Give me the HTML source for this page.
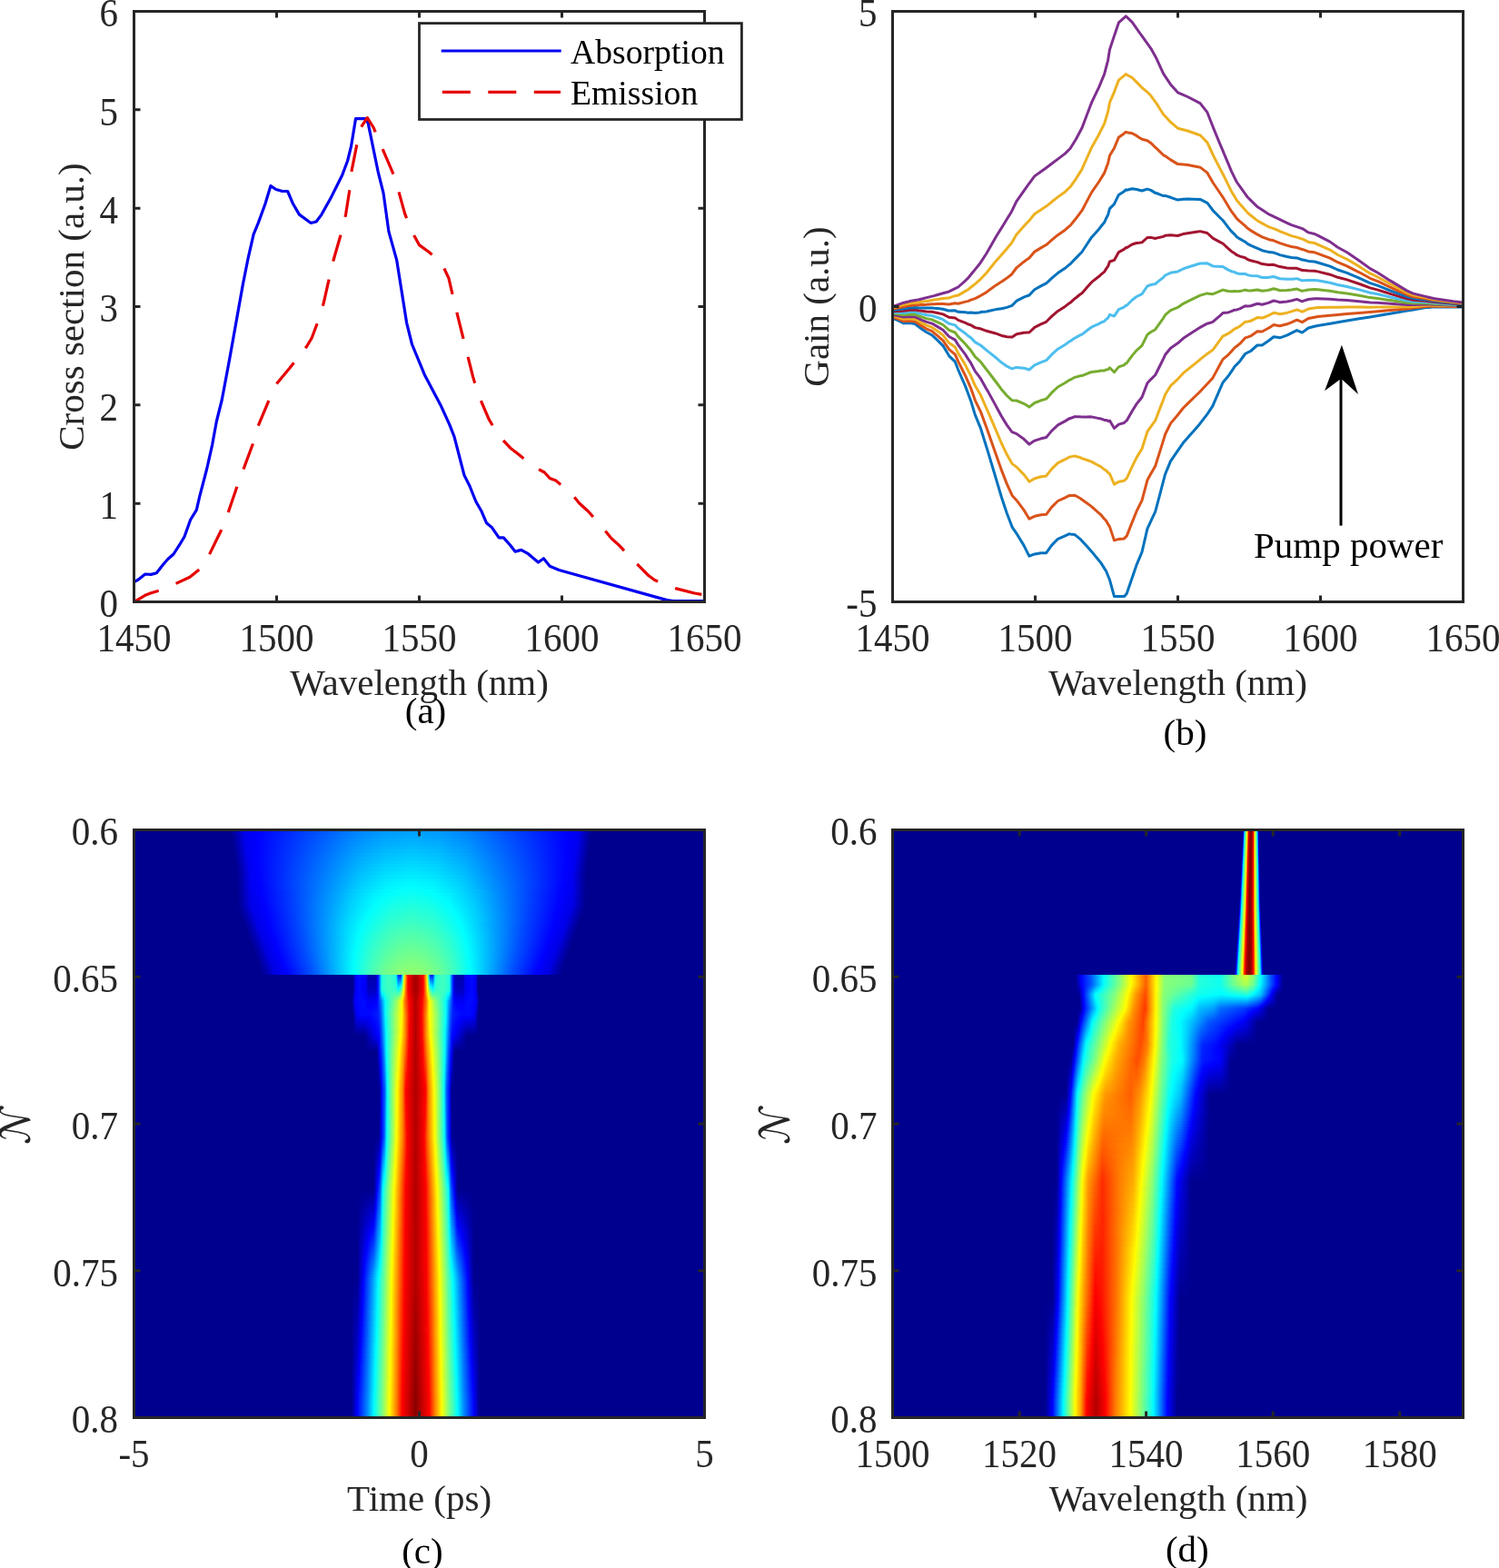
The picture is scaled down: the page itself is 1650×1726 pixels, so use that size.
<!DOCTYPE html>
<html><head><meta charset="utf-8"><title>figure</title>
<style>
html,body{margin:0;padding:0;background:#fff}
body{width:1650px;height:1726px;position:relative;overflow:hidden}
.hm{position:absolute;background:#00008f;overflow:hidden}
.hm i{position:absolute;display:block}
svg{position:absolute;left:0;top:0}
</style></head><body>
<div class="hm" style="left:147px;top:913px;width:629px;height:648px">
<i style="left:107px;top:0px;width:398px;height:6px;background:linear-gradient(90deg,#00008f 0.5px,#00a 5.5px,#0000ef 15.5px,#00f 29.5px,#0081ff 135.5px,#009aff 168.5px,#00a2ff 198.5px,#009aff 229.5px,#0081ff 262.5px,#00f 368.5px,#0000ef 382.5px,#00a 392.5px,#00008f 397.5px)"></i>
<i style="left:108px;top:6px;width:396px;height:4px;background:linear-gradient(90deg,#00008f 0.5px,#0000b3 6.5px,#00e 14.5px,#00f 27.5px,#0087ff 134.5px,#00a1ff 167.5px,#00a9ff 197.5px,#00a1ff 227.5px,#08f 260.5px,#00f 368.5px,#00e 381.5px,#0000b3 389.5px,#00008f 395.5px)"></i>
<i style="left:109px;top:10px;width:394px;height:4px;background:linear-gradient(90deg,#000091 0.5px,#0000f1 14.5px,#00f 26.5px,#008dff 134.5px,#00a7ff 166.5px,#00afff 196.5px,#00a7ff 226.5px,#008dff 259.5px,#00f 367.5px,#0000f1 379.5px,#000091 393.5px)"></i>
<i style="left:109px;top:14px;width:394px;height:4px;background:linear-gradient(90deg,#00008f 0.5px,#0000b3 6.5px,#00e 14.5px,#00f 26.5px,#0092ff 134.5px,#00acff 166.5px,#00b5ff 196.5px,#00adff 226.5px,#0093ff 258.5px,#00f 367.5px,#00e 379.5px,#0000b3 387.5px,#00008f 393.5px)"></i>
<i style="left:110px;top:18px;width:392px;height:4px;background:linear-gradient(90deg,#000090 0.5px,#0000f2 14.5px,#00f 25.5px,#0097ff 133.5px,#00b2ff 165.5px,#0bf 195.5px,#00b3ff 225.5px,#0098ff 257.5px,#00f 366.5px,#0000f2 377.5px,#000090 391.5px)"></i>
<i style="left:110px;top:22px;width:392px;height:4px;background:linear-gradient(90deg,#00008f 0.5px,#0000b3 6.5px,#0000ef 14.5px,#00f 25.5px,#009cff 134.5px,#00b9ff 166.5px,#00c2ff 195.5px,#00b9ff 225.5px,#009cff 257.5px,#00f 366.5px,#0000ef 377.5px,#0000b3 385.5px,#00008f 391.5px)"></i>
<i style="left:111px;top:26px;width:390px;height:4px;background:linear-gradient(90deg,#000090 0.5px,#0000f2 14.5px,#00f 24.5px,#00a1ff 133.5px,#00beff 165.5px,#00c8ff 194.5px,#00bfff 223.5px,#00a2ff 255.5px,#00f 365.5px,#0000f2 375.5px,#000090 389.5px)"></i>
<i style="left:111px;top:30px;width:390px;height:4px;background:linear-gradient(90deg,#00008f 0.5px,#0000b3 6.5px,#0000ef 14.5px,#00f 24.5px,#00a7ff 134.5px,#00c4ff 165.5px,#00ceff 194.5px,#00c5ff 223.5px,#00a7ff 255.5px,#00f 365.5px,#0000ef 375.5px,#0000b3 383.5px,#00008f 389.5px)"></i>
<i style="left:112px;top:34px;width:388px;height:4px;background:linear-gradient(90deg,#000090 0.5px,#0000bd 7.5px,#0000f2 14.5px,#00f 23.5px,#00adff 134.5px,#00caff 164.5px,#00d4ff 193.5px,#00cbff 222.5px,#00adff 253.5px,#00f 364.5px,#0000f2 373.5px,#0000bd 380.5px,#000090 387.5px)"></i>
<i style="left:112px;top:38px;width:388px;height:4px;background:linear-gradient(90deg,#00008f 0.5px,#0000b2 6.5px,#0000ef 14.5px,#0001ff 24.5px,#00b1ff 134.5px,#00d1ff 165.5px,#00dbff 193.5px,#00d1ff 222.5px,#00b3ff 252.5px,#0001ff 363.5px,#0000ef 373.5px,#0000b2 381.5px,#00008f 387.5px)"></i>
<i style="left:113px;top:42px;width:386px;height:4px;background:linear-gradient(90deg,#000090 0.5px,#0000bc 7.5px,#0000f2 14.5px,#00f 23.5px,#00b7ff 134.5px,#00d6ff 164.5px,#00e1ff 192.5px,#00d6ff 221.5px,#00b7ff 251.5px,#00f 362.5px,#0000f2 371.5px,#0000bc 378.5px,#000090 385.5px)"></i>
<i style="left:113px;top:46px;width:386px;height:4px;background:linear-gradient(90deg,#00008f 0.5px,#0000b2 6.5px,#00e 14.5px,#0000fe 23.5px,#00bcff 134.5px,#00dcff 164.5px,#00e7ff 192.5px,#0df 220.5px,#00bdff 250.5px,#0000fe 362.5px,#00e 371.5px,#0000b2 379.5px,#00008f 385.5px)"></i>
<i style="left:113px;top:50px;width:386px;height:4px;background:linear-gradient(90deg,#00008f 0.5px,#00a 5.5px,#0000f2 15.5px,#00f 24.5px,#00c2ff 135.5px,#00e2ff 164.5px,#00edff 192.5px,#00e3ff 220.5px,#00c2ff 250.5px,#00f 361.5px,#0000f2 370.5px,#00a 380.5px,#00008f 385.5px)"></i>
<i style="left:113px;top:54px;width:386px;height:4px;background:linear-gradient(90deg,#00008f 0.5px,#0000b0 6.5px,#0000f1 15.5px,#0001ff 25.5px,#00c6ff 135.5px,#00e8ff 164.5px,#00f3ff 192.5px,#00e9ff 220.5px,#00c8ff 249.5px,#0001ff 360.5px,#0000f1 370.5px,#0000b0 379.5px,#00008f 385.5px)"></i>
<i style="left:114px;top:58px;width:384px;height:4px;background:linear-gradient(90deg,#000090 0.5px,#0000bc 7.5px,#0000f0 14.5px,#00f 24.5px,#0cf 135.5px,#0ef 164.5px,#00faff 191.5px,#00efff 218.5px,#00ceff 247.5px,#00f 359.5px,#0000f0 369.5px,#0000bc 376.5px,#000090 383.5px)"></i>
<i style="left:114px;top:62px;width:384px;height:4px;background:linear-gradient(90deg,#000090 0.5px,#0000ba 7.5px,#00e 14.5px,#00f 25.5px,#00d2ff 136.5px,#00f5ff 165.5px,#01fffe 191.5px,#00f6ff 217.5px,#00d4ff 246.5px,#00f 358.5px,#00e 369.5px,#0000ba 376.5px,#000090 383.5px)"></i>
<i style="left:114px;top:66px;width:384px;height:4px;background:linear-gradient(90deg,#00008f 0.5px,#0000b9 7.5px,#0000ed 14.5px,#0001ff 26.5px,#03f 54.5px,#00cdff 130.5px,#00f2ff 156.5px,#03fffc 175.5px,#07fff8 193.5px,#00feff 213.5px,#00e4ff 238.5px,#00b5ff 266.5px,#0037ff 327.5px,#0001ff 357.5px,#0000ed 369.5px,#0000b9 376.5px,#00008f 383.5px)"></i>
<i style="left:114px;top:70px;width:384px;height:4px;background:linear-gradient(90deg,#00008f 0.5px,#0000b8 7.5px,#0000ea 14.5px,#0001ff 27.5px,#0037ff 56.5px,#00cbff 127.5px,#00f0ff 150.5px,#02fffd 166.5px,#0dfff2 192.5px,#02fffd 218.5px,#00efff 234.5px,#00beff 263.5px,#0039ff 326.5px,#0001ff 356.5px,#0000ea 369.5px,#0000b8 376.5px,#00008f 383.5px)"></i>
<i style="left:114px;top:74px;width:384px;height:4px;background:linear-gradient(90deg,#00008f 0.5px,#0000b6 7.5px,#0000e8 14.5px,#0000fe 27.5px,#0036ff 56.5px,#00cdff 126.5px,#00efff 146.5px,#02fffd 160.5px,#0ffff0 176.5px,#13ffec 192.5px,#0ffff0 207.5px,#02fffd 223.5px,#00f8ff 231.5px,#00c3ff 262.5px,#003aff 325.5px,#0001ff 355.5px,#0000e8 369.5px,#0000b6 376.5px,#00008f 383.5px)"></i>
<i style="left:114px;top:78px;width:384px;height:4px;background:linear-gradient(90deg,#00008f 0.5px,#0000ae 6.5px,#0000e6 14.5px,#0000fe 28.5px,#003aff 58.5px,#00cfff 125.5px,#00f3ff 145.5px,#03fffc 156.5px,#15ffea 175.5px,#1affe5 193.5px,#13ffec 210.5px,#00fdff 231.5px,#00c9ff 261.5px,#003cff 324.5px,#0001ff 354.5px,#0000ea 368.5px,#0000ae 377.5px,#00008f 383.5px)"></i>
<i style="left:114px;top:82px;width:384px;height:4px;background:linear-gradient(90deg,#00008f 0.5px,#0000ad 6.5px,#0000e8 15.5px,#0000fe 29.5px,#003bff 59.5px,#00d2ff 125.5px,#03fffc 152.5px,#19ffe6 172.5px,#20ffdf 192.5px,#19ffe6 211.5px,#00fdff 234.5px,#0cf 261.5px,#003fff 322.5px,#0001ff 353.5px,#0000e8 368.5px,#0000ad 377.5px,#00008f 383.5px)"></i>
<i style="left:115px;top:86px;width:382px;height:3px;background:linear-gradient(90deg,#00008f 0.5px,#0000ac 6.5px,#0000e8 15.5px,#00f 29.5px,#003eff 60.5px,#00d3ff 123.5px,#03fffc 148.5px,#1dffe2 170.5px,#25ffda 191.5px,#1cffe3 212.5px,#00feff 235.5px,#00d1ff 259.5px,#003eff 321.5px,#00f 352.5px,#0000e8 366.5px,#0000ac 375.5px,#00008f 381.5px)"></i>
<i style="left:116px;top:89px;width:380px;height:3px;background:linear-gradient(90deg,#00008f 0.5px,#0000ac 6.5px,#0000e8 15.5px,#00f 29.5px,#0040ff 60.5px,#00d5ff 122.5px,#01fffe 144.5px,#20ffdf 168.5px,#2affd5 190.5px,#20ffdf 212.5px,#00feff 236.5px,#00d3ff 258.5px,#0040ff 319.5px,#00f 350.5px,#0000e8 364.5px,#0000ac 373.5px,#00008f 379.5px)"></i>
<i style="left:117px;top:92px;width:378px;height:3px;background:linear-gradient(90deg,#00008f 0.5px,#0000ac 6.5px,#0000e7 15.5px,#00f 29.5px,#0041ff 60.5px,#00d7ff 121.5px,#01fffe 141.5px,#24ffdb 166.5px,#2fffd0 189.5px,#23ffdc 212.5px,#00feff 237.5px,#00caff 262.5px,#0038ff 321.5px,#00f 348.5px,#0000e7 362.5px,#0000ac 371.5px,#00008f 377.5px)"></i>
<i style="left:119px;top:95px;width:374px;height:3px;background:linear-gradient(90deg,#000091 0.5px,#0000b8 7.5px,#0000e7 14.5px,#0001ff 28.5px,#0043ff 59.5px,#00dcff 120.5px,#03fffc 138.5px,#27ffd8 163.5px,#3fc 187.5px,#26ffd9 211.5px,#00feff 237.5px,#00cbff 260.5px,#003cff 317.5px,#0001ff 345.5px,#0000e7 359.5px,#0000b8 366.5px,#000091 373.5px)"></i>
<i style="left:120px;top:98px;width:372px;height:3px;background:linear-gradient(90deg,#000091 0.5px,#0000b7 7.5px,#0000e7 14.5px,#0001ff 28.5px,#003bff 55.5px,#00d2ff 114.5px,#02fffd 135.5px,#2bffd4 161.5px,#38ffc7 186.5px,#2bffd4 210.5px,#0ff 237.5px,#00cdff 259.5px,#0040ff 314.5px,#0001ff 343.5px,#0000e7 357.5px,#0000b7 364.5px,#000091 371.5px)"></i>
<i style="left:121px;top:101px;width:370px;height:3px;background:linear-gradient(90deg,#000090 0.5px,#0000b7 7.5px,#0000e7 14.5px,#0000fe 27.5px,#003eff 56.5px,#00d1ff 112.5px,#01fffe 132.5px,#2fffd0 160.5px,#3dffc2 185.5px,#2effd1 210.5px,#00feff 238.5px,#0041ff 312.5px,#0000fe 342.5px,#0000e7 355.5px,#0000b7 362.5px,#000090 369.5px)"></i>
<i style="left:122px;top:104px;width:368px;height:3px;background:linear-gradient(90deg,#000090 0.5px,#0000b6 7.5px,#0000e7 14.5px,#0000fe 27.5px,#0040ff 56.5px,#00d6ff 112.5px,#02fffd 130.5px,#32ffcd 158.5px,#41ffbe 184.5px,#31ffce 210.5px,#00feff 238.5px,#0042ff 310.5px,#0000fe 340.5px,#0000e7 353.5px,#0000b6 360.5px,#000090 367.5px)"></i>
<i style="left:123px;top:107px;width:366px;height:3px;background:linear-gradient(90deg,#000090 0.5px,#0000b6 7.5px,#0000e6 14.5px,#00f 27.5px,#0041ff 56.5px,#00d7ff 111.5px,#02fffd 128.5px,#36ffc9 157.5px,#42ffbd 170.5px,#46ffb9 183.5px,#41ffbe 196.5px,#35ffca 209.5px,#0ff 238.5px,#0043ff 308.5px,#00f 338.5px,#0000e6 351.5px,#0000b6 358.5px,#000090 365.5px)"></i>
<i style="left:124px;top:110px;width:364px;height:3px;background:linear-gradient(90deg,#000090 0.5px,#0000b5 7.5px,#0000e6 14.5px,#00f 27.5px,#0042ff 56.5px,#00dcff 111.5px,#03fffc 126.5px,#39ffc6 155.5px,#47ffb8 169.5px,#4affb5 182.5px,#46ffb9 195.5px,#38ffc7 209.5px,#0ff 238.5px,#0047ff 305.5px,#00f 336.5px,#0000e6 349.5px,#0000b5 356.5px,#000090 363.5px)"></i>
<i style="left:125px;top:113px;width:362px;height:3px;background:linear-gradient(90deg,#000090 0.5px,#0000b5 7.5px,#0000e5 14.5px,#00f 27.5px,#0043ff 56.5px,#0df 110.5px,#03fffc 124.5px,#26ffd9 140.5px,#3dffc2 154.5px,#4bffb4 168.5px,#4fffb0 181.5px,#4affb5 194.5px,#3cffc3 208.5px,#24ffdb 222.5px,#0ff 238.5px,#0049ff 303.5px,#00f 334.5px,#0000e5 347.5px,#0000b5 354.5px,#000090 361.5px)"></i>
<i style="left:126px;top:116px;width:360px;height:3px;background:linear-gradient(90deg,#000090 0.5px,#0000b4 7.5px,#0000e5 14.5px,#00f 27.5px,#0047ff 57.5px,#00deff 109.5px,#03fffc 122.5px,#28ffd7 138.5px,#40ffbf 152.5px,#4fffb0 166.5px,#54ffab 180.5px,#4fffb0 193.5px,#40ffbf 207.5px,#25ffda 222.5px,#0ff 238.5px,#004aff 301.5px,#00f 332.5px,#0000e5 345.5px,#0000b4 352.5px,#000090 359.5px)"></i>
<i style="left:127px;top:119px;width:358px;height:3px;background:linear-gradient(90deg,#000090 0.5px,#0000b4 7.5px,#0000e4 14.5px,#00f 27.5px,#0048ff 57.5px,#02fffd 120.5px,#29ffd6 136.5px,#4fb 151.5px,#53ffac 165.5px,#58ffa7 179.5px,#53ffac 193.5px,#42ffbd 207.5px,#29ffd6 221.5px,#0ff 238.5px,#004bff 299.5px,#00f 330.5px,#0000e4 343.5px,#0000b4 350.5px,#000090 357.5px)"></i>
<i style="left:128px;top:122px;width:356px;height:3px;background:linear-gradient(90deg,#000090 0.5px,#0000b3 7.5px,#0000e4 14.5px,#00f 27.5px,#004aff 57.5px,#02fffd 118.5px,#2affd5 134.5px,#46ffb9 149.5px,#57ffa8 163.5px,#5dffa2 177.5px,#58ffa7 191.5px,#48ffb7 205.5px,#2cffd3 220.5px,#02fffd 237.5px,#004aff 298.5px,#00f 328.5px,#0000e4 341.5px,#0000b3 348.5px,#000090 355.5px)"></i>
<i style="left:129px;top:125px;width:354px;height:3px;background:linear-gradient(90deg,#00008f 0.5px,#0000b3 7.5px,#0000e3 14.5px,#0000fe 27.5px,#004eff 58.5px,#01fffe 116.5px,#2dffd2 133.5px,#4affb5 148.5px,#5cffa3 162.5px,#62ff9d 176.5px,#5cffa3 190.5px,#4affb5 205.5px,#2dffd2 220.5px,#01fffe 237.5px,#004eff 295.5px,#0000fe 326.5px,#0000e3 339.5px,#0000b3 346.5px,#00008f 353.5px)"></i>
<i style="left:130px;top:128px;width:352px;height:3px;background:linear-gradient(90deg,#00008f 0.5px,#0000b2 7.5px,#0000e2 14.5px,#0000fe 27.5px,#004cff 57.5px,#03fffc 115.5px,#30ffcf 132.5px,#4effb1 147.5px,#61ff9e 162.5px,#6f9 176.5px,#60ff9f 190.5px,#4effb1 204.5px,#30ffcf 219.5px,#0ff 237.5px,#004fff 293.5px,#0000fe 324.5px,#0000e2 337.5px,#0000b2 344.5px,#00008f 351.5px)"></i>
<i style="left:131px;top:131px;width:350px;height:3px;background:linear-gradient(90deg,#00008f 0.5px,#0000ac 6.5px,#0000e6 15.5px,#0000fe 27.5px,#004dff 57.5px,#01fffe 113.5px,#3fc 131.5px,#52ffad 146.5px,#64ff9b 160.5px,#6bff94 174.5px,#65ff9a 188.5px,#52ffad 203.5px,#3fc 218.5px,#01fffe 236.5px,#004dff 292.5px,#0000fe 322.5px,#0000e6 334.5px,#0000ac 343.5px,#00008f 349.5px)"></i>
<i style="left:132px;top:134px;width:348px;height:3px;background:linear-gradient(90deg,#00008f 0.5px,#0000ab 6.5px,#0000e6 15.5px,#0001ff 28.5px,#004eff 57.5px,#03fffc 112.5px,#36ffc9 130.5px,#56ffa9 145.5px,#6aff95 160.5px,#70ff8f 174.5px,#69ff96 188.5px,#54ffab 203.5px,#3fc 218.5px,#0ff 236.5px,#0054ff 288.5px,#0001ff 319.5px,#0000e6 332.5px,#0000ab 341.5px,#00008f 347.5px)"></i>
<i style="left:133px;top:137px;width:346px;height:3px;background:linear-gradient(90deg,#00008f 0.5px,#0000ab 6.5px,#0000e5 15.5px,#0001ff 28.5px,#0052ff 58.5px,#01fffe 110.5px,#36ffc9 128.5px,#58ffa7 143.5px,#6dff92 158.5px,#74ff8b 172.5px,#6eff91 186.5px,#5affa5 201.5px,#36ffc9 217.5px,#01fffe 235.5px,#0052ff 287.5px,#0001ff 317.5px,#0000e5 330.5px,#0000ab 339.5px,#00008f 345.5px)"></i>
<i style="left:134px;top:140px;width:344px;height:3px;background:linear-gradient(90deg,#00008f 0.5px,#00a 6.5px,#0000e4 15.5px,#0001ff 28.5px,#0053ff 58.5px,#02fffd 109.5px,#39ffc6 127.5px,#5effa1 143.5px,#73ff8c 158.5px,#79ff86 172.5px,#72ff8d 186.5px,#5cffa3 201.5px,#39ffc6 216.5px,#00feff 235.5px,#0056ff 284.5px,#0001ff 315.5px,#0000e4 328.5px,#00a 337.5px,#00008f 343.5px)"></i>
<i style="left:135px;top:143px;width:342px;height:3px;background:linear-gradient(90deg,#00008f 0.5px,#00a 6.5px,#0000e4 15.5px,#00f 28.5px,#0051ff 57.5px,#04fffb 108.5px,#3bffc4 126.5px,#61ff9e 142.5px,#7f8 157.5px,#7eff81 171.5px,#76ff89 185.5px,#5fffa0 200.5px,#39ffc6 216.5px,#0ff 234.5px,#0054ff 283.5px,#00f 313.5px,#0000e4 326.5px,#00a 335.5px,#00008f 341.5px)"></i>
<i style="left:137px;top:146px;width:338px;height:3px;background:linear-gradient(90deg,#000091 0.5px,#0000b4 7.5px,#0000e3 14.5px,#00f 27.5px,#05f 57.5px,#01fffe 105.5px,#3bffc4 123.5px,#63ff9c 139.5px,#7bff84 154.5px,#82ff7d 168.5px,#7cff83 182.5px,#65ff9a 197.5px,#3effc1 213.5px,#01fffe 232.5px,#05f 280.5px,#00f 310.5px,#0000e3 323.5px,#0000b4 330.5px,#000091 337.5px)"></i>
<i style="left:138px;top:149px;width:336px;height:3px;background:linear-gradient(90deg,#000091 0.5px,#0000b4 7.5px,#0000e2 14.5px,#0000fe 27.5px,#0052ff 56.5px,#02fffd 104.5px,#3effc1 122.5px,#67ff98 138.5px,#7fff80 153.5px,#87ff78 167.5px,#80ff7f 181.5px,#69ff96 196.5px,#41ffbe 212.5px,#02fffd 231.5px,#0052ff 279.5px,#0000fe 308.5px,#0000e2 321.5px,#0000b4 328.5px,#000091 335.5px)"></i>
<i style="left:139px;top:152px;width:334px;height:3px;background:linear-gradient(90deg,#000091 0.5px,#0000b3 7.5px,#0000e2 14.5px,#0000fe 27.5px,#0021ff 40.5px,#0053ff 56.5px,#03fffc 103.5px,#43ffbc 122.5px,#6dff92 138.5px,#85ff7a 153.5px,#8cff73 167.5px,#83ff7c 181.5px,#6aff95 196.5px,#43ffbc 211.5px,#00feff 231.5px,#0057ff 276.5px,#0024ff 292.5px,#0000fe 306.5px,#0000e2 319.5px,#0000b3 326.5px,#000091 333.5px)"></i>
<i style="left:139px;top:155px;width:334px;height:3px;background:linear-gradient(90deg,#00008f 0.5px,#0000a9 6.5px,#0000e1 15.5px,#0001ff 29.5px,#0054ff 57.5px,#03fffc 103.5px,#45ffba 122.5px,#70ff8f 138.5px,#89ff76 153.5px,#90ff6f 167.5px,#8f7 181.5px,#6eff91 196.5px,#42ffbd 212.5px,#0ff 231.5px,#005bff 274.5px,#0001ff 304.5px,#0000e1 318.5px,#0000a9 327.5px,#00008f 333.5px)"></i>
<i style="left:140px;top:158px;width:332px;height:2px;background:linear-gradient(90deg,#00008f 0.5px,#0000b0 7.5px,#0000de 14.5px,#0001ff 29.5px,#05f 57.5px,#04fffb 102.5px,#47ffb8 121.5px,#73ff8c 137.5px,#8dff72 152.5px,#94ff6b 166.5px,#8bff74 180.5px,#71ff8e 195.5px,#4fb 211.5px,#0ff 230.5px,#0059ff 273.5px,#0001ff 302.5px,#0000de 317.5px,#0000b0 324.5px,#00008f 331.5px)"></i>
<i style="left:241px;top:160px;width:139px;height:1px;background:linear-gradient(90deg,#00008f 0.5px,#0000f4 3.5px,#0000fe 5.5px,#0009ff 7.5px,#00f 10.5px,#0000f4 14.5px,#0000ae 17.5px,#0000ae 25.5px,#0000f4 27.5px,#0027ff 28.5px,#0059ff 29.5px,#00dfff 31.5px,#23ffdc 32.5px,#41ffbe 39.5px,#23ffdc 47.5px,#00ceff 48.5px,#0027ff 50.5px,#0027ff 53.5px,#00adff 54.5px,#36ffc9 55.5px,#c0ff3f 56.5px,#ffda00 57.5px,#ff1d00 60.5px,#f70000 61.5px,#b20000 67.5px,#a80000 69.5px,#b20000 71.5px,#f70000 77.5px,#ff1d00 78.5px,#ffda00 81.5px,#c0ff3f 82.5px,#36ffc9 83.5px,#00adff 84.5px,#0027ff 85.5px,#0027ff 88.5px,#00ceff 90.5px,#23ffdc 91.5px,#41ffbe 99.5px,#23ffdc 106.5px,#00dfff 107.5px,#0059ff 109.5px,#0027ff 110.5px,#0000f4 111.5px,#0000ae 113.5px,#0000ae 121.5px,#0000f4 124.5px,#00f 128.5px,#0009ff 131.5px,#0000fe 133.5px,#0000f4 135.5px,#00008f 138.5px)"></i>
<i style="left:241px;top:161px;width:139px;height:1px;background:linear-gradient(90deg,#00008f 0.5px,#0000f4 3.5px,#0000fe 5.5px,#0009ff 7.5px,#00f 10.5px,#0000f4 14.5px,#0000ae 17.5px,#0000ae 25.5px,#0000f4 27.5px,#0027ff 28.5px,#0059ff 29.5px,#00dfff 31.5px,#23ffdc 32.5px,#41ffbe 39.5px,#24ffdb 47.5px,#00d1ff 48.5px,#002eff 50.5px,#0030ff 53.5px,#00b4ff 54.5px,#3bffc4 55.5px,#c2ff3d 56.5px,#ffd900 57.5px,#ff1d00 60.5px,#f70000 61.5px,#b20000 67.5px,#a80000 69.5px,#b20000 71.5px,#f70000 77.5px,#ff1d00 78.5px,#ffd900 81.5px,#c2ff3d 82.5px,#3bffc4 83.5px,#00b4ff 84.5px,#0030ff 85.5px,#002eff 88.5px,#00d1ff 90.5px,#24ffdb 91.5px,#41ffbe 99.5px,#23ffdc 106.5px,#00dfff 107.5px,#0059ff 109.5px,#0027ff 110.5px,#0000f4 111.5px,#0000ae 113.5px,#0000ae 121.5px,#0000f4 124.5px,#00f 128.5px,#0009ff 131.5px,#0000fe 133.5px,#0000f4 135.5px,#00008f 138.5px)"></i>
<i style="left:241px;top:162px;width:139px;height:1px;background:linear-gradient(90deg,#00008f 0.5px,#0000f4 3.5px,#0000fe 5.5px,#0009ff 7.5px,#00f 10.5px,#0000f4 14.5px,#0000af 17.5px,#0000af 25.5px,#0000f4 27.5px,#0027ff 28.5px,#0059ff 29.5px,#00dfff 31.5px,#23ffdc 32.5px,#41ffbe 39.5px,#25ffda 47.5px,#00d7ff 48.5px,#003dff 50.5px,#0043ff 53.5px,#00c2ff 54.5px,#4fb 55.5px,#c6ff39 56.5px,#ffd700 57.5px,#ff1d00 60.5px,#f70000 61.5px,#b20000 67.5px,#a80000 69.5px,#b20000 71.5px,#f70000 77.5px,#ff1d00 78.5px,#ffd700 81.5px,#c6ff39 82.5px,#4fb 83.5px,#00c2ff 84.5px,#0043ff 85.5px,#003dff 88.5px,#00d7ff 90.5px,#25ffda 91.5px,#41ffbe 99.5px,#23ffdc 106.5px,#00dfff 107.5px,#0059ff 109.5px,#0027ff 110.5px,#0000f4 111.5px,#0000af 113.5px,#0000af 121.5px,#0000f4 124.5px,#00f 128.5px,#0009ff 131.5px,#0000fe 133.5px,#0000f4 135.5px,#00008f 138.5px)"></i>
<i style="left:241px;top:163px;width:139px;height:1px;background:linear-gradient(90deg,#00008f 0.5px,#0000f4 3.5px,#0000fe 5.5px,#0009ff 7.5px,#00f 10.5px,#0000f4 14.5px,#0000b1 17.5px,#0000b1 25.5px,#0000f4 27.5px,#0027ff 28.5px,#0059ff 29.5px,#00dfff 31.5px,#23ffdc 32.5px,#41ffbe 39.5px,#26ffd9 47.5px,#0df 48.5px,#004bff 50.5px,#0056ff 53.5px,#00d0ff 54.5px,#4dffb2 55.5px,#cbff34 56.5px,#ffd500 57.5px,#ff1c00 60.5px,#f70000 61.5px,#b20000 67.5px,#a80000 69.5px,#b20000 71.5px,#f70000 77.5px,#ff1c00 78.5px,#ffd500 81.5px,#cbff34 82.5px,#4dffb2 83.5px,#00d0ff 84.5px,#0056ff 85.5px,#004bff 88.5px,#0df 90.5px,#26ffd9 91.5px,#41ffbe 99.5px,#23ffdc 106.5px,#00dfff 107.5px,#0059ff 109.5px,#0027ff 110.5px,#0000f4 111.5px,#0000b1 113.5px,#0000b1 121.5px,#0000f4 124.5px,#00f 128.5px,#0009ff 131.5px,#0000fe 133.5px,#0000f4 135.5px,#00008f 138.5px)"></i>
<i style="left:241px;top:164px;width:139px;height:1px;background:linear-gradient(90deg,#00008f 0.5px,#0000f4 3.5px,#0000fe 5.5px,#0009ff 7.5px,#00f 10.5px,#0000f4 14.5px,#0000b2 17.5px,#0000b2 25.5px,#0000f4 27.5px,#0027ff 28.5px,#0059ff 29.5px,#00dfff 31.5px,#23ffdc 32.5px,#41ffbe 39.5px,#27ffd8 47.5px,#00e2ff 48.5px,#005aff 50.5px,#0069ff 53.5px,#00deff 54.5px,#56ffa9 55.5px,#cfff30 56.5px,#ffd300 57.5px,#ff1c00 60.5px,#f70000 61.5px,#b20000 67.5px,#a80000 69.5px,#b20000 71.5px,#f70000 77.5px,#ff1c00 78.5px,#ffd300 81.5px,#cfff30 82.5px,#56ffa9 83.5px,#00deff 84.5px,#0069ff 85.5px,#005aff 88.5px,#00e2ff 90.5px,#27ffd8 91.5px,#41ffbe 99.5px,#23ffdc 106.5px,#00dfff 107.5px,#0059ff 109.5px,#0027ff 110.5px,#0000f4 111.5px,#0000b2 113.5px,#0000b2 121.5px,#0000f4 124.5px,#00f 128.5px,#0009ff 131.5px,#0000fe 133.5px,#0000f4 135.5px,#00008f 138.5px)"></i>
<i style="left:241px;top:165px;width:139px;height:1px;background:linear-gradient(90deg,#00008f 0.5px,#0000f4 3.5px,#0000fe 5.5px,#0009ff 7.5px,#00f 10.5px,#0000f4 14.5px,#0000b3 17.5px,#0000b3 25.5px,#0000f4 27.5px,#0027ff 28.5px,#0059ff 29.5px,#00dfff 31.5px,#23ffdc 32.5px,#41ffbe 39.5px,#29ffd6 47.5px,#00e8ff 48.5px,#0068ff 50.5px,#007cff 53.5px,#00ecff 54.5px,#60ff9f 55.5px,#d3ff2c 56.5px,#ffd100 57.5px,#ff1c00 60.5px,#f70000 61.5px,#b20000 67.5px,#a80000 69.5px,#b20000 71.5px,#f70000 77.5px,#ff1c00 78.5px,#ffd100 81.5px,#d3ff2c 82.5px,#60ff9f 83.5px,#00ecff 84.5px,#007cff 85.5px,#0068ff 88.5px,#00e8ff 90.5px,#29ffd6 91.5px,#41ffbe 99.5px,#23ffdc 106.5px,#00dfff 107.5px,#0059ff 109.5px,#0027ff 110.5px,#0000f4 111.5px,#0000b3 113.5px,#0000b3 121.5px,#0000f4 124.5px,#00f 128.5px,#0009ff 131.5px,#0000fe 133.5px,#0000f4 135.5px,#00008f 138.5px)"></i>
<i style="left:241px;top:166px;width:139px;height:1px;background:linear-gradient(90deg,#00008f 0.5px,#0000f4 3.5px,#0000fe 5.5px,#0009ff 7.5px,#00f 10.5px,#0000f4 14.5px,#0000b4 17.5px,#0000b4 25.5px,#0000f4 27.5px,#0027ff 28.5px,#0059ff 29.5px,#00dfff 31.5px,#23ffdc 32.5px,#41ffbe 39.5px,#2affd5 47.5px,#00edff 48.5px,#0076ff 50.5px,#008fff 53.5px,#00fbff 54.5px,#d8ff27 56.5px,#ffcf00 57.5px,#ff1b00 60.5px,#f70000 61.5px,#b20000 67.5px,#a80000 69.5px,#b20000 71.5px,#f70000 77.5px,#ff1b00 78.5px,#ffcf00 81.5px,#d8ff27 82.5px,#00fbff 84.5px,#008fff 85.5px,#0076ff 88.5px,#00edff 90.5px,#2affd5 91.5px,#41ffbe 99.5px,#23ffdc 106.5px,#00dfff 107.5px,#0059ff 109.5px,#0027ff 110.5px,#0000f4 111.5px,#0000b4 113.5px,#0000b4 121.5px,#0000f4 124.5px,#00f 128.5px,#0009ff 131.5px,#0000fe 133.5px,#0000f4 135.5px,#00008f 138.5px)"></i>
<i style="left:241px;top:167px;width:139px;height:1px;background:linear-gradient(90deg,#00008f 0.5px,#0000f4 3.5px,#0000fe 5.5px,#0009ff 7.5px,#00f 10.5px,#0000f4 14.5px,#0000b6 17.5px,#0000b6 25.5px,#0000f4 27.5px,#0027ff 28.5px,#0059ff 29.5px,#00dfff 31.5px,#23ffdc 32.5px,#41ffbe 39.5px,#2bffd4 47.5px,#00f3ff 48.5px,#0085ff 50.5px,#00a1ff 53.5px,#0afff5 54.5px,#dcff23 56.5px,#ffcd00 57.5px,#ff1b00 60.5px,#f70000 61.5px,#b20000 67.5px,#a80000 69.5px,#b20000 71.5px,#f70000 77.5px,#ff1b00 78.5px,#ffcd00 81.5px,#dcff23 82.5px,#0afff5 84.5px,#00a1ff 85.5px,#0085ff 88.5px,#00f3ff 90.5px,#2bffd4 91.5px,#41ffbe 99.5px,#23ffdc 106.5px,#00dfff 107.5px,#0059ff 109.5px,#0027ff 110.5px,#0000f4 111.5px,#0000b6 113.5px,#0000b6 121.5px,#0000f4 124.5px,#00f 128.5px,#0009ff 131.5px,#0000fe 133.5px,#0000f4 135.5px,#00008f 138.5px)"></i>
<i style="left:241px;top:168px;width:139px;height:1px;background:linear-gradient(90deg,#00008f 0.5px,#0000f4 3.5px,#0000fe 5.5px,#0009ff 7.5px,#00f 10.5px,#0000f4 14.5px,#0000b7 17.5px,#0000b7 25.5px,#0000f4 27.5px,#0027ff 28.5px,#0059ff 29.5px,#00dfff 31.5px,#23ffdc 32.5px,#41ffbe 39.5px,#2cffd3 47.5px,#00f9ff 48.5px,#0093ff 50.5px,#00b4ff 53.5px,#18ffe7 54.5px,#e0ff1f 56.5px,#ffcb00 57.5px,#ff1a00 60.5px,#f70000 61.5px,#b20000 67.5px,#a80000 69.5px,#b20000 71.5px,#f70000 77.5px,#ff1a00 78.5px,#ffcb00 81.5px,#e0ff1f 82.5px,#18ffe7 84.5px,#00b4ff 85.5px,#0093ff 88.5px,#00f9ff 90.5px,#2cffd3 91.5px,#41ffbe 99.5px,#23ffdc 106.5px,#00dfff 107.5px,#0059ff 109.5px,#0027ff 110.5px,#0000f4 111.5px,#0000b7 113.5px,#0000b7 121.5px,#0000f4 124.5px,#00f 128.5px,#0009ff 131.5px,#0000fe 133.5px,#0000f4 135.5px,#00008f 138.5px)"></i>
<i style="left:241px;top:169px;width:139px;height:1px;background:linear-gradient(90deg,#00008f 0.5px,#0000f4 3.5px,#0000fe 5.5px,#0009ff 7.5px,#00f 10.5px,#0000f4 14.5px,#0000b8 17.5px,#0000b8 25.5px,#0000f4 27.5px,#0027ff 28.5px,#0059ff 29.5px,#00dfff 31.5px,#23ffdc 32.5px,#41ffbe 39.5px,#2effd1 47.5px,#00feff 48.5px,#00a2ff 50.5px,#00c7ff 53.5px,#26ffd9 54.5px,#e5ff1a 56.5px,#ffc900 57.5px,#ff8a00 58.5px,#ff1a00 60.5px,#f70000 61.5px,#b20000 67.5px,#a80000 69.5px,#b20000 71.5px,#f70000 77.5px,#ff1a00 78.5px,#ff8a00 80.5px,#ffc900 81.5px,#e5ff1a 82.5px,#26ffd9 84.5px,#00c7ff 85.5px,#00a2ff 88.5px,#00feff 90.5px,#2effd1 91.5px,#41ffbe 99.5px,#23ffdc 106.5px,#00dfff 107.5px,#0059ff 109.5px,#0027ff 110.5px,#0000f4 111.5px,#0000b8 113.5px,#0000b8 121.5px,#0000f4 124.5px,#00f 128.5px,#0009ff 131.5px,#0000fe 133.5px,#0000f4 135.5px,#00008f 138.5px)"></i>
<i style="left:241px;top:170px;width:139px;height:1px;background:linear-gradient(90deg,#00008f 0.5px,#0000f4 3.5px,#0000fe 5.5px,#0009ff 7.5px,#00f 10.5px,#0000f4 14.5px,#0000b9 17.5px,#0000b9 25.5px,#0000f4 27.5px,#0027ff 28.5px,#0059ff 29.5px,#00dfff 31.5px,#23ffdc 32.5px,#41ffbe 39.5px,#2fffd0 47.5px,#05fffa 48.5px,#00b0ff 50.5px,#00daff 53.5px,#34ffcb 54.5px,#e9ff16 56.5px,#ffc700 57.5px,#f80 58.5px,#ff1a00 60.5px,#f70000 61.5px,#b20000 67.5px,#a80000 69.5px,#b20000 71.5px,#f70000 77.5px,#ff1a00 78.5px,#f80 80.5px,#ffc700 81.5px,#e9ff16 82.5px,#34ffcb 84.5px,#00daff 85.5px,#00b0ff 88.5px,#05fffa 90.5px,#2fffd0 91.5px,#41ffbe 99.5px,#23ffdc 106.5px,#00dfff 107.5px,#0059ff 109.5px,#0027ff 110.5px,#0000f4 111.5px,#0000b9 113.5px,#0000b9 121.5px,#0000f4 124.5px,#00f 128.5px,#0009ff 131.5px,#0000fe 133.5px,#0000f4 135.5px,#00008f 138.5px)"></i>
<i style="left:241px;top:171px;width:139px;height:1px;background:linear-gradient(90deg,#00008f 0.5px,#0000f4 3.5px,#0000fe 5.5px,#0009ff 7.5px,#00f 10.5px,#0000f4 14.5px,#00b 17.5px,#00b 25.5px,#0000f4 27.5px,#0027ff 28.5px,#0059ff 29.5px,#00dfff 31.5px,#23ffdc 32.5px,#41ffbe 39.5px,#30ffcf 47.5px,#0bfff4 48.5px,#00e4ff 49.5px,#00bfff 50.5px,#00edff 53.5px,#42ffbd 54.5px,#edff12 56.5px,#ffc500 57.5px,#ff8600 58.5px,#ff1900 60.5px,#f70000 61.5px,#b20000 67.5px,#a80000 69.5px,#b20000 71.5px,#f70000 77.5px,#ff1900 78.5px,#ff8600 80.5px,#ffc500 81.5px,#edff12 82.5px,#42ffbd 84.5px,#00edff 85.5px,#00bfff 88.5px,#00e4ff 89.5px,#0bfff4 90.5px,#30ffcf 91.5px,#41ffbe 99.5px,#23ffdc 106.5px,#00dfff 107.5px,#0059ff 109.5px,#0027ff 110.5px,#0000f4 111.5px,#00b 113.5px,#00b 121.5px,#0000f4 124.5px,#00f 128.5px,#0009ff 131.5px,#0000fe 133.5px,#0000f4 135.5px,#00008f 138.5px)"></i>
<i style="left:241px;top:172px;width:139px;height:1px;background:linear-gradient(90deg,#00008f 0.5px,#0000f4 3.5px,#0000fe 5.5px,#0009ff 7.5px,#00f 10.5px,#0000f4 14.5px,#0000bc 17.5px,#0000bc 25.5px,#0000f4 27.5px,#0027ff 28.5px,#0059ff 29.5px,#00dfff 31.5px,#23ffdc 32.5px,#41ffbe 39.5px,#31ffce 47.5px,#10ffef 48.5px,#0ef 49.5px,#00cdff 50.5px,#01fffe 53.5px,#f2ff0d 56.5px,#ffc300 57.5px,#ff8400 58.5px,#ff1900 60.5px,#f70000 61.5px,#b20000 67.5px,#a80000 69.5px,#b20000 71.5px,#f70000 77.5px,#ff1900 78.5px,#ff8400 80.5px,#ffc300 81.5px,#f2ff0d 82.5px,#01fffe 85.5px,#00cdff 88.5px,#0ef 89.5px,#10ffef 90.5px,#31ffce 91.5px,#41ffbe 99.5px,#23ffdc 106.5px,#00dfff 107.5px,#0059ff 109.5px,#0027ff 110.5px,#0000f4 111.5px,#0000bc 113.5px,#0000bc 121.5px,#0000f4 124.5px,#00f 128.5px,#0009ff 131.5px,#0000fe 133.5px,#0000f4 135.5px,#00008f 138.5px)"></i>
<i style="left:241px;top:173px;width:139px;height:1px;background:linear-gradient(90deg,#00008f 0.5px,#0000f4 3.5px,#0000fe 5.5px,#0009ff 7.5px,#00f 10.5px,#0000f4 14.5px,#0000bd 17.5px,#0000bd 25.5px,#0000f4 27.5px,#0027ff 28.5px,#0059ff 29.5px,#00dfff 31.5px,#23ffdc 32.5px,#41ffbe 39.5px,#3fc 47.5px,#00f8ff 49.5px,#00dbff 50.5px,#01fffe 52.5px,#13ffec 53.5px,#f6ff09 56.5px,#ffc100 57.5px,#ff8200 58.5px,#ff1800 60.5px,#f70000 61.5px,#b20000 67.5px,#a80000 69.5px,#b20000 71.5px,#f70000 77.5px,#ff1800 78.5px,#ff8200 80.5px,#ffc100 81.5px,#f6ff09 82.5px,#13ffec 85.5px,#01fffe 86.5px,#00dbff 88.5px,#00f8ff 89.5px,#3fc 91.5px,#41ffbe 99.5px,#23ffdc 106.5px,#00dfff 107.5px,#0059ff 109.5px,#0027ff 110.5px,#0000f4 111.5px,#0000bd 113.5px,#0000bd 121.5px,#0000f4 124.5px,#00f 128.5px,#0009ff 131.5px,#0000fe 133.5px,#0000f4 135.5px,#00008f 138.5px)"></i>
<i style="left:241px;top:174px;width:139px;height:1px;background:linear-gradient(90deg,#00008f 0.5px,#0000f4 3.5px,#0000fe 5.5px,#0009ff 7.5px,#00f 10.5px,#0000f4 14.5px,#0000bf 17.5px,#0000bf 25.5px,#0000f4 27.5px,#0027ff 28.5px,#0059ff 29.5px,#00dfff 31.5px,#23ffdc 32.5px,#41ffbe 39.5px,#34ffcb 47.5px,#03fffc 49.5px,#00eaff 50.5px,#00feff 51.5px,#26ffd9 53.5px,#faff05 56.5px,#ff8000 58.5px,#ff1800 60.5px,#f70000 61.5px,#b20000 67.5px,#a80000 69.5px,#b20000 71.5px,#f70000 77.5px,#ff1800 78.5px,#ff8000 80.5px,#ffbf00 81.5px,#faff05 82.5px,#26ffd9 85.5px,#00feff 87.5px,#00eaff 88.5px,#03fffc 89.5px,#34ffcb 91.5px,#41ffbe 99.5px,#23ffdc 106.5px,#00dfff 107.5px,#0059ff 109.5px,#0027ff 110.5px,#0000f4 111.5px,#0000bf 113.5px,#0000bf 121.5px,#0000f4 124.5px,#00f 128.5px,#0009ff 131.5px,#0000fe 133.5px,#0000f4 135.5px,#00008f 138.5px)"></i>
<i style="left:241px;top:175px;width:139px;height:1px;background:linear-gradient(90deg,#00008f 0.5px,#0000f4 3.5px,#0000fe 5.5px,#0009ff 7.5px,#00f 10.5px,#0000f4 14.5px,#0000c0 17.5px,#0000c0 25.5px,#0000f4 27.5px,#0027ff 28.5px,#0059ff 29.5px,#00dfff 31.5px,#23ffdc 32.5px,#41ffbe 39.5px,#35ffca 47.5px,#0dfff2 49.5px,#00f8ff 50.5px,#0ffff0 51.5px,#39ffc6 53.5px,#ff0 56.5px,#ff7e00 58.5px,#ff1800 60.5px,#f70000 61.5px,#b20000 67.5px,#a80000 69.5px,#b20000 71.5px,#f70000 77.5px,#ff1800 78.5px,#ff7e00 80.5px,#ffbd00 81.5px,#ff0 82.5px,#39ffc6 85.5px,#0ffff0 87.5px,#00f8ff 88.5px,#0dfff2 89.5px,#35ffca 91.5px,#41ffbe 99.5px,#23ffdc 106.5px,#00dfff 107.5px,#0059ff 109.5px,#0027ff 110.5px,#0000f4 111.5px,#0000c0 113.5px,#0000c0 121.5px,#0000f4 124.5px,#00f 128.5px,#0009ff 131.5px,#0000fe 133.5px,#0000f4 135.5px,#00008f 138.5px)"></i>
<i style="left:241px;top:176px;width:139px;height:1px;background:linear-gradient(90deg,#00008f 0.5px,#0000f4 3.5px,#0000fe 5.5px,#0009ff 7.5px,#00f 10.5px,#0000f4 14.5px,#0000c1 17.5px,#0000c1 25.5px,#0000f4 27.5px,#0027ff 28.5px,#0059ff 29.5px,#00dfff 31.5px,#23ffdc 32.5px,#41ffbe 39.5px,#37ffc8 47.5px,#08fff7 50.5px,#4cffb3 53.5px,#fffb00 56.5px,#ff7c00 58.5px,#ff1700 60.5px,#f70000 61.5px,#b20000 67.5px,#a80000 69.5px,#b20000 71.5px,#f70000 77.5px,#ff1700 78.5px,#ff7c00 80.5px,#fffb00 82.5px,#4cffb3 85.5px,#08fff7 88.5px,#37ffc8 91.5px,#41ffbe 99.5px,#23ffdc 106.5px,#00dfff 107.5px,#0059ff 109.5px,#0027ff 110.5px,#0000f4 111.5px,#0000c1 113.5px,#0000c1 121.5px,#0000f4 124.5px,#00f 128.5px,#0009ff 131.5px,#0000fe 133.5px,#0000f4 135.5px,#00008f 138.5px)"></i>
<i style="left:241px;top:177px;width:139px;height:1px;background:linear-gradient(90deg,#000091 0.5px,#0000f4 3.5px,#0000fe 5.5px,#0009ff 7.5px,#0001ff 10.5px,#0000f4 14.5px,#0000c4 17.5px,#0000c4 25.5px,#0000f5 27.5px,#0027ff 28.5px,#0058ff 29.5px,#00dbff 31.5px,#1dffe2 32.5px,#40ffbf 39.5px,#3affc5 47.5px,#16ffe9 50.5px,#5cffa3 53.5px,#cfff30 55.5px,#fff600 56.5px,#ff7a00 58.5px,#ff1800 60.5px,#f90000 61.5px,#b30000 67.5px,#a80000 69.5px,#b30000 71.5px,#f90000 77.5px,#ff1800 78.5px,#ff7a00 80.5px,#fff600 82.5px,#cfff30 83.5px,#5cffa3 85.5px,#16ffe9 88.5px,#3affc5 91.5px,#40ffbf 99.5px,#1dffe2 106.5px,#00dbff 107.5px,#0058ff 109.5px,#0027ff 110.5px,#0000f5 111.5px,#0000c4 113.5px,#0000c4 121.5px,#0000f4 124.5px,#0001ff 128.5px,#0009ff 131.5px,#0000fe 133.5px,#0000f4 135.5px,#000091 138.5px)"></i>
<i style="left:240px;top:178px;width:141px;height:1px;background:linear-gradient(90deg,#00008f 0.5px,#000094 1.5px,#0000f4 4.5px,#00f 6.5px,#0009ff 8.5px,#0000fe 12.5px,#0000f6 15.5px,#0000c8 18.5px,#0000c9 26.5px,#0000f6 28.5px,#0027ff 29.5px,#0056ff 30.5px,#00d2ff 32.5px,#1fe 33.5px,#3fffc0 40.5px,#41ffbe 48.5px,#25ffda 51.5px,#69ff96 54.5px,#d7ff28 56.5px,#ffef00 57.5px,#ff7800 59.5px,#ff1a00 61.5px,#fb0000 62.5px,#b40000 68.5px,#a90000 70.5px,#b40000 72.5px,#fb0000 78.5px,#ff1a00 79.5px,#ff7800 81.5px,#ffef00 83.5px,#d7ff28 84.5px,#69ff96 86.5px,#25ffda 89.5px,#41ffbe 92.5px,#3fffc0 100.5px,#1fe 107.5px,#00d2ff 108.5px,#0056ff 110.5px,#0027ff 111.5px,#0000f6 112.5px,#0000c9 114.5px,#0000c8 122.5px,#0000f6 125.5px,#0000fe 128.5px,#0009ff 132.5px,#00f 134.5px,#0000f4 136.5px,#000094 139.5px,#00008f 140.5px)"></i>
<i style="left:240px;top:179px;width:141px;height:1px;background:linear-gradient(90deg,#00008f 0.5px,#000096 1.5px,#0000f5 4.5px,#00f 6.5px,#0009ff 8.5px,#00f 12.5px,#0000f7 15.5px,#00c 18.5px,#0000ce 26.5px,#0000f8 28.5px,#0054ff 30.5px,#05fffa 33.5px,#2bffd4 37.5px,#3dffc2 40.5px,#48ffb7 48.5px,#3fc 51.5px,#76ff89 54.5px,#dfff20 56.5px,#ffe800 57.5px,#ff7600 59.5px,#ff1c00 61.5px,#fe0000 62.5px,#b60000 68.5px,#a00 70.5px,#b60000 72.5px,#fe0000 78.5px,#ff1c00 79.5px,#ff7600 81.5px,#ffe800 83.5px,#dfff20 84.5px,#76ff89 86.5px,#3fc 89.5px,#48ffb7 92.5px,#3dffc2 100.5px,#2bffd4 103.5px,#05fffa 107.5px,#00c9ff 108.5px,#0054ff 110.5px,#0000f8 112.5px,#0000ce 114.5px,#00c 122.5px,#0000f7 125.5px,#00f 128.5px,#0009ff 132.5px,#00f 134.5px,#0000f5 136.5px,#000096 139.5px,#00008f 140.5px)"></i>
<i style="left:240px;top:180px;width:141px;height:1px;background:linear-gradient(90deg,#00008f 0.5px,#009 1.5px,#0000dc 3.5px,#0000f5 4.5px,#00f 6.5px,#0009ff 8.5px,#0000f8 15.5px,#0000d0 18.5px,#0000d3 26.5px,#0000fa 28.5px,#0051ff 30.5px,#00f9ff 33.5px,#05fffa 34.5px,#28ffd7 37.5px,#3bffc4 40.5px,#4fffb0 48.5px,#42ffbd 51.5px,#83ff7c 54.5px,#e8ff17 56.5px,#ffe100 57.5px,#ff7400 59.5px,#ff1e00 61.5px,#ff0100 62.5px,#f10000 63.5px,#b80000 68.5px,#ab0000 70.5px,#b80000 72.5px,#ff0100 78.5px,#ff1e00 79.5px,#ff7400 81.5px,#ffe100 83.5px,#e8ff17 84.5px,#83ff7c 86.5px,#42ffbd 89.5px,#4fffb0 92.5px,#3bffc4 100.5px,#28ffd7 103.5px,#05fffa 106.5px,#00f9ff 107.5px,#0051ff 110.5px,#0000fa 112.5px,#0000d3 114.5px,#0000d0 122.5px,#0000f8 125.5px,#0009ff 132.5px,#00f 134.5px,#0000f5 136.5px,#0000dc 137.5px,#009 139.5px,#00008f 140.5px)"></i>
<i style="left:240px;top:181px;width:141px;height:1px;background:linear-gradient(90deg,#00008f 0.5px,#00009c 1.5px,#0000df 3.5px,#0000f6 4.5px,#0001ff 6.5px,#0009ff 8.5px,#0000fd 14.5px,#0000f9 15.5px,#0000d4 18.5px,#0000d8 26.5px,#0000fb 28.5px,#004fff 30.5px,#00edff 33.5px,#00faff 34.5px,#09fff6 35.5px,#24ffdb 37.5px,#39ffc6 40.5px,#5fa 48.5px,#50ffaf 51.5px,#90ff6f 54.5px,#bcff43 55.5px,#f0ff0f 56.5px,#ffda00 57.5px,#ff7200 59.5px,#ff2100 61.5px,#ff0400 62.5px,#f20000 63.5px,#ba0000 68.5px,#ab0000 70.5px,#ba0000 72.5px,#ff0400 78.5px,#ff2100 79.5px,#ff7200 81.5px,#ffda00 83.5px,#f0ff0f 84.5px,#bcff43 85.5px,#90ff6f 86.5px,#50ffaf 89.5px,#5fa 92.5px,#39ffc6 100.5px,#24ffdb 103.5px,#00faff 106.5px,#00edff 107.5px,#004fff 110.5px,#0000fb 112.5px,#0000d8 114.5px,#0000d4 122.5px,#0000f9 125.5px,#0000fd 126.5px,#0009ff 132.5px,#0001ff 134.5px,#0000f6 136.5px,#0000df 137.5px,#00009c 139.5px,#00008f 140.5px)"></i>
<i style="left:240px;top:182px;width:141px;height:1px;background:linear-gradient(90deg,#00008f 0.5px,#00009f 1.5px,#0000e2 3.5px,#0000f6 4.5px,#0000fb 5.5px,#0009ff 8.5px,#00f 14.5px,#0000fb 15.5px,#0000d9 18.5px,#0000d9 24.5px,#00d 26.5px,#0000fd 28.5px,#004dff 30.5px,#00e1ff 33.5px,#01fffe 35.5px,#21ffde 37.5px,#38ffc7 40.5px,#5cffa3 48.5px,#5fffa0 51.5px,#9eff61 54.5px,#c6ff39 55.5px,#f8ff07 56.5px,#ffd300 57.5px,#ff7000 59.5px,#ff2300 61.5px,#ff0600 62.5px,#f40000 63.5px,#bc0000 68.5px,#ac0000 70.5px,#bc0000 72.5px,#f40000 77.5px,#ff0600 78.5px,#ff2300 79.5px,#ff7000 81.5px,#ffd300 83.5px,#f8ff07 84.5px,#c6ff39 85.5px,#9eff61 86.5px,#5fffa0 89.5px,#5cffa3 92.5px,#38ffc7 100.5px,#21ffde 103.5px,#01fffe 105.5px,#00e1ff 107.5px,#004dff 110.5px,#0000fd 112.5px,#00d 114.5px,#0000d9 116.5px,#0000d9 122.5px,#0000fb 125.5px,#00f 126.5px,#0009ff 132.5px,#0000fb 135.5px,#0000f6 136.5px,#0000e2 137.5px,#00009f 139.5px,#00008f 140.5px)"></i>
<i style="left:240px;top:183px;width:141px;height:1px;background:linear-gradient(90deg,#00008f 0.5px,#0000a2 1.5px,#0000e5 3.5px,#0000f7 4.5px,#0000fc 5.5px,#0009ff 8.5px,#0001ff 14.5px,#0000fc 15.5px,#00d 18.5px,#00d 24.5px,#0000e2 26.5px,#00f 28.5px,#004bff 30.5px,#00d5ff 33.5px,#00f9ff 35.5px,#0cfff3 36.5px,#1dffe2 37.5px,#36ffc9 40.5px,#63ff9c 48.5px,#6dff92 51.5px,#abff54 54.5px,#cfff30 55.5px,#fffd00 56.5px,#ff9800 58.5px,#ff2500 61.5px,#ff0900 62.5px,#f50000 63.5px,#bd0000 68.5px,#ad0000 70.5px,#bd0000 72.5px,#f50000 77.5px,#ff0900 78.5px,#ff2500 79.5px,#ff6e00 81.5px,#ff9800 82.5px,#fffd00 84.5px,#cfff30 85.5px,#abff54 86.5px,#6dff92 89.5px,#63ff9c 92.5px,#36ffc9 100.5px,#1dffe2 103.5px,#00f9ff 105.5px,#00d5ff 107.5px,#004bff 110.5px,#00f 112.5px,#0000e2 114.5px,#00d 116.5px,#00d 122.5px,#0000fc 125.5px,#0001ff 126.5px,#0009ff 132.5px,#0000fc 135.5px,#0000f7 136.5px,#0000e5 137.5px,#0000a2 139.5px,#00008f 140.5px)"></i>
<i style="left:240px;top:184px;width:141px;height:1px;background:linear-gradient(90deg,#00008f 0.5px,#0000a4 1.5px,#0000e7 3.5px,#0000f7 4.5px,#0000fc 5.5px,#0009ff 8.5px,#0002ff 14.5px,#0000fd 15.5px,#0000e1 18.5px,#0000e1 24.5px,#0000e7 26.5px,#0001ff 28.5px,#0049ff 30.5px,#00c9ff 33.5px,#06fff9 36.5px,#1affe5 37.5px,#34ffcb 40.5px,#7cff83 51.5px,#b8ff47 54.5px,#d9ff26 55.5px,#fff500 56.5px,#ff9300 58.5px,#ff6c00 59.5px,#ff2700 61.5px,#ff0c00 62.5px,#f60000 63.5px,#ae0000 70.5px,#f60000 77.5px,#ff0c00 78.5px,#ff2700 79.5px,#ff6c00 81.5px,#ff9300 82.5px,#fff500 84.5px,#d9ff26 85.5px,#b8ff47 86.5px,#7cff83 89.5px,#34ffcb 100.5px,#1affe5 103.5px,#06fff9 104.5px,#00f1ff 105.5px,#00c9ff 107.5px,#0049ff 110.5px,#0001ff 112.5px,#0000e7 114.5px,#0000e1 116.5px,#0000e1 122.5px,#0000fd 125.5px,#0002ff 126.5px,#0009ff 132.5px,#0000fc 135.5px,#0000f7 136.5px,#0000e7 137.5px,#0000a4 139.5px,#00008f 140.5px)"></i>
<i style="left:240px;top:185px;width:141px;height:1px;background:linear-gradient(90deg,#00008f 0.5px,#0000a7 1.5px,#0000ea 3.5px,#0000f7 4.5px,#0000fc 5.5px,#0009ff 8.5px,#00f 15.5px,#0000e5 18.5px,#0000e5 24.5px,#0000ec 26.5px,#0003ff 28.5px,#0046ff 30.5px,#00bdff 33.5px,#0ff 36.5px,#16ffe9 37.5px,#32ffcd 40.5px,#8aff75 51.5px,#c5ff3a 54.5px,#e3ff1c 55.5px,#ffec00 56.5px,#ff8e00 58.5px,#ff6a00 59.5px,#ff0e00 62.5px,#f80000 63.5px,#af0000 70.5px,#f80000 77.5px,#ff0e00 78.5px,#ff6a00 81.5px,#ff8e00 82.5px,#ffec00 84.5px,#e3ff1c 85.5px,#c5ff3a 86.5px,#8aff75 89.5px,#32ffcd 100.5px,#16ffe9 103.5px,#0ff 104.5px,#00bdff 107.5px,#0046ff 110.5px,#0003ff 112.5px,#0000ec 114.5px,#0000e5 116.5px,#0000e5 122.5px,#00f 125.5px,#0009ff 132.5px,#0000fc 135.5px,#0000f7 136.5px,#0000ea 137.5px,#0000a7 139.5px,#00008f 140.5px)"></i>
<i style="left:240px;top:186px;width:141px;height:1px;background:linear-gradient(90deg,#00008f 0.5px,#00a 1.5px,#0000ed 3.5px,#0000fd 5.5px,#0009ff 8.5px,#0001ff 15.5px,#0000e9 18.5px,#0000e9 24.5px,#0005ff 28.5px,#04f 30.5px,#00b1ff 33.5px,#00faff 36.5px,#13ffec 37.5px,#7f8 48.5px,#9f6 51.5px,#d2ff2d 54.5px,#edff12 55.5px,#ffe400 56.5px,#ff8900 58.5px,#ff6800 59.5px,#f10 62.5px,#f90000 63.5px,#b00000 70.5px,#f90000 77.5px,#f10 78.5px,#ff6800 81.5px,#ff8900 82.5px,#ffe400 84.5px,#edff12 85.5px,#d2ff2d 86.5px,#9f6 89.5px,#7f8 92.5px,#13ffec 103.5px,#00faff 104.5px,#00b1ff 107.5px,#04f 110.5px,#0005ff 112.5px,#0000e9 116.5px,#0000e9 122.5px,#0001ff 125.5px,#0009ff 132.5px,#0000fd 135.5px,#0000ed 137.5px,#00a 139.5px,#00008f 140.5px)"></i>
<i style="left:240px;top:187px;width:141px;height:1px;background:linear-gradient(90deg,#00008f 0.5px,#0000f0 3.5px,#0000fd 5.5px,#0009ff 8.5px,#0002ff 15.5px,#00e 18.5px,#00e 24.5px,#0000fe 27.5px,#0006ff 28.5px,#0062ff 31.5px,#00a6ff 33.5px,#00f4ff 36.5px,#0ffff0 37.5px,#7dff82 48.5px,#a7ff58 51.5px,#f6ff09 55.5px,#ffdc00 56.5px,#ff8300 58.5px,#ff2d00 61.5px,#fb0000 63.5px,#b00000 70.5px,#fb0000 77.5px,#ff2d00 79.5px,#ff8300 82.5px,#ffdc00 84.5px,#f6ff09 85.5px,#a7ff58 89.5px,#7dff82 92.5px,#0ffff0 103.5px,#00f4ff 104.5px,#00a6ff 107.5px,#0062ff 109.5px,#0006ff 112.5px,#0000fe 113.5px,#00e 116.5px,#00e 122.5px,#0002ff 125.5px,#0009ff 132.5px,#0000fd 135.5px,#0000f0 137.5px,#00008f 140.5px)"></i>
<i style="left:240px;top:188px;width:141px;height:1px;background:linear-gradient(90deg,#00008f 0.5px,#0000f2 3.5px,#0000fe 5.5px,#0009ff 8.5px,#0008ff 14.5px,#0003ff 15.5px,#0000f2 18.5px,#0000f2 24.5px,#0000fb 26.5px,#0008ff 28.5px,#0ef 36.5px,#0cfff3 37.5px,#84ff7b 48.5px,#fffe00 55.5px,#ff7e00 58.5px,#fc0000 63.5px,#b10000 70.5px,#fc0000 77.5px,#ff7e00 82.5px,#fffe00 85.5px,#84ff7b 92.5px,#0cfff3 103.5px,#0ef 104.5px,#0008ff 112.5px,#0000fb 114.5px,#0000f2 116.5px,#0000f2 122.5px,#0003ff 125.5px,#0008ff 126.5px,#0009ff 132.5px,#0000fe 135.5px,#0000f2 137.5px,#00008f 140.5px)"></i>
<i style="left:240px;top:189px;width:141px;height:2px;background:linear-gradient(90deg,#00008f 0.5px,#0000f0 3.5px,#0000fd 5.5px,#0008ff 7.5px,#0009ff 10.5px,#0009ff 14.5px,#00f 16.5px,#0000f5 18.5px,#0000f5 20.5px,#0000f6 24.5px,#0001ff 26.5px,#000aff 28.5px,#0058ff 31.5px,#00ebff 36.5px,#0afff5 37.5px,#89ff76 48.5px,#f3ff0c 54.5px,#fff900 55.5px,#ff7e00 58.5px,#fe0000 63.5px,#b20000 70.5px,#fe0000 77.5px,#ff7e00 82.5px,#fff900 85.5px,#f3ff0c 86.5px,#89ff76 92.5px,#0afff5 103.5px,#00ebff 104.5px,#0058ff 109.5px,#000aff 112.5px,#0001ff 114.5px,#0000f6 116.5px,#0000f5 120.5px,#0000f5 122.5px,#00f 124.5px,#0009ff 126.5px,#0008ff 133.5px,#0000fd 135.5px,#0000f0 137.5px,#00008f 140.5px)"></i>
<i style="left:240px;top:191px;width:141px;height:2px;background:linear-gradient(90deg,#00008f 0.5px,#0000ea 3.5px,#0000fc 5.5px,#0009ff 10.5px,#0009ff 14.5px,#0001ff 16.5px,#0000f8 18.5px,#0000fe 25.5px,#000cff 28.5px,#0071ff 32.5px,#00ebff 36.5px,#0afff5 37.5px,#8dff72 48.5px,#f4ff0b 54.5px,#fff900 55.5px,#ff8200 58.5px,#ff0100 63.5px,#f30000 64.5px,#b20000 70.5px,#ff0100 77.5px,#ff8200 82.5px,#fff900 85.5px,#f4ff0b 86.5px,#8dff72 92.5px,#0afff5 103.5px,#00ebff 104.5px,#0071ff 108.5px,#000cff 112.5px,#0000fe 115.5px,#0000f8 122.5px,#0009ff 126.5px,#0007ff 133.5px,#0000fc 135.5px,#0000ea 137.5px,#00008f 140.5px)"></i>
<i style="left:240px;top:193px;width:141px;height:2px;background:linear-gradient(90deg,#00008f 0.5px,#0000a6 1.5px,#0000e3 3.5px,#0000fb 5.5px,#00f 6.5px,#0009ff 10.5px,#0009ff 14.5px,#0000fe 17.5px,#0000fe 24.5px,#000fff 28.5px,#0021ff 29.5px,#006dff 32.5px,#00eaff 36.5px,#0afff5 37.5px,#91ff6e 48.5px,#f4ff0b 54.5px,#fff900 55.5px,#ff8600 58.5px,#ff0300 63.5px,#f40000 64.5px,#b20000 70.5px,#ff0300 77.5px,#ff8600 82.5px,#fff900 85.5px,#f4ff0b 86.5px,#91ff6e 92.5px,#0afff5 103.5px,#00eaff 104.5px,#006dff 108.5px,#0021ff 111.5px,#000fff 112.5px,#0000fe 116.5px,#0000fe 123.5px,#0009ff 126.5px,#0009ff 130.5px,#00f 134.5px,#0000fb 135.5px,#0000e3 137.5px,#0000a6 139.5px,#00008f 140.5px)"></i>
<i style="left:240px;top:195px;width:141px;height:2px;background:linear-gradient(90deg,#00008f 0.5px,#0000a1 1.5px,#0000dc 3.5px,#0000f9 5.5px,#0000fe 6.5px,#0009ff 10.5px,#0009ff 14.5px,#0000fd 18.5px,#0001ff 23.5px,#01f 28.5px,#0021ff 29.5px,#0069ff 32.5px,#00e9ff 36.5px,#0afff5 37.5px,#94ff6b 48.5px,#f5ff0a 54.5px,#fff900 55.5px,#ff8a00 58.5px,#ff6e00 59.5px,#ff0500 63.5px,#f50000 64.5px,#b20000 70.5px,#ff0500 77.5px,#ff8a00 82.5px,#fff900 85.5px,#f5ff0a 86.5px,#94ff6b 92.5px,#0afff5 103.5px,#00e9ff 104.5px,#0069ff 108.5px,#0021ff 111.5px,#01f 112.5px,#0001ff 117.5px,#0000fd 122.5px,#0009ff 126.5px,#0009ff 130.5px,#0000fe 134.5px,#0000f9 135.5px,#0000dc 137.5px,#0000a1 139.5px,#00008f 140.5px)"></i>
<i style="left:240px;top:197px;width:141px;height:2px;background:linear-gradient(90deg,#00008f 0.5px,#00009d 1.5px,#0000d6 3.5px,#0000f8 5.5px,#0000fc 6.5px,#0009ff 10.5px,#0001ff 20.5px,#0006ff 24.5px,#0014ff 28.5px,#0020ff 29.5px,#0065ff 32.5px,#00e8ff 36.5px,#0afff5 37.5px,#98ff67 48.5px,#f5ff0a 54.5px,#fff900 55.5px,#ff8e00 58.5px,#ff7100 59.5px,#ff0600 63.5px,#f50000 64.5px,#b20000 70.5px,#f50000 76.5px,#ff0600 77.5px,#ff8e00 82.5px,#fff900 85.5px,#f5ff0a 86.5px,#98ff67 92.5px,#0afff5 103.5px,#00e8ff 104.5px,#0065ff 108.5px,#0020ff 111.5px,#0014ff 112.5px,#0006ff 116.5px,#0001ff 120.5px,#0009ff 130.5px,#0000fc 134.5px,#0000f8 135.5px,#0000d6 137.5px,#00009d 139.5px,#00008f 140.5px)"></i>
<i style="left:240px;top:199px;width:141px;height:2px;background:linear-gradient(90deg,#00008f 0.5px,#000098 1.5px,#0000cf 3.5px,#0000f7 5.5px,#00f 7.5px,#0009ff 10.5px,#0004ff 20.5px,#0016ff 28.5px,#001fff 29.5px,#0061ff 32.5px,#00e7ff 36.5px,#0afff5 37.5px,#9cff63 48.5px,#f6ff09 54.5px,#fff900 55.5px,#ff7500 59.5px,#ff0800 63.5px,#f60000 64.5px,#b20000 70.5px,#f60000 76.5px,#ff0800 77.5px,#ff9300 82.5px,#fff900 85.5px,#f6ff09 86.5px,#9cff63 92.5px,#0afff5 103.5px,#00e7ff 104.5px,#0061ff 108.5px,#001fff 111.5px,#0016ff 112.5px,#0004ff 120.5px,#0009ff 130.5px,#00f 133.5px,#0000f7 135.5px,#0000cf 137.5px,#000098 139.5px,#00008f 140.5px)"></i>
<i style="left:240px;top:201px;width:141px;height:2px;background:linear-gradient(90deg,#00008f 0.5px,#000094 1.5px,#0000f5 5.5px,#0000fd 7.5px,#0009ff 10.5px,#0006ff 20.5px,#001eff 29.5px,#005dff 32.5px,#00e7ff 36.5px,#0afff5 37.5px,#f7ff08 54.5px,#fff900 55.5px,#ff7800 59.5px,#ff0a00 63.5px,#f70000 64.5px,#b20000 70.5px,#f70000 76.5px,#ff0a00 77.5px,#ff7800 81.5px,#fff900 85.5px,#f7ff08 86.5px,#0afff5 103.5px,#00e7ff 104.5px,#005dff 108.5px,#001eff 111.5px,#0006ff 120.5px,#0009ff 130.5px,#0000fd 133.5px,#0000f5 135.5px,#000094 139.5px,#00008f 140.5px)"></i>
<i style="left:241px;top:203px;width:139px;height:2px;background:linear-gradient(90deg,#000090 0.5px,#0000f3 4.5px,#0000fb 6.5px,#0008ff 9.5px,#0008ff 19.5px,#001dff 28.5px,#0059ff 31.5px,#00e6ff 35.5px,#0afff5 36.5px,#f7ff08 53.5px,#fff900 54.5px,#ff7b00 58.5px,#ff0c00 62.5px,#f70000 63.5px,#b20000 69.5px,#f70000 75.5px,#ff0c00 76.5px,#ff7b00 80.5px,#fff900 84.5px,#f7ff08 85.5px,#0afff5 102.5px,#00e6ff 103.5px,#0059ff 107.5px,#001dff 110.5px,#0008ff 119.5px,#0008ff 129.5px,#0000fb 132.5px,#0000f3 134.5px,#000090 138.5px)"></i>
<i style="left:241px;top:205px;width:139px;height:2px;background:linear-gradient(90deg,#00008f 0.5px,#0000eb 4.5px,#0001fd 9.5px,#0003ff 19.5px,#001bff 28.5px,#0057ff 31.5px,#00e3ff 35.5px,#07fff8 36.5px,#f8ff07 53.5px,#fff700 54.5px,#ff7c00 58.5px,#ff0b00 62.5px,#f70000 63.5px,#b20000 69.5px,#f70000 75.5px,#ff0b00 76.5px,#ff7c00 80.5px,#fff700 84.5px,#f8ff07 85.5px,#07fff8 102.5px,#00e3ff 103.5px,#0057ff 107.5px,#001bff 110.5px,#0003ff 119.5px,#0001fd 129.5px,#0000eb 134.5px,#00008f 138.5px)"></i>
<i style="left:241px;top:207px;width:139px;height:2px;background:linear-gradient(90deg,#00008f 0.5px,#0000e2 4.5px,#0000f3 9.5px,#0000f3 13.5px,#0001fe 20.5px,#0019ff 28.5px,#05f 31.5px,#04fffb 36.5px,#f9ff06 53.5px,#fff500 54.5px,#ff0a00 62.5px,#f60000 63.5px,#b20000 69.5px,#f60000 75.5px,#ff0a00 76.5px,#fff500 84.5px,#f9ff06 85.5px,#04fffb 102.5px,#00e0ff 103.5px,#05f 107.5px,#0019ff 110.5px,#0001fe 118.5px,#0000f3 125.5px,#0000f3 129.5px,#0000e2 134.5px,#00008f 138.5px)"></i>
<i style="left:241px;top:209px;width:139px;height:2px;background:linear-gradient(90deg,#00008f 0.5px,#0000da 4.5px,#0000e8 9.5px,#0000e8 13.5px,#0000fd 21.5px,#0016ff 28.5px,#0052ff 31.5px,#01fffe 36.5px,#14ffeb 37.5px,#fbff04 53.5px,#fff200 54.5px,#ff0800 62.5px,#f60000 63.5px,#b20000 69.5px,#f60000 75.5px,#ff0800 76.5px,#fff200 84.5px,#fbff04 85.5px,#14ffeb 101.5px,#01fffe 102.5px,#0052ff 107.5px,#0016ff 110.5px,#0000fd 117.5px,#0000e8 125.5px,#0000e8 129.5px,#0000da 134.5px,#00008f 138.5px)"></i>
<i style="left:241px;top:211px;width:139px;height:2px;background:linear-gradient(90deg,#00008f 0.5px,#0000d1 4.5px,#0000de 9.5px,#0000de 13.5px,#0000fd 22.5px,#0014ff 28.5px,#0023ff 29.5px,#0050ff 31.5px,#00fdff 36.5px,#13ffec 37.5px,#fcff03 53.5px,#fff000 54.5px,#ff0700 62.5px,#f50000 63.5px,#b20000 69.5px,#f50000 75.5px,#ff0700 76.5px,#fff000 84.5px,#fcff03 85.5px,#13ffec 101.5px,#00fdff 102.5px,#0050ff 107.5px,#0023ff 109.5px,#0014ff 110.5px,#0000fd 116.5px,#0000de 125.5px,#0000de 129.5px,#0000d1 134.5px,#00008f 138.5px)"></i>
<i style="left:241px;top:213px;width:139px;height:2px;background:linear-gradient(90deg,#00008f 0.5px,#0000c8 4.5px,#0000d4 9.5px,#0000d4 13.5px,#0000fd 23.5px,#0012ff 28.5px,#0020ff 29.5px,#004eff 31.5px,#00faff 36.5px,#12ffed 37.5px,#fdff02 53.5px,#fe0 54.5px,#ff0600 62.5px,#f50000 63.5px,#b20000 69.5px,#f50000 75.5px,#ff0600 76.5px,#fe0 84.5px,#fdff02 85.5px,#12ffed 101.5px,#00faff 102.5px,#004eff 107.5px,#0020ff 109.5px,#0012ff 110.5px,#0000fd 115.5px,#0000d4 125.5px,#0000d4 129.5px,#0000c8 134.5px,#00008f 138.5px)"></i>
<i style="left:241px;top:215px;width:139px;height:2px;background:linear-gradient(90deg,#00008f 0.5px,#0000bf 4.5px,#0000c9 9.5px,#0000c9 13.5px,#0000fe 24.5px,#0010ff 28.5px,#001cff 29.5px,#004bff 31.5px,#00f7ff 36.5px,#1fe 37.5px,#feff01 53.5px,#ffec00 54.5px,#ff0500 62.5px,#f50000 63.5px,#b20000 69.5px,#f50000 75.5px,#ff0500 76.5px,#ffec00 84.5px,#feff01 85.5px,#1fe 101.5px,#00f7ff 102.5px,#004bff 107.5px,#001cff 109.5px,#0010ff 110.5px,#0000fe 114.5px,#0000c9 125.5px,#0000c9 129.5px,#0000bf 134.5px,#00008f 138.5px)"></i>
<i style="left:241px;top:217px;width:139px;height:2px;background:linear-gradient(90deg,#00008f 0.5px,#0000b7 4.5px,#0000bf 13.5px,#0000fb 24.5px,#000eff 28.5px,#0019ff 29.5px,#0049ff 31.5px,#0067ff 32.5px,#00f4ff 36.5px,#0ffff0 37.5px,#fffe00 53.5px,#ffea00 54.5px,#ff7c00 58.5px,#ff0300 62.5px,#f40000 63.5px,#b20000 69.5px,#ff0300 76.5px,#ff7c00 80.5px,#ffea00 84.5px,#fffe00 85.5px,#0ffff0 101.5px,#00f4ff 102.5px,#0067ff 106.5px,#0049ff 107.5px,#0019ff 109.5px,#000eff 110.5px,#0000fb 114.5px,#0000bf 125.5px,#0000b7 134.5px,#00008f 138.5px)"></i>
<i style="left:241px;top:219px;width:139px;height:2px;background:linear-gradient(90deg,#00008f 0.5px,#0000ae 4.5px,#0000b4 13.5px,#0000fe 25.5px,#000cff 28.5px,#0015ff 29.5px,#0047ff 31.5px,#0064ff 32.5px,#00f1ff 36.5px,#0efff1 37.5px,#fffd00 53.5px,#ffe800 54.5px,#ff7c00 58.5px,#ff0200 62.5px,#f40000 63.5px,#b20000 69.5px,#ff0200 76.5px,#ff7c00 80.5px,#ffe800 84.5px,#fffd00 85.5px,#0efff1 101.5px,#00f1ff 102.5px,#0064ff 106.5px,#0047ff 107.5px,#0015ff 109.5px,#000cff 110.5px,#0000fe 113.5px,#0000b4 125.5px,#0000ae 134.5px,#00008f 138.5px)"></i>
<i style="left:241px;top:221px;width:139px;height:2px;background:linear-gradient(90deg,#00008f 0.5px,#0000a5 4.5px,#00a 13.5px,#0000fb 25.5px,#0009ff 28.5px,#0012ff 29.5px,#04f 31.5px,#0061ff 32.5px,#00edff 36.5px,#0dfff2 37.5px,#fffc00 53.5px,#ff7c00 58.5px,#ff0100 62.5px,#f30000 63.5px,#b20000 69.5px,#ff0100 76.5px,#ff7c00 80.5px,#fffc00 85.5px,#0dfff2 101.5px,#00edff 102.5px,#0061ff 106.5px,#04f 107.5px,#0012ff 109.5px,#0009ff 110.5px,#0000fb 113.5px,#00a 125.5px,#0000a5 134.5px,#00008f 138.5px)"></i>
<i style="left:241px;top:223px;width:139px;height:2px;background:linear-gradient(90deg,#00008f 0.5px,#00009d 4.5px,#00009f 13.5px,#0000f8 25.5px,#0007ff 28.5px,#000eff 29.5px,#0042ff 31.5px,#005eff 32.5px,#00eaff 36.5px,#0cfff3 37.5px,#fffb00 53.5px,#ff7c00 58.5px,#f00 62.5px,#b20000 69.5px,#f00 76.5px,#ff7c00 80.5px,#fffb00 85.5px,#0cfff3 101.5px,#00eaff 102.5px,#005eff 106.5px,#000eff 109.5px,#0007ff 110.5px,#0000f8 113.5px,#00009f 125.5px,#00009d 134.5px,#00008f 138.5px)"></i>
<i style="left:242px;top:225px;width:137px;height:2px;background:linear-gradient(90deg,#000091 0.5px,#000095 12.5px,#0000f5 24.5px,#00f 26.5px,#000bff 28.5px,#005bff 31.5px,#00e7ff 35.5px,#0bfff4 36.5px,#f5ff0a 51.5px,#fffa00 52.5px,#ff7c00 57.5px,#fe0000 61.5px,#b20000 68.5px,#fe0000 75.5px,#ff7c00 79.5px,#fffa00 84.5px,#f5ff0a 85.5px,#0bfff4 100.5px,#00e7ff 101.5px,#005bff 105.5px,#000bff 108.5px,#00f 110.5px,#0000f5 112.5px,#000095 124.5px,#000091 136.5px)"></i>
<i style="left:254px;top:227px;width:113px;height:1px;background:linear-gradient(90deg,#00008f 0.5px,#0000f1 12.5px,#0000fb 14.5px,#0008ff 16.5px,#0059ff 19.5px,#00e6ff 23.5px,#0afff5 24.5px,#f6ff09 39.5px,#fff800 40.5px,#ff7b00 45.5px,#fd0000 49.5px,#b20000 56.5px,#fd0000 63.5px,#ff7b00 67.5px,#fff800 72.5px,#f6ff09 73.5px,#0afff5 88.5px,#00e6ff 89.5px,#0059ff 93.5px,#0008ff 96.5px,#0000fb 98.5px,#0000f1 100.5px,#00008f 112.5px)"></i>
<i style="left:254px;top:228px;width:113px;height:1px;background:linear-gradient(90deg,#00008f 0.5px,#0000eb 12.5px,#0000fd 15.5px,#0006ff 16.5px,#0057ff 19.5px,#00e5ff 23.5px,#0afff5 24.5px,#f8ff07 39.5px,#fff600 40.5px,#ff7900 45.5px,#fc0000 49.5px,#b20000 56.5px,#fc0000 63.5px,#ff7900 67.5px,#fff600 72.5px,#f8ff07 73.5px,#0afff5 88.5px,#00e5ff 89.5px,#0057ff 93.5px,#0006ff 96.5px,#0000fd 97.5px,#0000eb 100.5px,#00008f 112.5px)"></i>
<i style="left:254px;top:229px;width:113px;height:1px;background:linear-gradient(90deg,#00008f 0.5px,#0000fa 15.5px,#0004ff 16.5px,#0056ff 19.5px,#00e5ff 23.5px,#0afff5 24.5px,#f9ff06 39.5px,#fff400 40.5px,#ff9100 44.5px,#fc0000 49.5px,#b20000 56.5px,#fc0000 63.5px,#f70 67.5px,#fff400 72.5px,#f9ff06 73.5px,#0afff5 88.5px,#00e5ff 89.5px,#0056ff 93.5px,#0004ff 96.5px,#0000fa 97.5px,#00008f 112.5px)"></i>
<i style="left:254px;top:230px;width:113px;height:1px;background:linear-gradient(90deg,#00008f 0.5px,#0000e3 13.5px,#0003ff 16.5px,#0054ff 19.5px,#00e4ff 23.5px,#0afff5 24.5px,#fbff04 39.5px,#fff200 40.5px,#ff8f00 44.5px,#fc0000 49.5px,#b20000 56.5px,#fc0000 63.5px,#ff1900 64.5px,#ff7600 67.5px,#fff200 72.5px,#fbff04 73.5px,#0afff5 88.5px,#00e4ff 89.5px,#0054ff 93.5px,#0003ff 96.5px,#0000e3 99.5px,#00008f 112.5px)"></i>
<i style="left:254px;top:231px;width:113px;height:1px;background:linear-gradient(90deg,#00008f 0.5px,#00d 13.5px,#0001ff 16.5px,#0053ff 19.5px,#00e3ff 23.5px,#0afff5 24.5px,#fcff03 39.5px,#fff000 40.5px,#ff8e00 44.5px,#ff1700 48.5px,#fb0000 49.5px,#b20000 56.5px,#fb0000 63.5px,#ff1700 64.5px,#ff7400 67.5px,#fff000 72.5px,#fcff03 73.5px,#0afff5 88.5px,#00e3ff 89.5px,#0053ff 93.5px,#0001ff 96.5px,#00d 99.5px,#00008f 112.5px)"></i>
<i style="left:254px;top:232px;width:113px;height:1px;background:linear-gradient(90deg,#00008f 0.5px,#0000d7 13.5px,#0000fe 16.5px,#0051ff 19.5px,#0071ff 20.5px,#00e3ff 23.5px,#0afff5 24.5px,#feff01 39.5px,#fe0 40.5px,#ff8c00 44.5px,#ff1600 48.5px,#fb0000 49.5px,#b20000 56.5px,#fb0000 63.5px,#ff1600 64.5px,#ff7200 67.5px,#fe0 72.5px,#feff01 73.5px,#0afff5 88.5px,#00e3ff 89.5px,#0071ff 92.5px,#0000fe 96.5px,#0000d7 99.5px,#00008f 112.5px)"></i>
<i style="left:254px;top:233px;width:113px;height:1px;background:linear-gradient(90deg,#00008f 0.5px,#0000d1 13.5px,#0000db 14.5px,#0000fc 16.5px,#006fff 20.5px,#00e2ff 23.5px,#0afff5 24.5px,#fffe00 39.5px,#ffec00 40.5px,#ff8b00 44.5px,#ff1500 48.5px,#fa0000 49.5px,#b20000 56.5px,#fa0000 63.5px,#ff1500 64.5px,#ff8b00 68.5px,#ffec00 72.5px,#fffe00 73.5px,#0afff5 88.5px,#00e2ff 89.5px,#006fff 92.5px,#0000fc 96.5px,#0000db 98.5px,#0000d1 99.5px,#00008f 112.5px)"></i>
<i style="left:254px;top:234px;width:113px;height:1px;background:linear-gradient(90deg,#00008f 0.5px,#0000ca 13.5px,#0000d5 14.5px,#0000fa 16.5px,#006dff 20.5px,#00e2ff 23.5px,#0afff5 24.5px,#fffd00 39.5px,#ffea00 40.5px,#ff8a00 44.5px,#ff1300 48.5px,#fa0000 49.5px,#b20000 56.5px,#fa0000 63.5px,#ff1300 64.5px,#ff8a00 68.5px,#ffea00 72.5px,#fffd00 73.5px,#0afff5 88.5px,#00e2ff 89.5px,#006dff 92.5px,#0000fa 96.5px,#0000d5 98.5px,#0000ca 99.5px,#00008f 112.5px)"></i>
<i style="left:254px;top:235px;width:113px;height:1px;background:linear-gradient(90deg,#00008f 0.5px,#0000c4 13.5px,#0000d0 14.5px,#0000f9 16.5px,#0019ff 17.5px,#006bff 20.5px,#00e1ff 23.5px,#0afff5 24.5px,#fffb00 39.5px,#f80 44.5px,#ff1200 48.5px,#fa0000 49.5px,#b20000 56.5px,#fa0000 63.5px,#ff1200 64.5px,#f80 68.5px,#fffb00 73.5px,#0afff5 88.5px,#00e1ff 89.5px,#006bff 92.5px,#0019ff 95.5px,#0000f9 96.5px,#0000d0 98.5px,#0000c4 99.5px,#00008f 112.5px)"></i>
<i style="left:254px;top:236px;width:113px;height:1px;background:linear-gradient(90deg,#00008f 0.5px,#0000be 13.5px,#0000ca 14.5px,#0000f7 16.5px,#0018ff 17.5px,#0069ff 20.5px,#00e1ff 23.5px,#0afff5 24.5px,#f2ff0d 38.5px,#fffa00 39.5px,#ff8700 44.5px,#f10 48.5px,#f90000 49.5px,#b20000 56.5px,#f90000 63.5px,#f10 64.5px,#ff8700 68.5px,#fffa00 73.5px,#f2ff0d 74.5px,#0afff5 88.5px,#00e1ff 89.5px,#0069ff 92.5px,#0018ff 95.5px,#0000f7 96.5px,#0000ca 98.5px,#0000be 99.5px,#00008f 112.5px)"></i>
<i style="left:254px;top:237px;width:113px;height:1px;background:linear-gradient(90deg,#00008f 0.5px,#0000b8 13.5px,#0000c5 14.5px,#0000f5 16.5px,#0016ff 17.5px,#0067ff 20.5px,#00e0ff 23.5px,#0afff5 24.5px,#f4ff0b 38.5px,#fff800 39.5px,#ff8500 44.5px,#ff0f00 48.5px,#f90000 49.5px,#b20000 56.5px,#f90000 63.5px,#ff0f00 64.5px,#ff8500 68.5px,#fff800 73.5px,#f4ff0b 74.5px,#0afff5 88.5px,#00e0ff 89.5px,#0067ff 92.5px,#0016ff 95.5px,#0000f5 96.5px,#0000c5 98.5px,#0000b8 99.5px,#00008f 112.5px)"></i>
<i style="left:254px;top:238px;width:113px;height:1px;background:linear-gradient(90deg,#00008f 0.5px,#0000b2 13.5px,#0000bf 14.5px,#0000f3 16.5px,#0015ff 17.5px,#0065ff 20.5px,#00e0ff 23.5px,#0afff5 24.5px,#f5ff0a 38.5px,#fff600 39.5px,#ff8400 44.5px,#ff0e00 48.5px,#f80000 49.5px,#b20000 56.5px,#f80000 63.5px,#ff0e00 64.5px,#ff8400 68.5px,#fff600 73.5px,#f5ff0a 74.5px,#0afff5 88.5px,#00e0ff 89.5px,#0065ff 92.5px,#0015ff 95.5px,#0000f3 96.5px,#0000bf 98.5px,#0000b2 99.5px,#00008f 112.5px)"></i>
<i style="left:254px;top:239px;width:113px;height:1px;background:linear-gradient(90deg,#00008f 0.5px,#0000ab 13.5px,#0000ba 14.5px,#0000f1 16.5px,#0014ff 17.5px,#0063ff 20.5px,#00dfff 23.5px,#0afff5 24.5px,#f7ff08 38.5px,#fff500 39.5px,#ffe000 40.5px,#ff8200 44.5px,#ff0d00 48.5px,#f80000 49.5px,#b20000 56.5px,#f80000 63.5px,#ff0d00 64.5px,#ff8200 68.5px,#fff500 73.5px,#f7ff08 74.5px,#0afff5 88.5px,#00dfff 89.5px,#0063ff 92.5px,#0014ff 95.5px,#0000f1 96.5px,#0000ba 98.5px,#0000ab 99.5px,#00008f 112.5px)"></i>
<i style="left:254px;top:240px;width:113px;height:1px;background:linear-gradient(90deg,#00008f 0.5px,#0000a5 13.5px,#0000b4 14.5px,#0000ef 16.5px,#0012ff 17.5px,#0060ff 20.5px,#00dfff 23.5px,#0afff5 24.5px,#f8ff07 38.5px,#fff300 39.5px,#ffde00 40.5px,#ff8100 44.5px,#ff0b00 48.5px,#f80000 49.5px,#b20000 56.5px,#f80000 63.5px,#ff0b00 64.5px,#ff8100 68.5px,#fff300 73.5px,#f8ff07 74.5px,#0afff5 88.5px,#00dfff 89.5px,#0060ff 92.5px,#0012ff 95.5px,#0000ef 96.5px,#0000b4 98.5px,#0000a5 99.5px,#00008f 112.5px)"></i>
<i style="left:255px;top:241px;width:111px;height:1px;background:linear-gradient(90deg,#000091 0.5px,#00009f 12.5px,#0000af 13.5px,#00e 15.5px,#01f 16.5px,#005eff 19.5px,#00deff 22.5px,#0afff5 23.5px,#f9ff06 37.5px,#fff200 38.5px,#ff7f00 43.5px,#ff0a00 47.5px,#f70000 48.5px,#b20000 55.5px,#f70000 62.5px,#ff0a00 63.5px,#ff7f00 67.5px,#fff200 72.5px,#f9ff06 73.5px,#0afff5 87.5px,#00deff 88.5px,#005eff 91.5px,#01f 94.5px,#00e 95.5px,#0000af 97.5px,#00009f 98.5px,#000091 110.5px)"></i>
<i style="left:256px;top:242px;width:109px;height:1px;background:linear-gradient(90deg,#000091 0.5px,#009 11.5px,#00a 12.5px,#0000ec 14.5px,#0010ff 15.5px,#005cff 18.5px,#00deff 21.5px,#0afff5 22.5px,#fbff04 36.5px,#fff000 37.5px,#ff7e00 42.5px,#ff0900 46.5px,#f70000 47.5px,#b20000 54.5px,#f70000 61.5px,#ff0900 62.5px,#ff7e00 66.5px,#fff000 71.5px,#fbff04 72.5px,#0afff5 86.5px,#00deff 87.5px,#005cff 90.5px,#0010ff 93.5px,#0000ec 94.5px,#00a 96.5px,#009 97.5px,#000091 108.5px)"></i>
<i style="left:267px;top:243px;width:87px;height:3px;background:linear-gradient(90deg,#000090 0.5px,#0000a2 1.5px,#0000e8 3.5px,#000dff 4.5px,#0059ff 7.5px,#00dcff 10.5px,#09fff6 11.5px,#8f7 18.5px,#fdff02 25.5px,#ffed00 26.5px,#ff7a00 31.5px,#ff0700 35.5px,#f60000 36.5px,#b20000 43.5px,#f60000 50.5px,#ff0700 51.5px,#ff7a00 55.5px,#ffed00 60.5px,#fdff02 61.5px,#8f7 68.5px,#09fff6 75.5px,#00dcff 76.5px,#0059ff 79.5px,#000dff 82.5px,#0000e8 83.5px,#0000a2 85.5px,#000090 86.5px)"></i>
<i style="left:267px;top:246px;width:87px;height:3px;background:linear-gradient(90deg,#00008f 0.5px,#0000a0 1.5px,#0006ff 4.5px,#05f 7.5px,#05fffa 11.5px,#89ff76 18.5px,#fffd00 25.5px,#ff7500 31.5px,#ff0400 35.5px,#f40000 36.5px,#b20000 43.5px,#ff0400 51.5px,#ff7500 55.5px,#fffd00 61.5px,#89ff76 68.5px,#05fffa 75.5px,#05f 79.5px,#0006ff 82.5px,#0000a0 85.5px,#00008f 86.5px)"></i>
<i style="left:267px;top:249px;width:87px;height:3px;background:linear-gradient(90deg,#00008f 0.5px,#00009f 1.5px,#0000fd 4.5px,#0052ff 7.5px,#00a4ff 9.5px,#01fffe 11.5px,#19ffe6 12.5px,#8bff74 18.5px,#f3ff0c 24.5px,#fffa00 25.5px,#ffa200 29.5px,#ff0200 35.5px,#f30000 36.5px,#b20000 43.5px,#ff0200 51.5px,#ffa200 57.5px,#fffa00 61.5px,#f3ff0c 62.5px,#8bff74 68.5px,#19ffe6 74.5px,#01fffe 75.5px,#00a4ff 77.5px,#0052ff 79.5px,#0000fd 82.5px,#00009f 85.5px,#00008f 86.5px)"></i>
<i style="left:267px;top:252px;width:87px;height:3px;background:linear-gradient(90deg,#00008f 0.5px,#00009d 1.5px,#0000f7 4.5px,#0016ff 5.5px,#004eff 7.5px,#009eff 9.5px,#00fcff 11.5px,#18ffe7 12.5px,#8cff73 18.5px,#f6ff09 24.5px,#fff600 25.5px,#ff9f00 29.5px,#ff4900 32.5px,#f00 35.5px,#f20000 36.5px,#b20000 43.5px,#f00 51.5px,#ff4900 54.5px,#ff9f00 57.5px,#fff600 61.5px,#f6ff09 62.5px,#8cff73 68.5px,#00fcff 75.5px,#009eff 77.5px,#004eff 79.5px,#0016ff 81.5px,#0000f7 82.5px,#00009d 85.5px,#00008f 86.5px)"></i>
<i style="left:267px;top:255px;width:87px;height:3px;background:linear-gradient(90deg,#00008f 0.5px,#00009c 1.5px,#0000cf 3.5px,#0000f0 4.5px,#01f 5.5px,#004bff 7.5px,#0098ff 9.5px,#00f8ff 11.5px,#17ffe8 12.5px,#7bff84 17.5px,#f9ff06 24.5px,#fff300 25.5px,#ff9c00 29.5px,#ff4200 32.5px,#fd0000 35.5px,#b20000 43.5px,#fd0000 51.5px,#ff4200 54.5px,#ff9c00 57.5px,#fff300 61.5px,#f9ff06 62.5px,#8eff71 68.5px,#17ffe8 74.5px,#00f8ff 75.5px,#0098ff 77.5px,#004bff 79.5px,#01f 81.5px,#0000f0 82.5px,#0000cf 83.5px,#00009c 85.5px,#00008f 86.5px)"></i>
<i style="left:267px;top:258px;width:87px;height:3px;background:linear-gradient(90deg,#00008f 0.5px,#00009b 1.5px,#0000c9 3.5px,#0000e9 4.5px,#000cff 5.5px,#002eff 6.5px,#0047ff 7.5px,#0091ff 9.5px,#00f4ff 11.5px,#15ffea 12.5px,#7cff83 17.5px,#fcff03 24.5px,#ffdb00 26.5px,#f90 29.5px,#ff3c00 32.5px,#fb0000 35.5px,#b20000 43.5px,#fb0000 51.5px,#ff3c00 54.5px,#f90 57.5px,#ffef00 61.5px,#fcff03 62.5px,#7cff83 69.5px,#15ffea 74.5px,#00f4ff 75.5px,#0091ff 77.5px,#0047ff 79.5px,#002eff 80.5px,#000cff 81.5px,#0000e9 82.5px,#0000c9 83.5px,#00009b 85.5px,#00008f 86.5px)"></i>
<i style="left:267px;top:261px;width:87px;height:3px;background:linear-gradient(90deg,#00008f 0.5px,#00009a 1.5px,#0000c3 3.5px,#0007ff 5.5px,#002bff 6.5px,#04f 7.5px,#008bff 9.5px,#00f0ff 11.5px,#14ffeb 12.5px,#7dff82 17.5px,#fffe00 24.5px,#ff9600 29.5px,#ff3500 32.5px,#f90000 35.5px,#b20000 43.5px,#f90000 51.5px,#ff3500 54.5px,#ff9600 57.5px,#fffe00 62.5px,#7dff82 69.5px,#14ffeb 74.5px,#00f0ff 75.5px,#008bff 77.5px,#04f 79.5px,#002bff 80.5px,#0007ff 81.5px,#0000c3 83.5px,#00009a 85.5px,#00008f 86.5px)"></i>
<i style="left:267px;top:264px;width:87px;height:3px;background:linear-gradient(90deg,#00008f 0.5px,#000098 1.5px,#0000bc 3.5px,#0002ff 5.5px,#0027ff 6.5px,#0040ff 7.5px,#0085ff 9.5px,#00ecff 11.5px,#13ffec 12.5px,#7fff80 17.5px,#fffb00 24.5px,#ff9200 29.5px,#ff2e00 32.5px,#ff0a00 34.5px,#f70000 35.5px,#b20000 43.5px,#f70000 51.5px,#ff0a00 52.5px,#ff2e00 54.5px,#ff9200 57.5px,#fffb00 62.5px,#7fff80 69.5px,#13ffec 74.5px,#00ecff 75.5px,#0085ff 77.5px,#0040ff 79.5px,#0027ff 80.5px,#0002ff 81.5px,#0000bc 83.5px,#000098 85.5px,#00008f 86.5px)"></i>
<i style="left:267px;top:267px;width:87px;height:3px;background:linear-gradient(90deg,#00008f 0.5px,#000097 1.5px,#0000b6 3.5px,#0000d4 4.5px,#0000fb 5.5px,#007fff 9.5px,#00e8ff 11.5px,#12ffed 12.5px,#80ff7f 17.5px,#f3ff0c 23.5px,#fff800 24.5px,#ff8f00 29.5px,#ff2700 32.5px,#ff0700 34.5px,#f50000 35.5px,#b20000 43.5px,#f50000 51.5px,#ff0700 52.5px,#ff2700 54.5px,#ff8f00 57.5px,#fff800 62.5px,#f3ff0c 63.5px,#80ff7f 69.5px,#12ffed 74.5px,#00e8ff 75.5px,#007fff 77.5px,#0000fb 81.5px,#0000d4 82.5px,#0000b6 83.5px,#000097 85.5px,#00008f 86.5px)"></i>
<i style="left:267px;top:270px;width:87px;height:3px;background:linear-gradient(90deg,#00008f 0.5px,#000096 1.5px,#0000b0 3.5px,#0000cd 4.5px,#0000f6 5.5px,#0020ff 6.5px,#0039ff 7.5px,#0079ff 9.5px,#00e4ff 11.5px,#10ffef 12.5px,#81ff7e 17.5px,#f6ff09 23.5px,#fff500 24.5px,#ff8c00 29.5px,#ff2100 32.5px,#ff0300 34.5px,#f30000 35.5px,#b20000 43.5px,#e90000 50.5px,#ff0300 52.5px,#ff2100 54.5px,#ff8c00 57.5px,#fff500 62.5px,#f6ff09 63.5px,#81ff7e 69.5px,#10ffef 74.5px,#00e4ff 75.5px,#0079ff 77.5px,#0039ff 79.5px,#0020ff 80.5px,#0000f6 81.5px,#0000cd 82.5px,#0000b0 83.5px,#000096 85.5px,#00008f 86.5px)"></i>
<i style="left:267px;top:273px;width:87px;height:3px;background:linear-gradient(90deg,#00008f 0.5px,#0000a9 3.5px,#0000c6 4.5px,#0000f1 5.5px,#001dff 6.5px,#0073ff 9.5px,#00dfff 11.5px,#0ffff0 12.5px,#82ff7d 17.5px,#f9ff06 23.5px,#ffde00 25.5px,#ff8900 29.5px,#ff1a00 32.5px,#fe0000 34.5px,#e80000 36.5px,#b20000 43.5px,#e80000 50.5px,#fe0000 52.5px,#ff1a00 54.5px,#ff8900 57.5px,#fff100 62.5px,#f9ff06 63.5px,#96ff69 68.5px,#0ffff0 74.5px,#00dfff 75.5px,#0073ff 77.5px,#001dff 80.5px,#0000f1 81.5px,#0000c6 82.5px,#0000a9 83.5px,#00008f 86.5px)"></i>
<i style="left:267px;top:276px;width:87px;height:3px;background:linear-gradient(90deg,#00008f 0.5px,#0000a3 3.5px,#0000bf 4.5px,#0000eb 5.5px,#0019ff 6.5px,#006dff 9.5px,#00dbff 11.5px,#0efff1 12.5px,#84ff7b 17.5px,#fcff03 23.5px,#ff8600 29.5px,#ff1300 32.5px,#fb0000 34.5px,#e60000 36.5px,#b20000 43.5px,#e60000 50.5px,#fb0000 52.5px,#ff0800 53.5px,#ff1300 54.5px,#ff8600 57.5px,#fe0 62.5px,#fcff03 63.5px,#98ff67 68.5px,#0efff1 74.5px,#00dbff 75.5px,#006dff 77.5px,#0019ff 80.5px,#0000eb 81.5px,#0000bf 82.5px,#0000a3 83.5px,#00008f 86.5px)"></i>
<i style="left:267px;top:279px;width:87px;height:3px;background:linear-gradient(90deg,#00008f 0.5px,#00009d 3.5px,#0000b8 4.5px,#0000e6 5.5px,#0016ff 6.5px,#0067ff 9.5px,#00d7ff 11.5px,#0dfff2 12.5px,#85ff7a 17.5px,#feff01 23.5px,#ff8200 29.5px,#ff0d00 32.5px,#f70000 34.5px,#b20000 43.5px,#ff0200 53.5px,#ff0d00 54.5px,#ff8200 57.5px,#ffeb00 62.5px,#feff01 63.5px,#eaff15 64.5px,#85ff7a 69.5px,#0dfff2 74.5px,#00d7ff 75.5px,#0067ff 77.5px,#0016ff 80.5px,#0000e6 81.5px,#0000b8 82.5px,#00009d 83.5px,#00008f 86.5px)"></i>
<i style="left:268px;top:282px;width:85px;height:3px;background:linear-gradient(90deg,#000091 0.5px,#000097 2.5px,#0000b1 3.5px,#0000e1 4.5px,#0012ff 5.5px,#0060ff 8.5px,#00d3ff 10.5px,#0bfff4 11.5px,#86ff79 16.5px,#fffc00 22.5px,#ff7f00 28.5px,#ff0600 31.5px,#fc0000 32.5px,#b20000 42.5px,#fc0000 52.5px,#ff0600 53.5px,#ff7f00 56.5px,#fffc00 62.5px,#86ff79 68.5px,#0bfff4 73.5px,#00d3ff 74.5px,#0060ff 76.5px,#0012ff 79.5px,#0000e1 80.5px,#0000b1 81.5px,#000097 82.5px,#000091 84.5px)"></i>
<i style="left:270px;top:285px;width:81px;height:6px;background:linear-gradient(90deg,#000090 0.5px,#00a 1.5px,#0000dc 2.5px,#000eff 3.5px,#005bff 6.5px,#00d0ff 8.5px,#0afff5 9.5px,#87ff78 14.5px,#f0ff0f 19.5px,#fff900 20.5px,#ff7c00 26.5px,#fe0000 29.5px,#f70000 30.5px,#b20000 40.5px,#fe0000 51.5px,#ff7c00 54.5px,#fff900 60.5px,#f0ff0f 61.5px,#87ff78 66.5px,#0afff5 71.5px,#00d0ff 72.5px,#005bff 74.5px,#000eff 77.5px,#0000dc 78.5px,#00a 79.5px,#000090 80.5px)"></i>
<i style="left:269px;top:291px;width:83px;height:6px;background:linear-gradient(90deg,#00008f 0.5px,#000091 1.5px,#0000ac 2.5px,#0000dc 3.5px,#000eff 4.5px,#005dff 7.5px,#00d3ff 9.5px,#0cfff3 10.5px,#87ff78 15.5px,#f2ff0d 20.5px,#fff700 21.5px,#ff7c00 27.5px,#ff0400 30.5px,#fa0000 31.5px,#b20000 41.5px,#ff0400 52.5px,#ff7c00 55.5px,#fff700 61.5px,#f2ff0d 62.5px,#87ff78 67.5px,#0cfff3 72.5px,#00d3ff 73.5px,#005dff 75.5px,#000eff 78.5px,#0000dc 79.5px,#0000ac 80.5px,#000091 81.5px,#00008f 82.5px)"></i>
<i style="left:269px;top:297px;width:83px;height:6px;background:linear-gradient(90deg,#00008f 0.5px,#000092 1.5px,#0000af 2.5px,#0000de 3.5px,#000eff 4.5px,#0061ff 7.5px,#00d7ff 9.5px,#0dfff2 10.5px,#87ff78 15.5px,#f4ff0b 20.5px,#fff600 21.5px,#ff7c00 27.5px,#ff0900 30.5px,#fd0000 31.5px,#b20000 41.5px,#fd0000 51.5px,#ff0900 52.5px,#ff7c00 55.5px,#fff600 61.5px,#f4ff0b 62.5px,#87ff78 67.5px,#0dfff2 72.5px,#00d7ff 73.5px,#0061ff 75.5px,#000eff 78.5px,#0000de 79.5px,#0000af 80.5px,#000092 81.5px,#00008f 82.5px)"></i>
<i style="left:269px;top:303px;width:83px;height:6px;background:linear-gradient(90deg,#00008f 0.5px,#000094 1.5px,#0000b1 2.5px,#0000df 3.5px,#000eff 4.5px,#0064ff 7.5px,#00dbff 9.5px,#0ffff0 10.5px,#87ff78 15.5px,#f5ff0a 20.5px,#fff400 21.5px,#ff7c00 27.5px,#ff0f00 30.5px,#ff0100 31.5px,#f30000 32.5px,#b20000 41.5px,#ff0100 51.5px,#ff0f00 52.5px,#ff7c00 55.5px,#fff400 61.5px,#f5ff0a 62.5px,#87ff78 67.5px,#0ffff0 72.5px,#00dbff 73.5px,#0064ff 75.5px,#000eff 78.5px,#0000df 79.5px,#0000b1 80.5px,#000094 81.5px,#00008f 82.5px)"></i>
<i style="left:269px;top:309px;width:83px;height:6px;background:linear-gradient(90deg,#00008f 0.5px,#000095 1.5px,#0000b4 2.5px,#0000e1 3.5px,#000eff 4.5px,#0045ff 6.5px,#0068ff 7.5px,#00dfff 9.5px,#10ffef 10.5px,#f7ff08 20.5px,#fff300 21.5px,#ff7c00 27.5px,#ff1400 30.5px,#ff0300 31.5px,#f50000 32.5px,#b20000 41.5px,#ff0300 51.5px,#ff1400 52.5px,#ff7c00 55.5px,#fff300 61.5px,#f7ff08 62.5px,#10ffef 72.5px,#00dfff 73.5px,#0068ff 75.5px,#0045ff 76.5px,#000eff 78.5px,#0000e1 79.5px,#0000b4 80.5px,#000095 81.5px,#00008f 82.5px)"></i>
<i style="left:269px;top:315px;width:83px;height:6px;background:linear-gradient(90deg,#00008f 0.5px,#000096 1.5px,#0000b7 2.5px,#0000e2 3.5px,#000eff 4.5px,#0046ff 6.5px,#006bff 7.5px,#00e3ff 9.5px,#12ffed 10.5px,#f8ff07 20.5px,#fff100 21.5px,#ff7c00 27.5px,#ff1900 30.5px,#ff0600 31.5px,#f60000 32.5px,#b20000 41.5px,#f60000 50.5px,#ff0600 51.5px,#ff1900 52.5px,#ff7c00 55.5px,#fff100 61.5px,#f8ff07 62.5px,#12ffed 72.5px,#00e3ff 73.5px,#006bff 75.5px,#0046ff 76.5px,#000eff 78.5px,#0000e2 79.5px,#0000b7 80.5px,#000096 81.5px,#00008f 82.5px)"></i>
<i style="left:269px;top:321px;width:83px;height:6px;background:linear-gradient(90deg,#00008f 0.5px,#000098 1.5px,#0000e3 3.5px,#000eff 4.5px,#0047ff 6.5px,#006fff 7.5px,#00e7ff 9.5px,#14ffeb 10.5px,#faff05 20.5px,#fff000 21.5px,#ff7c00 27.5px,#ff1e00 30.5px,#ff0900 31.5px,#f70000 32.5px,#b20000 41.5px,#f70000 50.5px,#ff0900 51.5px,#ff1e00 52.5px,#ff7c00 55.5px,#fff000 61.5px,#faff05 62.5px,#14ffeb 72.5px,#00e7ff 73.5px,#006fff 75.5px,#0047ff 76.5px,#000eff 78.5px,#0000e3 79.5px,#000098 81.5px,#00008f 82.5px)"></i>
<i style="left:269px;top:327px;width:83px;height:6px;background:linear-gradient(90deg,#00008f 0.5px,#009 1.5px,#0000e5 3.5px,#000eff 4.5px,#0048ff 6.5px,#0072ff 7.5px,#00ebff 9.5px,#15ffea 10.5px,#fbff04 20.5px,#ff7c00 27.5px,#ff2400 30.5px,#ff0c00 31.5px,#f90000 32.5px,#b20000 41.5px,#f90000 50.5px,#ff0c00 51.5px,#ff2400 52.5px,#ff7c00 55.5px,#fe0 61.5px,#fbff04 62.5px,#15ffea 72.5px,#00ebff 73.5px,#0072ff 75.5px,#0048ff 76.5px,#000eff 78.5px,#0000e5 79.5px,#009 81.5px,#00008f 82.5px)"></i>
<i style="left:269px;top:333px;width:83px;height:6px;background:linear-gradient(90deg,#00008f 0.5px,#00009a 1.5px,#0000e6 3.5px,#000eff 4.5px,#004aff 6.5px,#0076ff 7.5px,#00efff 9.5px,#17ffe8 10.5px,#fdff02 20.5px,#ff7c00 27.5px,#ff0f00 31.5px,#fa0000 32.5px,#b20000 41.5px,#fa0000 50.5px,#ff0f00 51.5px,#ff7c00 55.5px,#ffed00 61.5px,#fdff02 62.5px,#17ffe8 72.5px,#00efff 73.5px,#0076ff 75.5px,#004aff 76.5px,#000eff 78.5px,#0000e6 79.5px,#00009a 81.5px,#00008f 82.5px)"></i>
<i style="left:266px;top:339px;width:89px;height:2px;background:linear-gradient(90deg,#000091 0.5px,#000092 3.5px,#00009e 4.5px,#0000ea 6.5px,#01f 7.5px,#004eff 9.5px,#007bff 10.5px,#00f3ff 12.5px,#19ffe6 13.5px,#ff0 23.5px,#ff7a00 30.5px,#ff1000 34.5px,#fa0000 35.5px,#b20000 44.5px,#fa0000 53.5px,#ff1000 54.5px,#ff7a00 58.5px,#ff0 65.5px,#19ffe6 75.5px,#00f3ff 76.5px,#007bff 78.5px,#004eff 79.5px,#01f 81.5px,#0000ea 82.5px,#00009e 84.5px,#000092 85.5px,#000091 88.5px)"></i>
<i style="left:264px;top:341px;width:93px;height:2px;background:linear-gradient(90deg,#00008f 0.5px,#000097 5.5px,#0000a3 6.5px,#0000f0 8.5px,#0018ff 9.5px,#05f 11.5px,#0081ff 12.5px,#00f6ff 14.5px,#1cffe3 15.5px,#fffd00 25.5px,#ff7800 32.5px,#ff0f00 36.5px,#fa0000 37.5px,#b20000 46.5px,#fa0000 55.5px,#ff0f00 56.5px,#ff7800 60.5px,#fffd00 67.5px,#1cffe3 77.5px,#00f6ff 78.5px,#0081ff 80.5px,#05f 81.5px,#0018ff 83.5px,#0000f0 84.5px,#0000a3 86.5px,#000097 87.5px,#00008f 92.5px)"></i>
<i style="left:264px;top:343px;width:93px;height:2px;background:linear-gradient(90deg,#00008f 0.5px,#00009c 5.5px,#0000a9 6.5px,#0000f6 8.5px,#001fff 9.5px,#005cff 11.5px,#08f 12.5px,#00faff 14.5px,#1fffe0 15.5px,#fffb00 25.5px,#ff7600 32.5px,#ff0e00 36.5px,#fa0000 37.5px,#b20000 46.5px,#fa0000 55.5px,#ff0e00 56.5px,#ff7600 60.5px,#fffb00 67.5px,#1fffe0 77.5px,#00faff 78.5px,#08f 80.5px,#005cff 81.5px,#001fff 83.5px,#0000f6 84.5px,#0000a9 86.5px,#00009c 87.5px,#00008f 92.5px)"></i>
<i style="left:264px;top:345px;width:93px;height:2px;background:linear-gradient(90deg,#00008f 0.5px,#0000a2 5.5px,#0000af 6.5px,#0000fc 8.5px,#0047ff 10.5px,#0064ff 11.5px,#008eff 12.5px,#00feff 14.5px,#2fd 15.5px,#ef1 24.5px,#fff900 25.5px,#ff7400 32.5px,#ff0e00 36.5px,#f90000 37.5px,#b20000 46.5px,#f90000 55.5px,#ff0e00 56.5px,#ff7400 60.5px,#fff900 67.5px,#ef1 68.5px,#2fd 77.5px,#00feff 78.5px,#008eff 80.5px,#0064ff 81.5px,#0047ff 82.5px,#0000fc 84.5px,#0000af 86.5px,#0000a2 87.5px,#00008f 92.5px)"></i>
<i style="left:264px;top:347px;width:93px;height:2px;background:linear-gradient(90deg,#00008f 0.5px,#0000a7 5.5px,#0000b4 6.5px,#0003ff 8.5px,#002cff 9.5px,#006bff 11.5px,#0095ff 12.5px,#02fffd 14.5px,#26ffd9 15.5px,#f0ff0f 24.5px,#fff700 25.5px,#ff7200 32.5px,#ff0d00 36.5px,#f90000 37.5px,#b20000 46.5px,#f90000 55.5px,#ff0d00 56.5px,#ff7200 60.5px,#fff700 67.5px,#f0ff0f 68.5px,#26ffd9 77.5px,#02fffd 78.5px,#0095ff 80.5px,#006bff 81.5px,#002cff 83.5px,#0003ff 84.5px,#0000b4 86.5px,#0000a7 87.5px,#00008f 92.5px)"></i>
<i style="left:264px;top:349px;width:93px;height:2px;background:linear-gradient(90deg,#00008f 0.5px,#0000ac 5.5px,#0000ba 6.5px,#0000de 7.5px,#0009ff 8.5px,#0032ff 9.5px,#0072ff 11.5px,#009bff 12.5px,#06fff9 14.5px,#29ffd6 15.5px,#f2ff0d 24.5px,#fff500 25.5px,#ff7000 32.5px,#ff0c00 36.5px,#f80000 37.5px,#b20000 46.5px,#f80000 55.5px,#ff0c00 56.5px,#ff7000 60.5px,#fff500 67.5px,#f2ff0d 68.5px,#29ffd6 77.5px,#06fff9 78.5px,#00d0ff 79.5px,#009bff 80.5px,#0072ff 81.5px,#0056ff 82.5px,#0009ff 84.5px,#0000de 85.5px,#0000ba 86.5px,#0000ac 87.5px,#00008f 92.5px)"></i>
<i style="left:264px;top:351px;width:93px;height:2px;background:linear-gradient(90deg,#00008f 0.5px,#0000b1 5.5px,#0000c0 6.5px,#0000e3 7.5px,#000eff 8.5px,#0039ff 9.5px,#005eff 10.5px,#007aff 11.5px,#00a2ff 12.5px,#00d5ff 13.5px,#0afff5 14.5px,#2cffd3 15.5px,#f4ff0b 24.5px,#fff300 25.5px,#ff6d00 32.5px,#ff0b00 36.5px,#f80000 37.5px,#b20000 46.5px,#f80000 55.5px,#ff0b00 56.5px,#ff6d00 60.5px,#fff300 67.5px,#f4ff0b 68.5px,#2cffd3 77.5px,#0afff5 78.5px,#00d5ff 79.5px,#00a2ff 80.5px,#007aff 81.5px,#005eff 82.5px,#000eff 84.5px,#0000e3 85.5px,#0000c0 86.5px,#0000b1 87.5px,#00008f 92.5px)"></i>
<i style="left:264px;top:353px;width:93px;height:2px;background:linear-gradient(90deg,#00008f 0.5px,#0000b6 5.5px,#0000c5 6.5px,#0000e8 7.5px,#0014ff 8.5px,#0065ff 10.5px,#0081ff 11.5px,#00a8ff 12.5px,#00daff 13.5px,#0efff1 14.5px,#2fffd0 15.5px,#f6ff09 24.5px,#fff200 25.5px,#ff6b00 32.5px,#ff0a00 36.5px,#f80000 37.5px,#b20000 46.5px,#f80000 55.5px,#ff0a00 56.5px,#ff6b00 60.5px,#fff200 67.5px,#f6ff09 68.5px,#2fffd0 77.5px,#0efff1 78.5px,#00daff 79.5px,#00a8ff 80.5px,#0081ff 81.5px,#0065ff 82.5px,#0014ff 84.5px,#0000e8 85.5px,#0000c5 86.5px,#0000b6 87.5px,#00008f 92.5px)"></i>
<i style="left:264px;top:355px;width:93px;height:2px;background:linear-gradient(90deg,#00008f 0.5px,#0000bc 5.5px,#0000cb 6.5px,#0000ed 7.5px,#001aff 8.5px,#006dff 10.5px,#08f 11.5px,#00aeff 12.5px,#00dfff 13.5px,#1fe 14.5px,#32ffcd 15.5px,#f8ff07 24.5px,#fff000 25.5px,#ff6900 32.5px,#ff0900 36.5px,#f70000 37.5px,#b20000 46.5px,#f70000 55.5px,#ff0900 56.5px,#ff6900 60.5px,#fff000 67.5px,#f8ff07 68.5px,#32ffcd 77.5px,#1fe 78.5px,#00dfff 79.5px,#00aeff 80.5px,#08f 81.5px,#006dff 82.5px,#001aff 84.5px,#0000ed 85.5px,#0000cb 86.5px,#0000bc 87.5px,#00008f 92.5px)"></i>
<i style="left:264px;top:357px;width:93px;height:2px;background:linear-gradient(90deg,#00008f 0.5px,#0000c1 5.5px,#0000d1 6.5px,#0000f2 7.5px,#0020ff 8.5px,#0074ff 10.5px,#0090ff 11.5px,#00b5ff 12.5px,#00e4ff 13.5px,#15ffea 14.5px,#35ffca 15.5px,#faff05 24.5px,#fe0 25.5px,#ff6700 32.5px,#ff0800 36.5px,#f70000 37.5px,#b20000 46.5px,#f70000 55.5px,#ff0800 56.5px,#ff6700 60.5px,#fe0 67.5px,#faff05 68.5px,#35ffca 77.5px,#15ffea 78.5px,#00e4ff 79.5px,#00b5ff 80.5px,#0090ff 81.5px,#0074ff 82.5px,#0020ff 84.5px,#0000f2 85.5px,#0000d1 86.5px,#0000c1 87.5px,#00008f 92.5px)"></i>
<i style="left:264px;top:359px;width:93px;height:2px;background:linear-gradient(90deg,#00008f 0.5px,#0000c6 5.5px,#0000d6 6.5px,#0000f8 7.5px,#0026ff 8.5px,#007cff 10.5px,#0097ff 11.5px,#0bf 12.5px,#00eaff 13.5px,#19ffe6 14.5px,#38ffc7 15.5px,#fcff03 24.5px,#ff6500 32.5px,#ff1b00 35.5px,#ff0700 36.5px,#f70000 37.5px,#b20000 46.5px,#f70000 55.5px,#ff0700 56.5px,#ff6500 60.5px,#ffec00 67.5px,#fcff03 68.5px,#38ffc7 77.5px,#19ffe6 78.5px,#00eaff 79.5px,#0bf 80.5px,#0097ff 81.5px,#007cff 82.5px,#0026ff 84.5px,#0000f8 85.5px,#0000d6 86.5px,#0000c6 87.5px,#00008f 92.5px)"></i>
<i style="left:264px;top:361px;width:93px;height:2px;background:linear-gradient(90deg,#00008f 0.5px,#0000cb 5.5px,#0000dc 6.5px,#0000fd 7.5px,#0084ff 10.5px,#009eff 11.5px,#00c2ff 12.5px,#00efff 13.5px,#1dffe2 14.5px,#3cffc3 15.5px,#feff01 24.5px,#ff6300 32.5px,#ff1900 35.5px,#ff0700 36.5px,#f60000 37.5px,#b20000 46.5px,#f60000 55.5px,#ff0700 56.5px,#ff1900 57.5px,#ff6300 60.5px,#ffea00 67.5px,#feff01 68.5px,#3cffc3 77.5px,#1dffe2 78.5px,#00efff 79.5px,#00c2ff 80.5px,#009eff 81.5px,#0084ff 82.5px,#0000fd 85.5px,#0000dc 86.5px,#0000cb 87.5px,#00008f 92.5px)"></i>
<i style="left:264px;top:363px;width:93px;height:2px;background:linear-gradient(90deg,#00008f 0.5px,#0000d0 5.5px,#0000e2 6.5px,#0003ff 7.5px,#008bff 10.5px,#00a5ff 11.5px,#00c8ff 12.5px,#00f4ff 13.5px,#20ffdf 14.5px,#3fffc0 15.5px,#fffd00 24.5px,#ff6000 32.5px,#ff1800 35.5px,#ff0600 36.5px,#f60000 37.5px,#b20000 46.5px,#f60000 55.5px,#ff0600 56.5px,#ff1800 57.5px,#ff6000 60.5px,#fffd00 68.5px,#3fffc0 77.5px,#20ffdf 78.5px,#00f4ff 79.5px,#00c8ff 80.5px,#00a5ff 81.5px,#008bff 82.5px,#0003ff 85.5px,#0000e2 86.5px,#0000d0 87.5px,#00008f 92.5px)"></i>
<i style="left:264px;top:365px;width:93px;height:2px;background:linear-gradient(90deg,#00008f 0.5px,#0000d6 5.5px,#0000e7 6.5px,#0008ff 7.5px,#0093ff 10.5px,#00adff 11.5px,#00cfff 12.5px,#00f9ff 13.5px,#24ffdb 14.5px,#42ffbd 15.5px,#fffb00 24.5px,#ff5e00 32.5px,#ff1600 35.5px,#ff0500 36.5px,#f50000 37.5px,#b20000 46.5px,#f50000 55.5px,#ff0500 56.5px,#ff1600 57.5px,#ff5e00 60.5px,#fffb00 68.5px,#42ffbd 77.5px,#00f9ff 79.5px,#00cfff 80.5px,#00adff 81.5px,#0093ff 82.5px,#0008ff 85.5px,#0000e7 86.5px,#0000d6 87.5px,#00008f 92.5px)"></i>
<i style="left:264px;top:367px;width:93px;height:2px;background:linear-gradient(90deg,#00008f 0.5px,#0000ed 6.5px,#000eff 7.5px,#009bff 10.5px,#00b4ff 11.5px,#00feff 13.5px,#28ffd7 14.5px,#5bffa4 16.5px,#efff10 23.5px,#fff900 24.5px,#ff5c00 32.5px,#ff1500 35.5px,#ff0400 36.5px,#f50000 37.5px,#b20000 46.5px,#ff0400 56.5px,#ff1500 57.5px,#ff5c00 60.5px,#fff900 68.5px,#efff10 69.5px,#45ffba 77.5px,#28ffd7 78.5px,#00feff 79.5px,#00b4ff 81.5px,#009bff 82.5px,#000eff 85.5px,#0000ed 86.5px,#00008f 92.5px)"></i>
<i style="left:264px;top:369px;width:93px;height:2px;background:linear-gradient(90deg,#00008f 0.5px,#0000f3 6.5px,#0013ff 7.5px,#00a2ff 10.5px,#0bf 11.5px,#04fffb 13.5px,#2bffd4 14.5px,#48ffb7 15.5px,#f2ff0d 23.5px,#fff700 24.5px,#ff5a00 32.5px,#ff1300 35.5px,#ff0300 36.5px,#f50000 37.5px,#b20000 46.5px,#ff0300 56.5px,#ff1300 57.5px,#ff5a00 60.5px,#fff700 68.5px,#f2ff0d 69.5px,#48ffb7 77.5px,#2bffd4 78.5px,#04fffb 79.5px,#0bf 81.5px,#00a2ff 82.5px,#0013ff 85.5px,#0000f3 86.5px,#00008f 92.5px)"></i>
<i style="left:264px;top:371px;width:93px;height:2px;background:linear-gradient(90deg,#00008f 0.5px,#0000f8 6.5px,#0018ff 7.5px,#0af 10.5px,#00e2ff 12.5px,#09fff6 13.5px,#2fffd0 14.5px,#4bffb4 15.5px,#f4ff0b 23.5px,#fff500 24.5px,#ff5800 32.5px,#ff1200 35.5px,#ff0200 36.5px,#f40000 37.5px,#b20000 46.5px,#ff0200 56.5px,#ff1200 57.5px,#ff5800 60.5px,#fff500 68.5px,#f4ff0b 69.5px,#4bffb4 77.5px,#2fffd0 78.5px,#09fff6 79.5px,#00e2ff 80.5px,#0af 82.5px,#0018ff 85.5px,#0000f8 86.5px,#00008f 92.5px)"></i>
<i style="left:264px;top:373px;width:93px;height:2px;background:linear-gradient(90deg,#00008f 0.5px,#0000fe 6.5px,#001dff 7.5px,#00b1ff 10.5px,#00e9ff 12.5px,#0efff1 13.5px,#3fc 14.5px,#4effb1 15.5px,#f6ff09 23.5px,#fff300 24.5px,#ff9200 29.5px,#ff5600 32.5px,#ff1000 35.5px,#ff0100 36.5px,#f40000 37.5px,#b20000 46.5px,#ff0100 56.5px,#ff1000 57.5px,#ff5600 60.5px,#fff300 68.5px,#f6ff09 69.5px,#4effb1 77.5px,#3fc 78.5px,#0efff1 79.5px,#00e9ff 80.5px,#00b1ff 82.5px,#001dff 85.5px,#0000fe 86.5px,#00008f 92.5px)"></i>
<i style="left:264px;top:375px;width:93px;height:2px;background:linear-gradient(90deg,#00008f 0.5px,#0000e0 4.5px,#0005ff 6.5px,#02f 7.5px,#00b9ff 10.5px,#00efff 12.5px,#13ffec 13.5px,#37ffc8 14.5px,#52ffad 15.5px,#f9ff06 23.5px,#fff100 24.5px,#ff9000 29.5px,#ff5300 32.5px,#ff0e00 35.5px,#f00 36.5px,#f30000 37.5px,#b20000 46.5px,#f00 56.5px,#ff0e00 57.5px,#ff5300 60.5px,#fff100 68.5px,#f9ff06 69.5px,#67ff98 76.5px,#37ffc8 78.5px,#13ffec 79.5px,#00efff 80.5px,#00b9ff 82.5px,#02f 85.5px,#0005ff 86.5px,#0000e0 88.5px,#00008f 92.5px)"></i>
<i style="left:264px;top:377px;width:93px;height:2px;background:linear-gradient(90deg,#00008f 0.5px,#0000e4 4.5px,#0000f5 5.5px,#000aff 6.5px,#0028ff 7.5px,#00c1ff 10.5px,#00f5ff 12.5px,#18ffe7 13.5px,#5fa 15.5px,#fbff04 23.5px,#ff8e00 29.5px,#ff0d00 35.5px,#f00 36.5px,#b20000 46.5px,#f00 56.5px,#ff0d00 57.5px,#ff5100 60.5px,#ffef00 68.5px,#fbff04 69.5px,#6aff95 76.5px,#3affc5 78.5px,#18ffe7 79.5px,#00f5ff 80.5px,#00c1ff 82.5px,#0028ff 85.5px,#000aff 86.5px,#0000f5 87.5px,#0000e4 88.5px,#00008f 92.5px)"></i>
<i style="left:264px;top:379px;width:93px;height:2px;background:linear-gradient(90deg,#00008f 0.5px,#0000e8 4.5px,#0000fa 5.5px,#0010ff 6.5px,#002dff 7.5px,#00c8ff 10.5px,#00fcff 12.5px,#1dffe2 13.5px,#58ffa7 15.5px,#fdff02 23.5px,#ff4f00 32.5px,#ff0b00 35.5px,#fe0000 36.5px,#b20000 46.5px,#fe0000 56.5px,#ff0b00 57.5px,#ff4f00 60.5px,#ffed00 68.5px,#fdff02 69.5px,#6dff92 76.5px,#3effc1 78.5px,#00fcff 80.5px,#00c8ff 82.5px,#002dff 85.5px,#0010ff 86.5px,#0000fa 87.5px,#0000e8 88.5px,#00008f 92.5px)"></i>
<i style="left:264px;top:381px;width:93px;height:2px;background:linear-gradient(90deg,#00008f 0.5px,#0000ec 4.5px,#0001fe 5.5px,#0016ff 6.5px,#0032ff 7.5px,#00d0ff 10.5px,#03fffc 12.5px,#5bffa4 15.5px,#ff0 23.5px,#ff4d00 32.5px,#ff0a00 35.5px,#fd0000 36.5px,#b20000 46.5px,#fd0000 56.5px,#ff0a00 57.5px,#ff4d00 60.5px,#ffea00 68.5px,#ff0 69.5px,#70ff8f 76.5px,#42ffbd 78.5px,#03fffc 80.5px,#00d0ff 82.5px,#0032ff 85.5px,#0016ff 86.5px,#0001fe 87.5px,#0000ec 88.5px,#00008f 92.5px)"></i>
<i style="left:264px;top:383px;width:93px;height:2px;background:linear-gradient(90deg,#00008f 0.5px,#0000f1 4.5px,#0005ff 5.5px,#0037ff 7.5px,#00d7ff 10.5px,#0ef 11.5px,#0afff5 12.5px,#5effa1 15.5px,#fffc00 23.5px,#f80 29.5px,#ff0800 35.5px,#fc0000 36.5px,#b20000 46.5px,#fc0000 56.5px,#ff0800 57.5px,#f80 63.5px,#fffc00 69.5px,#5effa1 77.5px,#0afff5 80.5px,#0ef 81.5px,#00d7ff 82.5px,#0037ff 85.5px,#0005ff 87.5px,#0000f1 88.5px,#00008f 92.5px)"></i>
<i style="left:264px;top:385px;width:93px;height:2px;background:linear-gradient(90deg,#00008f 0.5px,#0000f5 4.5px,#000aff 5.5px,#003dff 7.5px,#00dfff 10.5px,#00f6ff 11.5px,#10ffef 12.5px,#61ff9e 15.5px,#f0ff0f 22.5px,#fffa00 23.5px,#ff8600 29.5px,#ff0700 35.5px,#fb0000 36.5px,#b20000 46.5px,#fb0000 56.5px,#ff0700 57.5px,#ff8600 63.5px,#fffa00 69.5px,#f0ff0f 70.5px,#61ff9e 77.5px,#10ffef 80.5px,#00f6ff 81.5px,#00dfff 82.5px,#003dff 85.5px,#000aff 87.5px,#0000f5 88.5px,#00008f 92.5px)"></i>
<i style="left:264px;top:387px;width:93px;height:2px;background:linear-gradient(90deg,#00008f 0.5px,#0000f9 4.5px,#0010ff 5.5px,#0042ff 7.5px,#00e7ff 10.5px,#00fdff 11.5px,#17ffe8 12.5px,#4dffb2 14.5px,#7aff85 16.5px,#f2ff0d 22.5px,#fff800 23.5px,#ff8400 29.5px,#ff0500 35.5px,#fa0000 36.5px,#b20000 46.5px,#fa0000 56.5px,#ff0500 57.5px,#ff8400 63.5px,#fff800 69.5px,#f2ff0d 70.5px,#64ff9b 77.5px,#00fdff 81.5px,#00e7ff 82.5px,#0042ff 85.5px,#0027ff 86.5px,#0000f9 88.5px,#00008f 92.5px)"></i>
<i style="left:264px;top:389px;width:93px;height:2px;background:linear-gradient(90deg,#00008f 0.5px,#0000fe 4.5px,#0015ff 5.5px,#0047ff 7.5px,#0ef 10.5px,#05fffa 11.5px,#7dff82 16.5px,#f5ff0a 22.5px,#fff600 23.5px,#ff8200 29.5px,#ff0300 35.5px,#f90000 36.5px,#b20000 46.5px,#ff0300 57.5px,#ff8200 63.5px,#fff600 69.5px,#f5ff0a 70.5px,#7dff82 76.5px,#05fffa 81.5px,#0ef 82.5px,#0047ff 85.5px,#0015ff 87.5px,#0000fe 88.5px,#00008f 92.5px)"></i>
<i style="left:264px;top:391px;width:93px;height:2px;background:linear-gradient(90deg,#00008f 0.5px,#0003ff 4.5px,#001aff 5.5px,#004cff 7.5px,#00f6ff 10.5px,#0dfff2 11.5px,#6bff94 15.5px,#f7ff08 22.5px,#fff300 23.5px,#ff8000 29.5px,#ff0200 35.5px,#f80000 36.5px,#b20000 46.5px,#ff0200 57.5px,#ff8000 63.5px,#fff300 69.5px,#f7ff08 70.5px,#6bff94 77.5px,#0dfff2 81.5px,#00f6ff 82.5px,#004cff 85.5px,#0032ff 86.5px,#0003ff 88.5px,#00008f 92.5px)"></i>
<i style="left:264px;top:393px;width:93px;height:2px;background:linear-gradient(90deg,#00008f 0.5px,#0000e9 3.5px,#0007ff 4.5px,#0051ff 7.5px,#00fdff 10.5px,#14ffeb 11.5px,#83ff7c 16.5px,#f9ff06 22.5px,#fff100 23.5px,#ff7e00 29.5px,#f00 35.5px,#f70000 36.5px,#b20000 46.5px,#f00 57.5px,#ff7e00 63.5px,#fff100 69.5px,#f9ff06 70.5px,#83ff7c 76.5px,#00fdff 82.5px,#0051ff 85.5px,#0038ff 86.5px,#0007ff 88.5px,#0000e9 89.5px,#00008f 92.5px)"></i>
<i style="left:264px;top:395px;width:93px;height:2px;background:linear-gradient(90deg,#00008f 0.5px,#0000ec 3.5px,#000cff 4.5px,#0057ff 7.5px,#00cbff 9.5px,#06fff9 10.5px,#86ff79 16.5px,#fcff03 22.5px,#ff7c00 29.5px,#fe0000 35.5px,#b20000 46.5px,#fe0000 57.5px,#ff7c00 63.5px,#ffef00 69.5px,#fcff03 70.5px,#86ff79 76.5px,#06fff9 82.5px,#00cbff 83.5px,#0057ff 85.5px,#000cff 88.5px,#0000ec 89.5px,#00008f 92.5px)"></i>
<i style="left:251px;top:397px;width:119px;height:3px;background:linear-gradient(90deg,#000091 0.5px,#000094 13.5px,#0000f1 16.5px,#01f 17.5px,#005cff 20.5px,#00d0ff 22.5px,#0bfff4 23.5px,#feff01 35.5px,#ff7b00 42.5px,#fd0000 48.5px,#b20000 59.5px,#fd0000 70.5px,#ff7b00 76.5px,#ffed00 82.5px,#feff01 83.5px,#0bfff4 95.5px,#00d0ff 96.5px,#005cff 98.5px,#01f 101.5px,#0000f1 102.5px,#000094 105.5px,#000091 118.5px)"></i>
<i style="left:247px;top:400px;width:127px;height:3px;background:linear-gradient(90deg,#000090 0.5px,#00009d 17.5px,#0000f9 20.5px,#0018ff 21.5px,#0063ff 24.5px,#00d4ff 26.5px,#0dfff2 27.5px,#ff0 39.5px,#ff7a00 46.5px,#fd0000 52.5px,#b20000 63.5px,#fd0000 74.5px,#ff7a00 80.5px,#ff0 87.5px,#0dfff2 99.5px,#00d4ff 100.5px,#0063ff 102.5px,#0018ff 105.5px,#0000f9 106.5px,#00009d 109.5px,#000090 126.5px)"></i>
<i style="left:247px;top:403px;width:127px;height:3px;background:linear-gradient(90deg,#000091 0.5px,#0000a5 17.5px,#0002ff 20.5px,#0069ff 24.5px,#00d7ff 26.5px,#10ffef 27.5px,#8cff73 33.5px,#fffd00 39.5px,#fd0000 52.5px,#b20000 63.5px,#fd0000 74.5px,#fffd00 87.5px,#8cff73 93.5px,#10ffef 99.5px,#00d7ff 100.5px,#0069ff 102.5px,#0002ff 106.5px,#0000a5 109.5px,#000091 126.5px)"></i>
<i style="left:246px;top:406px;width:129px;height:3px;background:linear-gradient(90deg,#00008f 0.5px,#0000ae 18.5px,#0000ea 20.5px,#0008ff 21.5px,#0026ff 22.5px,#006fff 25.5px,#00dbff 27.5px,#12ffed 28.5px,#8dff72 34.5px,#fffc00 40.5px,#fc0000 53.5px,#b20000 64.5px,#fc0000 75.5px,#fffc00 88.5px,#8dff72 94.5px,#12ffed 100.5px,#00dbff 101.5px,#006fff 103.5px,#0026ff 106.5px,#0008ff 107.5px,#0000ea 108.5px,#0000ae 110.5px,#00008f 128.5px)"></i>
<i style="left:246px;top:409px;width:129px;height:3px;background:linear-gradient(90deg,#00008f 0.5px,#0000b7 18.5px,#0000f2 20.5px,#0010ff 21.5px,#002dff 22.5px,#0075ff 25.5px,#00dfff 27.5px,#14ffeb 28.5px,#8fff70 34.5px,#fffa00 40.5px,#fc0000 53.5px,#b20000 64.5px,#fc0000 75.5px,#fffa00 88.5px,#8fff70 94.5px,#14ffeb 100.5px,#00dfff 101.5px,#0075ff 103.5px,#002dff 106.5px,#0010ff 107.5px,#0000f2 108.5px,#0000b7 110.5px,#00008f 128.5px)"></i>
<i style="left:246px;top:412px;width:129px;height:3px;background:linear-gradient(90deg,#00008f 0.5px,#0000c0 18.5px,#0000f9 20.5px,#0017ff 21.5px,#007bff 25.5px,#00e2ff 27.5px,#17ffe8 28.5px,#dfff20 38.5px,#fff900 40.5px,#fc0000 53.5px,#b20000 64.5px,#fc0000 75.5px,#fff900 88.5px,#dfff20 90.5px,#17ffe8 100.5px,#00e2ff 101.5px,#007bff 103.5px,#0017ff 107.5px,#0000f9 108.5px,#0000c0 110.5px,#00008f 128.5px)"></i>
<i style="left:246px;top:415px;width:129px;height:3px;background:linear-gradient(90deg,#00008f 0.5px,#0000c9 18.5px,#0002ff 20.5px,#003bff 22.5px,#0081ff 25.5px,#00e6ff 27.5px,#19ffe6 28.5px,#f3ff0c 39.5px,#fff800 40.5px,#ff7400 47.5px,#ff0f00 52.5px,#fc0000 53.5px,#b20000 64.5px,#fc0000 75.5px,#ff0f00 76.5px,#ff7400 81.5px,#fff800 88.5px,#f3ff0c 89.5px,#19ffe6 100.5px,#00e6ff 101.5px,#0081ff 103.5px,#003bff 106.5px,#0002ff 108.5px,#0000c9 110.5px,#00008f 128.5px)"></i>
<i style="left:246px;top:418px;width:129px;height:3px;background:linear-gradient(90deg,#00008f 0.5px,#0000d1 18.5px,#0000ed 19.5px,#000aff 20.5px,#0042ff 22.5px,#08f 25.5px,#00e9ff 27.5px,#1bffe4 28.5px,#f5ff0a 39.5px,#fff600 40.5px,#ff7300 47.5px,#ff0e00 52.5px,#fc0000 53.5px,#b20000 64.5px,#fc0000 75.5px,#ff0e00 76.5px,#ff7300 81.5px,#fff600 88.5px,#f5ff0a 89.5px,#1bffe4 100.5px,#00e9ff 101.5px,#08f 103.5px,#0042ff 106.5px,#000aff 108.5px,#0000ed 109.5px,#0000d1 110.5px,#00008f 128.5px)"></i>
<i style="left:246px;top:421px;width:129px;height:3px;background:linear-gradient(90deg,#00008f 0.5px,#0000da 18.5px,#0000f6 19.5px,#0012ff 20.5px,#0049ff 22.5px,#008eff 25.5px,#00edff 27.5px,#1effe1 28.5px,#f6ff09 39.5px,#fff500 40.5px,#ff7200 47.5px,#ff0d00 52.5px,#fb0000 53.5px,#b20000 64.5px,#fb0000 75.5px,#ff0d00 76.5px,#ff7200 81.5px,#fff500 88.5px,#f6ff09 89.5px,#1effe1 100.5px,#00edff 101.5px,#008eff 103.5px,#0049ff 106.5px,#0012ff 108.5px,#0000f6 109.5px,#0000da 110.5px,#00008f 128.5px)"></i>
<i style="left:246px;top:424px;width:129px;height:3px;background:linear-gradient(90deg,#00008f 0.5px,#0000e3 18.5px,#0001fd 19.5px,#0050ff 22.5px,#0094ff 25.5px,#00f1ff 27.5px,#20ffdf 28.5px,#f8ff07 39.5px,#fff300 40.5px,#ff7100 47.5px,#ff0d00 52.5px,#fb0000 53.5px,#b20000 64.5px,#fb0000 75.5px,#ff0d00 76.5px,#ff7100 81.5px,#fff300 88.5px,#f8ff07 89.5px,#98ff67 94.5px,#20ffdf 100.5px,#00f1ff 101.5px,#0094ff 103.5px,#0050ff 106.5px,#0001fd 109.5px,#0000e3 110.5px,#00008f 128.5px)"></i>
<i style="left:246px;top:427px;width:129px;height:3px;background:linear-gradient(90deg,#00008f 0.5px,#0000ec 18.5px,#0007ff 19.5px,#0057ff 22.5px,#009aff 25.5px,#00f4ff 27.5px,#2fd 28.5px,#f9ff06 39.5px,#fff200 40.5px,#ff7000 47.5px,#ff0c00 52.5px,#fb0000 53.5px,#b20000 64.5px,#fb0000 75.5px,#ff0c00 76.5px,#ff7000 81.5px,#fff200 88.5px,#f9ff06 89.5px,#9f6 94.5px,#2fd 100.5px,#00f4ff 101.5px,#009aff 103.5px,#0057ff 106.5px,#0007ff 109.5px,#0000ec 110.5px,#00008f 128.5px)"></i>
<i style="left:246px;top:430px;width:129px;height:3px;background:linear-gradient(90deg,#00008f 0.5px,#0000f4 18.5px,#0010ff 19.5px,#005eff 22.5px,#00a0ff 25.5px,#00f8ff 27.5px,#25ffda 28.5px,#fbff04 39.5px,#ff6f00 47.5px,#ff0b00 52.5px,#fb0000 53.5px,#b20000 64.5px,#fb0000 75.5px,#ff0b00 76.5px,#fff000 88.5px,#fbff04 89.5px,#9bff64 94.5px,#25ffda 100.5px,#00f8ff 101.5px,#00a0ff 103.5px,#005eff 106.5px,#0010ff 109.5px,#0000f4 110.5px,#00008f 128.5px)"></i>
<i style="left:246px;top:433px;width:129px;height:3px;background:linear-gradient(90deg,#00008f 0.5px,#0000fd 18.5px,#0065ff 22.5px,#00a6ff 25.5px,#00fbff 27.5px,#27ffd8 28.5px,#fcff03 39.5px,#ff6e00 47.5px,#ff0b00 52.5px,#fb0000 53.5px,#b20000 64.5px,#fb0000 75.5px,#ff0b00 76.5px,#ffef00 88.5px,#fcff03 89.5px,#9dff62 94.5px,#27ffd8 100.5px,#00fbff 101.5px,#00a6ff 103.5px,#0065ff 106.5px,#0000fd 110.5px,#00008f 128.5px)"></i>
<i style="left:246px;top:436px;width:129px;height:3px;background:linear-gradient(90deg,#00008f 0.5px,#0000c8 8.5px,#0000f8 16.5px,#0007ff 18.5px,#006cff 22.5px,#00adff 25.5px,#0ff 27.5px,#29ffd6 28.5px,#feff01 39.5px,#ff6d00 47.5px,#ff0a00 52.5px,#fa0000 53.5px,#b20000 64.5px,#fa0000 75.5px,#ff0a00 76.5px,#fe0 88.5px,#feff01 89.5px,#29ffd6 100.5px,#0ff 101.5px,#00adff 103.5px,#006cff 106.5px,#0007ff 110.5px,#0000f8 112.5px,#0000c8 120.5px,#00008f 128.5px)"></i>
<i style="left:246px;top:439px;width:129px;height:3px;background:linear-gradient(90deg,#00008f 0.5px,#0000c5 7.5px,#0000fa 15.5px,#0010ff 18.5px,#0073ff 22.5px,#00b3ff 25.5px,#04fffb 27.5px,#2bffd4 28.5px,#ff0 39.5px,#ff0a00 52.5px,#fa0000 53.5px,#b20000 64.5px,#fa0000 75.5px,#ff0a00 76.5px,#ffec00 88.5px,#ff0 89.5px,#a0ff5f 94.5px,#2bffd4 100.5px,#04fffb 101.5px,#00b3ff 103.5px,#0073ff 106.5px,#0010ff 110.5px,#0000fa 113.5px,#0000c5 121.5px,#00008f 128.5px)"></i>
<i style="left:246px;top:442px;width:129px;height:3px;background:linear-gradient(90deg,#00008f 0.5px,#0000c9 7.5px,#0000fa 14.5px,#0002ff 15.5px,#0019ff 18.5px,#007aff 22.5px,#00b9ff 25.5px,#07fff8 27.5px,#2effd1 28.5px,#fffd00 39.5px,#ff0900 52.5px,#fa0000 53.5px,#b20000 64.5px,#fa0000 75.5px,#ff0900 76.5px,#fffd00 89.5px,#2effd1 100.5px,#07fff8 101.5px,#00dfff 102.5px,#00b9ff 103.5px,#007aff 106.5px,#0019ff 110.5px,#0002ff 113.5px,#0000fa 114.5px,#0000c9 121.5px,#00008f 128.5px)"></i>
<i style="left:246px;top:445px;width:129px;height:3px;background:linear-gradient(90deg,#00008f 0.5px,#0000cd 7.5px,#0000f9 13.5px,#0002ff 14.5px,#0021ff 18.5px,#0081ff 22.5px,#00bfff 25.5px,#00e4ff 26.5px,#0bfff4 27.5px,#30ffcf 28.5px,#fffc00 39.5px,#ff0800 52.5px,#fa0000 53.5px,#b20000 64.5px,#fa0000 75.5px,#ff0800 76.5px,#fffc00 89.5px,#30ffcf 100.5px,#0bfff4 101.5px,#00e4ff 102.5px,#00bfff 103.5px,#0081ff 106.5px,#0021ff 110.5px,#0002ff 114.5px,#0000f9 115.5px,#0000cd 121.5px,#00008f 128.5px)"></i>
<i style="left:246px;top:448px;width:129px;height:3px;background:linear-gradient(90deg,#00008f 0.5px,#0000d1 7.5px,#0001ff 13.5px,#002aff 18.5px,#08f 22.5px,#00c5ff 25.5px,#00e9ff 26.5px,#0efff1 27.5px,#32ffcd 28.5px,#f1ff0e 38.5px,#fffa00 39.5px,#ff0800 52.5px,#fa0000 53.5px,#b20000 64.5px,#fa0000 75.5px,#ff0800 76.5px,#fffa00 89.5px,#f1ff0e 90.5px,#32ffcd 100.5px,#0efff1 101.5px,#00e9ff 102.5px,#00c5ff 103.5px,#08f 106.5px,#002aff 110.5px,#0001ff 115.5px,#0000d1 121.5px,#00008f 128.5px)"></i>
<i style="left:246px;top:451px;width:129px;height:3px;background:linear-gradient(90deg,#00008f 0.5px,#0000d4 7.5px,#0000fe 12.5px,#0020ff 16.5px,#03f 18.5px,#008eff 22.5px,#00cbff 25.5px,#0ef 26.5px,#12ffed 27.5px,#35ffca 28.5px,#f3ff0c 38.5px,#fff900 39.5px,#ff0700 52.5px,#f90000 53.5px,#b20000 64.5px,#f90000 75.5px,#ff0700 76.5px,#fff900 89.5px,#f3ff0c 90.5px,#35ffca 100.5px,#12ffed 101.5px,#0ef 102.5px,#00cbff 103.5px,#008eff 106.5px,#03f 110.5px,#0020ff 112.5px,#0000fe 116.5px,#0000d4 121.5px,#00008f 128.5px)"></i>
<i style="left:246px;top:454px;width:129px;height:3px;background:linear-gradient(90deg,#00008f 0.5px,#0000fb 11.5px,#0028ff 16.5px,#003cff 18.5px,#0095ff 22.5px,#00d2ff 25.5px,#00f3ff 26.5px,#15ffea 27.5px,#37ffc8 28.5px,#f4ff0b 38.5px,#fff700 39.5px,#ff0600 52.5px,#f90000 53.5px,#b20000 64.5px,#f90000 75.5px,#ff0600 76.5px,#fff700 89.5px,#f4ff0b 90.5px,#37ffc8 100.5px,#15ffea 101.5px,#00f3ff 102.5px,#00d2ff 103.5px,#0095ff 106.5px,#003cff 110.5px,#0028ff 112.5px,#0000fb 117.5px,#00008f 128.5px)"></i>
<i style="left:246px;top:457px;width:129px;height:3px;background:linear-gradient(90deg,#00008f 0.5px,#0000dc 7.5px,#0002ff 11.5px,#0030ff 16.5px,#0045ff 18.5px,#00d8ff 25.5px,#00f8ff 26.5px,#19ffe6 27.5px,#39ffc6 28.5px,#f6ff09 38.5px,#fff600 39.5px,#ff0600 52.5px,#f90000 53.5px,#b20000 64.5px,#f90000 75.5px,#ff0600 76.5px,#fff600 89.5px,#f6ff09 90.5px,#39ffc6 100.5px,#00f8ff 102.5px,#00d8ff 103.5px,#0045ff 110.5px,#0030ff 112.5px,#0002ff 117.5px,#0000dc 121.5px,#00008f 128.5px)"></i>
<i style="left:246px;top:460px;width:129px;height:3px;background:linear-gradient(90deg,#00008f 0.5px,#0000ea 8.5px,#0000fd 10.5px,#0007ff 11.5px,#004dff 18.5px,#00deff 25.5px,#00fdff 26.5px,#1dffe2 27.5px,#3cffc3 28.5px,#f8ff07 38.5px,#fff400 39.5px,#ff0500 52.5px,#f90000 53.5px,#b20000 64.5px,#f90000 75.5px,#ff0500 76.5px,#fff400 89.5px,#f8ff07 90.5px,#3cffc3 100.5px,#00fdff 102.5px,#00deff 103.5px,#004dff 110.5px,#0037ff 112.5px,#0000fd 118.5px,#00008f 128.5px)"></i>
<i style="left:246px;top:463px;width:129px;height:3px;background:linear-gradient(90deg,#00008f 0.5px,#0000e3 7.5px,#0003ff 10.5px,#0056ff 18.5px,#00e4ff 25.5px,#03fffc 26.5px,#3effc1 28.5px,#f9ff06 38.5px,#fff300 39.5px,#ff0400 52.5px,#f90000 53.5px,#b20000 64.5px,#f90000 75.5px,#ff0400 76.5px,#fff300 89.5px,#f9ff06 90.5px,#3effc1 100.5px,#03fffc 102.5px,#00e4ff 103.5px,#0056ff 110.5px,#0003ff 118.5px,#0000e3 121.5px,#00008f 128.5px)"></i>
<i style="left:246px;top:466px;width:129px;height:3px;background:linear-gradient(90deg,#00008f 0.5px,#0000e7 7.5px,#0000fc 9.5px,#0008ff 10.5px,#005fff 18.5px,#00eaff 25.5px,#08fff7 26.5px,#40ffbf 28.5px,#fbff04 38.5px,#ff8600 45.5px,#ff0400 52.5px,#f80000 53.5px,#b20000 64.5px,#ff0400 76.5px,#fff100 89.5px,#fbff04 90.5px,#40ffbf 100.5px,#08fff7 102.5px,#00eaff 103.5px,#005fff 110.5px,#0008ff 118.5px,#0000fc 119.5px,#0000e7 121.5px,#00008f 128.5px)"></i>
<i style="left:246px;top:469px;width:129px;height:3px;background:linear-gradient(90deg,#00008f 0.5px,#0000eb 7.5px,#0002ff 9.5px,#0068ff 18.5px,#00f0ff 25.5px,#0cfff3 26.5px,#43ffbc 28.5px,#fcff03 38.5px,#ff0300 52.5px,#f80000 53.5px,#b20000 64.5px,#ff0300 76.5px,#fff000 89.5px,#fcff03 90.5px,#43ffbc 100.5px,#0cfff3 102.5px,#00f0ff 103.5px,#0068ff 110.5px,#0002ff 119.5px,#0000eb 121.5px,#00008f 128.5px)"></i>
<i style="left:246px;top:472px;width:129px;height:3px;background:linear-gradient(90deg,#00008f 0.5px,#00e 7.5px,#0007ff 9.5px,#0070ff 18.5px,#00f7ff 25.5px,#1fe 26.5px,#45ffba 28.5px,#feff01 38.5px,#ff0200 52.5px,#f80000 53.5px,#b20000 64.5px,#ff0200 76.5px,#fe0 89.5px,#feff01 90.5px,#45ffba 100.5px,#1fe 102.5px,#00f7ff 103.5px,#0070ff 110.5px,#0007ff 119.5px,#00e 121.5px,#00008f 128.5px)"></i>
<i style="left:246px;top:475px;width:129px;height:3px;background:linear-gradient(90deg,#00008f 0.5px,#0000fe 8.5px,#0079ff 18.5px,#00fdff 25.5px,#16ffe9 26.5px,#47ffb8 28.5px,#ff0 38.5px,#ff0200 52.5px,#f80000 53.5px,#b20000 64.5px,#ff0200 76.5px,#ff0 90.5px,#47ffb8 100.5px,#00fdff 103.5px,#0079ff 110.5px,#0000fe 120.5px,#00008f 128.5px)"></i>
<i style="left:246px;top:478px;width:129px;height:3px;background:linear-gradient(90deg,#00008f 0.5px,#0000f6 7.5px,#0004ff 8.5px,#0082ff 18.5px,#04fffb 25.5px,#49ffb6 28.5px,#fffd00 38.5px,#ff0100 52.5px,#f80000 53.5px,#b20000 64.5px,#ff0100 76.5px,#fffd00 90.5px,#49ffb6 100.5px,#04fffb 103.5px,#00f1ff 104.5px,#0082ff 110.5px,#0004ff 120.5px,#0000f6 121.5px,#00008f 128.5px)"></i>
<i style="left:246px;top:481px;width:129px;height:3px;background:linear-gradient(90deg,#00008f 0.5px,#0000fa 7.5px,#0008ff 8.5px,#006eff 16.5px,#008bff 18.5px,#00f7ff 24.5px,#0afff5 25.5px,#4cffb3 28.5px,#fffc00 38.5px,#f00 52.5px,#f70000 53.5px,#b20000 64.5px,#f00 76.5px,#fffc00 90.5px,#4cffb3 100.5px,#0afff5 103.5px,#00f7ff 104.5px,#008bff 110.5px,#0008ff 120.5px,#0000fa 121.5px,#00008f 128.5px)"></i>
<i style="left:246px;top:484px;width:129px;height:3px;background:linear-gradient(90deg,#00008f 0.5px,#0000fd 7.5px,#0075ff 16.5px,#00fdff 24.5px,#10ffef 25.5px,#4effb1 28.5px,#f2ff0d 37.5px,#fffa00 38.5px,#f00 52.5px,#b20000 64.5px,#f00 76.5px,#fffa00 90.5px,#f2ff0d 91.5px,#4effb1 100.5px,#00fdff 104.5px,#0075ff 112.5px,#0000fd 121.5px,#00008f 128.5px)"></i>
<i style="left:246px;top:487px;width:129px;height:3px;background:linear-gradient(90deg,#00008f 0.5px,#0002ff 7.5px,#007dff 16.5px,#00f3ff 23.5px,#05fffa 24.5px,#f3ff0c 37.5px,#fff800 38.5px,#fe0000 52.5px,#b20000 64.5px,#fe0000 76.5px,#fff800 90.5px,#f3ff0c 91.5px,#05fffa 104.5px,#00f3ff 105.5px,#007dff 112.5px,#0002ff 121.5px,#00008f 128.5px)"></i>
<i style="left:246px;top:490px;width:129px;height:3px;background:linear-gradient(90deg,#00008f 0.5px,#0000f4 6.5px,#0006ff 7.5px,#0085ff 16.5px,#00f9ff 23.5px,#0bfff4 24.5px,#f5ff0a 37.5px,#fff700 38.5px,#fe0000 52.5px,#b20000 64.5px,#fe0000 76.5px,#fff700 90.5px,#f5ff0a 91.5px,#1dffe2 103.5px,#00f9ff 105.5px,#0085ff 112.5px,#0006ff 121.5px,#0000f4 122.5px,#00008f 128.5px)"></i>
<i style="left:245px;top:493px;width:131px;height:6px;background:linear-gradient(90deg,#000091 0.5px,#000091 1.5px,#0000f8 7.5px,#000aff 8.5px,#008cff 17.5px,#00efff 23.5px,#01fffe 24.5px,#12ffed 25.5px,#8f7 32.5px,#f7ff08 38.5px,#fff500 39.5px,#fd0000 53.5px,#b10000 65.5px,#fd0000 77.5px,#fff500 91.5px,#f7ff08 92.5px,#8f7 98.5px,#01fffe 106.5px,#008cff 113.5px,#000aff 122.5px,#0000f8 123.5px,#000091 129.5px,#000091 130.5px)"></i>
<i style="left:241px;top:499px;width:139px;height:6px;background:linear-gradient(90deg,#000091 0.5px,#000096 5.5px,#0000fc 11.5px,#0090ff 21.5px,#04fffb 28.5px,#8aff75 36.5px,#f8ff07 42.5px,#fff300 43.5px,#fc0000 57.5px,#af0000 69.5px,#fc0000 81.5px,#fff300 95.5px,#f8ff07 96.5px,#8aff75 102.5px,#04fffb 110.5px,#00f3ff 111.5px,#0090ff 117.5px,#0000fc 127.5px,#000096 133.5px,#000091 138.5px)"></i>
<i style="left:240px;top:505px;width:141px;height:6px;background:linear-gradient(90deg,#000090 0.5px,#00009b 6.5px,#0001ff 12.5px,#0093ff 22.5px,#00f6ff 28.5px,#07fff8 29.5px,#8cff73 37.5px,#faff05 43.5px,#fff200 44.5px,#ff2f00 55.5px,#fb0000 58.5px,#ae0000 70.5px,#fb0000 82.5px,#ff2f00 85.5px,#fff200 96.5px,#faff05 97.5px,#5affa5 106.5px,#07fff8 111.5px,#00f6ff 112.5px,#0093ff 118.5px,#0001ff 128.5px,#00009b 134.5px,#000090 140.5px)"></i>
<i style="left:240px;top:511px;width:141px;height:6px;background:linear-gradient(90deg,#000090 0.5px,#00009f 6.5px,#0004ff 12.5px,#0097ff 22.5px,#00f9ff 28.5px,#0afff5 29.5px,#8fff70 37.5px,#fcff03 43.5px,#ff2d00 55.5px,#fa0000 58.5px,#ac0000 70.5px,#fa0000 82.5px,#ff2d00 85.5px,#fff000 96.5px,#fcff03 97.5px,#5cffa3 106.5px,#0afff5 111.5px,#00f9ff 112.5px,#0097ff 118.5px,#0004ff 128.5px,#00009f 134.5px,#000090 140.5px)"></i>
<i style="left:240px;top:517px;width:141px;height:6px;background:linear-gradient(90deg,#000091 0.5px,#0000a4 6.5px,#0000f6 11.5px,#0008ff 12.5px,#009aff 22.5px,#00fcff 28.5px,#0dfff2 29.5px,#91ff6e 37.5px,#fdff02 43.5px,#ff2b00 55.5px,#ff0a00 57.5px,#f90000 58.5px,#a00 70.5px,#f90000 82.5px,#ff0a00 83.5px,#ff2b00 85.5px,#ffef00 96.5px,#fdff02 97.5px,#91ff6e 103.5px,#00fcff 112.5px,#009aff 118.5px,#0008ff 128.5px,#0000f6 129.5px,#0000a4 134.5px,#000091 140.5px)"></i>
<i style="left:239px;top:523px;width:143px;height:6px;background:linear-gradient(90deg,#00008f 0.5px,#0000a9 7.5px,#0000fa 12.5px,#000bff 13.5px,#009eff 23.5px,#00feff 29.5px,#0ffff0 30.5px,#93ff6c 38.5px,#ff0 44.5px,#ff2800 56.5px,#ff0900 58.5px,#f80000 59.5px,#a90000 71.5px,#f80000 83.5px,#ff0900 84.5px,#ff2800 86.5px,#ffed00 97.5px,#ff0 98.5px,#93ff6c 104.5px,#00feff 113.5px,#009eff 119.5px,#000bff 129.5px,#0000fa 130.5px,#0000a9 135.5px,#00008f 142.5px)"></i>
<i style="left:239px;top:529px;width:143px;height:6px;background:linear-gradient(90deg,#00008f 0.5px,#0000ae 7.5px,#0000fe 12.5px,#03fffc 29.5px,#62ff9d 35.5px,#fffd00 44.5px,#ff2600 56.5px,#ff0700 58.5px,#f70000 59.5px,#a70000 71.5px,#f70000 83.5px,#ff0700 84.5px,#ff2600 86.5px,#fffd00 98.5px,#62ff9d 107.5px,#03fffc 113.5px,#0000fe 130.5px,#0000ae 135.5px,#00008f 142.5px)"></i>
<i style="left:239px;top:535px;width:143px;height:6px;background:linear-gradient(90deg,#00008f 0.5px,#0000b3 7.5px,#0003ff 12.5px,#00a5ff 23.5px,#00f5ff 28.5px,#06fff9 29.5px,#65ff9a 35.5px,#fffc00 44.5px,#ff2400 56.5px,#ff0600 58.5px,#f60000 59.5px,#a50000 71.5px,#f60000 83.5px,#ff0600 84.5px,#ff2400 86.5px,#fffc00 98.5px,#65ff9a 107.5px,#06fff9 113.5px,#00f5ff 114.5px,#00a5ff 119.5px,#0003ff 130.5px,#0000b3 135.5px,#00008f 142.5px)"></i>
<i style="left:239px;top:541px;width:143px;height:6px;background:linear-gradient(90deg,#00008f 0.5px,#0000b7 7.5px,#0000f7 11.5px,#0007ff 12.5px,#00a8ff 23.5px,#00f8ff 28.5px,#09fff6 29.5px,#67ff98 35.5px,#f2ff0d 43.5px,#fffa00 44.5px,#f20 56.5px,#ff0500 58.5px,#f50000 59.5px,#a30000 71.5px,#f50000 83.5px,#ff0500 84.5px,#f20 86.5px,#fffa00 98.5px,#f2ff0d 99.5px,#67ff98 107.5px,#09fff6 113.5px,#00f8ff 114.5px,#00a8ff 119.5px,#0007ff 130.5px,#0000f7 131.5px,#0000b7 135.5px,#00008f 142.5px)"></i>
<i style="left:239px;top:547px;width:143px;height:6px;background:linear-gradient(90deg,#00008f 0.5px,#0000bc 7.5px,#0000fb 11.5px,#0060ff 18.5px,#00fbff 28.5px,#0cfff3 29.5px,#69ff96 35.5px,#f4ff0b 43.5px,#fff800 44.5px,#ff9000 50.5px,#ff2000 56.5px,#ff0300 58.5px,#f40000 59.5px,#a20000 71.5px,#ff0300 84.5px,#ff2000 86.5px,#ff9000 92.5px,#fff800 98.5px,#f4ff0b 99.5px,#69ff96 107.5px,#00fbff 114.5px,#0060ff 124.5px,#0000fb 131.5px,#0000bc 135.5px,#00008f 142.5px)"></i>
<i style="left:239px;top:553px;width:143px;height:6px;background:linear-gradient(90deg,#00008f 0.5px,#0000c1 7.5px,#0000fe 11.5px,#0063ff 18.5px,#00feff 28.5px,#0ffff0 29.5px,#6bff94 35.5px,#f5ff0a 43.5px,#fff700 44.5px,#ff8f00 50.5px,#ff1e00 56.5px,#ff0200 58.5px,#f30000 59.5px,#a00000 71.5px,#f30000 83.5px,#ff0200 84.5px,#ff1e00 86.5px,#ff8f00 92.5px,#fff700 98.5px,#f5ff0a 99.5px,#6bff94 107.5px,#00feff 114.5px,#0063ff 124.5px,#0000fe 131.5px,#0000c1 135.5px,#00008f 142.5px)"></i>
<i style="left:239px;top:559px;width:143px;height:6px;background:linear-gradient(90deg,#00008f 0.5px,#000093 1.5px,#0000c6 7.5px,#0004ff 11.5px,#06f 18.5px,#02fffd 28.5px,#6dff92 35.5px,#f7ff08 43.5px,#fff500 44.5px,#ff8d00 50.5px,#ff1c00 56.5px,#f00 58.5px,#f20000 59.5px,#9e0000 71.5px,#f20000 83.5px,#f00 84.5px,#ff1c00 86.5px,#ff8d00 92.5px,#fff500 98.5px,#f7ff08 99.5px,#6dff92 107.5px,#02fffd 114.5px,#06f 124.5px,#0004ff 131.5px,#0000c6 135.5px,#000093 141.5px,#00008f 142.5px)"></i>
<i style="left:239px;top:565px;width:143px;height:6px;background:linear-gradient(90deg,#00008f 0.5px,#000093 1.5px,#0000ca 7.5px,#0000f8 10.5px,#0008ff 11.5px,#0069ff 18.5px,#00f6ff 27.5px,#06fff9 28.5px,#6fff90 35.5px,#f9ff06 43.5px,#fff300 44.5px,#ff8c00 50.5px,#ff1a00 56.5px,#fe0000 58.5px,#f10000 59.5px,#9c0000 71.5px,#f10000 83.5px,#fe0000 84.5px,#ff1a00 86.5px,#ff8c00 92.5px,#fff300 98.5px,#f9ff06 99.5px,#6fff90 107.5px,#06fff9 114.5px,#00f6ff 115.5px,#0069ff 124.5px,#0008ff 131.5px,#0000f8 132.5px,#0000ca 135.5px,#000093 141.5px,#00008f 142.5px)"></i>
<i style="left:239px;top:571px;width:143px;height:6px;background:linear-gradient(90deg,#00008f 0.5px,#000093 1.5px,#0000cf 7.5px,#0000fd 10.5px,#006dff 18.5px,#00f9ff 27.5px,#09fff6 28.5px,#72ff8d 35.5px,#fbff04 43.5px,#ff8a00 50.5px,#ff1700 56.5px,#fd0000 58.5px,#f10000 59.5px,#9b0000 71.5px,#f10000 83.5px,#fd0000 84.5px,#ff1700 86.5px,#ff8a00 92.5px,#fff200 98.5px,#fbff04 99.5px,#72ff8d 107.5px,#09fff6 114.5px,#00f9ff 115.5px,#006dff 124.5px,#0000fd 132.5px,#0000cf 135.5px,#000093 141.5px,#00008f 142.5px)"></i>
<i style="left:239px;top:577px;width:143px;height:6px;background:linear-gradient(90deg,#00008f 0.5px,#000094 1.5px,#0000d4 7.5px,#0002ff 10.5px,#0070ff 18.5px,#00fcff 27.5px,#0cfff3 28.5px,#74ff8b 35.5px,#fcff03 43.5px,#ff8900 50.5px,#ff1500 56.5px,#fb0000 58.5px,#f00000 59.5px,#900 71.5px,#f00000 83.5px,#fb0000 84.5px,#ff1500 86.5px,#ff8900 92.5px,#fff000 98.5px,#fcff03 99.5px,#74ff8b 107.5px,#00fcff 115.5px,#0070ff 124.5px,#0002ff 132.5px,#0000d4 135.5px,#000094 141.5px,#00008f 142.5px)"></i>
<i style="left:239px;top:583px;width:143px;height:6px;background:linear-gradient(90deg,#00008f 0.5px,#000094 1.5px,#0000d9 7.5px,#0000f7 9.5px,#0006ff 10.5px,#0073ff 18.5px,#01fffe 27.5px,#0ffff0 28.5px,#76ff89 35.5px,#feff01 43.5px,#ff8700 50.5px,#ff1300 56.5px,#fa0000 58.5px,#970000 71.5px,#fa0000 84.5px,#ff1300 86.5px,#ff8700 92.5px,#fe0 98.5px,#feff01 99.5px,#76ff89 107.5px,#01fffe 115.5px,#0073ff 124.5px,#0006ff 132.5px,#0000f7 133.5px,#0000d9 135.5px,#000094 141.5px,#00008f 142.5px)"></i>
<i style="left:239px;top:589px;width:143px;height:6px;background:linear-gradient(90deg,#00008f 0.5px,#000094 1.5px,#0000de 7.5px,#0000fc 9.5px,#0076ff 18.5px,#00f4ff 26.5px,#04fffb 27.5px,#78ff87 35.5px,#fffe00 43.5px,#ff8600 50.5px,#f10 56.5px,#ff0400 57.5px,#f90000 58.5px,#960000 71.5px,#f90000 84.5px,#ff0400 85.5px,#f10 86.5px,#ff8600 92.5px,#fffe00 99.5px,#78ff87 107.5px,#04fffb 115.5px,#00f4ff 116.5px,#0076ff 124.5px,#0000fc 133.5px,#0000de 135.5px,#000094 141.5px,#00008f 142.5px)"></i>
<i style="left:239px;top:595px;width:143px;height:6px;background:linear-gradient(90deg,#00008f 0.5px,#000095 1.5px,#0002ff 9.5px,#0079ff 18.5px,#00f7ff 26.5px,#07fff8 27.5px,#7aff85 35.5px,#fffd00 43.5px,#ff8400 50.5px,#ff0f00 56.5px,#ff0300 57.5px,#f70000 58.5px,#940000 71.5px,#ff0300 85.5px,#ff0f00 86.5px,#ff8400 92.5px,#fffd00 99.5px,#7aff85 107.5px,#07fff8 115.5px,#00f7ff 116.5px,#0079ff 124.5px,#0002ff 133.5px,#000095 141.5px,#00008f 142.5px)"></i>
<i style="left:239px;top:601px;width:143px;height:6px;background:linear-gradient(90deg,#00008f 0.5px,#000095 1.5px,#0000f8 8.5px,#0006ff 9.5px,#007cff 18.5px,#00fbff 26.5px,#0afff5 27.5px,#7dff82 35.5px,#fffb00 43.5px,#ff8300 50.5px,#ff0d00 56.5px,#ff0100 57.5px,#f60000 58.5px,#920000 71.5px,#ff0100 85.5px,#ff0d00 86.5px,#ff8300 92.5px,#fffb00 99.5px,#7dff82 107.5px,#00fbff 116.5px,#007cff 124.5px,#0006ff 133.5px,#0000f8 134.5px,#000095 141.5px,#00008f 142.5px)"></i>
<i style="left:239px;top:607px;width:143px;height:6px;background:linear-gradient(90deg,#00008f 0.5px,#000095 1.5px,#0000fc 8.5px,#007fff 18.5px,#00feff 26.5px,#0dfff2 27.5px,#7fff80 35.5px,#f4ff0b 42.5px,#fff900 43.5px,#ff8100 50.5px,#ff0b00 56.5px,#fe0000 57.5px,#900000 71.5px,#fe0000 85.5px,#ff0b00 86.5px,#ff8100 92.5px,#fff900 99.5px,#f4ff0b 100.5px,#7fff80 107.5px,#00feff 116.5px,#007fff 124.5px,#0000fc 134.5px,#000095 141.5px,#00008f 142.5px)"></i>
<i style="left:239px;top:613px;width:143px;height:6px;background:linear-gradient(90deg,#00008f 0.5px,#000096 1.5px,#0002ff 8.5px,#0082ff 18.5px,#03fffc 26.5px,#81ff7e 35.5px,#f6ff09 42.5px,#fff700 43.5px,#ff8000 50.5px,#ff0800 56.5px,#fc0000 57.5px,#8f0000 71.5px,#fc0000 85.5px,#ff0800 86.5px,#ff8000 92.5px,#fff700 99.5px,#f6ff09 100.5px,#81ff7e 107.5px,#03fffc 116.5px,#0082ff 124.5px,#0002ff 134.5px,#000096 141.5px,#00008f 142.5px)"></i>
<i style="left:239px;top:619px;width:143px;height:6px;background:linear-gradient(90deg,#00008f 0.5px,#000096 1.5px,#0000f5 7.5px,#0007ff 8.5px,#0085ff 18.5px,#00f5ff 25.5px,#06fff9 26.5px,#83ff7c 35.5px,#f7ff08 42.5px,#fff600 43.5px,#ff7f00 50.5px,#ff0600 56.5px,#fa0000 57.5px,#8d0000 71.5px,#fa0000 85.5px,#ff0600 86.5px,#ff7f00 92.5px,#fff600 99.5px,#f7ff08 100.5px,#83ff7c 107.5px,#06fff9 116.5px,#00f5ff 117.5px,#0085ff 124.5px,#0007ff 134.5px,#0000f5 135.5px,#000096 141.5px,#00008f 142.5px)"></i>
<i style="left:239px;top:625px;width:143px;height:6px;background:linear-gradient(90deg,#00008f 0.5px,#000096 1.5px,#0000fa 7.5px,#000cff 8.5px,#08f 18.5px,#00f9ff 25.5px,#09fff6 26.5px,#85ff7a 35.5px,#f9ff06 42.5px,#fff400 43.5px,#ff7d00 50.5px,#ff0400 56.5px,#f90000 57.5px,#8b0000 71.5px,#ff0400 86.5px,#ff7d00 92.5px,#fff400 99.5px,#f9ff06 100.5px,#85ff7a 107.5px,#09fff6 116.5px,#00f9ff 117.5px,#08f 124.5px,#000cff 134.5px,#0000fa 135.5px,#000096 141.5px,#00008f 142.5px)"></i>
<i style="left:239px;top:631px;width:143px;height:6px;background:linear-gradient(90deg,#00008f 0.5px,#000096 1.5px,#0000fe 7.5px,#008bff 18.5px,#00fcff 25.5px,#0cfff3 26.5px,#87ff78 35.5px,#fbff04 42.5px,#ff7c00 50.5px,#ff0200 56.5px,#f70000 57.5px,#8a0000 71.5px,#ff0200 86.5px,#ff7c00 92.5px,#fff200 99.5px,#fbff04 100.5px,#87ff78 107.5px,#00fcff 117.5px,#008bff 124.5px,#0000fe 135.5px,#000096 141.5px,#00008f 142.5px)"></i>
<i style="left:239px;top:637px;width:143px;height:6px;background:linear-gradient(90deg,#00008f 0.5px,#000096 1.5px,#00f 7.5px,#008bff 18.5px,#00fcff 25.5px,#0dfff2 26.5px,#87ff78 35.5px,#fbff04 42.5px,#ff7c00 50.5px,#ff0200 56.5px,#f70000 57.5px,#8a0000 71.5px,#ff0200 86.5px,#ff7c00 92.5px,#fff200 99.5px,#fbff04 100.5px,#87ff78 107.5px,#00fcff 117.5px,#008bff 124.5px,#00f 135.5px,#000096 141.5px,#00008f 142.5px)"></i>
<i style="left:239px;top:643px;width:143px;height:5px;background:linear-gradient(90deg,#00008f 0.5px,#000096 1.5px,#00f 7.5px,#008bff 18.5px,#00fcff 25.5px,#0dfff2 26.5px,#87ff78 35.5px,#fbff04 42.5px,#ff7c00 50.5px,#ff0200 56.5px,#f70000 57.5px,#8a0000 71.5px,#ff0200 86.5px,#ff7c00 92.5px,#fff200 99.5px,#fbff04 100.5px,#87ff78 107.5px,#00fcff 117.5px,#008bff 124.5px,#00f 135.5px,#000096 141.5px,#00008f 142.5px)"></i>
</div>
<div class="hm" style="left:982px;top:913px;width:629px;height:648px">
<i style="left:385px;top:0px;width:20px;height:3px;background:linear-gradient(90deg,#00008f 0.5px,#0000d2 1.5px,#0089ff 2.5px,#2fffd0 3.5px,#e8ff17 5.5px,#ff8600 6.5px,#e00 7.5px,#a00000 8.5px,#800 9.5px,#8d0000 10.5px,#b00000 11.5px,#ff0100 12.5px,#ffa800 13.5px,#d5ff2a 14.5px,#1dffe2 16.5px,#005dff 17.5px,#0000b3 18.5px,#00008f 19.5px)"></i>
<i style="left:385px;top:3px;width:20px;height:1px;background:linear-gradient(90deg,#00008f 0.5px,#0000db 1.5px,#0096ff 2.5px,#34ffcb 3.5px,#ecff13 5.5px,#ff8000 6.5px,#ec0000 7.5px,#9f0000 8.5px,#800 9.5px,#8d0000 10.5px,#b10000 11.5px,#ff0100 12.5px,#ffa800 13.5px,#d6ff29 14.5px,#1effe1 16.5px,#0063ff 17.5px,#0000b8 18.5px,#00008f 19.5px)"></i>
<i style="left:385px;top:4px;width:20px;height:1px;background:linear-gradient(90deg,#00008f 0.5px,#0000e2 1.5px,#009fff 2.5px,#38ffc7 3.5px,#efff10 5.5px,#ff7c00 6.5px,#ea0000 7.5px,#9d0000 8.5px,#800 9.5px,#8d0000 10.5px,#b20000 11.5px,#ff0200 12.5px,#ffa800 13.5px,#d6ff29 14.5px,#20ffdf 16.5px,#0067ff 17.5px,#00b 18.5px,#00008f 19.5px)"></i>
<i style="left:385px;top:5px;width:20px;height:1px;background:linear-gradient(90deg,#00008f 0.5px,#0000e9 1.5px,#00a8ff 2.5px,#3bffc4 3.5px,#f1ff0e 5.5px,#f70 6.5px,#e90000 7.5px,#9d0000 8.5px,#870000 9.5px,#8e0000 10.5px,#b20000 11.5px,#ff0200 12.5px,#ffa700 13.5px,#d7ff28 14.5px,#21ffde 16.5px,#006bff 17.5px,#0000be 18.5px,#00008f 19.5px)"></i>
<i style="left:385px;top:6px;width:20px;height:1px;background:linear-gradient(90deg,#00008f 0.5px,#0000f0 1.5px,#00b1ff 2.5px,#3fffc0 3.5px,#f4ff0b 5.5px,#ff7300 6.5px,#e70000 7.5px,#9d0000 8.5px,#870000 9.5px,#8e0000 10.5px,#b20000 11.5px,#ff0200 12.5px,#ffa700 13.5px,#d8ff27 14.5px,#2fd 16.5px,#006eff 17.5px,#0000c2 18.5px,#00008f 19.5px)"></i>
<i style="left:385px;top:7px;width:20px;height:1px;background:linear-gradient(90deg,#00008f 0.5px,#0000f7 1.5px,#00baff 2.5px,#42ffbd 3.5px,#f7ff08 5.5px,#ff6f00 6.5px,#e50000 7.5px,#9c0000 8.5px,#870000 9.5px,#8e0000 10.5px,#b30000 11.5px,#ff0300 12.5px,#ffa700 13.5px,#d8ff27 14.5px,#24ffdb 16.5px,#0072ff 17.5px,#0000c5 18.5px,#00008f 19.5px)"></i>
<i style="left:385px;top:8px;width:20px;height:1px;background:linear-gradient(90deg,#00008f 0.5px,#00f 1.5px,#00c3ff 2.5px,#46ffb9 3.5px,#faff05 5.5px,#ff6a00 6.5px,#e30000 7.5px,#9c0000 8.5px,#860000 9.5px,#8e0000 10.5px,#b30000 11.5px,#ff0300 12.5px,#ffa600 13.5px,#d9ff26 14.5px,#25ffda 16.5px,#0076ff 17.5px,#0000c8 18.5px,#00008f 19.5px)"></i>
<i style="left:385px;top:9px;width:20px;height:1px;background:linear-gradient(90deg,#00008f 0.5px,#0009ff 1.5px,#0cf 2.5px,#49ffb6 3.5px,#fcff03 5.5px,#f60 6.5px,#e20000 7.5px,#9b0000 8.5px,#860000 9.5px,#8e0000 10.5px,#b40000 11.5px,#ff0300 12.5px,#ffa600 13.5px,#d9ff26 14.5px,#26ffd9 16.5px,#007aff 17.5px,#0000cb 18.5px,#00008f 19.5px)"></i>
<i style="left:385px;top:10px;width:20px;height:1px;background:linear-gradient(90deg,#00008f 0.5px,#01f 1.5px,#00d5ff 2.5px,#4dffb2 3.5px,#ff0 5.5px,#ff6200 6.5px,#e00000 7.5px,#9b0000 8.5px,#860000 9.5px,#8f0000 10.5px,#b40000 11.5px,#ff0400 12.5px,#ffa600 13.5px,#daff25 14.5px,#27ffd8 16.5px,#007eff 17.5px,#0000cf 18.5px,#00008f 19.5px)"></i>
<i style="left:385px;top:11px;width:20px;height:1px;background:linear-gradient(90deg,#00008f 0.5px,#0019ff 1.5px,#00deff 2.5px,#50ffaf 3.5px,#fffc00 5.5px,#ff5d00 6.5px,#de0000 7.5px,#9b0000 8.5px,#850000 9.5px,#8f0000 10.5px,#b50000 11.5px,#ff0400 12.5px,#ffa500 13.5px,#daff25 14.5px,#29ffd6 16.5px,#0081ff 17.5px,#0000d2 18.5px,#00008f 19.5px)"></i>
<i style="left:385px;top:12px;width:20px;height:1px;background:linear-gradient(90deg,#00008f 0.5px,#0021ff 1.5px,#00e6ff 2.5px,#54ffab 3.5px,#fffa00 5.5px,#ff5900 6.5px,#d00 7.5px,#9a0000 8.5px,#850000 9.5px,#8f0000 10.5px,#b50000 11.5px,#ff0400 12.5px,#ffa500 13.5px,#dbff24 14.5px,#2affd5 16.5px,#0085ff 17.5px,#0000d5 18.5px,#00008f 19.5px)"></i>
<i style="left:385px;top:13px;width:20px;height:1px;background:linear-gradient(90deg,#000091 0.5px,#0029ff 1.5px,#00efff 2.5px,#57ffa8 3.5px,#afff50 4.5px,#fff500 5.5px,#f50 6.5px,#db0000 7.5px,#9a0000 8.5px,#850000 9.5px,#8f0000 10.5px,#b60000 11.5px,#ff0500 12.5px,#ffa500 13.5px,#dbff24 14.5px,#2bffd4 16.5px,#0089ff 17.5px,#0000d8 18.5px,#00008f 19.5px)"></i>
<i style="left:384px;top:14px;width:21px;height:1px;background:linear-gradient(90deg,#00008f 0.5px,#000098 1.5px,#0031ff 2.5px,#00f7ff 3.5px,#5affa5 4.5px,#b2ff4d 5.5px,#fff100 6.5px,#ff5100 7.5px,#d90000 8.5px,#9a0000 9.5px,#850000 10.5px,#900000 11.5px,#b60000 12.5px,#ff0500 13.5px,#ffa400 14.5px,#dcff23 15.5px,#2cffd3 17.5px,#008cff 18.5px,#0000db 19.5px,#00008f 20.5px)"></i>
<i style="left:384px;top:15px;width:21px;height:1px;background:linear-gradient(90deg,#00008f 0.5px,#00009f 1.5px,#0039ff 2.5px,#01fffe 3.5px,#b5ff4a 5.5px,#ffec00 6.5px,#ff4d00 7.5px,#d80000 8.5px,#900 9.5px,#840000 10.5px,#900000 11.5px,#b70000 12.5px,#ff0500 13.5px,#ffa400 14.5px,#dcff23 15.5px,#2effd1 17.5px,#0090ff 18.5px,#0000de 19.5px,#00008f 20.5px)"></i>
<i style="left:384px;top:16px;width:21px;height:1px;background:linear-gradient(90deg,#00008f 0.5px,#0000a6 1.5px,#0041ff 2.5px,#09fff6 3.5px,#b8ff47 5.5px,#ffe700 6.5px,#ff4900 7.5px,#d60000 8.5px,#900 9.5px,#840000 10.5px,#900000 11.5px,#b70000 12.5px,#ff0600 13.5px,#ffa400 14.5px,#df2 15.5px,#2fffd0 17.5px,#0094ff 18.5px,#0000e1 19.5px,#00008f 20.5px)"></i>
<i style="left:384px;top:17px;width:21px;height:1px;background:linear-gradient(90deg,#00008f 0.5px,#0000ac 1.5px,#0049ff 2.5px,#0dfff2 3.5px,#bf4 5.5px,#ffe300 6.5px,#ff4500 7.5px,#d50000 8.5px,#980000 9.5px,#840000 10.5px,#900000 11.5px,#b70000 12.5px,#ff0600 13.5px,#ffa300 14.5px,#df2 15.5px,#30ffcf 17.5px,#0097ff 18.5px,#0000e4 19.5px,#00008f 20.5px)"></i>
<i style="left:384px;top:18px;width:21px;height:1px;background:linear-gradient(90deg,#00008f 0.5px,#0000b3 1.5px,#0051ff 2.5px,#1fe 3.5px,#beff41 5.5px,#ffde00 6.5px,#ff4100 7.5px,#d30000 8.5px,#980000 9.5px,#830000 10.5px,#900000 11.5px,#b80000 12.5px,#ff0600 13.5px,#ffa300 14.5px,#deff21 15.5px,#31ffce 17.5px,#009bff 18.5px,#0000e7 19.5px,#00008f 20.5px)"></i>
<i style="left:384px;top:19px;width:21px;height:1px;background:linear-gradient(90deg,#00008f 0.5px,#0000ba 1.5px,#0058ff 2.5px,#14ffeb 3.5px,#c0ff3f 5.5px,#ffd900 6.5px,#ff3d00 7.5px,#d20000 8.5px,#980000 9.5px,#830000 10.5px,#910000 11.5px,#b80000 12.5px,#ff0600 13.5px,#ffa300 14.5px,#deff21 15.5px,#32ffcd 17.5px,#009eff 18.5px,#0000ea 19.5px,#00008f 20.5px)"></i>
<i style="left:384px;top:20px;width:21px;height:1px;background:linear-gradient(90deg,#00008f 0.5px,#0000c0 1.5px,#0061ff 2.5px,#18ffe7 3.5px,#c3ff3c 5.5px,#ffd500 6.5px,#ff3900 7.5px,#d00000 8.5px,#970000 9.5px,#830000 10.5px,#910000 11.5px,#b90000 12.5px,#ff0700 13.5px,#ffa300 14.5px,#dfff20 15.5px,#3fc 17.5px,#00a2ff 18.5px,#0000ed 19.5px,#00008f 20.5px)"></i>
<i style="left:384px;top:21px;width:21px;height:1px;background:linear-gradient(90deg,#00008f 0.5px,#0000c7 1.5px,#006aff 2.5px,#1bffe4 3.5px,#c6ff39 5.5px,#ffd000 6.5px,#ff3500 7.5px,#cf0000 8.5px,#970000 9.5px,#830000 10.5px,#910000 11.5px,#b90000 12.5px,#ff0700 13.5px,#ffa200 14.5px,#dfff20 15.5px,#35ffca 17.5px,#00a5ff 18.5px,#0000f0 19.5px,#00008f 20.5px)"></i>
<i style="left:384px;top:22px;width:21px;height:1px;background:linear-gradient(90deg,#00008f 0.5px,#0000ce 1.5px,#0073ff 2.5px,#1fffe0 3.5px,#c9ff36 5.5px,#fc0 6.5px,#ff3100 7.5px,#cd0000 8.5px,#970000 9.5px,#820000 10.5px,#910000 11.5px,#ba0000 12.5px,#ff0700 13.5px,#ffa200 14.5px,#e0ff1f 15.5px,#36ffc9 17.5px,#00a9ff 18.5px,#0000f2 19.5px,#00008f 20.5px)"></i>
<i style="left:384px;top:23px;width:21px;height:1px;background:linear-gradient(90deg,#00008f 0.5px,#0000d4 1.5px,#007cff 2.5px,#2fd 3.5px,#cf3 5.5px,#ffc700 6.5px,#ff2d00 7.5px,#cb0000 8.5px,#960000 9.5px,#820000 10.5px,#910000 11.5px,#ba0000 12.5px,#ff0800 13.5px,#ffa200 14.5px,#e0ff1f 15.5px,#37ffc8 17.5px,#00acff 18.5px,#0000f6 19.5px,#00008f 20.5px)"></i>
<i style="left:384px;top:24px;width:21px;height:1px;background:linear-gradient(90deg,#00008f 0.5px,#0000db 1.5px,#0084ff 2.5px,#25ffda 3.5px,#ceff31 5.5px,#ffc300 6.5px,#ff2a00 7.5px,#ca0000 8.5px,#960000 9.5px,#820000 10.5px,#920000 11.5px,#ba0000 12.5px,#ff0800 13.5px,#ffa100 14.5px,#e1ff1e 15.5px,#38ffc7 17.5px,#00afff 18.5px,#0000f9 19.5px,#00008f 20.5px)"></i>
<i style="left:384px;top:25px;width:21px;height:1px;background:linear-gradient(90deg,#00008f 0.5px,#0000e1 1.5px,#008dff 2.5px,#29ffd6 3.5px,#d1ff2e 5.5px,#ffbf00 6.5px,#ff2600 7.5px,#c90000 8.5px,#960000 9.5px,#810000 10.5px,#920000 11.5px,#b00 12.5px,#ff0800 13.5px,#ffa100 14.5px,#e1ff1e 15.5px,#39ffc6 17.5px,#00b3ff 18.5px,#0000fd 19.5px,#00008f 20.5px)"></i>
<i style="left:384px;top:26px;width:21px;height:1px;background:linear-gradient(90deg,#00008f 0.5px,#0000e7 1.5px,#0095ff 2.5px,#2cffd3 3.5px,#d4ff2b 5.5px,#ffba00 6.5px,#f20 7.5px,#c70000 8.5px,#950000 9.5px,#810000 10.5px,#920000 11.5px,#b00 12.5px,#ff0900 13.5px,#ffa100 14.5px,#e2ff1d 15.5px,#3affc5 17.5px,#00b6ff 18.5px,#0001ff 19.5px,#00008f 20.5px)"></i>
<i style="left:384px;top:27px;width:21px;height:1px;background:linear-gradient(90deg,#00008f 0.5px,#00e 1.5px,#009eff 2.5px,#2fffd0 3.5px,#d6ff29 5.5px,#ffb600 6.5px,#ff1e00 7.5px,#c60000 8.5px,#950000 9.5px,#810000 10.5px,#920000 11.5px,#bc0000 12.5px,#ff0900 13.5px,#ffa100 14.5px,#e2ff1d 15.5px,#3bffc4 17.5px,#00b9ff 18.5px,#0005ff 19.5px,#00008f 20.5px)"></i>
<i style="left:384px;top:28px;width:21px;height:1px;background:linear-gradient(90deg,#00008f 0.5px,#0000f4 1.5px,#00a6ff 2.5px,#3fc 3.5px,#d9ff26 5.5px,#ffb200 6.5px,#ff1b00 7.5px,#c40000 8.5px,#950000 9.5px,#810000 10.5px,#920000 11.5px,#bc0000 12.5px,#ff0900 13.5px,#ffa000 14.5px,#e3ff1c 15.5px,#3cffc3 17.5px,#00bdff 18.5px,#0008ff 19.5px,#00008f 20.5px)"></i>
<i style="left:384px;top:29px;width:21px;height:1px;background:linear-gradient(90deg,#00008f 0.5px,#0000fc 1.5px,#00aeff 2.5px,#36ffc9 3.5px,#dcff23 5.5px,#ffae00 6.5px,#ff1700 7.5px,#c30000 8.5px,#940000 9.5px,#800000 10.5px,#920000 11.5px,#bc0000 12.5px,#ff0900 13.5px,#ffa000 14.5px,#e3ff1c 15.5px,#3dffc2 17.5px,#00c0ff 18.5px,#000cff 19.5px,#00008f 20.5px)"></i>
<i style="left:384px;top:30px;width:21px;height:1px;background:linear-gradient(90deg,#00008f 0.5px,#0004ff 1.5px,#00b7ff 2.5px,#39ffc6 3.5px,#deff21 5.5px,#ffa900 6.5px,#ff1300 7.5px,#c10000 8.5px,#940000 9.5px,#800000 10.5px,#930000 11.5px,#bd0000 12.5px,#ff0a00 13.5px,#ffa000 14.5px,#e4ff1b 15.5px,#3fffc0 17.5px,#00c3ff 18.5px,#000fff 19.5px,#00008f 20.5px)"></i>
<i style="left:384px;top:31px;width:21px;height:1px;background:linear-gradient(90deg,#00008f 0.5px,#000cff 1.5px,#00bfff 2.5px,#3cffc3 3.5px,#e1ff1e 5.5px,#ffa500 6.5px,#ff1000 7.5px,#c00000 8.5px,#940000 9.5px,#800000 10.5px,#930000 11.5px,#bd0000 12.5px,#ff0a00 13.5px,#ff9f00 14.5px,#e4ff1b 15.5px,#40ffbf 17.5px,#00c6ff 18.5px,#0012ff 19.5px,#00008f 20.5px)"></i>
<i style="left:384px;top:32px;width:21px;height:1px;background:linear-gradient(90deg,#00008f 0.5px,#0013ff 1.5px,#00c7ff 2.5px,#40ffbf 3.5px,#e3ff1c 5.5px,#ffa100 6.5px,#ff0c00 7.5px,#be0000 8.5px,#930000 9.5px,#800000 10.5px,#930000 11.5px,#be0000 12.5px,#ff0a00 13.5px,#ff9f00 14.5px,#e4ff1b 15.5px,#41ffbe 17.5px,#00c9ff 18.5px,#0016ff 19.5px,#00008f 20.5px)"></i>
<i style="left:384px;top:33px;width:21px;height:1px;background:linear-gradient(90deg,#000090 0.5px,#001bff 1.5px,#00cfff 2.5px,#43ffbc 3.5px,#e6ff19 5.5px,#ff9d00 6.5px,#ff0900 7.5px,#bd0000 8.5px,#930000 9.5px,#800000 10.5px,#930000 11.5px,#be0000 12.5px,#ff0b00 13.5px,#ff9f00 14.5px,#e5ff1a 15.5px,#42ffbd 17.5px,#00cdff 18.5px,#0019ff 19.5px,#00008f 20.5px)"></i>
<i style="left:383px;top:34px;width:23px;height:1px;background:linear-gradient(90deg,#00008f 0.5px,#000096 1.5px,#02f 2.5px,#00d7ff 3.5px,#46ffb9 4.5px,#e9ff16 6.5px,#f90 7.5px,#ff0500 8.5px,#bc0000 9.5px,#930000 10.5px,#800000 11.5px,#930000 12.5px,#be0000 13.5px,#ff0b00 14.5px,#ff9f00 15.5px,#e5ff1a 16.5px,#43ffbc 18.5px,#00d0ff 19.5px,#001cff 20.5px,#000091 21.5px,#00008f 22.5px)"></i>
<i style="left:383px;top:35px;width:23px;height:1px;background:linear-gradient(90deg,#00008f 0.5px,#00009d 1.5px,#002aff 2.5px,#00dfff 3.5px,#49ffb6 4.5px,#ebff14 6.5px,#ff9500 7.5px,#ff0200 8.5px,#ba0000 9.5px,#920000 10.5px,#800000 11.5px,#940000 12.5px,#bf0000 13.5px,#ff0b00 14.5px,#ff9e00 15.5px,#e6ff19 16.5px,#4fb 18.5px,#00d3ff 19.5px,#001fff 20.5px,#000094 21.5px,#00008f 22.5px)"></i>
<i style="left:383px;top:36px;width:23px;height:1px;background:linear-gradient(90deg,#00008f 0.5px,#0000a3 1.5px,#0031ff 2.5px,#00e7ff 3.5px,#4cffb3 4.5px,#ef1 6.5px,#ff9100 7.5px,#fd0000 8.5px,#b90000 9.5px,#920000 10.5px,#800000 11.5px,#940000 12.5px,#bf0000 13.5px,#ff0b00 14.5px,#ff9e00 15.5px,#e6ff19 16.5px,#45ffba 18.5px,#00d6ff 19.5px,#0023ff 20.5px,#000097 21.5px,#00008f 22.5px)"></i>
<i style="left:383px;top:37px;width:23px;height:1px;background:linear-gradient(90deg,#00008f 0.5px,#0000a9 1.5px,#0039ff 2.5px,#00efff 3.5px,#4fffb0 4.5px,#f0ff0f 6.5px,#ff8d00 7.5px,#fb0000 8.5px,#b80000 9.5px,#920000 10.5px,#810000 11.5px,#940000 12.5px,#bf0000 13.5px,#ff0c00 14.5px,#ff9e00 15.5px,#e7ff18 16.5px,#46ffb9 18.5px,#00d9ff 19.5px,#0026ff 20.5px,#00009a 21.5px,#00008f 22.5px)"></i>
<i style="left:383px;top:38px;width:23px;height:1px;background:linear-gradient(90deg,#00008f 0.5px,#0000b0 1.5px,#0040ff 2.5px,#00f7ff 3.5px,#52ffad 4.5px,#f2ff0d 6.5px,#ff8900 7.5px,#fa0000 8.5px,#b60000 9.5px,#910000 10.5px,#810000 11.5px,#940000 12.5px,#c00000 13.5px,#ff0c00 14.5px,#ff9e00 15.5px,#e7ff18 16.5px,#47ffb8 18.5px,#00dcff 19.5px,#0029ff 20.5px,#00009d 21.5px,#00008f 22.5px)"></i>
<i style="left:383px;top:39px;width:23px;height:1px;background:linear-gradient(90deg,#00008f 0.5px,#0000b6 1.5px,#0047ff 2.5px,#00feff 3.5px,#5fa 4.5px,#f5ff0a 6.5px,#ff8500 7.5px,#f80000 8.5px,#b50000 9.5px,#910000 10.5px,#810000 11.5px,#940000 12.5px,#c00000 13.5px,#ff0c00 14.5px,#ff9d00 15.5px,#e8ff17 16.5px,#48ffb7 18.5px,#00dfff 19.5px,#002cff 20.5px,#0000a0 21.5px,#00008f 22.5px)"></i>
<i style="left:383px;top:40px;width:23px;height:1px;background:linear-gradient(90deg,#00008f 0.5px,#0000bc 1.5px,#004eff 2.5px,#07fff8 3.5px,#f7ff08 6.5px,#ff8100 7.5px,#f70000 8.5px,#b40000 9.5px,#910000 10.5px,#810000 11.5px,#940000 12.5px,#c10000 13.5px,#ff0c00 14.5px,#ff9d00 15.5px,#e8ff17 16.5px,#49ffb6 18.5px,#00e2ff 19.5px,#002fff 20.5px,#0000a3 21.5px,#00008f 22.5px)"></i>
<i style="left:383px;top:41px;width:23px;height:1px;background:linear-gradient(90deg,#00008f 0.5px,#0000c2 1.5px,#05f 2.5px,#0cfff3 3.5px,#faff05 6.5px,#ff7d00 7.5px,#f50000 8.5px,#b20000 9.5px,#900000 10.5px,#820000 11.5px,#950000 12.5px,#c10000 13.5px,#ff0d00 14.5px,#ff9d00 15.5px,#e8ff17 16.5px,#4affb5 18.5px,#00e5ff 19.5px,#0032ff 20.5px,#0000a6 21.5px,#00008f 22.5px)"></i>
<i style="left:383px;top:42px;width:23px;height:1px;background:linear-gradient(90deg,#00008f 0.5px,#0000c8 1.5px,#005dff 2.5px,#0ffff0 3.5px,#fcff03 6.5px,#ff7900 7.5px,#f40000 8.5px,#b10000 9.5px,#900000 10.5px,#820000 11.5px,#950000 12.5px,#c10000 13.5px,#ff0d00 14.5px,#ff9d00 15.5px,#e9ff16 16.5px,#4bffb4 18.5px,#00e8ff 19.5px,#0036ff 20.5px,#0000a9 21.5px,#00008f 22.5px)"></i>
<i style="left:383px;top:43px;width:23px;height:1px;background:linear-gradient(90deg,#00008f 0.5px,#0000ce 1.5px,#0065ff 2.5px,#12ffed 3.5px,#ff0 6.5px,#ff7600 7.5px,#f20000 8.5px,#b00000 9.5px,#900000 10.5px,#820000 11.5px,#950000 12.5px,#c20000 13.5px,#ff0d00 14.5px,#ff9c00 15.5px,#e9ff16 16.5px,#4cffb3 18.5px,#00ebff 19.5px,#0039ff 20.5px,#0000ac 21.5px,#00008f 22.5px)"></i>
<i style="left:383px;top:44px;width:23px;height:1px;background:linear-gradient(90deg,#00008f 0.5px,#0000d4 1.5px,#006dff 2.5px,#16ffe9 3.5px,#fffd00 6.5px,#ff7200 7.5px,#f10000 8.5px,#ae0000 9.5px,#900000 10.5px,#820000 11.5px,#950000 12.5px,#c20000 13.5px,#ff0d00 14.5px,#ff9c00 15.5px,#eaff15 16.5px,#4dffb2 18.5px,#0ef 19.5px,#003cff 20.5px,#0000af 21.5px,#00008f 22.5px)"></i>
<i style="left:383px;top:45px;width:23px;height:1px;background:linear-gradient(90deg,#00008f 0.5px,#0000da 1.5px,#0075ff 2.5px,#19ffe6 3.5px,#fffb00 6.5px,#ff6e00 7.5px,#ef0000 8.5px,#ad0000 9.5px,#8f0000 10.5px,#830000 11.5px,#950000 12.5px,#c20000 13.5px,#ff0e00 14.5px,#ff9c00 15.5px,#eaff15 16.5px,#4effb1 18.5px,#00f1ff 19.5px,#003fff 20.5px,#0000b2 21.5px,#00008f 22.5px)"></i>
<i style="left:383px;top:46px;width:23px;height:1px;background:linear-gradient(90deg,#00008f 0.5px,#0000e0 1.5px,#007dff 2.5px,#1cffe3 3.5px,#b8ff47 5.5px,#fff800 6.5px,#ff6a00 7.5px,#e00 8.5px,#ac0000 9.5px,#8f0000 10.5px,#830000 11.5px,#950000 12.5px,#c30000 13.5px,#ff0e00 14.5px,#ff9c00 15.5px,#eaff15 16.5px,#4fffb0 18.5px,#00f4ff 19.5px,#0042ff 20.5px,#0000b5 21.5px,#00008f 22.5px)"></i>
<i style="left:383px;top:47px;width:23px;height:1px;background:linear-gradient(90deg,#00008f 0.5px,#0000e6 1.5px,#0085ff 2.5px,#1fffe0 3.5px,#baff45 5.5px,#fff400 6.5px,#ff6700 7.5px,#ec0000 8.5px,#a00 9.5px,#8f0000 10.5px,#830000 11.5px,#960000 12.5px,#c30000 13.5px,#ff0e00 14.5px,#ff9b00 15.5px,#ebff14 16.5px,#50ffaf 18.5px,#00f6ff 19.5px,#0045ff 20.5px,#0000b8 21.5px,#00008f 22.5px)"></i>
<i style="left:383px;top:48px;width:23px;height:1px;background:linear-gradient(90deg,#00008f 0.5px,#0000ec 1.5px,#008dff 2.5px,#2fd 3.5px,#bdff42 5.5px,#ffef00 6.5px,#ff6300 7.5px,#eb0000 8.5px,#a90000 9.5px,#8e0000 10.5px,#830000 11.5px,#960000 12.5px,#c30000 13.5px,#ff0e00 14.5px,#ff9b00 15.5px,#ebff14 16.5px,#00f9ff 19.5px,#0048ff 20.5px,#0000ba 21.5px,#00008f 22.5px)"></i>
<i style="left:383px;top:49px;width:23px;height:1px;background:linear-gradient(90deg,#00008f 0.5px,#0000f2 1.5px,#0095ff 2.5px,#25ffda 3.5px,#bfff40 5.5px,#ffeb00 6.5px,#ff5f00 7.5px,#e90000 8.5px,#a80000 9.5px,#8e0000 10.5px,#830000 11.5px,#960000 12.5px,#c40000 13.5px,#ff0f00 14.5px,#ff9b00 15.5px,#ecff13 16.5px,#00fcff 19.5px,#004bff 20.5px,#0000bd 21.5px,#00008f 22.5px)"></i>
<i style="left:383px;top:50px;width:23px;height:1px;background:linear-gradient(90deg,#00008f 0.5px,#0000f8 1.5px,#009dff 2.5px,#28ffd7 3.5px,#c2ff3d 5.5px,#ffe700 6.5px,#ff5c00 7.5px,#e80000 8.5px,#a70000 9.5px,#8e0000 10.5px,#840000 11.5px,#960000 12.5px,#c40000 13.5px,#ff0f00 14.5px,#ff9b00 15.5px,#ecff13 16.5px,#0ff 19.5px,#004eff 20.5px,#0000c0 21.5px,#00008f 22.5px)"></i>
<i style="left:383px;top:51px;width:23px;height:1px;background:linear-gradient(90deg,#00008f 0.5px,#00f 1.5px,#00a4ff 2.5px,#2bffd4 3.5px,#c4ff3b 5.5px,#ffe300 6.5px,#ff5800 7.5px,#e60000 8.5px,#a50000 9.5px,#8d0000 10.5px,#840000 11.5px,#960000 12.5px,#c40000 13.5px,#ff0f00 14.5px,#ff9a00 15.5px,#ecff13 16.5px,#03fffc 19.5px,#0050ff 20.5px,#0000c3 21.5px,#00008f 22.5px)"></i>
<i style="left:383px;top:52px;width:23px;height:1px;background:linear-gradient(90deg,#00008f 0.5px,#0008ff 1.5px,#00acff 2.5px,#2effd1 3.5px,#c7ff38 5.5px,#ffdf00 6.5px,#ff5400 7.5px,#e50000 8.5px,#a40000 9.5px,#8d0000 10.5px,#840000 11.5px,#960000 12.5px,#c50000 13.5px,#ff0f00 14.5px,#ff9a00 15.5px,#edff12 16.5px,#05fffa 19.5px,#0053ff 20.5px,#0000c5 21.5px,#00008f 22.5px)"></i>
<i style="left:383px;top:53px;width:23px;height:1px;background:linear-gradient(90deg,#00008f 0.5px,#000fff 1.5px,#00b4ff 2.5px,#31ffce 3.5px,#c9ff36 5.5px,#ffdb00 6.5px,#ff5100 7.5px,#e30000 8.5px,#a30000 9.5px,#8d0000 10.5px,#840000 11.5px,#970000 12.5px,#c50000 13.5px,#ff1000 14.5px,#ff9a00 15.5px,#edff12 16.5px,#08fff7 19.5px,#0056ff 20.5px,#0000c8 21.5px,#00008f 22.5px)"></i>
<i style="left:382px;top:54px;width:24px;height:1px;background:linear-gradient(90deg,#00008f 0.5px,#000095 1.5px,#0016ff 2.5px,#0bf 3.5px,#34ffcb 4.5px,#cf3 6.5px,#ffd700 7.5px,#ff4d00 8.5px,#e20000 9.5px,#a20000 10.5px,#8d0000 11.5px,#850000 12.5px,#970000 13.5px,#c50000 14.5px,#ff1000 15.5px,#ff9a00 16.5px,#ef1 17.5px,#0afff5 20.5px,#0059ff 21.5px,#0000cb 22.5px,#00008f 23.5px)"></i>
<i style="left:382px;top:55px;width:24px;height:1px;background:linear-gradient(90deg,#00008f 0.5px,#00009b 1.5px,#001dff 2.5px,#00c3ff 3.5px,#37ffc8 4.5px,#ceff31 6.5px,#ffd300 7.5px,#ff4a00 8.5px,#e00000 9.5px,#a10000 10.5px,#8c0000 11.5px,#850000 12.5px,#970000 13.5px,#c60000 14.5px,#ff1000 15.5px,#f90 16.5px,#ef1 17.5px,#0bfff4 20.5px,#005cff 21.5px,#0000cd 22.5px,#00008f 23.5px)"></i>
<i style="left:382px;top:56px;width:24px;height:1px;background:linear-gradient(90deg,#00008f 0.5px,#0000a1 1.5px,#0023ff 2.5px,#00caff 3.5px,#3affc5 4.5px,#d1ff2e 6.5px,#ffcf00 7.5px,#ff4600 8.5px,#df0000 9.5px,#9f0000 10.5px,#8c0000 11.5px,#850000 12.5px,#970000 13.5px,#c60000 14.5px,#ff1000 15.5px,#f90 16.5px,#ef1 17.5px,#0dfff2 20.5px,#0060ff 21.5px,#0000d0 22.5px,#00008f 23.5px)"></i>
<i style="left:382px;top:57px;width:24px;height:1px;background:linear-gradient(90deg,#00008f 0.5px,#0000a7 1.5px,#002aff 2.5px,#00d2ff 3.5px,#3dffc2 4.5px,#d3ff2c 6.5px,#ffcb00 7.5px,#ff4300 8.5px,#de0000 9.5px,#9e0000 10.5px,#8c0000 11.5px,#850000 12.5px,#970000 13.5px,#c60000 14.5px,#f10 15.5px,#f90 16.5px,#efff10 17.5px,#0efff1 20.5px,#0063ff 21.5px,#0000d3 22.5px,#00008f 23.5px)"></i>
<i style="left:382px;top:58px;width:24px;height:1px;background:linear-gradient(90deg,#00008f 0.5px,#0000ac 1.5px,#0031ff 2.5px,#00d9ff 3.5px,#40ffbf 4.5px,#d6ff29 6.5px,#ffc700 7.5px,#ff3f00 8.5px,#dc0000 9.5px,#9d0000 10.5px,#8c0000 11.5px,#850000 12.5px,#970000 13.5px,#c70000 14.5px,#f10 15.5px,#f90 16.5px,#efff10 17.5px,#0ffff0 20.5px,#06f 21.5px,#0000d5 22.5px,#00008f 23.5px)"></i>
<i style="left:382px;top:59px;width:24px;height:1px;background:linear-gradient(90deg,#00008f 0.5px,#0000b2 1.5px,#0038ff 2.5px,#00e0ff 3.5px,#43ffbc 4.5px,#d8ff27 6.5px,#ffc300 7.5px,#ff3c00 8.5px,#db0000 9.5px,#9d0000 10.5px,#8b0000 11.5px,#860000 12.5px,#970000 13.5px,#c70000 14.5px,#f10 15.5px,#f90 16.5px,#f0ff0f 17.5px,#10ffef 20.5px,#0069ff 21.5px,#0000d8 22.5px,#00008f 23.5px)"></i>
<i style="left:382px;top:60px;width:24px;height:1px;background:linear-gradient(90deg,#00008f 0.5px,#0000b8 1.5px,#003fff 2.5px,#00e7ff 3.5px,#46ffb9 4.5px,#daff25 6.5px,#ffc000 7.5px,#ff3900 8.5px,#d90000 9.5px,#9d0000 10.5px,#8b0000 11.5px,#860000 12.5px,#980000 13.5px,#c70000 14.5px,#f10 15.5px,#ff9800 16.5px,#f0ff0f 17.5px,#1fe 20.5px,#006dff 21.5px,#0000db 22.5px,#00008f 23.5px)"></i>
<i style="left:382px;top:61px;width:24px;height:1px;background:linear-gradient(90deg,#00008f 0.5px,#0000be 1.5px,#0045ff 2.5px,#00efff 3.5px,#49ffb6 4.5px,#df2 6.5px,#ffbc00 7.5px,#ff3500 8.5px,#d80000 9.5px,#9c0000 10.5px,#8b0000 11.5px,#860000 12.5px,#980000 13.5px,#c80000 14.5px,#ff1200 15.5px,#ff9800 16.5px,#f0ff0f 17.5px,#12ffed 20.5px,#0070ff 21.5px,#00d 22.5px,#00008f 23.5px)"></i>
<i style="left:382px;top:62px;width:24px;height:1px;background:linear-gradient(90deg,#00008f 0.5px,#0000c4 1.5px,#004cff 2.5px,#00f6ff 3.5px,#4cffb3 4.5px,#dfff20 6.5px,#ffb800 7.5px,#ff3200 8.5px,#d70000 9.5px,#9c0000 10.5px,#8a0000 11.5px,#860000 12.5px,#980000 13.5px,#c80000 14.5px,#ff1200 15.5px,#ff9800 16.5px,#f1ff0e 17.5px,#13ffec 20.5px,#0073ff 21.5px,#0000e0 22.5px,#00008f 23.5px)"></i>
<i style="left:382px;top:63px;width:24px;height:1px;background:linear-gradient(90deg,#00008f 0.5px,#0000c9 1.5px,#0053ff 2.5px,#00fdff 3.5px,#4effb1 4.5px,#e1ff1e 6.5px,#ffb400 7.5px,#ff2e00 8.5px,#d50000 9.5px,#9c0000 10.5px,#8a0000 11.5px,#860000 12.5px,#980000 13.5px,#c80000 14.5px,#ff1200 15.5px,#ff9800 16.5px,#f1ff0e 17.5px,#14ffeb 20.5px,#0076ff 21.5px,#0000e2 22.5px,#00008f 23.5px)"></i>
<i style="left:382px;top:64px;width:24px;height:1px;background:linear-gradient(90deg,#00008f 0.5px,#0000cf 1.5px,#0059ff 2.5px,#05fffa 3.5px,#e4ff1b 6.5px,#ffb000 7.5px,#ff2b00 8.5px,#d40000 9.5px,#9c0000 10.5px,#8a0000 11.5px,#870000 12.5px,#980000 13.5px,#c90000 14.5px,#ff1200 15.5px,#ff9700 16.5px,#f1ff0e 17.5px,#16ffe9 20.5px,#0079ff 21.5px,#0000e5 22.5px,#00008f 23.5px)"></i>
<i style="left:382px;top:65px;width:24px;height:1px;background:linear-gradient(90deg,#00008f 0.5px,#0000d4 1.5px,#0061ff 2.5px,#0bfff4 3.5px,#e6ff19 6.5px,#ffad00 7.5px,#ff2800 8.5px,#d30000 9.5px,#9b0000 10.5px,#8a0000 11.5px,#870000 12.5px,#980000 13.5px,#c90000 14.5px,#ff1200 15.5px,#ff9700 16.5px,#f2ff0d 17.5px,#17ffe8 20.5px,#007cff 21.5px,#0000e7 22.5px,#00008f 23.5px)"></i>
<i style="left:382px;top:66px;width:24px;height:1px;background:linear-gradient(90deg,#00008f 0.5px,#0000da 1.5px,#0068ff 2.5px,#0efff1 3.5px,#e8ff17 6.5px,#ffa900 7.5px,#ff2500 8.5px,#d10000 9.5px,#9b0000 10.5px,#890000 11.5px,#870000 12.5px,#900 13.5px,#c90000 14.5px,#ff1300 15.5px,#ff9700 16.5px,#f2ff0d 17.5px,#18ffe7 20.5px,#007fff 21.5px,#0000ea 22.5px,#00008f 23.5px)"></i>
<i style="left:382px;top:67px;width:24px;height:1px;background:linear-gradient(90deg,#00008f 0.5px,#0000df 1.5px,#0070ff 2.5px,#1fe 3.5px,#eaff15 6.5px,#ffa500 7.5px,#ff2100 8.5px,#d00000 9.5px,#9b0000 10.5px,#890000 11.5px,#870000 12.5px,#900 13.5px,#c90000 14.5px,#ff1300 15.5px,#ff9700 16.5px,#f2ff0d 17.5px,#19ffe6 20.5px,#0082ff 21.5px,#0000ec 22.5px,#00008f 23.5px)"></i>
<i style="left:382px;top:68px;width:24px;height:1px;background:linear-gradient(90deg,#00008f 0.5px,#0000e5 1.5px,#07f 2.5px,#14ffeb 3.5px,#edff12 6.5px,#ffa200 7.5px,#ff1e00 8.5px,#cf0000 9.5px,#9a0000 10.5px,#890000 11.5px,#870000 12.5px,#900 13.5px,#ca0000 14.5px,#ff1300 15.5px,#ff9700 16.5px,#f3ff0c 17.5px,#1affe5 20.5px,#0085ff 21.5px,#0000ef 22.5px,#00008f 23.5px)"></i>
<i style="left:382px;top:69px;width:24px;height:1px;background:linear-gradient(90deg,#00008f 0.5px,#0000ea 1.5px,#007fff 2.5px,#17ffe8 3.5px,#efff10 6.5px,#ff9e00 7.5px,#ff1b00 8.5px,#ce0000 9.5px,#9a0000 10.5px,#890000 11.5px,#800 12.5px,#900 13.5px,#ca0000 14.5px,#ff1300 15.5px,#ff9600 16.5px,#f3ff0c 17.5px,#1bffe4 20.5px,#08f 21.5px,#0000f1 22.5px,#00008f 23.5px)"></i>
<i style="left:382px;top:70px;width:24px;height:1px;background:linear-gradient(90deg,#00008f 0.5px,#0000f0 1.5px,#0086ff 2.5px,#1affe5 3.5px,#f1ff0e 6.5px,#ff9a00 7.5px,#ff1800 8.5px,#c00 9.5px,#9a0000 10.5px,#800 11.5px,#800 12.5px,#900 13.5px,#ca0000 14.5px,#ff1400 15.5px,#ff9600 16.5px,#f3ff0c 17.5px,#1cffe3 20.5px,#008bff 21.5px,#0000f4 22.5px,#00008f 23.5px)"></i>
<i style="left:382px;top:71px;width:24px;height:1px;background:linear-gradient(90deg,#00008f 0.5px,#0000f6 1.5px,#008dff 2.5px,#1dffe2 3.5px,#f3ff0c 6.5px,#ff9700 7.5px,#ff1500 8.5px,#cb0000 9.5px,#900 10.5px,#800 11.5px,#800 12.5px,#900 13.5px,#cb0000 14.5px,#ff1400 15.5px,#ff9600 16.5px,#f4ff0b 17.5px,#1dffe2 20.5px,#008eff 21.5px,#0000f6 22.5px,#00008f 23.5px)"></i>
<i style="left:382px;top:72px;width:24px;height:1px;background:linear-gradient(90deg,#00008f 0.5px,#0000fc 1.5px,#0094ff 2.5px,#1fffe0 3.5px,#f6ff09 6.5px,#ff9300 7.5px,#f10 8.5px,#ca0000 9.5px,#900 10.5px,#800 11.5px,#800 12.5px,#900 13.5px,#cb0000 14.5px,#ff1400 15.5px,#ff9600 16.5px,#f4ff0b 17.5px,#1effe1 20.5px,#0091ff 21.5px,#0000f9 22.5px,#00008f 23.5px)"></i>
<i style="left:382px;top:73px;width:24px;height:1px;background:linear-gradient(90deg,#00008f 0.5px,#0004ff 1.5px,#009cff 2.5px,#2fd 3.5px,#f8ff07 6.5px,#ff9000 7.5px,#ff0e00 8.5px,#c90000 9.5px,#900 10.5px,#800 11.5px,#800 12.5px,#9a0000 13.5px,#cb0000 14.5px,#ff1400 15.5px,#ff9600 16.5px,#f5ff0a 17.5px,#1fffe0 20.5px,#0094ff 21.5px,#0000fc 22.5px,#00008f 23.5px)"></i>
<i style="left:381px;top:74px;width:25px;height:1px;background:linear-gradient(90deg,#00008f 0.5px,#000094 1.5px,#000aff 2.5px,#00a3ff 3.5px,#25ffda 4.5px,#faff05 7.5px,#ff8c00 8.5px,#ff0b00 9.5px,#c70000 10.5px,#980000 11.5px,#870000 12.5px,#890000 13.5px,#9a0000 14.5px,#c00 15.5px,#ff1400 16.5px,#ff9500 17.5px,#f5ff0a 18.5px,#20ffdf 21.5px,#0097ff 22.5px,#00f 23.5px,#00008f 24.5px)"></i>
<i style="left:381px;top:75px;width:25px;height:1px;background:linear-gradient(90deg,#00008f 0.5px,#009 1.5px,#01f 2.5px,#0af 3.5px,#28ffd7 4.5px,#fcff03 7.5px,#ff8900 8.5px,#ff0800 9.5px,#c60000 10.5px,#980000 11.5px,#870000 12.5px,#890000 13.5px,#9a0000 14.5px,#c00 15.5px,#ff1500 16.5px,#ff9500 17.5px,#f5ff0a 18.5px,#21ffde 21.5px,#009aff 22.5px,#0003ff 23.5px,#00008f 24.5px)"></i>
<i style="left:381px;top:76px;width:25px;height:1px;background:linear-gradient(90deg,#00008f 0.5px,#00009f 1.5px,#0017ff 2.5px,#00b1ff 3.5px,#2bffd4 4.5px,#feff01 7.5px,#ff0500 9.5px,#c50000 10.5px,#980000 11.5px,#870000 12.5px,#890000 13.5px,#9a0000 14.5px,#c00 15.5px,#ff1500 16.5px,#ff9500 17.5px,#f6ff09 18.5px,#2fd 21.5px,#009dff 22.5px,#0006ff 23.5px,#000091 24.5px)"></i>
<i style="left:381px;top:77px;width:26px;height:1px;background:linear-gradient(90deg,#00008f 0.5px,#0000a4 1.5px,#001eff 2.5px,#00b8ff 3.5px,#2effd1 4.5px,#fffe00 7.5px,#ff0200 9.5px,#c40000 10.5px,#980000 11.5px,#870000 12.5px,#890000 13.5px,#9a0000 14.5px,#c00 15.5px,#ff1500 16.5px,#ff9500 17.5px,#f6ff09 18.5px,#23ffdc 21.5px,#00a0ff 22.5px,#0009ff 23.5px,#000094 24.5px,#00008f 25.5px)"></i>
<i style="left:381px;top:78px;width:26px;height:1px;background:linear-gradient(90deg,#00008f 0.5px,#00a 1.5px,#0024ff 2.5px,#00bfff 3.5px,#30ffcf 4.5px,#fffc00 7.5px,#fe0000 9.5px,#c20000 10.5px,#970000 11.5px,#860000 12.5px,#890000 13.5px,#9a0000 14.5px,#cd0000 15.5px,#ff1500 16.5px,#ff9500 17.5px,#f6ff09 18.5px,#24ffdb 21.5px,#00a2ff 22.5px,#000cff 23.5px,#000096 24.5px,#00008f 25.5px)"></i>
<i style="left:381px;top:79px;width:26px;height:1px;background:linear-gradient(90deg,#00008f 0.5px,#0000af 1.5px,#002bff 2.5px,#00c6ff 3.5px,#3fc 4.5px,#fffa00 7.5px,#fc0000 9.5px,#c10000 10.5px,#970000 11.5px,#860000 12.5px,#8a0000 13.5px,#9a0000 14.5px,#cd0000 15.5px,#ff1500 16.5px,#ff9400 17.5px,#f7ff08 18.5px,#25ffda 21.5px,#00a5ff 22.5px,#000fff 23.5px,#009 24.5px,#00008f 25.5px)"></i>
<i style="left:381px;top:80px;width:26px;height:1px;background:linear-gradient(90deg,#00008f 0.5px,#0000b5 1.5px,#0031ff 2.5px,#00cdff 3.5px,#36ffc9 4.5px,#c1ff3e 6.5px,#fff600 7.5px,#fb0000 9.5px,#c00000 10.5px,#970000 11.5px,#860000 12.5px,#8a0000 13.5px,#9a0000 14.5px,#cd0000 15.5px,#ff1600 16.5px,#ff9400 17.5px,#f7ff08 18.5px,#26ffd9 21.5px,#00a8ff 22.5px,#0012ff 23.5px,#00009c 24.5px,#00008f 25.5px)"></i>
<i style="left:381px;top:81px;width:26px;height:1px;background:linear-gradient(90deg,#00008f 0.5px,#0000ba 1.5px,#0037ff 2.5px,#00d4ff 3.5px,#38ffc7 4.5px,#c3ff3c 6.5px,#fff200 7.5px,#ff7400 8.5px,#f90000 9.5px,#bf0000 10.5px,#960000 11.5px,#860000 12.5px,#8a0000 13.5px,#9b0000 14.5px,#cd0000 15.5px,#ff1600 16.5px,#ff9400 17.5px,#f7ff08 18.5px,#27ffd8 21.5px,#00abff 22.5px,#0014ff 23.5px,#00009e 24.5px,#00008f 25.5px)"></i>
<i style="left:381px;top:82px;width:26px;height:1px;background:linear-gradient(90deg,#00008f 0.5px,#0000bf 1.5px,#003eff 2.5px,#00daff 3.5px,#3bffc4 4.5px,#c6ff39 6.5px,#ffef00 7.5px,#ff7100 8.5px,#f80000 9.5px,#be0000 10.5px,#960000 11.5px,#850000 12.5px,#8a0000 13.5px,#9b0000 14.5px,#ce0000 15.5px,#ff1600 16.5px,#ff9400 17.5px,#f7ff08 18.5px,#28ffd7 21.5px,#00aeff 22.5px,#0017ff 23.5px,#0000a1 24.5px,#00008f 25.5px)"></i>
<i style="left:381px;top:83px;width:26px;height:1px;background:linear-gradient(90deg,#00008f 0.5px,#0000c5 1.5px,#04f 2.5px,#00e1ff 3.5px,#3effc1 4.5px,#c8ff37 6.5px,#ffeb00 7.5px,#ff6e00 8.5px,#f70000 9.5px,#bc0000 10.5px,#960000 11.5px,#850000 12.5px,#8a0000 13.5px,#9b0000 14.5px,#ce0000 15.5px,#ff1600 16.5px,#ff9400 17.5px,#f8ff07 18.5px,#29ffd6 21.5px,#00b0ff 22.5px,#001aff 23.5px,#0000a3 24.5px,#00008f 25.5px)"></i>
<i style="left:381px;top:84px;width:26px;height:1px;background:linear-gradient(90deg,#00008f 0.5px,#0000ca 1.5px,#004aff 2.5px,#00e8ff 3.5px,#41ffbe 4.5px,#caff35 6.5px,#ffe700 7.5px,#ff6a00 8.5px,#f50000 9.5px,#b00 10.5px,#960000 11.5px,#850000 12.5px,#8a0000 13.5px,#9b0000 14.5px,#ce0000 15.5px,#ff1600 16.5px,#ff9300 17.5px,#f8ff07 18.5px,#2affd5 21.5px,#00b3ff 22.5px,#001dff 23.5px,#0000a6 24.5px,#00008f 25.5px)"></i>
<i style="left:381px;top:85px;width:26px;height:1px;background:linear-gradient(90deg,#00008f 0.5px,#0000cf 1.5px,#0050ff 2.5px,#00efff 3.5px,#43ffbc 4.5px,#cf3 6.5px,#ffe400 7.5px,#ff6700 8.5px,#f40000 9.5px,#ba0000 10.5px,#950000 11.5px,#850000 12.5px,#8b0000 13.5px,#9b0000 14.5px,#cf0000 15.5px,#ff1700 16.5px,#ff9300 17.5px,#f8ff07 18.5px,#2bffd4 21.5px,#00b6ff 22.5px,#0020ff 23.5px,#0000a8 24.5px,#00008f 25.5px)"></i>
<i style="left:381px;top:86px;width:26px;height:1px;background:linear-gradient(90deg,#00008f 0.5px,#0000d5 1.5px,#0056ff 2.5px,#00f5ff 3.5px,#46ffb9 4.5px,#ceff31 6.5px,#ffe000 7.5px,#ff6400 8.5px,#f30000 9.5px,#b90000 10.5px,#950000 11.5px,#850000 12.5px,#8b0000 13.5px,#9b0000 14.5px,#cf0000 15.5px,#ff1700 16.5px,#ff9300 17.5px,#f9ff06 18.5px,#2cffd3 21.5px,#00b9ff 22.5px,#02f 23.5px,#0000ab 24.5px,#00008f 25.5px)"></i>
<i style="left:381px;top:87px;width:26px;height:1px;background:linear-gradient(90deg,#00008f 0.5px,#0000db 1.5px,#005eff 2.5px,#00fdff 3.5px,#49ffb6 4.5px,#d1ff2e 6.5px,#ffdc00 7.5px,#ff6000 8.5px,#f10000 9.5px,#b80000 10.5px,#950000 11.5px,#840000 12.5px,#8b0000 13.5px,#9b0000 14.5px,#cf0000 15.5px,#ff1700 16.5px,#ff9200 17.5px,#f9ff06 18.5px,#2dffd2 21.5px,#00bcff 22.5px,#0026ff 23.5px,#0000ae 24.5px,#00008f 25.5px)"></i>
<i style="left:381px;top:88px;width:26px;height:1px;background:linear-gradient(90deg,#00008f 0.5px,#0000e2 1.5px,#0068ff 2.5px,#07fff8 3.5px,#d4ff2b 6.5px,#ffd700 7.5px,#ff5c00 8.5px,#ef0000 9.5px,#b60000 10.5px,#940000 11.5px,#840000 12.5px,#8b0000 13.5px,#9b0000 14.5px,#cf0000 15.5px,#ff1600 16.5px,#ff9100 17.5px,#faff05 18.5px,#2fffd0 21.5px,#00c2ff 22.5px,#002bff 23.5px,#0000b3 24.5px,#00008f 25.5px)"></i>
<i style="left:381px;top:89px;width:26px;height:1px;background:linear-gradient(90deg,#00008f 0.5px,#0000e9 1.5px,#0071ff 2.5px,#0cfff3 3.5px,#d7ff28 6.5px,#ffd300 7.5px,#ff5800 8.5px,#e00 9.5px,#b50000 10.5px,#940000 11.5px,#840000 12.5px,#8b0000 13.5px,#9b0000 14.5px,#cf0000 15.5px,#ff1600 16.5px,#ff9000 17.5px,#fbff04 18.5px,#31ffce 21.5px,#00c7ff 22.5px,#0030ff 23.5px,#0000b7 24.5px,#00008f 25.5px)"></i>
<i style="left:381px;top:90px;width:26px;height:1px;background:linear-gradient(90deg,#00008f 0.5px,#0000f0 1.5px,#007bff 2.5px,#10ffef 3.5px,#d9ff26 6.5px,#ffce00 7.5px,#ff5400 8.5px,#ec0000 9.5px,#b40000 10.5px,#940000 11.5px,#840000 12.5px,#8b0000 13.5px,#9c0000 14.5px,#cf0000 15.5px,#ff1500 16.5px,#ff8f00 17.5px,#fcff03 18.5px,#3fc 21.5px,#0cf 22.5px,#0035ff 23.5px,#0000bc 24.5px,#00008f 25.5px)"></i>
<i style="left:381px;top:91px;width:26px;height:1px;background:linear-gradient(90deg,#00008f 0.5px,#0000f7 1.5px,#0084ff 2.5px,#14ffeb 3.5px,#dcff23 6.5px,#ffca00 7.5px,#ff5000 8.5px,#eb0000 9.5px,#b20000 10.5px,#930000 11.5px,#830000 12.5px,#9c0000 14.5px,#cf0000 15.5px,#ff1500 16.5px,#ff8e00 17.5px,#fdff02 18.5px,#35ffca 21.5px,#00d1ff 22.5px,#003aff 23.5px,#0000c0 24.5px,#00008f 25.5px)"></i>
<i style="left:380px;top:92px;width:27px;height:1px;background:linear-gradient(90deg,#00008f 0.5px,#000093 1.5px,#0001ff 2.5px,#008dff 3.5px,#17ffe8 4.5px,#dfff20 7.5px,#ffc500 8.5px,#ff4c00 9.5px,#e90000 10.5px,#b10000 11.5px,#930000 12.5px,#830000 13.5px,#9c0000 15.5px,#cf0000 16.5px,#ff1400 17.5px,#ff8d00 18.5px,#feff01 19.5px,#36ffc9 22.5px,#00d5ff 23.5px,#003fff 24.5px,#0000c5 25.5px,#00008f 26.5px)"></i>
<i style="left:380px;top:93px;width:27px;height:1px;background:linear-gradient(90deg,#00008f 0.5px,#00009a 1.5px,#0009ff 2.5px,#0097ff 3.5px,#1bffe4 4.5px,#e2ff1d 7.5px,#ffc100 8.5px,#ff4800 9.5px,#e80000 10.5px,#b00000 11.5px,#930000 12.5px,#830000 13.5px,#9c0000 15.5px,#cf0000 16.5px,#ff1400 17.5px,#ff0 19.5px,#38ffc7 22.5px,#00daff 23.5px,#0043ff 24.5px,#0000c9 25.5px,#00008f 26.5px)"></i>
<i style="left:380px;top:94px;width:27px;height:1px;background:linear-gradient(90deg,#00008f 0.5px,#0000a2 1.5px,#0012ff 2.5px,#00a0ff 3.5px,#1fffe0 4.5px,#e4ff1b 7.5px,#ffbc00 8.5px,#ff4500 9.5px,#e60000 10.5px,#ae0000 11.5px,#930000 12.5px,#830000 13.5px,#9c0000 15.5px,#cf0000 16.5px,#ff1300 17.5px,#fffe00 19.5px,#3affc5 22.5px,#00dfff 23.5px,#0048ff 24.5px,#0000cd 25.5px,#00008f 26.5px)"></i>
<i style="left:380px;top:95px;width:27px;height:1px;background:linear-gradient(90deg,#00008f 0.5px,#0000a9 1.5px,#001aff 2.5px,#00a9ff 3.5px,#2fd 4.5px,#e7ff18 7.5px,#ffb800 8.5px,#ff4100 9.5px,#e50000 10.5px,#ad0000 11.5px,#920000 12.5px,#830000 13.5px,#9c0000 15.5px,#cf0000 16.5px,#ff1300 17.5px,#fffd00 19.5px,#3cffc3 22.5px,#00e4ff 23.5px,#004dff 24.5px,#0000d1 25.5px,#00008f 26.5px)"></i>
<i style="left:380px;top:96px;width:27px;height:1px;background:linear-gradient(90deg,#00008f 0.5px,#0000b0 1.5px,#02f 2.5px,#00b2ff 3.5px,#26ffd9 4.5px,#eaff15 7.5px,#ffb400 8.5px,#ff3d00 9.5px,#e30000 10.5px,#ac0000 11.5px,#920000 12.5px,#820000 13.5px,#9c0000 15.5px,#cf0000 16.5px,#ff1200 17.5px,#fffd00 19.5px,#3dffc2 22.5px,#00e9ff 23.5px,#0051ff 24.5px,#0000d5 25.5px,#00008f 26.5px)"></i>
<i style="left:380px;top:97px;width:27px;height:1px;background:linear-gradient(90deg,#00008f 0.5px,#0000b7 1.5px,#002aff 2.5px,#00baff 3.5px,#29ffd6 4.5px,#ecff13 7.5px,#ffaf00 8.5px,#ff3900 9.5px,#e20000 10.5px,#ab0000 11.5px,#920000 12.5px,#820000 13.5px,#9c0000 15.5px,#cf0000 16.5px,#ff1200 17.5px,#fffc00 19.5px,#3fffc0 22.5px,#00edff 23.5px,#0056ff 24.5px,#0000da 25.5px,#00008f 26.5px)"></i>
<i style="left:380px;top:98px;width:27px;height:1px;background:linear-gradient(90deg,#00008f 0.5px,#0000be 1.5px,#03f 2.5px,#00c3ff 3.5px,#2dffd2 4.5px,#efff10 7.5px,#ffab00 8.5px,#ff3600 9.5px,#e00000 10.5px,#a90000 11.5px,#910000 12.5px,#820000 13.5px,#9c0000 15.5px,#cf0000 16.5px,#f10 17.5px,#fffb00 19.5px,#41ffbe 22.5px,#00f2ff 23.5px,#005bff 24.5px,#0000de 25.5px,#00008f 26.5px)"></i>
<i style="left:380px;top:99px;width:27px;height:1px;background:linear-gradient(90deg,#00008f 0.5px,#0000c4 1.5px,#003bff 2.5px,#0cf 3.5px,#30ffcf 4.5px,#f2ff0d 7.5px,#ffa700 8.5px,#ff3200 9.5px,#df0000 10.5px,#a80000 11.5px,#820000 13.5px,#9c0000 15.5px,#cf0000 16.5px,#f10 17.5px,#fffa00 19.5px,#43ffbc 22.5px,#00f7ff 23.5px,#0060ff 24.5px,#0000e2 25.5px,#00008f 26.5px)"></i>
<i style="left:380px;top:100px;width:27px;height:1px;background:linear-gradient(90deg,#00008f 0.5px,#0000cb 1.5px,#0043ff 2.5px,#00d4ff 3.5px,#34ffcb 4.5px,#f4ff0b 7.5px,#ffa300 8.5px,#ff2e00 9.5px,#d00 10.5px,#a70000 11.5px,#810000 13.5px,#9c0000 15.5px,#cf0000 16.5px,#ff1000 17.5px,#fff900 19.5px,#c5ff3a 20.5px,#00fbff 23.5px,#0065ff 24.5px,#0000e6 25.5px,#00008f 26.5px)"></i>
<i style="left:380px;top:101px;width:27px;height:1px;background:linear-gradient(90deg,#00008f 0.5px,#0000d2 1.5px,#004aff 2.5px,#0df 3.5px,#37ffc8 4.5px,#f7ff08 7.5px,#ff9f00 8.5px,#ff2b00 9.5px,#dc0000 10.5px,#a60000 11.5px,#810000 13.5px,#9c0000 15.5px,#cf0000 16.5px,#ff1000 17.5px,#fff800 19.5px,#c6ff39 20.5px,#01fffe 23.5px,#006bff 24.5px,#0000ea 25.5px,#00008f 26.5px)"></i>
<i style="left:380px;top:102px;width:27px;height:1px;background:linear-gradient(90deg,#00008f 0.5px,#0000d9 1.5px,#0052ff 2.5px,#00e5ff 3.5px,#3affc5 4.5px,#f9ff06 7.5px,#ff9b00 8.5px,#ff2700 9.5px,#da0000 10.5px,#a50000 11.5px,#810000 13.5px,#9c0000 15.5px,#cf0000 16.5px,#ff0f00 17.5px,#fff700 19.5px,#c7ff38 20.5px,#05fffa 23.5px,#0070ff 24.5px,#00e 25.5px,#00008f 26.5px)"></i>
<i style="left:380px;top:103px;width:27px;height:1px;background:linear-gradient(90deg,#00008f 0.5px,#0000df 1.5px,#005aff 2.5px,#0ef 3.5px,#3effc1 4.5px,#fcff03 7.5px,#ff9700 8.5px,#ff2400 9.5px,#d90000 10.5px,#a30000 11.5px,#810000 13.5px,#9d0000 15.5px,#cf0000 16.5px,#ff0f00 17.5px,#fff500 19.5px,#c8ff37 20.5px,#0afff5 23.5px,#0075ff 24.5px,#0000f2 25.5px,#00008f 26.5px)"></i>
<i style="left:380px;top:104px;width:27px;height:1px;background:linear-gradient(90deg,#00008f 0.5px,#0000e6 1.5px,#0063ff 2.5px,#00f6ff 3.5px,#41ffbe 4.5px,#feff01 7.5px,#ff2000 9.5px,#d80000 10.5px,#a20000 11.5px,#810000 13.5px,#9d0000 15.5px,#cf0000 16.5px,#ff0e00 17.5px,#fff400 19.5px,#c9ff36 20.5px,#0cfff3 23.5px,#007aff 24.5px,#0000f6 25.5px,#000091 26.5px)"></i>
<i style="left:380px;top:105px;width:28px;height:1px;background:linear-gradient(90deg,#00008f 0.5px,#0000ed 1.5px,#006cff 2.5px,#00feff 3.5px,#4fb 4.5px,#fffd00 7.5px,#ff1d00 9.5px,#d60000 10.5px,#a10000 11.5px,#800000 13.5px,#9d0000 15.5px,#cf0000 16.5px,#ff0e00 17.5px,#fff200 19.5px,#caff35 20.5px,#0efff1 23.5px,#007fff 24.5px,#0000fb 25.5px,#000095 26.5px,#00008f 27.5px)"></i>
<i style="left:380px;top:106px;width:28px;height:1px;background:linear-gradient(90deg,#00008f 0.5px,#0000f3 1.5px,#0075ff 2.5px,#08fff7 3.5px,#fffb00 7.5px,#ff1900 9.5px,#d50000 10.5px,#a00000 11.5px,#800000 13.5px,#9d0000 15.5px,#cf0000 16.5px,#ff0d00 17.5px,#fff100 19.5px,#cbff34 20.5px,#0ffff0 23.5px,#0084ff 24.5px,#0001ff 25.5px,#009 26.5px,#00008f 27.5px)"></i>
<i style="left:379px;top:107px;width:29px;height:1px;background:linear-gradient(90deg,#00008f 0.5px,#000096 1.5px,#0000fb 2.5px,#007dff 3.5px,#0cfff3 4.5px,#c7ff38 7.5px,#fff800 8.5px,#ff1600 10.5px,#d30000 11.5px,#9f0000 12.5px,#800000 14.5px,#9d0000 16.5px,#cf0000 17.5px,#ff0d00 18.5px,#ffef00 20.5px,#cf3 21.5px,#1fe 24.5px,#0089ff 25.5px,#0005ff 26.5px,#00009d 27.5px,#00008f 28.5px)"></i>
<i style="left:379px;top:108px;width:29px;height:1px;background:linear-gradient(90deg,#00008f 0.5px,#00009d 1.5px,#0004ff 2.5px,#0086ff 3.5px,#10ffef 4.5px,#caff35 7.5px,#fff400 8.5px,#ff1200 10.5px,#d20000 11.5px,#9e0000 12.5px,#800000 14.5px,#9d0000 16.5px,#cf0000 17.5px,#ff0c00 18.5px,#fe0 20.5px,#cdff32 21.5px,#13ffec 24.5px,#008eff 25.5px,#000aff 26.5px,#0000a2 27.5px,#00008f 28.5px)"></i>
<i style="left:379px;top:109px;width:29px;height:1px;background:linear-gradient(90deg,#00008f 0.5px,#0000a3 1.5px,#000cff 2.5px,#008fff 3.5px,#13ffec 4.5px,#cdff32 7.5px,#ffef00 8.5px,#ff0f00 10.5px,#d10000 11.5px,#9d0000 12.5px,#800000 14.5px,#9d0000 16.5px,#cf0000 17.5px,#ff0c00 18.5px,#ffed00 20.5px,#ceff31 21.5px,#15ffea 24.5px,#0092ff 25.5px,#000fff 26.5px,#0000a6 27.5px,#00008f 28.5px)"></i>
<i style="left:379px;top:110px;width:29px;height:1px;background:linear-gradient(90deg,#00008f 0.5px,#00a 1.5px,#0013ff 2.5px,#0097ff 3.5px,#17ffe8 4.5px,#cfff30 7.5px,#ffeb00 8.5px,#ff0c00 10.5px,#cf0000 11.5px,#9d0000 12.5px,#800000 14.5px,#9d0000 16.5px,#cf0000 17.5px,#ff0c00 18.5px,#ffeb00 20.5px,#cfff30 21.5px,#17ffe8 24.5px,#0097ff 25.5px,#0013ff 26.5px,#00a 27.5px,#00008f 28.5px)"></i>
<i style="left:379px;top:111px;width:29px;height:1px;background:linear-gradient(90deg,#00008f 0.5px,#0000b1 1.5px,#001bff 2.5px,#00a0ff 3.5px,#1affe5 4.5px,#d2ff2d 7.5px,#ffe700 8.5px,#ff0800 10.5px,#ce0000 11.5px,#9d0000 12.5px,#800000 14.5px,#9d0000 16.5px,#cf0000 17.5px,#ff0b00 18.5px,#ffea00 20.5px,#d0ff2f 21.5px,#18ffe7 24.5px,#009cff 25.5px,#0018ff 26.5px,#0000ae 27.5px,#00008f 28.5px)"></i>
<i style="left:379px;top:112px;width:29px;height:1px;background:linear-gradient(90deg,#00008f 0.5px,#0000b7 1.5px,#0023ff 2.5px,#00a8ff 3.5px,#1dffe2 4.5px,#d4ff2b 7.5px,#ffe300 8.5px,#ff0500 10.5px,#cd0000 11.5px,#9c0000 12.5px,#800000 14.5px,#9d0000 16.5px,#cf0000 17.5px,#ff0b00 18.5px,#ffe800 20.5px,#d1ff2e 21.5px,#1affe5 24.5px,#00a1ff 25.5px,#001dff 26.5px,#0000b2 27.5px,#00008f 28.5px)"></i>
<i style="left:379px;top:113px;width:29px;height:1px;background:linear-gradient(90deg,#00008f 0.5px,#0000be 1.5px,#002aff 2.5px,#00b0ff 3.5px,#21ffde 4.5px,#d7ff28 7.5px,#ffdf00 8.5px,#ff0200 10.5px,#cb0000 11.5px,#9c0000 12.5px,#800000 14.5px,#9d0000 16.5px,#cf0000 17.5px,#ff0a00 18.5px,#ffe700 20.5px,#d2ff2d 21.5px,#1cffe3 24.5px,#00a5ff 25.5px,#0021ff 26.5px,#0000b6 27.5px,#00008f 28.5px)"></i>
<i style="left:379px;top:114px;width:29px;height:1px;background:linear-gradient(90deg,#00008f 0.5px,#0000c4 1.5px,#0032ff 2.5px,#00b9ff 3.5px,#24ffdb 4.5px,#d9ff26 7.5px,#ffda00 8.5px,#fe0000 10.5px,#9c0000 12.5px,#800000 14.5px,#9d0000 16.5px,#cf0000 17.5px,#ff0a00 18.5px,#ffe600 20.5px,#d3ff2c 21.5px,#1effe1 24.5px,#0af 25.5px,#0026ff 26.5px,#0000ba 27.5px,#00008f 28.5px)"></i>
<i style="left:379px;top:115px;width:29px;height:1px;background:linear-gradient(90deg,#00008f 0.5px,#0000ca 1.5px,#003aff 2.5px,#00c1ff 3.5px,#27ffd8 4.5px,#dcff23 7.5px,#ffd600 8.5px,#fc0000 10.5px,#9b0000 12.5px,#800000 14.5px,#9d0000 16.5px,#cf0000 17.5px,#ff0900 18.5px,#ffe400 20.5px,#d4ff2b 21.5px,#1fffe0 24.5px,#00afff 25.5px,#002aff 26.5px,#0000be 27.5px,#00008f 28.5px)"></i>
<i style="left:379px;top:116px;width:29px;height:1px;background:linear-gradient(90deg,#00008f 0.5px,#0000d1 1.5px,#0041ff 2.5px,#00c9ff 3.5px,#2affd5 4.5px,#deff21 7.5px,#ffd200 8.5px,#fa0000 10.5px,#9b0000 12.5px,#810000 14.5px,#9d0000 16.5px,#cf0000 17.5px,#ff0900 18.5px,#ffe300 20.5px,#d5ff2a 21.5px,#21ffde 24.5px,#00b3ff 25.5px,#002eff 26.5px,#0000c2 27.5px,#00008f 28.5px)"></i>
<i style="left:379px;top:117px;width:29px;height:1px;background:linear-gradient(90deg,#00008f 0.5px,#0000d7 1.5px,#0048ff 2.5px,#00d1ff 3.5px,#2effd1 4.5px,#e1ff1e 7.5px,#ffce00 8.5px,#ff6200 9.5px,#f90000 10.5px,#9b0000 12.5px,#810000 14.5px,#9d0000 16.5px,#cf0000 17.5px,#ff0900 18.5px,#ffe200 20.5px,#d6ff29 21.5px,#23ffdc 24.5px,#00b8ff 25.5px,#03f 26.5px,#0000c6 27.5px,#00008f 28.5px)"></i>
<i style="left:379px;top:118px;width:29px;height:1px;background:linear-gradient(90deg,#00008f 0.5px,#00d 1.5px,#0050ff 2.5px,#00d9ff 3.5px,#31ffce 4.5px,#e3ff1c 7.5px,#ffca00 8.5px,#ff5e00 9.5px,#f70000 10.5px,#9b0000 12.5px,#810000 14.5px,#9e0000 16.5px,#d00000 17.5px,#ff0800 18.5px,#ffe000 20.5px,#d7ff28 21.5px,#25ffda 24.5px,#00bcff 25.5px,#0037ff 26.5px,#0000ca 27.5px,#00008f 28.5px)"></i>
<i style="left:379px;top:119px;width:29px;height:1px;background:linear-gradient(90deg,#00008f 0.5px,#0000e3 1.5px,#0057ff 2.5px,#00e1ff 3.5px,#34ffcb 4.5px,#e6ff19 7.5px,#ffc600 8.5px,#ff5a00 9.5px,#f60000 10.5px,#c40000 11.5px,#9a0000 12.5px,#810000 14.5px,#9e0000 16.5px,#ff0800 18.5px,#ffdf00 20.5px,#d8ff27 21.5px,#26ffd9 24.5px,#00c1ff 25.5px,#003bff 26.5px,#0000cd 27.5px,#00008f 28.5px)"></i>
<i style="left:379px;top:120px;width:29px;height:1px;background:linear-gradient(90deg,#00008f 0.5px,#0000ea 1.5px,#005fff 2.5px,#00e9ff 3.5px,#37ffc8 4.5px,#e8ff17 7.5px,#ffc200 8.5px,#ff5700 9.5px,#f50000 10.5px,#c30000 11.5px,#9a0000 12.5px,#810000 14.5px,#9e0000 16.5px,#ff0700 18.5px,#ffde00 20.5px,#d9ff26 21.5px,#28ffd7 24.5px,#00c5ff 25.5px,#0040ff 26.5px,#0000d1 27.5px,#00008f 28.5px)"></i>
<i style="left:378px;top:121px;width:30px;height:1px;background:linear-gradient(90deg,#00008f 0.5px,#000092 1.5px,#0000f0 2.5px,#0067ff 3.5px,#00f0ff 4.5px,#3affc5 5.5px,#eaff15 8.5px,#ffbe00 9.5px,#ff5400 10.5px,#f30000 11.5px,#c10000 12.5px,#9a0000 13.5px,#820000 15.5px,#9e0000 17.5px,#ff0700 19.5px,#fd0 21.5px,#daff25 22.5px,#29ffd6 25.5px,#00c9ff 26.5px,#04f 27.5px,#0000d5 28.5px,#00008f 29.5px)"></i>
<i style="left:378px;top:122px;width:30px;height:1px;background:linear-gradient(90deg,#00008f 0.5px,#000098 1.5px,#0000f6 2.5px,#006fff 3.5px,#00f8ff 4.5px,#3dffc2 5.5px,#edff12 8.5px,#ffba00 9.5px,#ff5000 10.5px,#f20000 11.5px,#c00000 12.5px,#900 13.5px,#820000 15.5px,#9e0000 17.5px,#ff0700 19.5px,#ffdb00 21.5px,#dbff24 22.5px,#2bffd4 25.5px,#00ceff 26.5px,#0048ff 27.5px,#0000d9 28.5px,#00008f 29.5px)"></i>
<i style="left:378px;top:123px;width:30px;height:1px;background:linear-gradient(90deg,#00008f 0.5px,#00009e 1.5px,#0000fe 2.5px,#0078ff 3.5px,#01fffe 4.5px,#efff10 8.5px,#ffb700 9.5px,#ff4d00 10.5px,#f00000 11.5px,#bf0000 12.5px,#900 13.5px,#820000 15.5px,#9e0000 17.5px,#ff0600 19.5px,#ffda00 21.5px,#dcff23 22.5px,#2dffd2 25.5px,#00d2ff 26.5px,#004cff 27.5px,#0000dc 28.5px,#00008f 29.5px)"></i>
<i style="left:378px;top:124px;width:30px;height:1px;background:linear-gradient(90deg,#00008f 0.5px,#0000a5 1.5px,#0006ff 2.5px,#0080ff 3.5px,#08fff7 4.5px,#f2ff0d 8.5px,#ffb300 9.5px,#ff4900 10.5px,#ef0000 11.5px,#be0000 12.5px,#900 13.5px,#820000 15.5px,#9f0000 17.5px,#ff0600 19.5px,#ffd900 21.5px,#df2 22.5px,#2effd1 25.5px,#00d6ff 26.5px,#0050ff 27.5px,#0000e0 28.5px,#00008f 29.5px)"></i>
<i style="left:378px;top:125px;width:30px;height:1px;background:linear-gradient(90deg,#00008f 0.5px,#0000ab 1.5px,#000eff 2.5px,#08f 3.5px,#0cfff3 4.5px,#f4ff0b 8.5px,#ffaf00 9.5px,#ff4600 10.5px,#e00 11.5px,#bd0000 12.5px,#900 13.5px,#820000 15.5px,#9f0000 17.5px,#ff0500 19.5px,#ffd800 21.5px,#df2 22.5px,#30ffcf 25.5px,#00dbff 26.5px,#0054ff 27.5px,#0000e4 28.5px,#00008f 29.5px)"></i>
<i style="left:378px;top:126px;width:30px;height:1px;background:linear-gradient(90deg,#00008f 0.5px,#0000b1 1.5px,#0015ff 2.5px,#0090ff 3.5px,#10ffef 4.5px,#f6ff09 8.5px,#ffab00 9.5px,#ff4300 10.5px,#ec0000 11.5px,#bc0000 12.5px,#980000 13.5px,#820000 15.5px,#9f0000 17.5px,#ff0500 19.5px,#ffd700 21.5px,#deff21 22.5px,#32ffcd 25.5px,#00dfff 26.5px,#0059ff 27.5px,#0000e7 28.5px,#00008f 29.5px)"></i>
<i style="left:378px;top:127px;width:30px;height:1px;background:linear-gradient(90deg,#00008f 0.5px,#0000b7 1.5px,#001cff 2.5px,#0098ff 3.5px,#13ffec 4.5px,#f8ff07 8.5px,#ffa800 9.5px,#ff3f00 10.5px,#eb0000 11.5px,#ba0000 12.5px,#980000 13.5px,#830000 15.5px,#9f0000 17.5px,#ff0500 19.5px,#ffd500 21.5px,#dfff20 22.5px,#3fc 25.5px,#00e3ff 26.5px,#005dff 27.5px,#0000eb 28.5px,#00008f 29.5px)"></i>
<i style="left:378px;top:128px;width:31px;height:1px;background:linear-gradient(90deg,#00008f 0.5px,#0000be 1.5px,#0023ff 2.5px,#00a0ff 3.5px,#16ffe9 4.5px,#fbff04 8.5px,#ffa400 9.5px,#ff3c00 10.5px,#ea0000 11.5px,#b90000 12.5px,#980000 13.5px,#830000 15.5px,#9f0000 17.5px,#ff0400 19.5px,#ffd400 21.5px,#e0ff1f 22.5px,#35ffca 25.5px,#00e7ff 26.5px,#0062ff 27.5px,#0000ef 28.5px,#000093 29.5px,#00008f 30.5px)"></i>
<i style="left:378px;top:129px;width:31px;height:1px;background:linear-gradient(90deg,#00008f 0.5px,#0000c4 1.5px,#002aff 2.5px,#00a8ff 3.5px,#19ffe6 4.5px,#fdff02 8.5px,#ffa000 9.5px,#ff3900 10.5px,#e80000 11.5px,#b80000 12.5px,#970000 13.5px,#830000 15.5px,#a00000 17.5px,#ff0400 19.5px,#ffd300 21.5px,#e1ff1e 22.5px,#36ffc9 25.5px,#00ebff 26.5px,#06f 27.5px,#0000f2 28.5px,#000097 29.5px,#00008f 30.5px)"></i>
<i style="left:378px;top:130px;width:31px;height:1px;background:linear-gradient(90deg,#00008f 0.5px,#0000ca 1.5px,#0032ff 2.5px,#00afff 3.5px,#1cffe3 4.5px,#ff0 8.5px,#ff3500 10.5px,#e70000 11.5px,#b70000 12.5px,#970000 13.5px,#830000 15.5px,#a00000 17.5px,#ff0400 19.5px,#ffd200 21.5px,#e2ff1d 22.5px,#38ffc7 25.5px,#00efff 26.5px,#006bff 27.5px,#0000f6 28.5px,#00009b 29.5px,#00008f 30.5px)"></i>
<i style="left:378px;top:131px;width:31px;height:1px;background:linear-gradient(90deg,#00008f 0.5px,#0000d0 1.5px,#0039ff 2.5px,#00b7ff 3.5px,#1fffe0 4.5px,#fffd00 8.5px,#ff3200 10.5px,#e60000 11.5px,#b60000 12.5px,#970000 13.5px,#830000 15.5px,#a00000 17.5px,#ff0300 19.5px,#ffd100 21.5px,#e3ff1c 22.5px,#39ffc6 25.5px,#00f3ff 26.5px,#0070ff 27.5px,#0000fa 28.5px,#00009f 29.5px,#00008f 30.5px)"></i>
<i style="left:378px;top:132px;width:31px;height:1px;background:linear-gradient(90deg,#00008f 0.5px,#0000d6 1.5px,#0040ff 2.5px,#00bfff 3.5px,#2fd 4.5px,#fffa00 8.5px,#ff2f00 10.5px,#e40000 11.5px,#b50000 12.5px,#970000 13.5px,#830000 15.5px,#a00000 17.5px,#ff0300 19.5px,#ffcf00 21.5px,#e4ff1b 22.5px,#3bffc4 25.5px,#00f7ff 26.5px,#0074ff 27.5px,#00f 28.5px,#0000a2 29.5px,#00008f 30.5px)"></i>
<i style="left:378px;top:133px;width:31px;height:1px;background:linear-gradient(90deg,#00008f 0.5px,#0000db 1.5px,#0046ff 2.5px,#00c6ff 3.5px,#25ffda 4.5px,#ceff31 7.5px,#fff800 8.5px,#ff2c00 10.5px,#e30000 11.5px,#b40000 12.5px,#960000 13.5px,#830000 15.5px,#a00000 17.5px,#ff0200 19.5px,#ffce00 21.5px,#e4ff1b 22.5px,#00fbff 26.5px,#0079ff 27.5px,#0004ff 28.5px,#0000a6 29.5px,#00008f 30.5px)"></i>
<i style="left:378px;top:134px;width:31px;height:1px;background:linear-gradient(90deg,#00008f 0.5px,#0000e1 1.5px,#004dff 2.5px,#00ceff 3.5px,#28ffd7 4.5px,#d0ff2f 7.5px,#fff400 8.5px,#ff2900 10.5px,#e20000 11.5px,#b30000 12.5px,#960000 13.5px,#890000 14.5px,#840000 15.5px,#a10000 17.5px,#ff0200 19.5px,#ffcd00 21.5px,#e5ff1a 22.5px,#3effc1 25.5px,#0ff 26.5px,#007dff 27.5px,#0008ff 28.5px,#00a 29.5px,#00008f 30.5px)"></i>
<i style="left:378px;top:135px;width:31px;height:1px;background:linear-gradient(90deg,#00008f 0.5px,#0000e7 1.5px,#0054ff 2.5px,#00d5ff 3.5px,#2bffd4 4.5px,#d2ff2d 7.5px,#fff000 8.5px,#ff2600 10.5px,#e00000 11.5px,#b10000 12.5px,#960000 13.5px,#890000 14.5px,#840000 15.5px,#a10000 17.5px,#ff0200 19.5px,#fc0 21.5px,#e6ff19 22.5px,#04fffb 26.5px,#0081ff 27.5px,#000cff 28.5px,#0000ae 29.5px,#00008f 30.5px)"></i>
<i style="left:377px;top:136px;width:32px;height:1px;background:linear-gradient(90deg,#00008f 0.5px,#000094 1.5px,#0000ed 2.5px,#005bff 3.5px,#0df 4.5px,#2effd1 5.5px,#d5ff2a 8.5px,#ffec00 9.5px,#ff2300 11.5px,#df0000 12.5px,#b00000 13.5px,#960000 14.5px,#800 15.5px,#840000 16.5px,#a10000 18.5px,#ff0100 20.5px,#ffcb00 22.5px,#e7ff18 23.5px,#08fff7 27.5px,#0086ff 28.5px,#01f 29.5px,#0000b1 30.5px,#00008f 31.5px)"></i>
<i style="left:377px;top:137px;width:32px;height:1px;background:linear-gradient(90deg,#00008f 0.5px,#00009a 1.5px,#0000f3 2.5px,#0063ff 3.5px,#00e4ff 4.5px,#31ffce 5.5px,#d7ff28 8.5px,#ffe800 9.5px,#ff1f00 11.5px,#de0000 12.5px,#af0000 13.5px,#950000 14.5px,#800 15.5px,#840000 16.5px,#a10000 18.5px,#ff0100 20.5px,#ffca00 22.5px,#e8ff17 23.5px,#0bfff4 27.5px,#008aff 28.5px,#0015ff 29.5px,#0000b5 30.5px,#00008f 31.5px)"></i>
<i style="left:377px;top:138px;width:32px;height:1px;background:linear-gradient(90deg,#00008f 0.5px,#0000a0 1.5px,#0000f9 2.5px,#006bff 3.5px,#00ebff 4.5px,#34ffcb 5.5px,#d9ff26 8.5px,#ffe400 9.5px,#ff1c00 11.5px,#d00 12.5px,#ae0000 13.5px,#950000 14.5px,#800 15.5px,#840000 16.5px,#a10000 18.5px,#ff0100 20.5px,#ffc900 22.5px,#e9ff16 23.5px,#0cfff3 27.5px,#008eff 28.5px,#0019ff 29.5px,#0000b9 30.5px,#00008f 31.5px)"></i>
<i style="left:377px;top:139px;width:32px;height:1px;background:linear-gradient(90deg,#00008f 0.5px,#0000a6 1.5px,#0001ff 2.5px,#0073ff 3.5px,#00f2ff 4.5px,#37ffc8 5.5px,#dcff23 8.5px,#ffe100 9.5px,#ff1900 11.5px,#db0000 12.5px,#ad0000 13.5px,#950000 14.5px,#800 15.5px,#840000 16.5px,#a20000 18.5px,#f00 20.5px,#ffc800 22.5px,#e9ff16 23.5px,#0efff1 27.5px,#0093ff 28.5px,#001dff 29.5px,#0000bc 30.5px,#00008f 31.5px)"></i>
<i style="left:377px;top:140px;width:32px;height:1px;background:linear-gradient(90deg,#00008f 0.5px,#0000ac 1.5px,#0008ff 2.5px,#007aff 3.5px,#00faff 4.5px,#3affc5 5.5px,#deff21 8.5px,#fd0 9.5px,#ff1600 11.5px,#da0000 12.5px,#ac0000 13.5px,#950000 14.5px,#800 15.5px,#850000 16.5px,#a20000 18.5px,#f00 20.5px,#ffc700 22.5px,#eaff15 23.5px,#10ffef 27.5px,#0097ff 28.5px,#0021ff 29.5px,#0000c0 30.5px,#00008f 31.5px)"></i>
<i style="left:377px;top:141px;width:32px;height:1px;background:linear-gradient(90deg,#00008f 0.5px,#0000b2 1.5px,#000fff 2.5px,#0082ff 3.5px,#02fffd 4.5px,#e0ff1f 8.5px,#ffd900 9.5px,#ff1300 11.5px,#d90000 12.5px,#ab0000 13.5px,#940000 14.5px,#870000 15.5px,#850000 16.5px,#a20000 18.5px,#f00 20.5px,#ffc500 22.5px,#ebff14 23.5px,#1fe 27.5px,#009bff 28.5px,#0025ff 29.5px,#0000c3 30.5px,#00008f 31.5px)"></i>
<i style="left:377px;top:142px;width:32px;height:1px;background:linear-gradient(90deg,#00008f 0.5px,#0000b8 1.5px,#0016ff 2.5px,#0089ff 3.5px,#09fff6 4.5px,#e2ff1d 8.5px,#ffd600 9.5px,#ff1000 11.5px,#d80000 12.5px,#a00 13.5px,#940000 14.5px,#870000 15.5px,#850000 16.5px,#a20000 18.5px,#fe0000 20.5px,#ffc400 22.5px,#ecff13 23.5px,#13ffec 27.5px,#009fff 28.5px,#0029ff 29.5px,#0000c7 30.5px,#00008f 31.5px)"></i>
<i style="left:377px;top:143px;width:32px;height:1px;background:linear-gradient(90deg,#00008f 0.5px,#0000be 1.5px,#001dff 2.5px,#0091ff 3.5px,#0dfff2 4.5px,#e5ff1a 8.5px,#ffd200 9.5px,#ff0e00 11.5px,#d70000 12.5px,#a90000 13.5px,#940000 14.5px,#870000 15.5px,#850000 16.5px,#a20000 18.5px,#fe0000 20.5px,#ffc300 22.5px,#edff12 23.5px,#15ffea 27.5px,#00a4ff 28.5px,#002dff 29.5px,#0000ca 30.5px,#00008f 31.5px)"></i>
<i style="left:377px;top:144px;width:32px;height:1px;background:linear-gradient(90deg,#00008f 0.5px,#0000c3 1.5px,#0024ff 2.5px,#0098ff 3.5px,#10ffef 4.5px,#e7ff18 8.5px,#ffce00 9.5px,#ff0b00 11.5px,#d50000 12.5px,#a80000 13.5px,#940000 14.5px,#870000 15.5px,#850000 16.5px,#a20000 18.5px,#fe0000 20.5px,#ffc200 22.5px,#edff12 23.5px,#16ffe9 27.5px,#00a8ff 28.5px,#0031ff 29.5px,#0000ce 30.5px,#00008f 31.5px)"></i>
<i style="left:377px;top:145px;width:32px;height:1px;background:linear-gradient(90deg,#00008f 0.5px,#0000c9 1.5px,#002aff 2.5px,#00a0ff 3.5px,#12ffed 4.5px,#e9ff16 8.5px,#ffcb00 9.5px,#ff0800 11.5px,#d40000 12.5px,#a70000 13.5px,#870000 15.5px,#850000 16.5px,#a30000 18.5px,#fd0000 20.5px,#ffc100 22.5px,#ef1 23.5px,#18ffe7 27.5px,#00acff 28.5px,#0035ff 29.5px,#0000d1 30.5px,#00008f 31.5px)"></i>
<i style="left:377px;top:146px;width:32px;height:1px;background:linear-gradient(90deg,#00008f 0.5px,#0000cf 1.5px,#0031ff 2.5px,#00a7ff 3.5px,#15ffea 4.5px,#ebff14 8.5px,#ffc700 9.5px,#ff0500 11.5px,#d30000 12.5px,#a60000 13.5px,#860000 15.5px,#850000 16.5px,#a30000 18.5px,#fd0000 20.5px,#ffc000 22.5px,#efff10 23.5px,#19ffe6 27.5px,#00b0ff 28.5px,#0039ff 29.5px,#0000d5 30.5px,#00008f 31.5px)"></i>
<i style="left:377px;top:147px;width:32px;height:1px;background:linear-gradient(90deg,#00008f 0.5px,#0000d4 1.5px,#0038ff 2.5px,#00aeff 3.5px,#18ffe7 4.5px,#edff12 8.5px,#ffc400 9.5px,#ff0200 11.5px,#a50000 13.5px,#860000 15.5px,#860000 16.5px,#a30000 18.5px,#fd0000 20.5px,#ffbf00 22.5px,#f0ff0f 23.5px,#1bffe4 27.5px,#00b4ff 28.5px,#003dff 29.5px,#0000d8 30.5px,#00008f 31.5px)"></i>
<i style="left:377px;top:148px;width:32px;height:1px;background:linear-gradient(90deg,#00008f 0.5px,#0000da 1.5px,#003eff 2.5px,#00b6ff 3.5px,#1bffe4 4.5px,#efff10 8.5px,#ffc000 9.5px,#fe0000 11.5px,#a40000 13.5px,#860000 15.5px,#860000 16.5px,#a30000 18.5px,#fd0000 20.5px,#ffbe00 22.5px,#f0ff0f 23.5px,#1cffe3 27.5px,#00b8ff 28.5px,#0040ff 29.5px,#0000db 30.5px,#00008f 31.5px)"></i>
<i style="left:377px;top:149px;width:32px;height:1px;background:linear-gradient(90deg,#00008f 0.5px,#0000df 1.5px,#0045ff 2.5px,#00bdff 3.5px,#1effe1 4.5px,#f1ff0e 8.5px,#ffbc00 9.5px,#fc0000 11.5px,#a30000 13.5px,#860000 15.5px,#860000 16.5px,#a30000 18.5px,#fd0000 20.5px,#ffbd00 22.5px,#f1ff0e 23.5px,#1effe1 27.5px,#00bcff 28.5px,#04f 29.5px,#0000df 30.5px,#00008f 31.5px)"></i>
<i style="left:377px;top:150px;width:32px;height:1px;background:linear-gradient(90deg,#000091 0.5px,#0000e5 1.5px,#004bff 2.5px,#00c4ff 3.5px,#21ffde 4.5px,#f4ff0b 8.5px,#ffb900 9.5px,#fb0000 11.5px,#a20000 13.5px,#860000 15.5px,#860000 16.5px,#a30000 18.5px,#fc0000 20.5px,#ffbc00 22.5px,#f2ff0d 23.5px,#1fffe0 27.5px,#00c0ff 28.5px,#0048ff 29.5px,#0000e2 30.5px,#00008f 31.5px)"></i>
<i style="left:376px;top:151px;width:34px;height:1px;background:linear-gradient(90deg,#00008f 0.5px,#000096 1.5px,#0000ea 2.5px,#0052ff 3.5px,#00cbff 4.5px,#24ffdb 5.5px,#f6ff09 9.5px,#ffb600 10.5px,#ff5600 11.5px,#fa0000 12.5px,#a10000 14.5px,#850000 16.5px,#860000 17.5px,#a40000 19.5px,#fc0000 21.5px,#fb0 23.5px,#f3ff0c 24.5px,#21ffde 28.5px,#00c4ff 29.5px,#004cff 30.5px,#0000e5 31.5px,#000091 32.5px,#00008f 33.5px)"></i>
<i style="left:376px;top:152px;width:34px;height:1px;background:linear-gradient(90deg,#00008f 0.5px,#00009c 1.5px,#0000f0 2.5px,#0058ff 3.5px,#00d2ff 4.5px,#27ffd8 5.5px,#f8ff07 9.5px,#ffb200 10.5px,#ff5300 11.5px,#f80000 12.5px,#a00000 14.5px,#850000 16.5px,#860000 17.5px,#a40000 19.5px,#fc0000 21.5px,#ffba00 23.5px,#f3ff0c 24.5px,#2fd 28.5px,#00c8ff 29.5px,#004fff 30.5px,#0000e9 31.5px,#000095 32.5px,#00008f 33.5px)"></i>
<i style="left:376px;top:153px;width:34px;height:1px;background:linear-gradient(90deg,#00008f 0.5px,#0000a2 1.5px,#0000f5 2.5px,#005fff 3.5px,#00d9ff 4.5px,#29ffd6 5.5px,#faff05 9.5px,#ffaf00 10.5px,#ff5000 11.5px,#f70000 12.5px,#9f0000 14.5px,#850000 16.5px,#860000 17.5px,#a40000 19.5px,#fc0000 21.5px,#ffb900 23.5px,#f4ff0b 24.5px,#24ffdb 28.5px,#0cf 29.5px,#0053ff 30.5px,#0000ec 31.5px,#009 32.5px,#00008f 33.5px)"></i>
<i style="left:376px;top:154px;width:34px;height:1px;background:linear-gradient(90deg,#00008f 0.5px,#0000a7 1.5px,#0000fc 2.5px,#0067ff 3.5px,#00e0ff 4.5px,#2cffd3 5.5px,#fcff03 9.5px,#ffab00 10.5px,#ff4d00 11.5px,#f60000 12.5px,#9e0000 14.5px,#850000 16.5px,#870000 17.5px,#a40000 19.5px,#fc0000 21.5px,#ffb800 23.5px,#f5ff0a 24.5px,#25ffda 28.5px,#00cfff 29.5px,#0057ff 30.5px,#0000ef 31.5px,#00009c 32.5px,#00008f 33.5px)"></i>
<i style="left:376px;top:155px;width:34px;height:1px;background:linear-gradient(90deg,#00008f 0.5px,#0000ad 1.5px,#0004ff 2.5px,#006eff 3.5px,#00e7ff 4.5px,#2fffd0 5.5px,#feff01 9.5px,#ff4a00 11.5px,#f50000 12.5px,#9e0000 14.5px,#850000 16.5px,#870000 17.5px,#a40000 19.5px,#fc0000 21.5px,#ffb700 23.5px,#f6ff09 24.5px,#27ffd8 28.5px,#00d3ff 29.5px,#005bff 30.5px,#0000f2 31.5px,#0000a0 32.5px,#00008f 33.5px)"></i>
<i style="left:376px;top:156px;width:34px;height:4px;background:linear-gradient(90deg,#00008f 0.5px,#0000b5 1.5px,#000dff 2.5px,#0078ff 3.5px,#00f0ff 4.5px,#3fc 5.5px,#fffd00 9.5px,#ff4600 11.5px,#f30000 12.5px,#9d0000 14.5px,#840000 16.5px,#870000 17.5px,#a50000 19.5px,#fb0000 21.5px,#ffb600 23.5px,#f6ff09 24.5px,#29ffd6 28.5px,#00d8ff 29.5px,#0060ff 30.5px,#0000f7 31.5px,#0000a4 32.5px,#00008f 33.5px)"></i>
<i style="left:201px;top:160px;width:231px;height:3px;background:linear-gradient(90deg,#00008f 0.5px,#000098 1.5px,#0000f4 6.5px,#0003ff 7.5px,#005fff 18.5px,#00f8ff 31.5px,#04fffb 32.5px,#84ff7b 49.5px,#faff05 61.5px,#fffa00 62.5px,#ff5f00 78.5px,#fffa00 89.5px,#f7ff08 90.5px,#8eff71 98.5px,#87ff78 99.5px,#73ff8c 128.5px,#23ffdc 137.5px,#0ffff0 159.5px,#89ff76 176.5px,#d4ff2b 188.5px,#8aff75 196.5px,#09fff6 204.5px,#00f8ff 205.5px,#0059ff 215.5px,#0009ff 221.5px,#0000fb 222.5px,#000096 229.5px,#00008f 230.5px)"></i>
<i style="left:201px;top:163px;width:231px;height:2px;background:linear-gradient(90deg,#00008f 0.5px,#000096 1.5px,#0000a6 2.5px,#0000f1 6.5px,#0002ff 7.5px,#005dff 18.5px,#00f8ff 31.5px,#05fffa 32.5px,#84ff7b 49.5px,#faff05 61.5px,#fffa00 62.5px,#ff5f00 78.5px,#fffa00 89.5px,#f7ff08 90.5px,#8eff71 98.5px,#87ff78 99.5px,#71ff8e 128.5px,#23ffdc 137.5px,#0ffff0 159.5px,#84ff7b 176.5px,#cbff34 188.5px,#83ff7c 196.5px,#05fffa 204.5px,#00f5ff 205.5px,#0059ff 215.5px,#0009ff 221.5px,#0000fb 222.5px,#0000a1 228.5px,#00008f 230.5px)"></i>
<i style="left:201px;top:165px;width:231px;height:2px;background:linear-gradient(90deg,#00008f 0.5px,#000094 1.5px,#0000a2 2.5px,#0001ff 7.5px,#005cff 18.5px,#00f9ff 31.5px,#06fff9 32.5px,#84ff7b 49.5px,#faff05 61.5px,#fffa00 62.5px,#ff5f00 78.5px,#fffa00 89.5px,#f7ff08 90.5px,#8eff71 98.5px,#87ff78 99.5px,#6fff90 128.5px,#23ffdc 137.5px,#0ffff0 159.5px,#80ff7f 176.5px,#c3ff3c 188.5px,#7dff82 196.5px,#02fffd 204.5px,#0059ff 215.5px,#0009ff 221.5px,#0000fb 222.5px,#00009e 228.5px,#00008f 230.5px)"></i>
<i style="left:201px;top:167px;width:231px;height:2px;background:linear-gradient(90deg,#00008f 0.5px,#000092 1.5px,#00009f 2.5px,#00f 7.5px,#005bff 18.5px,#00f9ff 31.5px,#06fff9 32.5px,#84ff7b 49.5px,#faff05 61.5px,#fffa00 62.5px,#ff5f00 78.5px,#fffa00 89.5px,#f7ff08 90.5px,#8eff71 98.5px,#87ff78 99.5px,#6dff92 128.5px,#23ffdc 137.5px,#0ffff0 159.5px,#7cff83 176.5px,#bf4 188.5px,#7f8 196.5px,#00feff 204.5px,#0059ff 215.5px,#0009ff 221.5px,#0000fb 222.5px,#00009c 228.5px,#000092 229.5px,#00008f 230.5px)"></i>
<i style="left:202px;top:169px;width:229px;height:2px;background:linear-gradient(90deg,#000090 0.5px,#00009b 1.5px,#0000fe 6.5px,#005aff 17.5px,#00faff 30.5px,#07fff8 31.5px,#84ff7b 48.5px,#faff05 60.5px,#fffa00 61.5px,#ff5f00 77.5px,#fffa00 88.5px,#f7ff08 89.5px,#8eff71 97.5px,#87ff78 98.5px,#6bff94 127.5px,#23ffdc 136.5px,#0ffff0 158.5px,#78ff87 175.5px,#b3ff4c 187.5px,#71ff8e 195.5px,#0bfff4 202.5px,#00fbff 203.5px,#0059ff 214.5px,#0009ff 220.5px,#0000fb 221.5px,#009 227.5px,#000090 228.5px)"></i>
<i style="left:202px;top:171px;width:229px;height:1px;background:linear-gradient(90deg,#00008f 0.5px,#009 1.5px,#0000fc 6.5px,#005dff 17.5px,#00fdff 30.5px,#0afff5 31.5px,#86ff79 48.5px,#fcff03 60.5px,#ff5e00 77.5px,#fffa00 88.5px,#f7ff08 89.5px,#8eff71 97.5px,#87ff78 98.5px,#67ff98 127.5px,#2fd 136.5px,#1fe 159.5px,#6cff93 174.5px,#a8ff57 187.5px,#68ff97 195.5px,#07fff8 202.5px,#00f7ff 203.5px,#0056ff 214.5px,#0005ff 220.5px,#0000e7 222.5px,#000097 227.5px,#00008f 228.5px)"></i>
<i style="left:202px;top:172px;width:229px;height:1px;background:linear-gradient(90deg,#00008f 0.5px,#000098 1.5px,#00b 3.5px,#0000f8 6.5px,#0004ff 7.5px,#06f 17.5px,#00a7ff 22.5px,#04fffb 30.5px,#17ffe8 32.5px,#8aff75 48.5px,#fffe00 60.5px,#ff5d00 77.5px,#fffa00 88.5px,#f6ff09 89.5px,#8dff72 97.5px,#86ff79 98.5px,#61ff9e 127.5px,#20ffdf 136.5px,#0ffff0 159.5px,#63ff9c 174.5px,#9bff64 187.5px,#5dffa2 195.5px,#01fffe 202.5px,#000aff 219.5px,#0000fb 220.5px,#000097 227.5px,#00008f 228.5px)"></i>
<i style="left:202px;top:173px;width:229px;height:1px;background:linear-gradient(90deg,#00008f 0.5px,#000097 1.5px,#0000b6 3.5px,#0000f4 6.5px,#0002ff 7.5px,#006eff 17.5px,#00b2ff 22.5px,#00feff 29.5px,#0afff5 30.5px,#8eff71 48.5px,#f9ff06 59.5px,#fffb00 60.5px,#ffbd00 66.5px,#ff6100 76.5px,#ff5c00 77.5px,#fffa00 88.5px,#f6ff09 89.5px,#8cff73 97.5px,#86ff79 98.5px,#5bffa4 127.5px,#1effe1 136.5px,#0dfff2 159.5px,#5affa5 174.5px,#8eff71 187.5px,#53ffac 195.5px,#08fff7 201.5px,#00faff 202.5px,#00dfff 204.5px,#0001ff 219.5px,#000096 227.5px,#00008f 228.5px)"></i>
<i style="left:202px;top:174px;width:229px;height:1px;background:linear-gradient(90deg,#00008f 0.5px,#000096 1.5px,#0000b2 3.5px,#0000f1 6.5px,#00f 7.5px,#0076ff 17.5px,#00bcff 22.5px,#00faff 28.5px,#05fffa 29.5px,#21ffde 32.5px,#92ff6d 48.5px,#fcff03 59.5px,#ffb900 66.5px,#ff5e00 76.5px,#ff5a00 77.5px,#fffa00 88.5px,#f6ff09 89.5px,#97ff68 96.5px,#86ff79 98.5px,#5fa 127.5px,#1cffe3 136.5px,#0bfff4 159.5px,#51ffae 174.5px,#82ff7d 187.5px,#7f8 189.5px,#48ffb7 195.5px,#01fffe 201.5px,#00daff 204.5px,#0007ff 218.5px,#0000f8 219.5px,#0000ce 222.5px,#000095 227.5px,#00008f 228.5px)"></i>
<i style="left:202px;top:175px;width:229px;height:1px;background:linear-gradient(90deg,#00008f 0.5px,#0000ad 3.5px,#0000fd 7.5px,#007eff 17.5px,#00c7ff 22.5px,#02fffd 28.5px,#1fffe0 31.5px,#6fff90 43.5px,#96ff69 48.5px,#fffe00 59.5px,#ffb400 66.5px,#ff5c00 76.5px,#ff5900 77.5px,#fffa00 88.5px,#f6ff09 89.5px,#96ff69 96.5px,#85ff7a 98.5px,#4fffb0 127.5px,#1affe5 136.5px,#09fff6 159.5px,#4cffb3 175.5px,#75ff8a 187.5px,#6cff93 189.5px,#3dffc2 195.5px,#06fff9 200.5px,#00faff 201.5px,#00d5ff 204.5px,#0000fe 218.5px,#0000c6 222.5px,#000094 227.5px,#00008f 228.5px)"></i>
<i style="left:202px;top:176px;width:229px;height:1px;background:linear-gradient(90deg,#00008f 0.5px,#0000a9 3.5px,#0000fb 7.5px,#000cff 8.5px,#0086ff 17.5px,#00d1ff 22.5px,#0ff 27.5px,#09fff6 28.5px,#24ffdb 31.5px,#79ff86 44.5px,#a3ff5c 49.5px,#f9ff06 58.5px,#fffb00 59.5px,#ffaf00 66.5px,#ff5a00 76.5px,#ff5800 77.5px,#fffa00 88.5px,#f6ff09 89.5px,#95ff6a 96.5px,#85ff7a 98.5px,#49ffb6 127.5px,#19ffe6 136.5px,#07fff8 159.5px,#43ffbc 175.5px,#68ff97 187.5px,#60ff9f 189.5px,#3fc 195.5px,#00feff 200.5px,#00d0ff 204.5px,#0005ff 217.5px,#0000f6 218.5px,#0000bd 222.5px,#00008f 228.5px)"></i>
<i style="left:202px;top:177px;width:229px;height:1px;background:linear-gradient(90deg,#00008f 0.5px,#0000a4 3.5px,#0000b4 4.5px,#0000f9 7.5px,#000bff 8.5px,#008fff 17.5px,#00d0ff 21.5px,#00feff 26.5px,#07fff8 27.5px,#29ffd6 31.5px,#7dff82 44.5px,#fcff03 58.5px,#ffab00 66.5px,#ff5700 76.5px,#ff5700 77.5px,#fffa00 88.5px,#f6ff09 89.5px,#89ff76 97.5px,#43ffbc 127.5px,#17ffe8 136.5px,#05fffa 159.5px,#5bffa4 187.5px,#54ffab 189.5px,#28ffd7 195.5px,#01fffe 199.5px,#00cbff 204.5px,#002bff 214.5px,#0000fd 217.5px,#0000b5 222.5px,#00008f 228.5px)"></i>
<i style="left:202px;top:178px;width:229px;height:1px;background:linear-gradient(90deg,#00008f 0.5px,#00009f 3.5px,#0000af 4.5px,#0000f7 7.5px,#000bff 8.5px,#00daff 21.5px,#00feff 25.5px,#07fff8 26.5px,#2effd1 31.5px,#80ff7f 44.5px,#ff0 58.5px,#ffa600 66.5px,#f50 76.5px,#f50 77.5px,#fffa00 88.5px,#f5ff0a 89.5px,#8f7 97.5px,#3dffc2 127.5px,#15ffea 136.5px,#03fffc 159.5px,#4effb1 187.5px,#49ffb6 189.5px,#02fffd 198.5px,#00c6ff 204.5px,#0005ff 216.5px,#0000f5 217.5px,#0000b7 221.5px,#0000ad 222.5px,#00008f 228.5px)"></i>
<i style="left:202px;top:179px;width:229px;height:1px;background:linear-gradient(90deg,#00008f 0.5px,#00009b 3.5px,#00a 4.5px,#0000f5 7.5px,#000aff 8.5px,#00e5ff 21.5px,#01fffe 24.5px,#3fc 31.5px,#84ff7b 44.5px,#f8ff07 57.5px,#fffb00 58.5px,#ffa200 66.5px,#ff5300 76.5px,#ff5400 77.5px,#fffa00 88.5px,#f5ff0a 89.5px,#8f7 97.5px,#37ffc8 127.5px,#13ffec 136.5px,#02fffd 160.5px,#41ffbe 188.5px,#02fffd 197.5px,#00c1ff 204.5px,#0000fc 216.5px,#0000ae 221.5px,#0000a4 222.5px,#00008f 228.5px)"></i>
<i style="left:203px;top:180px;width:227px;height:1px;background:linear-gradient(90deg,#000091 0.5px,#000096 2.5px,#0000a5 3.5px,#0000f3 6.5px,#0009ff 7.5px,#00f0ff 20.5px,#00fcff 21.5px,#04fffb 22.5px,#80ff7f 42.5px,#fcff03 56.5px,#ff9d00 65.5px,#ff5000 75.5px,#ff5300 76.5px,#fffa00 87.5px,#f5ff0a 88.5px,#90ff6f 95.5px,#87ff78 96.5px,#31ffce 126.5px,#14ffeb 134.5px,#0ff 160.5px,#35ffca 187.5px,#0ff 195.5px,#00bdff 203.5px,#0006ff 214.5px,#0000f5 215.5px,#0000a5 220.5px,#00009c 221.5px,#000091 226.5px)"></i>
<i style="left:204px;top:181px;width:225px;height:1px;background:linear-gradient(90deg,#000091 0.5px,#000092 1.5px,#0000a0 2.5px,#0000f1 5.5px,#0009ff 6.5px,#00faff 19.5px,#08fff7 20.5px,#83ff7c 41.5px,#ff0 55.5px,#ff9800 64.5px,#ff4e00 74.5px,#ff5200 75.5px,#fffa00 86.5px,#8fff70 94.5px,#86ff79 95.5px,#12ffed 133.5px,#0ff 153.5px,#00feff 160.5px,#28ffd7 186.5px,#04fffb 192.5px,#00c4ff 201.5px,#00b8ff 202.5px,#0000fd 213.5px,#00009c 219.5px,#000094 220.5px,#000091 224.5px)"></i>
<i style="left:205px;top:182px;width:220px;height:1px;background:linear-gradient(90deg,#00008f 0.5px,#00009d 1.5px,#0000ef 4.5px,#0008ff 5.5px,#00feff 18.5px,#0bfff4 19.5px,#86ff79 40.5px,#fffc00 54.5px,#ff9500 63.5px,#ff4c00 73.5px,#ff5100 74.5px,#fffa00 85.5px,#8eff71 93.5px,#86ff79 94.5px,#0efff1 132.5px,#0ff 147.5px,#00f6ff 157.5px,#0ff 165.5px,#1affe5 185.5px,#04fffb 189.5px,#00baff 200.5px,#00aeff 201.5px,#0007ff 211.5px,#0000f6 212.5px,#000097 218.5px,#00008f 219.5px)"></i>
<i style="left:205px;top:183px;width:220px;height:1px;background:linear-gradient(90deg,#00008f 0.5px,#00009c 1.5px,#0000ed 4.5px,#0006ff 5.5px,#00faff 18.5px,#08fff7 19.5px,#8f7 40.5px,#faff05 53.5px,#fff000 55.5px,#ff9400 63.5px,#ff4b00 73.5px,#ff5000 74.5px,#fffa00 85.5px,#8eff71 93.5px,#85ff7a 94.5px,#59ffa6 106.5px,#06fff9 133.5px,#0ff 140.5px,#00ecff 157.5px,#0ff 175.5px,#0afff5 185.5px,#01fffe 187.5px,#00abff 200.5px,#0000fe 211.5px,#000097 218.5px,#00008f 219.5px)"></i>
<i style="left:205px;top:184px;width:220px;height:1px;background:linear-gradient(90deg,#00008f 0.5px,#00009b 1.5px,#0000eb 4.5px,#0005ff 5.5px,#00f6ff 18.5px,#04fffb 19.5px,#8aff75 40.5px,#fcff03 53.5px,#fe0 55.5px,#ff9200 63.5px,#ff4900 73.5px,#ff4f00 74.5px,#fffb00 85.5px,#8dff72 93.5px,#84ff7b 94.5px,#54ffab 106.5px,#21ffde 124.5px,#01fffe 133.5px,#00f1ff 148.5px,#00e2ff 157.5px,#00f6ff 186.5px,#009cff 200.5px,#0004ff 210.5px,#000096 218.5px,#00008f 219.5px)"></i>
<i style="left:205px;top:185px;width:220px;height:1px;background:linear-gradient(90deg,#00008f 0.5px,#00009a 1.5px,#0003ff 5.5px,#00f3ff 18.5px,#01fffe 19.5px,#19ffe6 22.5px,#8dff72 40.5px,#feff01 53.5px,#ff9a00 62.5px,#ff4700 73.5px,#ff4e00 74.5px,#fffb00 85.5px,#8dff72 93.5px,#84ff7b 94.5px,#4fffb0 106.5px,#1effe1 124.5px,#00fdff 132.5px,#00ebff 148.5px,#00d9ff 157.5px,#00e9ff 185.5px,#008eff 200.5px,#0008ff 209.5px,#0000fa 210.5px,#000096 218.5px,#00008f 219.5px)"></i>
<i style="left:205px;top:186px;width:220px;height:1px;background:linear-gradient(90deg,#00008f 0.5px,#009 1.5px,#0001ff 5.5px,#00efff 18.5px,#00fdff 19.5px,#07fff8 20.5px,#8fff70 40.5px,#fffe00 53.5px,#f90 62.5px,#ff4600 73.5px,#ff4e00 74.5px,#fffb00 85.5px,#8cff73 93.5px,#83ff7c 94.5px,#4affb5 106.5px,#1bffe4 124.5px,#00fcff 131.5px,#00f5ff 133.5px,#00e4ff 148.5px,#00cfff 157.5px,#00d9ff 185.5px,#0095ff 197.5px,#007fff 200.5px,#0000fd 209.5px,#000095 218.5px,#00008f 219.5px)"></i>
<i style="left:205px;top:187px;width:220px;height:1px;background:linear-gradient(90deg,#00008f 0.5px,#000098 1.5px,#00f 5.5px,#00ecff 18.5px,#00faff 19.5px,#04fffb 20.5px,#17ffe8 22.5px,#9f6 41.5px,#fffc00 53.5px,#ff9700 62.5px,#f40 73.5px,#ff4d00 74.5px,#fffb00 85.5px,#8bff74 93.5px,#83ff7c 94.5px,#46ffb9 106.5px,#18ffe7 124.5px,#00fcff 130.5px,#00f0ff 133.5px,#00deff 148.5px,#00c6ff 157.5px,#00c9ff 185.5px,#0087ff 197.5px,#0071ff 200.5px,#00f 208.5px,#000095 218.5px,#00008f 219.5px)"></i>
<i style="left:205px;top:188px;width:220px;height:1px;background:linear-gradient(90deg,#00008f 0.5px,#000097 1.5px,#0000ad 2.5px,#0000fd 5.5px,#00e8ff 18.5px,#01fffe 20.5px,#16ffe9 22.5px,#9bff64 41.5px,#f9ff06 52.5px,#fff000 54.5px,#ff9500 62.5px,#ff4300 73.5px,#ff4c00 74.5px,#fffb00 85.5px,#8bff74 93.5px,#82ff7d 94.5px,#41ffbe 106.5px,#15ffea 124.5px,#00fcff 129.5px,#00ebff 133.5px,#00d7ff 148.5px,#00bcff 157.5px,#00b9ff 185.5px,#0079ff 197.5px,#0062ff 200.5px,#0003ff 207.5px,#0000d5 211.5px,#000094 218.5px,#00008f 219.5px)"></i>
<i style="left:205px;top:189px;width:220px;height:1px;background:linear-gradient(90deg,#00008f 0.5px,#000096 1.5px,#0000ab 2.5px,#0000fc 5.5px,#00e5ff 18.5px,#00feff 20.5px,#0afff5 21.5px,#9dff62 41.5px,#fbff04 52.5px,#fe0 54.5px,#ff9400 62.5px,#ff4100 73.5px,#ff4b00 74.5px,#fffb00 85.5px,#8aff75 93.5px,#40ffbf 105.5px,#12ffed 124.5px,#00fdff 128.5px,#00e5ff 133.5px,#00d1ff 148.5px,#00b4ff 156.5px,#00a9ff 185.5px,#0064ff 198.5px,#0048ff 201.5px,#0005ff 206.5px,#0000de 209.5px,#00008f 219.5px)"></i>
<i style="left:205px;top:190px;width:220px;height:1px;background:linear-gradient(90deg,#00008f 0.5px,#000095 1.5px,#0000a9 2.5px,#0000fa 5.5px,#0010ff 6.5px,#00e1ff 18.5px,#00fbff 20.5px,#08fff7 21.5px,#a0ff5f 41.5px,#fdff02 52.5px,#ff9200 62.5px,#ff4000 73.5px,#ff4b00 74.5px,#fffb00 85.5px,#8aff75 93.5px,#3cffc3 105.5px,#0ffff0 124.5px,#0ff 127.5px,#00e0ff 133.5px,#00caff 148.5px,#0af 156.5px,#09f 185.5px,#0056ff 198.5px,#003aff 201.5px,#0006ff 205.5px,#0000f8 206.5px,#0000d3 209.5px,#00008f 219.5px)"></i>
<i style="left:205px;top:191px;width:220px;height:1px;background:linear-gradient(90deg,#00008f 0.5px,#000094 1.5px,#0000a7 2.5px,#0000f9 5.5px,#000eff 6.5px,#0df 18.5px,#00f9ff 20.5px,#06fff9 21.5px,#12ffed 22.5px,#a2ff5d 41.5px,#feff01 52.5px,#ffa300 60.5px,#ff3e00 73.5px,#fffb00 85.5px,#89ff76 93.5px,#37ffc8 105.5px,#0cfff3 124.5px,#00fbff 127.5px,#00daff 133.5px,#00c3ff 148.5px,#00a1ff 156.5px,#0089ff 185.5px,#0048ff 198.5px,#002bff 201.5px,#0006ff 204.5px,#0000f8 205.5px,#0000c9 209.5px,#00008f 219.5px)"></i>
<i style="left:205px;top:192px;width:220px;height:1px;background:linear-gradient(90deg,#00008f 0.5px,#000094 1.5px,#0000a6 2.5px,#0000f7 5.5px,#000dff 6.5px,#00daff 18.5px,#04fffb 21.5px,#1fe 22.5px,#fffe00 52.5px,#ffa100 60.5px,#ff3c00 73.5px,#fffb00 85.5px,#8f7 93.5px,#32ffcd 105.5px,#09fff6 124.5px,#00fdff 126.5px,#00d5ff 133.5px,#00bdff 148.5px,#0097ff 156.5px,#0079ff 185.5px,#0041ff 197.5px,#0028ff 200.5px,#0005ff 203.5px,#0000be 209.5px,#00008f 219.5px)"></i>
<i style="left:205px;top:193px;width:220px;height:1px;background:linear-gradient(90deg,#00008f 0.5px,#000093 1.5px,#0000a4 2.5px,#0000f6 5.5px,#000cff 6.5px,#00d6ff 18.5px,#02fffd 21.5px,#0ffff0 22.5px,#fffc00 52.5px,#ff9f00 60.5px,#ff3b00 73.5px,#fffb00 85.5px,#8f7 93.5px,#2effd1 105.5px,#01fffe 125.5px,#00d0ff 133.5px,#00b6ff 148.5px,#008eff 156.5px,#0069ff 185.5px,#0032ff 197.5px,#0003ff 202.5px,#0000b4 209.5px,#00008f 219.5px)"></i>
<i style="left:205px;top:194px;width:219px;height:1px;background:linear-gradient(90deg,#00008f 0.5px,#000092 1.5px,#0000a2 2.5px,#0000f4 5.5px,#000aff 6.5px,#00d3ff 18.5px,#0ff 21.5px,#0efff1 22.5px,#faff05 51.5px,#fffb00 52.5px,#ff9d00 60.5px,#ff3900 73.5px,#fffb00 85.5px,#87ff78 93.5px,#29ffd6 105.5px,#00fdff 125.5px,#00caff 133.5px,#00b0ff 148.5px,#0084ff 156.5px,#0059ff 185.5px,#0024ff 197.5px,#00f 201.5px,#0000a9 209.5px,#000091 218.5px)"></i>
<i style="left:206px;top:195px;width:218px;height:1px;background:linear-gradient(90deg,#000091 0.5px,#0000a0 1.5px,#0000f2 4.5px,#0009ff 5.5px,#00dfff 18.5px,#00fdff 20.5px,#0dfff2 21.5px,#fcff03 50.5px,#fff900 51.5px,#ff9b00 59.5px,#ff3800 72.5px,#fffb00 84.5px,#87ff78 92.5px,#24ffdb 104.5px,#0ff 123.5px,#00c5ff 132.5px,#00a9ff 147.5px,#007bff 155.5px,#0050ff 182.5px,#0016ff 196.5px,#0005ff 198.5px,#0000fb 199.5px,#00009f 208.5px,#000090 217.5px)"></i>
<i style="left:206px;top:196px;width:216px;height:1px;background:linear-gradient(90deg,#000090 0.5px,#00009e 1.5px,#0000f1 4.5px,#0008ff 5.5px,#00fbff 20.5px,#0bfff4 21.5px,#86ff79 35.5px,#feff01 50.5px,#ff9800 59.5px,#ff3600 72.5px,#fffb00 84.5px,#86ff79 92.5px,#20ffdf 104.5px,#0ff 121.5px,#00f6ff 124.5px,#00bfff 132.5px,#00a3ff 147.5px,#0071ff 155.5px,#04f 181.5px,#0001ff 197.5px,#00009a 207.5px,#000095 208.5px,#000091 215.5px)"></i>
<i style="left:204px;top:197px;width:211px;height:1px;background:linear-gradient(90deg,#000090 0.5px,#000092 2.5px,#0000a0 3.5px,#0000f3 6.5px,#0009ff 7.5px,#00fcff 22.5px,#0dfff2 23.5px,#8f7 37.5px,#fffd00 52.5px,#ff9600 61.5px,#ff3600 74.5px,#fffb00 86.5px,#86ff79 94.5px,#1dffe2 106.5px,#0ff 121.5px,#00f8ff 125.5px,#0bf 134.5px,#009dff 149.5px,#006bff 157.5px,#003aff 183.5px,#0001ff 197.5px,#0000f5 199.5px,#000094 209.5px,#00008f 210.5px)"></i>
<i style="left:203px;top:198px;width:212px;height:1px;background:linear-gradient(90deg,#00008f 0.5px,#000097 3.5px,#0000a7 4.5px,#0000f7 7.5px,#000eff 8.5px,#00a3ff 17.5px,#02fffd 23.5px,#1fe 24.5px,#8cff73 38.5px,#fdff02 52.5px,#fff000 54.5px,#ff9500 62.5px,#ff3900 75.5px,#fffb00 87.5px,#85ff7a 95.5px,#1cffe3 107.5px,#00feff 121.5px,#00f5ff 126.5px,#00b8ff 135.5px,#0097ff 150.5px,#0067ff 158.5px,#0035ff 184.5px,#0002ff 196.5px,#00e 200.5px,#000094 210.5px,#00008f 211.5px)"></i>
<i style="left:203px;top:199px;width:212px;height:1px;background:linear-gradient(90deg,#00008f 0.5px,#00009d 3.5px,#0000ad 4.5px,#0000fc 7.5px,#0af 17.5px,#00f6ff 22.5px,#06fff9 23.5px,#14ffeb 24.5px,#90ff6f 38.5px,#fffc00 52.5px,#ff9300 62.5px,#ff4300 73.5px,#ff3b00 75.5px,#fffc00 87.5px,#85ff7a 95.5px,#2bffd4 105.5px,#17ffe8 108.5px,#01fffe 119.5px,#00f1ff 126.5px,#00b5ff 135.5px,#0092ff 150.5px,#0064ff 158.5px,#0030ff 184.5px,#00f 195.5px,#0000e7 200.5px,#00008f 211.5px)"></i>
<i style="left:203px;top:200px;width:212px;height:1px;background:linear-gradient(90deg,#00008f 0.5px,#0000a2 3.5px,#0000b4 4.5px,#0002ff 7.5px,#00b1ff 17.5px,#00fbff 22.5px,#0afff5 23.5px,#18ffe7 24.5px,#93ff6c 38.5px,#feff01 51.5px,#ffe600 54.5px,#ff9100 62.5px,#ff4300 73.5px,#ff3e00 75.5px,#fffc00 87.5px,#85ff7a 95.5px,#29ffd6 105.5px,#16ffe9 108.5px,#01fffe 118.5px,#00edff 126.5px,#00b2ff 135.5px,#008cff 150.5px,#0060ff 158.5px,#002cff 184.5px,#0002ff 193.5px,#0000e0 200.5px,#00008f 211.5px)"></i>
<i style="left:203px;top:201px;width:212px;height:1px;background:linear-gradient(90deg,#00008f 0.5px,#0000a7 3.5px,#0000ba 4.5px,#0000ed 6.5px,#0007ff 7.5px,#00b8ff 17.5px,#0ff 22.5px,#1cffe3 24.5px,#63ff9c 32.5px,#fffc00 51.5px,#ff8f00 62.5px,#ff4300 73.5px,#ff4000 75.5px,#fffc00 87.5px,#85ff7a 95.5px,#30ffcf 104.5px,#15ffea 108.5px,#00feff 118.5px,#00e9ff 126.5px,#00afff 135.5px,#0086ff 150.5px,#005cff 158.5px,#0027ff 184.5px,#0001ff 192.5px,#0000d9 200.5px,#00008f 211.5px)"></i>
<i style="left:203px;top:202px;width:212px;height:1px;background:linear-gradient(90deg,#00008f 0.5px,#0000ac 3.5px,#0000f2 6.5px,#000cff 7.5px,#00beff 17.5px,#00f7ff 21.5px,#05fffa 22.5px,#20ffdf 24.5px,#5effa1 31.5px,#feff01 50.5px,#fd0 54.5px,#ff8d00 62.5px,#ff4200 73.5px,#ff4300 75.5px,#fffd00 87.5px,#84ff7b 95.5px,#2effd1 104.5px,#15ffea 108.5px,#0ff 117.5px,#00e5ff 126.5px,#00acff 135.5px,#0081ff 150.5px,#0059ff 158.5px,#02f 184.5px,#00f 191.5px,#0000d2 200.5px,#00008f 211.5px)"></i>
<i style="left:203px;top:203px;width:212px;height:1px;background:linear-gradient(90deg,#00008f 0.5px,#000096 1.5px,#0000b2 3.5px,#0000f7 6.5px,#01f 7.5px,#00c5ff 17.5px,#00fcff 21.5px,#0afff5 22.5px,#24ffdb 24.5px,#6bff94 32.5px,#fffc00 50.5px,#ff8b00 62.5px,#ff4200 73.5px,#ff4600 75.5px,#fffd00 87.5px,#84ff7b 95.5px,#2dffd2 104.5px,#14ffeb 108.5px,#01fffe 116.5px,#00e1ff 126.5px,#00a9ff 135.5px,#0089ff 144.5px,#007bff 150.5px,#05f 158.5px,#001eff 184.5px,#0000fe 190.5px,#00008f 211.5px)"></i>
<i style="left:203px;top:204px;width:212px;height:1px;background:linear-gradient(90deg,#00008f 0.5px,#000097 1.5px,#0000b7 3.5px,#0000fd 6.5px,#002aff 8.5px,#0cf 17.5px,#02fffd 21.5px,#28ffd7 24.5px,#feff01 49.5px,#ff8900 62.5px,#ff4200 73.5px,#ff4800 75.5px,#fffe00 87.5px,#84ff7b 95.5px,#2bffd4 104.5px,#13ffec 108.5px,#00feff 116.5px,#0df 126.5px,#00a5ff 135.5px,#0084ff 144.5px,#0075ff 150.5px,#05f 157.5px,#0019ff 184.5px,#0004ff 188.5px,#0000fe 189.5px,#0000cb 198.5px,#00008f 211.5px)"></i>
<i style="left:203px;top:205px;width:212px;height:1px;background:linear-gradient(90deg,#00008f 0.5px,#000098 1.5px,#0000bc 3.5px,#0003ff 6.5px,#002fff 8.5px,#00d3ff 17.5px,#00faff 20.5px,#07fff8 21.5px,#2bffd4 24.5px,#6aff95 31.5px,#fffc00 49.5px,#ff8f00 61.5px,#ff4100 73.5px,#ff4b00 75.5px,#fffe00 87.5px,#84ff7b 95.5px,#29ffd6 104.5px,#13ffec 108.5px,#00fdff 116.5px,#00d9ff 126.5px,#00a2ff 135.5px,#007eff 144.5px,#0070ff 150.5px,#004eff 158.5px,#0014ff 184.5px,#0000fe 188.5px,#0000c4 198.5px,#00008f 211.5px)"></i>
<i style="left:203px;top:206px;width:212px;height:1px;background:linear-gradient(90deg,#00008f 0.5px,#009 1.5px,#0000f1 5.5px,#0009ff 6.5px,#0034ff 8.5px,#00daff 17.5px,#01fffe 20.5px,#2fffd0 24.5px,#fdff02 48.5px,#ff8d00 61.5px,#ff4100 73.5px,#ff4d00 75.5px,#ff0 87.5px,#83ff7c 95.5px,#28ffd7 104.5px,#12ffed 108.5px,#0ff 115.5px,#00d6ff 126.5px,#009fff 135.5px,#0079ff 144.5px,#006aff 150.5px,#004bff 158.5px,#0010ff 184.5px,#00f 187.5px,#0000bc 198.5px,#00008f 211.5px)"></i>
<i style="left:203px;top:207px;width:212px;height:1px;background:linear-gradient(90deg,#00008f 0.5px,#00009a 1.5px,#0000f7 5.5px,#000eff 6.5px,#0039ff 8.5px,#00e0ff 17.5px,#00fbff 19.5px,#07fff8 20.5px,#3fc 24.5px,#72ff8d 31.5px,#fffd00 48.5px,#ffa900 57.5px,#ff8400 62.5px,#ff4100 73.5px,#ff5000 75.5px,#ff0 87.5px,#83ff7c 95.5px,#26ffd9 104.5px,#1fe 108.5px,#00feff 115.5px,#00d2ff 126.5px,#009cff 135.5px,#0074ff 144.5px,#0047ff 158.5px,#000bff 184.5px,#0001ff 186.5px,#0000b5 198.5px,#00008f 211.5px)"></i>
<i style="left:203px;top:208px;width:211px;height:1px;background:linear-gradient(90deg,#00008f 0.5px,#00009c 1.5px,#0000fd 5.5px,#00e7ff 17.5px,#02fffd 19.5px,#37ffc8 24.5px,#fcff03 47.5px,#ffa500 57.5px,#ff4000 73.5px,#ff5200 75.5px,#fff000 86.5px,#ff0 87.5px,#83ff7c 95.5px,#24ffdb 104.5px,#14ffeb 107.5px,#01fffe 114.5px,#00ceff 126.5px,#09f 135.5px,#006fff 144.5px,#04f 158.5px,#0002ff 185.5px,#0000ad 198.5px,#000091 210.5px)"></i>
<i style="left:203px;top:209px;width:211px;height:1px;background:linear-gradient(90deg,#00008f 0.5px,#00009d 1.5px,#00e 4.5px,#0004ff 5.5px,#0ef 17.5px,#00fdff 18.5px,#08fff7 19.5px,#79ff86 31.5px,#fffe00 47.5px,#ffa100 57.5px,#ff4000 73.5px,#f50 75.5px,#fff100 86.5px,#feff01 87.5px,#83ff7c 95.5px,#23ffdc 104.5px,#13ffec 107.5px,#00feff 114.5px,#00caff 126.5px,#0096ff 135.5px,#06f 145.5px,#0040ff 158.5px,#0002ff 184.5px,#0000a6 198.5px,#000090 210.5px)"></i>
<i style="left:203px;top:210px;width:211px;height:1px;background:linear-gradient(90deg,#00008f 0.5px,#00009e 1.5px,#0000f4 4.5px,#000aff 5.5px,#00f5ff 17.5px,#04fffb 18.5px,#7dff82 31.5px,#fbff04 46.5px,#fffa00 47.5px,#ff9d00 57.5px,#ff4000 73.5px,#ff5700 75.5px,#fff100 86.5px,#feff01 87.5px,#82ff7d 95.5px,#21ffde 104.5px,#01fffe 113.5px,#00c6ff 126.5px,#0060ff 145.5px,#00f 183.5px,#0000f7 185.5px,#00009e 198.5px,#000090 210.5px)"></i>
<i style="left:203px;top:211px;width:203px;height:2px;background:linear-gradient(90deg,#000091 0.5px,#0000a0 1.5px,#0001fd 4.5px,#01fdfe 17.5px,#0dfff2 18.5px,#8bff74 32.5px,#fffd00 46.5px,#ff9800 57.5px,#ff4000 73.5px,#fff200 86.5px,#fdff02 87.5px,#82ff7d 95.5px,#1fffe0 104.5px,#0ff 113.5px,#00c1ff 126.5px,#0059ff 145.5px,#0001fe 180.5px,#0000f0 185.5px,#000095 198.5px,#000091 202.5px)"></i>
<i style="left:199px;top:213px;width:204px;height:2px;background:linear-gradient(90deg,#00008f 0.5px,#00009a 4.5px,#00a 5.5px,#0000e8 7.5px,#0008ff 8.5px,#0094ff 15.5px,#00f2ff 20.5px,#06fff9 21.5px,#14ffeb 22.5px,#89ff76 35.5px,#fefe01 49.5px,#ff9500 61.5px,#ff4200 77.5px,#fff300 90.5px,#fcff03 91.5px,#81ff7e 99.5px,#1effe1 108.5px,#0ff 117.5px,#00bdff 130.5px,#0057ff 148.5px,#0000fd 181.5px,#0000e9 189.5px,#00008f 203.5px)"></i>
<i style="left:199px;top:215px;width:204px;height:2px;background:linear-gradient(90deg,#00008f 0.5px,#0000a4 4.5px,#0000b5 5.5px,#0000f2 7.5px,#01f 8.5px,#009eff 15.5px,#00f8ff 20.5px,#0bfff4 21.5px,#19ffe6 22.5px,#8eff71 35.5px,#fcff03 48.5px,#ff9300 61.5px,#ff4f00 74.5px,#f40 77.5px,#fff400 90.5px,#fbff04 91.5px,#80ff7f 99.5px,#1effe1 108.5px,#0ff 117.5px,#00d1ff 126.5px,#0070ff 142.5px,#004eff 149.5px,#0000fc 178.5px,#0000e1 189.5px,#00008f 203.5px)"></i>
<i style="left:199px;top:217px;width:204px;height:2px;background:linear-gradient(90deg,#00008f 0.5px,#0000af 4.5px,#0000c0 5.5px,#0000fc 7.5px,#001bff 8.5px,#0097ff 14.5px,#01fefe 20.5px,#1fe 21.5px,#9dff62 36.5px,#fffc00 48.5px,#ff9200 61.5px,#ff4e00 74.5px,#ff4600 77.5px,#ff8400 82.5px,#fff500 90.5px,#faff05 91.5px,#7fff80 99.5px,#30ffcf 106.5px,#18ffe7 109.5px,#01fffe 117.5px,#00cfff 126.5px,#006eff 141.5px,#0049ff 149.5px,#0000fd 175.5px,#0000d9 189.5px,#00008f 203.5px)"></i>
<i style="left:199px;top:219px;width:204px;height:2px;background:linear-gradient(90deg,#00008f 0.5px,#0000b9 4.5px,#0000cb 5.5px,#0007ff 7.5px,#0024ff 8.5px,#00a3ff 14.5px,#00f5ff 19.5px,#06fff9 20.5px,#23ffdc 22.5px,#cfff30 41.5px,#fffe00 47.5px,#ff9000 61.5px,#ff4e00 74.5px,#ff4900 77.5px,#ff8400 82.5px,#fff500 90.5px,#faff05 91.5px,#7eff81 99.5px,#2fffd0 106.5px,#19ffe6 109.5px,#00fcff 118.5px,#00cdff 126.5px,#0067ff 141.5px,#04f 149.5px,#002fff 158.5px,#0002ff 172.5px,#0000e3 180.5px,#0000d1 189.5px,#00008f 203.5px)"></i>
<i style="left:199px;top:221px;width:204px;height:2px;background:linear-gradient(90deg,#00008f 0.5px,#0000c3 4.5px,#0000d6 5.5px,#0000f3 6.5px,#01f 7.5px,#002dff 8.5px,#00aeff 14.5px,#00fcff 19.5px,#0dfff2 20.5px,#28ffd7 22.5px,#feff01 46.5px,#ff8e00 61.5px,#ff4d00 74.5px,#ff4b00 77.5px,#ff8400 82.5px,#fff600 90.5px,#f9ff06 91.5px,#7dff82 99.5px,#2dffd2 106.5px,#19ffe6 109.5px,#00fcff 118.5px,#0cf 126.5px,#0060ff 141.5px,#003fff 149.5px,#002aff 158.5px,#0000fd 171.5px,#0000da 180.5px,#0000ca 189.5px,#00008f 203.5px)"></i>
<i style="left:199px;top:223px;width:204px;height:2px;background:linear-gradient(90deg,#00008f 0.5px,#0000ce 4.5px,#0001fd 6.5px,#0037ff 8.5px,#00baff 14.5px,#00f5ff 18.5px,#05fffa 19.5px,#2dffd2 22.5px,#fcff03 45.5px,#ff8c00 61.5px,#ff4d00 74.5px,#ff4d00 75.5px,#ff4e00 77.5px,#f70 81.5px,#fff700 90.5px,#f8ff07 91.5px,#8aff75 98.5px,#2cffd3 106.5px,#19ffe6 109.5px,#00fcff 118.5px,#00caff 126.5px,#0059ff 141.5px,#003aff 149.5px,#0025ff 158.5px,#0000fd 169.5px,#0000d0 180.5px,#0000c2 189.5px,#00008f 203.5px)"></i>
<i style="left:199px;top:225px;width:204px;height:2px;background:linear-gradient(90deg,#00008f 0.5px,#0000ed 5.5px,#0009ff 6.5px,#0040ff 8.5px,#00c5ff 14.5px,#00fdff 18.5px,#0cfff3 19.5px,#3fc 22.5px,#e2ff1d 41.5px,#fffc00 45.5px,#fc0 51.5px,#ff9000 60.5px,#ff4c00 74.5px,#ff5000 77.5px,#f70 81.5px,#fff800 90.5px,#f7ff08 91.5px,#89ff76 98.5px,#3fc 105.5px,#1affe5 109.5px,#00fcff 118.5px,#00c8ff 126.5px,#0052ff 141.5px,#0038ff 148.5px,#0023ff 157.5px,#0000fe 167.5px,#0000c7 180.5px,#0000ba 189.5px,#00008f 203.5px)"></i>
<i style="left:199px;top:227px;width:203px;height:2px;background:linear-gradient(90deg,#00008f 0.5px,#0000f8 5.5px,#0014ff 6.5px,#0049ff 8.5px,#00d1ff 14.5px,#00f9ff 17.5px,#07fff8 18.5px,#38ffc7 22.5px,#e8ff17 41.5px,#fffd00 44.5px,#ffc600 51.5px,#ff8e00 60.5px,#ff4c00 74.5px,#ff5200 77.5px,#f70 81.5px,#fff900 90.5px,#f6ff09 91.5px,#8f7 98.5px,#31ffce 105.5px,#1affe5 109.5px,#00fdff 118.5px,#00c6ff 126.5px,#004bff 141.5px,#0032ff 148.5px,#001fff 157.5px,#0001ff 165.5px,#0000bd 180.5px,#0000b2 189.5px,#000091 202.5px)"></i>
<i style="left:199px;top:229px;width:203px;height:2px;background:linear-gradient(90deg,#00008f 0.5px,#0000da 3.5px,#0004ff 5.5px,#0052ff 8.5px,#00dcff 14.5px,#03fffc 17.5px,#3dffc2 22.5px,#fefe01 43.5px,#ffc000 51.5px,#ff8700 61.5px,#ff4b00 74.5px,#f50 77.5px,#ff7800 81.5px,#fff900 90.5px,#f5ff0a 91.5px,#87ff78 98.5px,#30ffcf 105.5px,#1effe1 108.5px,#00fdff 118.5px,#00c5ff 126.5px,#003fff 142.5px,#001aff 157.5px,#0000fe 164.5px,#0000b4 180.5px,#0000ab 189.5px,#000090 202.5px)"></i>
<i style="left:199px;top:231px;width:203px;height:2px;background:linear-gradient(90deg,#00008f 0.5px,#0000e2 3.5px,#0000f7 4.5px,#000fff 5.5px,#005cff 8.5px,#00e8ff 14.5px,#02fefd 16.5px,#0cfff3 17.5px,#42ffbd 22.5px,#fdff02 42.5px,#ffba00 51.5px,#ff8500 61.5px,#ff4b00 74.5px,#ff5700 77.5px,#ff7800 81.5px,#fffa00 90.5px,#f4ff0b 91.5px,#86ff79 98.5px,#2effd1 105.5px,#1effe1 108.5px,#00fdff 118.5px,#00c3ff 126.5px,#0038ff 142.5px,#0015ff 157.5px,#0002ff 162.5px,#0000df 170.5px,#0000a7 181.5px,#0000a3 189.5px,#000090 202.5px)"></i>
<i style="left:199px;top:233px;width:202px;height:2px;background:linear-gradient(90deg,#00008f 0.5px,#0000eb 3.5px,#0003ff 4.5px,#00f3ff 14.5px,#02fefd 15.5px,#0bfff4 16.5px,#fbff04 41.5px,#ffb400 51.5px,#ff4a00 74.5px,#ff5900 77.5px,#ff7800 81.5px,#fffb00 90.5px,#85ff7a 98.5px,#2cffd3 105.5px,#24ffdb 106.5px,#0afff5 116.5px,#00fdff 118.5px,#00c1ff 126.5px,#0031ff 142.5px,#01f 157.5px,#0001ff 161.5px,#0000d8 170.5px,#00009e 181.5px,#000091 201.5px)"></i>
<i style="left:199px;top:235px;width:199px;height:2px;background:linear-gradient(90deg,#00008f 0.5px,#0000f3 3.5px,#000dff 4.5px,#01fdfe 14.5px,#0cfff3 15.5px,#fffc00 41.5px,#ffae00 51.5px,#ff4a00 74.5px,#ff8300 82.5px,#fffc00 90.5px,#84ff7b 98.5px,#2affd5 105.5px,#23ffdc 106.5px,#0bfff4 116.5px,#00fdff 118.5px,#00bfff 126.5px,#002aff 142.5px,#000cff 157.5px,#0001fe 160.5px,#0000d1 170.5px,#000094 181.5px,#000091 198.5px)"></i>
<i style="left:197px;top:237px;width:184px;height:2px;background:linear-gradient(90deg,#000090 0.5px,#000094 2.5px,#0000fa 5.5px,#0016ff 6.5px,#0ef 15.5px,#07fff8 16.5px,#86ff79 30.5px,#fdff02 42.5px,#ffab00 53.5px,#ff4b00 76.5px,#ff8500 84.5px,#fffd00 92.5px,#83ff7c 100.5px,#2affd5 107.5px,#23ffdc 108.5px,#0bfff4 118.5px,#00fdff 120.5px,#00beff 128.5px,#0026ff 144.5px,#0000fd 162.5px,#00008f 183.5px)"></i>
<i style="left:196px;top:239px;width:185px;height:2px;background:linear-gradient(90deg,#00008f 0.5px,#00009d 3.5px,#0002ff 6.5px,#00deff 15.5px,#00f4ff 16.5px,#0afff5 17.5px,#fffc00 43.5px,#ffa900 54.5px,#ff5800 73.5px,#ff4e00 77.5px,#ff7e00 84.5px,#fff000 92.5px,#feff01 93.5px,#90ff6f 100.5px,#2cffd3 108.5px,#1dffe2 111.5px,#0afff5 119.5px,#00feff 121.5px,#00beff 129.5px,#0024ff 145.5px,#0000fd 163.5px,#0000b0 177.5px,#00008f 184.5px)"></i>
<i style="left:196px;top:241px;width:185px;height:2px;background:linear-gradient(90deg,#00008f 0.5px,#0000a7 3.5px,#0000e8 5.5px,#0009ff 6.5px,#00cfff 14.5px,#00f9ff 16.5px,#0efff1 17.5px,#feff01 42.5px,#ffa700 54.5px,#ff5600 73.5px,#ff5000 77.5px,#ff8200 84.5px,#fff300 92.5px,#fcff03 93.5px,#8eff71 100.5px,#2effd1 108.5px,#1dffe2 111.5px,#00feff 121.5px,#00bdff 129.5px,#0023ff 145.5px,#0000fe 163.5px,#0000f2 166.5px,#0000ab 177.5px,#00008f 184.5px)"></i>
<i style="left:196px;top:243px;width:185px;height:2px;background:linear-gradient(90deg,#00008f 0.5px,#000096 1.5px,#0000b0 3.5px,#0000f0 5.5px,#0010ff 6.5px,#00d6ff 14.5px,#00feff 16.5px,#1fe 17.5px,#78ff87 28.5px,#e9ff16 39.5px,#fffb00 42.5px,#ffc400 49.5px,#ffa500 54.5px,#ff5200 74.5px,#ff5300 77.5px,#ff7400 82.5px,#ff9200 85.5px,#fff500 92.5px,#f9ff06 93.5px,#8cff73 100.5px,#30ffcf 108.5px,#1affe5 112.5px,#00feff 121.5px,#00f3ff 123.5px,#00bdff 129.5px,#02f 145.5px,#0000fe 163.5px,#0000f3 166.5px,#0000a6 177.5px,#00008f 184.5px)"></i>
<i style="left:196px;top:245px;width:184px;height:2px;background:linear-gradient(90deg,#00008f 0.5px,#000098 1.5px,#0000b9 3.5px,#0000f8 5.5px,#0016ff 6.5px,#00deff 14.5px,#00f2ff 15.5px,#04fffb 16.5px,#1fffe0 18.5px,#7cff83 28.5px,#e6ff19 38.5px,#fffe00 41.5px,#ffc000 49.5px,#ffa800 53.5px,#ff5100 74.5px,#f50 77.5px,#f70 82.5px,#ff9600 85.5px,#fff700 92.5px,#f7ff08 93.5px,#8aff75 100.5px,#32ffcd 108.5px,#19ffe6 112.5px,#00feff 121.5px,#00f4ff 123.5px,#0021ff 145.5px,#0000fc 164.5px,#0000f4 166.5px,#0000a7 176.5px,#000091 183.5px)"></i>
<i style="left:196px;top:247px;width:184px;height:2px;background:linear-gradient(90deg,#00008f 0.5px,#00009a 1.5px,#0000c2 3.5px,#0001fe 5.5px,#00e5ff 14.5px,#00f9ff 15.5px,#09fff6 16.5px,#2fd 18.5px,#81ff7e 28.5px,#feff01 40.5px,#ffbd00 49.5px,#ffa600 53.5px,#ff5000 74.5px,#ff5800 77.5px,#ff7a00 82.5px,#ff9b00 85.5px,#fffa00 92.5px,#f5ff0a 93.5px,#8f7 100.5px,#34ffcb 108.5px,#19ffe6 112.5px,#00feff 121.5px,#00f6ff 123.5px,#0020ff 145.5px,#0001ff 163.5px,#0000fb 165.5px,#0000a3 176.5px,#000091 183.5px)"></i>
<i style="left:196px;top:249px;width:184px;height:2px;background:linear-gradient(90deg,#00008f 0.5px,#00009c 1.5px,#00c 3.5px,#0000ec 4.5px,#0009ff 5.5px,#00edff 14.5px,#01fffe 15.5px,#0efff1 16.5px,#85ff7a 28.5px,#fcff03 39.5px,#ffb900 49.5px,#ffa300 53.5px,#ff4f00 74.5px,#ff5a00 77.5px,#ff7c00 82.5px,#fffc00 92.5px,#87ff78 100.5px,#2dffd2 109.5px,#19ffe6 112.5px,#0ff 121.5px,#00f7ff 123.5px,#0024ff 144.5px,#001fff 145.5px,#0000fc 165.5px,#00009e 176.5px,#000090 183.5px)"></i>
<i style="left:196px;top:251px;width:183px;height:2px;background:linear-gradient(90deg,#00008f 0.5px,#00009d 1.5px,#0000f5 4.5px,#0010ff 5.5px,#00f5ff 14.5px,#08fff7 15.5px,#7fff80 27.5px,#f9ff06 38.5px,#fffc00 39.5px,#ffaf00 50.5px,#ff4d00 73.5px,#ff5d00 77.5px,#ff7600 81.5px,#fff000 91.5px,#fffe00 92.5px,#85ff7a 100.5px,#2effd1 109.5px,#18ffe7 112.5px,#0ff 121.5px,#00f8ff 123.5px,#0023ff 144.5px,#001dff 145.5px,#0000fd 165.5px,#009 176.5px,#000091 182.5px)"></i>
<i style="left:196px;top:253px;width:178px;height:2px;background:linear-gradient(90deg,#000090 0.5px,#0000a0 1.5px,#0000fd 4.5px,#00fcff 14.5px,#0ffff0 15.5px,#83ff7c 27.5px,#fefe01 38.5px,#ffac00 50.5px,#ff4c00 73.5px,#ff4d00 74.5px,#ff7900 81.5px,#fff300 91.5px,#fdff02 92.5px,#83ff7c 100.5px,#1dffe2 111.5px,#0ff 121.5px,#00f9ff 123.5px,#0086ff 134.5px,#001cff 145.5px,#0000fe 165.5px,#000095 176.5px,#000090 177.5px)"></i>
<i style="left:192px;top:255px;width:182px;height:2px;background:linear-gradient(90deg,#000091 0.5px,#000095 4.5px,#0000a6 5.5px,#0000e6 7.5px,#0006ff 8.5px,#03fffc 18.5px,#15ffea 19.5px,#95ff6a 32.5px,#faff05 41.5px,#fff900 42.5px,#ffa900 54.5px,#ff4e00 77.5px,#ff5000 78.5px,#ff7c00 85.5px,#fff500 95.5px,#fbff04 96.5px,#82ff7d 104.5px,#1cffe3 115.5px,#00feff 124.5px,#00f6ff 127.5px,#0063ff 141.5px,#0018ff 149.5px,#0002ff 163.5px,#0000f9 169.5px,#000094 180.5px,#00008f 181.5px)"></i>
<i style="left:191px;top:257px;width:183px;height:2px;background:linear-gradient(90deg,#00008f 0.5px,#00009b 5.5px,#0000ad 6.5px,#0000ed 8.5px,#000eff 9.5px,#00f0ff 18.5px,#09fff6 19.5px,#1affe5 20.5px,#9cff63 33.5px,#fefe01 42.5px,#ffec00 44.5px,#ffa700 55.5px,#ff5100 78.5px,#ff5300 79.5px,#ff7f00 86.5px,#fff700 96.5px,#f8ff07 97.5px,#80ff7f 105.5px,#2cffd3 114.5px,#14ffeb 117.5px,#00feff 124.5px,#00f1ff 128.5px,#005eff 142.5px,#0014ff 150.5px,#0002ff 159.5px,#0000f3 170.5px,#00008f 182.5px)"></i>
<i style="left:191px;top:259px;width:183px;height:2px;background:linear-gradient(90deg,#00008f 0.5px,#0000a1 5.5px,#0000b4 6.5px,#0000f4 8.5px,#0015ff 9.5px,#007fff 13.5px,#00f6ff 18.5px,#0ffff0 19.5px,#2bffd4 21.5px,#faff05 41.5px,#fff900 42.5px,#ffe700 44.5px,#ffa500 55.5px,#ff6700 71.5px,#ff5400 78.5px,#ff5600 79.5px,#ff8300 86.5px,#fffa00 96.5px,#f6ff09 97.5px,#7fff80 105.5px,#3fc 113.5px,#12ffed 117.5px,#00feff 123.5px,#00edff 128.5px,#0059ff 142.5px,#0010ff 150.5px,#0000fd 157.5px,#0000ed 170.5px,#00008f 182.5px)"></i>
<i style="left:191px;top:261px;width:183px;height:2px;background:linear-gradient(90deg,#00008f 0.5px,#0000a7 5.5px,#00b 6.5px,#0000fb 8.5px,#08f 13.5px,#00fdff 18.5px,#15ffea 19.5px,#31ffce 21.5px,#fffe00 41.5px,#ffe200 44.5px,#ffa200 55.5px,#f60 71.5px,#ff5700 78.5px,#ff8600 86.5px,#fffc00 96.5px,#7eff81 105.5px,#16ffe9 116.5px,#0ff 122.5px,#00e9ff 128.5px,#0054ff 142.5px,#000bff 150.5px,#0000fd 155.5px,#0000e7 170.5px,#00008f 182.5px)"></i>
<i style="left:191px;top:263px;width:183px;height:2px;background:linear-gradient(90deg,#00008f 0.5px,#0000ad 5.5px,#0000c2 6.5px,#0003ff 8.5px,#0091ff 13.5px,#04fffb 18.5px,#2cffd3 20.5px,#37ffc8 21.5px,#fbff04 40.5px,#fff800 41.5px,#fd0 44.5px,#ffa000 55.5px,#f60 71.5px,#ff5a00 78.5px,#ff8900 86.5px,#fff200 95.5px,#fffe00 96.5px,#7dff82 105.5px,#15ffea 116.5px,#01fffe 121.5px,#00e5ff 128.5px,#004fff 142.5px,#0007ff 150.5px,#0000fd 153.5px,#00e 158.5px,#0000e1 170.5px,#00008f 182.5px)"></i>
<i style="left:191px;top:265px;width:183px;height:2px;background:linear-gradient(90deg,#00008f 0.5px,#0000b3 5.5px,#0000c9 6.5px,#0000e9 7.5px,#000bff 8.5px,#009aff 13.5px,#00f3ff 17.5px,#0bfff4 18.5px,#32ffcd 20.5px,#3dffc2 21.5px,#fffd00 40.5px,#ffd800 44.5px,#ff9e00 55.5px,#ff6500 71.5px,#ff5d00 78.5px,#ff8d00 86.5px,#fff400 95.5px,#fdff02 96.5px,#7bff84 105.5px,#2cffd3 113.5px,#0dfff2 117.5px,#00fdff 121.5px,#00e0ff 128.5px,#004aff 142.5px,#0003ff 150.5px,#0000e7 158.5px,#0000db 170.5px,#00008f 182.5px)"></i>
<i style="left:191px;top:267px;width:183px;height:2px;background:linear-gradient(90deg,#00008f 0.5px,#0000b9 5.5px,#0000d0 6.5px,#0000f0 7.5px,#0012ff 8.5px,#00a3ff 13.5px,#00faff 17.5px,#1fe 18.5px,#38ffc7 20.5px,#43ffbc 21.5px,#fdff02 39.5px,#ffd300 44.5px,#ff9b00 55.5px,#ff6500 71.5px,#ff6000 78.5px,#ff7400 82.5px,#ff9000 86.5px,#fff600 95.5px,#fbff04 96.5px,#7aff85 105.5px,#21ffde 114.5px,#0bfff4 117.5px,#0ff 120.5px,#00dcff 128.5px,#0045ff 142.5px,#0000fe 150.5px,#0000e1 158.5px,#0000d6 170.5px,#00008f 182.5px)"></i>
<i style="left:191px;top:269px;width:183px;height:2px;background:linear-gradient(90deg,#00008f 0.5px,#0000bf 5.5px,#0000d7 6.5px,#0000f8 7.5px,#0019ff 8.5px,#00acff 13.5px,#02fffd 17.5px,#2dffd2 19.5px,#49ffb6 21.5px,#acff53 30.5px,#faff05 38.5px,#fffa00 39.5px,#ffce00 44.5px,#f90 55.5px,#ff6400 71.5px,#ff6200 78.5px,#f70 82.5px,#ff9400 86.5px,#fff900 95.5px,#f8ff07 96.5px,#79ff86 105.5px,#1fffe0 114.5px,#01fffe 119.5px,#00d8ff 128.5px,#0040ff 142.5px,#0001ff 149.5px,#0000da 158.5px,#00c 171.5px,#00008f 182.5px)"></i>
<i style="left:191px;top:271px;width:183px;height:2px;background:linear-gradient(90deg,#00008f 0.5px,#0000c5 5.5px,#0001fe 7.5px,#0041ff 9.5px,#00b5ff 13.5px,#00f3ff 16.5px,#09fff6 17.5px,#3fc 19.5px,#4fffb0 21.5px,#b3ff4c 30.5px,#fffe00 38.5px,#ffc900 44.5px,#ff9700 55.5px,#ff6300 71.5px,#ff6500 78.5px,#ff7a00 82.5px,#ffa000 87.5px,#fffb00 95.5px,#f6ff09 96.5px,#78ff87 105.5px,#1dffe2 114.5px,#00feff 119.5px,#00d4ff 128.5px,#003bff 142.5px,#0000fc 149.5px,#0000d3 158.5px,#0000c7 171.5px,#00008f 182.5px)"></i>
<i style="left:191px;top:273px;width:183px;height:2px;background:linear-gradient(90deg,#00008f 0.5px,#0000cb 5.5px,#0007ff 7.5px,#0048ff 9.5px,#00bdff 13.5px,#00fbff 16.5px,#10ffef 17.5px,#39ffc6 19.5px,#56ffa9 21.5px,#bf4 30.5px,#fdff02 37.5px,#ffc400 44.5px,#ff9400 55.5px,#ff6300 71.5px,#ff6800 78.5px,#ff7d00 82.5px,#ffa400 87.5px,#fffd00 95.5px,#76ff89 105.5px,#1bffe4 114.5px,#01fffe 118.5px,#0df 126.5px,#00cfff 128.5px,#0036ff 142.5px,#0001ff 148.5px,#0000f1 150.5px,#00c 158.5px,#0000c4 170.5px,#00008f 182.5px)"></i>
<i style="left:191px;top:275px;width:183px;height:2px;background:linear-gradient(90deg,#00008f 0.5px,#0000d1 5.5px,#0000ec 6.5px,#000eff 7.5px,#0050ff 9.5px,#00c6ff 13.5px,#03fffc 16.5px,#3fffc0 19.5px,#5cffa3 21.5px,#c2ff3d 30.5px,#fffa00 37.5px,#ffcb00 42.5px,#ffbf00 44.5px,#ff9200 55.5px,#ff6200 71.5px,#ff6b00 78.5px,#ff8000 82.5px,#ffa700 87.5px,#fff300 94.5px,#feff01 95.5px,#75ff8a 105.5px,#19ffe6 114.5px,#00feff 118.5px,#00daff 126.5px,#00cbff 128.5px,#0031ff 142.5px,#0000fc 148.5px,#0000ed 150.5px,#0000c5 158.5px,#0000be 170.5px,#00008f 182.5px)"></i>
<i style="left:191px;top:277px;width:183px;height:2px;background:linear-gradient(90deg,#00008f 0.5px,#0000d7 5.5px,#0000f3 6.5px,#0015ff 7.5px,#0057ff 9.5px,#00cfff 13.5px,#00f6ff 15.5px,#0afff5 16.5px,#45ffba 19.5px,#62ff9d 21.5px,#caff35 30.5px,#fffd00 36.5px,#ffc600 42.5px,#ffba00 44.5px,#ff9000 55.5px,#ff6200 71.5px,#ff6e00 78.5px,#ff8200 82.5px,#fa0 87.5px,#fff500 94.5px,#fcff03 95.5px,#74ff8b 105.5px,#16ffe9 114.5px,#00fcff 118.5px,#00d7ff 126.5px,#00c7ff 128.5px,#002cff 142.5px,#0001ff 147.5px,#0000e8 150.5px,#0000bf 158.5px,#0000b8 170.5px,#00008f 182.5px)"></i>
<i style="left:191px;top:279px;width:183px;height:2px;background:linear-gradient(90deg,#00008f 0.5px,#00d 5.5px,#0000fa 6.5px,#001cff 7.5px,#00d8ff 13.5px,#00fdff 15.5px,#12ffed 16.5px,#4affb5 19.5px,#68ff97 21.5px,#d1ff2e 30.5px,#fefe01 35.5px,#ffb900 43.5px,#ff8d00 55.5px,#ff6100 71.5px,#ff7100 78.5px,#ff8500 82.5px,#ffae00 87.5px,#fff700 94.5px,#faff05 95.5px,#73ff8c 105.5px,#1effe1 113.5px,#0ff 117.5px,#00cbff 127.5px,#0027ff 142.5px,#0000fc 147.5px,#0000e4 150.5px,#0000b8 158.5px,#0000b3 170.5px,#00008f 182.5px)"></i>
<i style="left:191px;top:281px;width:182px;height:2px;background:linear-gradient(90deg,#00008f 0.5px,#0000e3 5.5px,#0002ff 6.5px,#00c5ff 12.5px,#00e1ff 13.5px,#07fff8 15.5px,#50ffaf 19.5px,#6eff91 21.5px,#d9ff26 30.5px,#fdff02 34.5px,#ffb300 43.5px,#ff8b00 55.5px,#ff6000 71.5px,#ff7400 78.5px,#f80 82.5px,#ffb100 87.5px,#fffa00 94.5px,#f7ff08 95.5px,#71ff8e 105.5px,#1bffe4 113.5px,#00feff 117.5px,#00c7ff 127.5px,#02f 142.5px,#0001ff 146.5px,#0000e0 150.5px,#0000b1 158.5px,#0000ad 170.5px,#000091 181.5px)"></i>
<i style="left:191px;top:283px;width:182px;height:2px;background:linear-gradient(90deg,#00008f 0.5px,#0000e9 5.5px,#0009ff 6.5px,#00ceff 12.5px,#00eaff 13.5px,#00fcff 14.5px,#0ffff0 15.5px,#74ff8b 21.5px,#e0ff1f 30.5px,#fbff04 33.5px,#fffa00 34.5px,#ffae00 43.5px,#ff6000 71.5px,#f70 78.5px,#ff8b00 82.5px,#ffb500 87.5px,#fffc00 94.5px,#70ff8f 105.5px,#19ffe6 113.5px,#00fcff 117.5px,#0cf 126.5px,#001dff 142.5px,#0000fb 146.5px,#0000dc 150.5px,#00a 158.5px,#0000a7 170.5px,#000090 181.5px)"></i>
<i style="left:191px;top:285px;width:182px;height:2px;background:linear-gradient(90deg,#00008f 0.5px,#0000ef 5.5px,#0010ff 6.5px,#00d7ff 12.5px,#00f3ff 13.5px,#05fffa 14.5px,#7aff85 21.5px,#e8ff17 30.5px,#fffb00 33.5px,#ffa900 43.5px,#ff5f00 71.5px,#ff8e00 82.5px,#ffb800 87.5px,#fffe00 94.5px,#7aff85 104.5px,#17ffe8 113.5px,#01fffe 116.5px,#00c9ff 126.5px,#0018ff 142.5px,#0001fe 145.5px,#0000d7 150.5px,#0000a4 158.5px,#0000a1 170.5px,#000090 181.5px)"></i>
<i style="left:191px;top:287px;width:182px;height:2px;background:linear-gradient(90deg,#00008f 0.5px,#0000f5 5.5px,#0016ff 6.5px,#00e0ff 12.5px,#00fcff 13.5px,#0efff1 14.5px,#80ff7f 21.5px,#f0ff0f 30.5px,#fffc00 32.5px,#ffa300 43.5px,#ff5f00 71.5px,#ff9100 82.5px,#fff400 93.5px,#feff01 94.5px,#6eff91 105.5px,#15ffea 113.5px,#00feff 116.5px,#00c6ff 126.5px,#0013ff 142.5px,#0003ff 144.5px,#00009d 158.5px,#00009b 170.5px,#000090 181.5px)"></i>
<i style="left:191px;top:289px;width:180px;height:2px;background:linear-gradient(90deg,#00008f 0.5px,#0000fb 5.5px,#00e8ff 12.5px,#06fff9 13.5px,#86ff79 21.5px,#f7ff08 30.5px,#fffd00 31.5px,#ff9e00 43.5px,#ff5e00 71.5px,#ff9400 82.5px,#fff600 93.5px,#fbff04 94.5px,#83ff7c 103.5px,#13ffec 113.5px,#00fcff 116.5px,#00c2ff 126.5px,#000eff 142.5px,#0000fd 144.5px,#000096 158.5px,#000091 179.5px)"></i>
<i style="left:190px;top:291px;width:160px;height:3px;background:linear-gradient(90deg,#000091 0.5px,#000091 1.5px,#0003ff 6.5px,#00f1ff 13.5px,#0ffff0 14.5px,#8dff72 22.5px,#fefe01 31.5px,#ff9800 44.5px,#ff5e00 72.5px,#ff9700 83.5px,#fff900 94.5px,#f8ff07 95.5px,#81ff7e 104.5px,#10ffef 114.5px,#01fffe 116.5px,#00beff 127.5px,#0001ff 144.5px,#000090 159.5px)"></i>
<i style="left:182px;top:294px;width:168px;height:3px;background:linear-gradient(90deg,#000091 0.5px,#000098 9.5px,#0000f1 13.5px,#000aff 14.5px,#00f6ff 21.5px,#14ffeb 22.5px,#93ff6c 30.5px,#f7ff08 38.5px,#fffa00 39.5px,#ff9500 52.5px,#ff6000 80.5px,#ff9a00 91.5px,#fffc00 102.5px,#7eff81 112.5px,#0cfff3 122.5px,#00fbff 124.5px,#00b7ff 135.5px,#0004ff 151.5px,#0000fc 152.5px,#00008f 167.5px)"></i>
<i style="left:181px;top:297px;width:169px;height:3px;background:linear-gradient(90deg,#000090 0.5px,#00009f 10.5px,#0000f9 14.5px,#0012ff 15.5px,#00fbff 22.5px,#18ffe7 23.5px,#98ff67 31.5px,#fcff03 39.5px,#fff600 40.5px,#ffa500 50.5px,#ff9200 53.5px,#ff6200 81.5px,#ff9d00 92.5px,#fff600 102.5px,#feff01 103.5px,#7bff84 113.5px,#00fdff 124.5px,#00b0ff 136.5px,#0001ff 152.5px,#00008f 168.5px)"></i>
<i style="left:181px;top:300px;width:169px;height:3px;background:linear-gradient(90deg,#000090 0.5px,#0000a7 10.5px,#0001fe 14.5px,#0019ff 15.5px,#0ff 22.5px,#1cffe3 23.5px,#9dff62 31.5px,#fffd00 39.5px,#ffe700 41.5px,#ffa000 50.5px,#ff8f00 53.5px,#ff6400 81.5px,#ffa000 92.5px,#fffa00 102.5px,#fbff04 103.5px,#78ff87 113.5px,#04fffb 123.5px,#00f9ff 124.5px,#0af 136.5px,#0026ff 148.5px,#0000fc 152.5px,#00008f 168.5px)"></i>
<i style="left:181px;top:303px;width:169px;height:3px;background:linear-gradient(90deg,#000091 0.5px,#0000ae 10.5px,#0000f0 13.5px,#0008ff 14.5px,#0020ff 15.5px,#04fffb 22.5px,#20ffdf 23.5px,#94ff6b 30.5px,#f9ff06 38.5px,#fff900 39.5px,#ffe300 41.5px,#ff9c00 50.5px,#ff8c00 53.5px,#ff6700 81.5px,#ffa300 92.5px,#fffd00 102.5px,#f8ff07 103.5px,#75ff8a 113.5px,#00feff 123.5px,#00a3ff 136.5px,#0003ff 151.5px,#00008f 168.5px)"></i>
<i style="left:180px;top:306px;width:170px;height:3px;background:linear-gradient(90deg,#00008f 0.5px,#0000b5 11.5px,#0000f7 14.5px,#000fff 15.5px,#0027ff 16.5px,#00e8ff 22.5px,#09fff6 23.5px,#24ffdb 24.5px,#9f6 31.5px,#feff01 39.5px,#ffde00 42.5px,#ff9800 51.5px,#ff8900 54.5px,#ff6900 82.5px,#ffa600 93.5px,#fff700 102.5px,#feff01 103.5px,#f5ff0a 104.5px,#72ff8d 114.5px,#07fff8 123.5px,#00faff 124.5px,#00b5ff 133.5px,#009cff 137.5px,#0000fe 152.5px,#00008f 169.5px)"></i>
<i style="left:180px;top:309px;width:170px;height:3px;background:linear-gradient(90deg,#00008f 0.5px,#0000bc 11.5px,#0001fe 14.5px,#002eff 16.5px,#00ecff 22.5px,#0dfff2 23.5px,#29ffd6 24.5px,#9eff61 31.5px,#d4ff2b 35.5px,#fffb00 39.5px,#ffda00 42.5px,#ff8900 53.5px,#ff6b00 82.5px,#ffa900 93.5px,#fffa00 102.5px,#f1ff0e 104.5px,#6fff90 114.5px,#03fffc 123.5px,#00f6ff 124.5px,#00afff 133.5px,#0095ff 137.5px,#0004ff 151.5px,#00008f 169.5px)"></i>
<i style="left:180px;top:312px;width:170px;height:3px;background:linear-gradient(90deg,#00008f 0.5px,#0000c4 11.5px,#0000ef 13.5px,#0007ff 14.5px,#0035ff 16.5px,#00f1ff 22.5px,#12ffed 23.5px,#2dffd2 24.5px,#a3ff5c 31.5px,#fdff02 38.5px,#ffd600 42.5px,#ff9000 51.5px,#ff8600 53.5px,#ff6d00 82.5px,#ffac00 93.5px,#fffd00 102.5px,#ef1 104.5px,#6cff93 114.5px,#00feff 123.5px,#00e8ff 125.5px,#00a8ff 133.5px,#008fff 137.5px,#0000fe 151.5px,#0000ed 153.5px,#00008f 169.5px)"></i>
<i style="left:180px;top:315px;width:170px;height:3px;background:linear-gradient(90deg,#00008f 0.5px,#0000cb 11.5px,#0000f6 13.5px,#000eff 14.5px,#003cff 16.5px,#00f6ff 22.5px,#16ffe9 23.5px,#31ffce 24.5px,#a9ff56 31.5px,#dfff20 35.5px,#fffc00 38.5px,#ffd100 42.5px,#ff8c00 51.5px,#ff8200 53.5px,#ff6f00 82.5px,#ffaf00 93.5px,#fff700 101.5px,#fdff02 102.5px,#ebff14 104.5px,#68ff97 114.5px,#07fff8 122.5px,#00faff 123.5px,#00e4ff 125.5px,#00a2ff 133.5px,#08f 137.5px,#0003ff 150.5px,#0000e9 153.5px,#00008f 169.5px)"></i>
<i style="left:180px;top:318px;width:170px;height:3px;background:linear-gradient(90deg,#00008f 0.5px,#0000d2 11.5px,#0000fd 13.5px,#0043ff 16.5px,#00fbff 22.5px,#1affe5 23.5px,#35ffca 24.5px,#aeff51 31.5px,#f0ff0f 36.5px,#fff700 38.5px,#ffcd00 42.5px,#f80 51.5px,#ff7f00 53.5px,#ff7100 82.5px,#ff8500 86.5px,#ffb200 93.5px,#fffb00 101.5px,#e8ff17 104.5px,#04fffb 122.5px,#00f6ff 123.5px,#00dfff 125.5px,#009bff 133.5px,#0081ff 137.5px,#0000fd 150.5px,#0000e5 153.5px,#00008f 169.5px)"></i>
<i style="left:180px;top:321px;width:170px;height:3px;background:linear-gradient(90deg,#00008f 0.5px,#0000da 11.5px,#0006ff 13.5px,#004aff 16.5px,#01fffe 22.5px,#1fffe0 23.5px,#39ffc6 24.5px,#94ff6b 29.5px,#eaff15 35.5px,#fffd00 37.5px,#ffc900 42.5px,#ff8400 51.5px,#ff7c00 53.5px,#ff7400 82.5px,#ff8700 86.5px,#ffb500 93.5px,#fffe00 101.5px,#d8ff27 105.5px,#00feff 122.5px,#00dbff 125.5px,#0095ff 133.5px,#007bff 137.5px,#0001ff 149.5px,#0000e1 153.5px,#00008f 169.5px)"></i>
<i style="left:180px;top:324px;width:170px;height:3px;background:linear-gradient(90deg,#00008f 0.5px,#000093 1.5px,#0000e1 11.5px,#0000f6 12.5px,#000dff 13.5px,#0051ff 16.5px,#00e6ff 21.5px,#05fffa 22.5px,#3effc1 24.5px,#9f6 29.5px,#f0ff0f 35.5px,#fff800 37.5px,#ffc400 42.5px,#ff8000 51.5px,#ff7800 53.5px,#ff7600 82.5px,#ff8900 86.5px,#ffb800 93.5px,#fff800 100.5px,#fdff02 101.5px,#e1ff1e 104.5px,#5fffa0 114.5px,#00fbff 122.5px,#00d7ff 125.5px,#008eff 133.5px,#0074ff 137.5px,#0005ff 148.5px,#0000fb 149.5px,#00d 153.5px,#00008f 169.5px)"></i>
<i style="left:180px;top:327px;width:170px;height:3px;background:linear-gradient(90deg,#00008f 0.5px,#000093 1.5px,#0000e8 11.5px,#0000fd 12.5px,#0058ff 16.5px,#00ebff 21.5px,#0afff5 22.5px,#42ffbd 24.5px,#9eff61 29.5px,#cf3 32.5px,#fffd00 36.5px,#ffc000 42.5px,#ff7b00 51.5px,#ff7400 54.5px,#ff7800 82.5px,#ff8b00 86.5px,#fb0 93.5px,#fffb00 100.5px,#deff21 104.5px,#04fffb 121.5px,#00f7ff 122.5px,#00d2ff 125.5px,#08f 133.5px,#006dff 137.5px,#0001fe 148.5px,#0000da 153.5px,#00008f 169.5px)"></i>
<i style="left:180px;top:330px;width:170px;height:3px;background:linear-gradient(90deg,#00008f 0.5px,#000093 1.5px,#0000ef 11.5px,#0005ff 12.5px,#005fff 16.5px,#00f0ff 21.5px,#0ffff0 22.5px,#46ffb9 24.5px,#a4ff5b 29.5px,#fbff04 35.5px,#fff800 36.5px,#fb0 42.5px,#f70 51.5px,#ff7100 54.5px,#ff7a00 82.5px,#ff8d00 86.5px,#ffbe00 93.5px,#fffe00 100.5px,#c3ff3c 106.5px,#01fffe 121.5px,#00ceff 125.5px,#0081ff 133.5px,#06f 137.5px,#0004ff 147.5px,#0000d6 153.5px,#00008f 169.5px)"></i>
<i style="left:180px;top:333px;width:170px;height:3px;background:linear-gradient(90deg,#00008f 0.5px,#000094 1.5px,#0000f7 11.5px,#000dff 12.5px,#06f 16.5px,#00f5ff 21.5px,#13ffec 22.5px,#4affb5 24.5px,#a9ff56 29.5px,#fffe00 35.5px,#ffb700 42.5px,#ff7300 51.5px,#ff6d00 54.5px,#ff7c00 82.5px,#ff8f00 86.5px,#ffc100 93.5px,#fff800 99.5px,#fdff02 100.5px,#cbff34 105.5px,#00fcff 121.5px,#00caff 125.5px,#007bff 133.5px,#0060ff 137.5px,#0000fe 147.5px,#0000d2 153.5px,#00008f 169.5px)"></i>
<i style="left:180px;top:336px;width:170px;height:3px;background:linear-gradient(90deg,#00008f 0.5px,#000094 1.5px,#0000fe 11.5px,#006dff 16.5px,#00fbff 21.5px,#18ffe7 22.5px,#4fffb0 24.5px,#aeff51 29.5px,#f8ff07 34.5px,#fff800 35.5px,#ffb300 42.5px,#ff6f00 51.5px,#ff6a00 54.5px,#ff7f00 82.5px,#ff9100 86.5px,#ffc400 93.5px,#fffb00 99.5px,#c8ff37 105.5px,#06fff9 120.5px,#00f8ff 121.5px,#00c5ff 125.5px,#0074ff 133.5px,#0059ff 137.5px,#0003ff 146.5px,#0000e6 149.5px,#0000ce 153.5px,#00008f 169.5px)"></i>
<i style="left:180px;top:339px;width:170px;height:3px;background:linear-gradient(90deg,#00008f 0.5px,#000094 1.5px,#0000fa 10.5px,#0006ff 11.5px,#0074ff 16.5px,#01fffe 21.5px,#1dffe2 22.5px,#53ffac 24.5px,#b3ff4c 29.5px,#fdff02 34.5px,#ffae00 42.5px,#ff6b00 51.5px,#ff6700 54.5px,#ff7900 69.5px,#ff8100 82.5px,#ff9300 86.5px,#ffc700 93.5px,#fffe00 99.5px,#b9ff46 106.5px,#02fffd 120.5px,#00f4ff 121.5px,#00c1ff 125.5px,#006eff 133.5px,#0052ff 137.5px,#0000fc 146.5px,#0000e1 149.5px,#0000ca 153.5px,#00008f 169.5px)"></i>
<i style="left:180px;top:342px;width:170px;height:3px;background:linear-gradient(90deg,#00008f 0.5px,#000095 1.5px,#0000f6 9.5px,#0002ff 10.5px,#000eff 11.5px,#007bff 16.5px,#00e9ff 20.5px,#06fff9 21.5px,#57ffa8 24.5px,#b9ff46 29.5px,#fffc00 34.5px,#ffe300 36.5px,#fa0 42.5px,#ff6700 51.5px,#ff6400 53.5px,#ff8300 82.5px,#ff9500 86.5px,#ffca00 93.5px,#fff800 98.5px,#fdff02 99.5px,#b6ff49 106.5px,#00feff 120.5px,#00bdff 125.5px,#0067ff 133.5px,#004cff 137.5px,#0001ff 145.5px,#0000dc 149.5px,#0000c7 153.5px,#00008f 169.5px)"></i>
<i style="left:180px;top:345px;width:170px;height:3px;background:linear-gradient(90deg,#00008f 0.5px,#000095 1.5px,#0000fc 9.5px,#0015ff 11.5px,#0082ff 16.5px,#0ef 20.5px,#0bfff4 21.5px,#5bffa4 24.5px,#beff41 29.5px,#faff05 33.5px,#fff600 34.5px,#fd0 36.5px,#ffa600 42.5px,#ff6300 51.5px,#ff6100 53.5px,#ff7900 69.5px,#ff8500 82.5px,#ff9700 86.5px,#ffcd00 93.5px,#fffb00 98.5px,#b3ff4c 106.5px,#08fff7 119.5px,#00faff 120.5px,#00b9ff 125.5px,#0061ff 133.5px,#0045ff 137.5px,#0004ff 144.5px,#0000d6 149.5px,#0000c3 153.5px,#00008f 169.5px)"></i>
<i style="left:180px;top:348px;width:170px;height:3px;background:linear-gradient(90deg,#00008f 0.5px,#000095 1.5px,#0003ff 9.5px,#001cff 11.5px,#0031ff 12.5px,#0089ff 16.5px,#00f4ff 20.5px,#10ffef 21.5px,#5fffa0 24.5px,#c3ff3c 29.5px,#fefe01 33.5px,#ffd800 36.5px,#ffa100 42.5px,#ff5f00 51.5px,#ff5e00 53.5px,#ff7900 69.5px,#ff8700 82.5px,#f90 86.5px,#ffcf00 93.5px,#fffe00 98.5px,#b0ff4f 106.5px,#05fffa 119.5px,#00f6ff 120.5px,#00b4ff 125.5px,#005aff 133.5px,#003eff 137.5px,#0000fd 144.5px,#0000d1 149.5px,#0000bf 153.5px,#00008f 169.5px)"></i>
<i style="left:180px;top:351px;width:170px;height:3px;background:linear-gradient(90deg,#00008f 0.5px,#000095 1.5px,#0000fa 8.5px,#0009ff 9.5px,#0023ff 11.5px,#007aff 15.5px,#00f9ff 20.5px,#15ffea 21.5px,#64ff9b 24.5px,#c8ff37 29.5px,#f6ff09 32.5px,#fffa00 33.5px,#ffd200 36.5px,#ff9d00 42.5px,#ff5b00 51.5px,#ff5a00 53.5px,#ff7900 69.5px,#ff8a00 82.5px,#ff9b00 86.5px,#fff800 97.5px,#fdff02 98.5px,#adff52 106.5px,#01fffe 119.5px,#00b0ff 125.5px,#0054ff 133.5px,#0037ff 137.5px,#0002ff 143.5px,#00c 149.5px,#00b 153.5px,#00008f 169.5px)"></i>
<i style="left:180px;top:354px;width:170px;height:3px;background:linear-gradient(90deg,#00008f 0.5px,#000096 1.5px,#0001ff 8.5px,#002bff 11.5px,#0040ff 12.5px,#0097ff 16.5px,#01fefe 20.5px,#1affe5 21.5px,#68ff97 24.5px,#ceff31 29.5px,#fbff04 32.5px,#fff400 33.5px,#ffcd00 36.5px,#ffa100 41.5px,#ff5600 51.5px,#ff8c00 82.5px,#ff9d00 86.5px,#fffb00 97.5px,#af5 106.5px,#00fdff 119.5px,#00acff 125.5px,#004dff 133.5px,#0004ff 142.5px,#0000c7 149.5px,#0000b7 153.5px,#00008f 169.5px)"></i>
<i style="left:180px;top:357px;width:170px;height:3px;background:linear-gradient(90deg,#00008f 0.5px,#000096 1.5px,#0000e7 6.5px,#0006ff 8.5px,#0032ff 11.5px,#009eff 16.5px,#00eaff 19.5px,#05fffa 20.5px,#6cff93 24.5px,#d3ff2c 29.5px,#fffd00 32.5px,#ffc800 36.5px,#ff9400 42.5px,#ff5200 51.5px,#ff7b00 70.5px,#ff8e00 82.5px,#ff9f00 86.5px,#fffe00 97.5px,#a7ff58 106.5px,#08fff7 118.5px,#00f9ff 119.5px,#00a7ff 125.5px,#0047ff 133.5px,#0000fd 142.5px,#0000c1 149.5px,#00008f 169.5px)"></i>
<i style="left:180px;top:360px;width:169px;height:3px;background:linear-gradient(90deg,#00008f 0.5px,#000096 1.5px,#0000fb 7.5px,#000bff 8.5px,#0039ff 11.5px,#00a5ff 16.5px,#00f0ff 19.5px,#0bfff4 20.5px,#70ff8f 24.5px,#d8ff27 29.5px,#f7ff08 31.5px,#fff800 32.5px,#ffc200 36.5px,#ff9000 42.5px,#ff4e00 51.5px,#ff7b00 70.5px,#ff9000 82.5px,#ff9b00 85.5px,#fff800 96.5px,#fdff02 97.5px,#a4ff5b 106.5px,#04fffb 118.5px,#00f5ff 119.5px,#00a3ff 125.5px,#0040ff 133.5px,#0001ff 141.5px,#0000bc 149.5px,#000091 168.5px)"></i>
<i style="left:180px;top:363px;width:169px;height:3px;background:linear-gradient(90deg,#00008f 0.5px,#000097 1.5px,#0001ff 7.5px,#0041ff 11.5px,#00acff 16.5px,#00f6ff 19.5px,#10ffef 20.5px,#74ff8b 24.5px,#df2 29.5px,#fcff03 31.5px,#ffbd00 36.5px,#ff4a00 51.5px,#ff9d00 85.5px,#fffb00 96.5px,#faff05 97.5px,#a1ff5e 106.5px,#01fffe 118.5px,#003aff 133.5px,#0003ff 140.5px,#0000b7 149.5px,#000091 168.5px)"></i>
<i style="left:180px;top:366px;width:169px;height:3px;background:linear-gradient(90deg,#00008f 0.5px,#000097 1.5px,#0000f3 6.5px,#0005ff 7.5px,#0048ff 11.5px,#00b3ff 16.5px,#00fcff 19.5px,#16ffe9 20.5px,#79ff86 24.5px,#e3ff1c 29.5px,#fffd00 31.5px,#ffb800 36.5px,#ff4600 51.5px,#ff7900 69.5px,#ff9f00 85.5px,#fffe00 96.5px,#9eff61 106.5px,#00fcff 118.5px,#03f 133.5px,#0000fc 140.5px,#0000b2 149.5px,#000091 168.5px)"></i>
<i style="left:180px;top:369px;width:169px;height:3px;background:linear-gradient(90deg,#00008f 0.5px,#000097 1.5px,#0000f7 6.5px,#0009ff 7.5px,#004fff 11.5px,#03fffc 19.5px,#7dff82 24.5px,#e8ff17 29.5px,#fff700 31.5px,#ffb200 36.5px,#ff4200 51.5px,#ff7900 69.5px,#ffa100 85.5px,#fff700 95.5px,#fdff02 96.5px,#9aff65 106.5px,#08fff7 117.5px,#00f9ff 118.5px,#002dff 133.5px,#0000fd 139.5px,#0000ac 149.5px,#000090 168.5px)"></i>
<i style="left:180px;top:372px;width:169px;height:3px;background:linear-gradient(90deg,#00008f 0.5px,#000098 1.5px,#0000fb 6.5px,#0056ff 11.5px,#00efff 18.5px,#09fff6 19.5px,#81ff7e 24.5px,#edff12 29.5px,#fdff02 30.5px,#ffad00 36.5px,#ff3e00 51.5px,#ff7900 69.5px,#ffa300 85.5px,#fffa00 95.5px,#faff05 96.5px,#97ff68 106.5px,#04fffb 117.5px,#00f5ff 118.5px,#0026ff 133.5px,#0001fe 138.5px,#0000a7 149.5px,#000090 168.5px)"></i>
<i style="left:180px;top:375px;width:168px;height:3px;background:linear-gradient(90deg,#00008f 0.5px,#000098 1.5px,#0000fe 6.5px,#005eff 11.5px,#00f5ff 18.5px,#0efff1 19.5px,#85ff7a 24.5px,#f3ff0c 29.5px,#fffc00 30.5px,#ffb100 35.5px,#ffa800 36.5px,#ff3a00 51.5px,#ff7900 69.5px,#ffa500 85.5px,#fffd00 95.5px,#94ff6b 106.5px,#01fffe 117.5px,#0020ff 133.5px,#0002ff 137.5px,#0000a2 149.5px,#000091 167.5px)"></i>
<i style="left:180px;top:378px;width:168px;height:3px;background:linear-gradient(90deg,#00008f 0.5px,#000098 1.5px,#0000ef 5.5px,#0004ff 6.5px,#0065ff 11.5px,#00fcff 18.5px,#14ffeb 19.5px,#f8ff07 29.5px,#fff700 30.5px,#ffac00 35.5px,#ffa200 36.5px,#ff3500 51.5px,#ff7900 69.5px,#ffa700 85.5px,#fff600 94.5px,#feff01 95.5px,#91ff6e 106.5px,#00fdff 117.5px,#0019ff 133.5px,#0003ff 136.5px,#00009d 149.5px,#000090 167.5px)"></i>
<i style="left:180px;top:381px;width:166px;height:3px;background:linear-gradient(90deg,#00008f 0.5px,#000098 1.5px,#0000f2 5.5px,#0008ff 6.5px,#03fffc 18.5px,#fdff02 29.5px,#ffa600 35.5px,#ff9d00 36.5px,#ff3100 51.5px,#ff7900 69.5px,#ffa900 85.5px,#fff900 94.5px,#fbff04 95.5px,#8eff71 106.5px,#09fff6 116.5px,#00f9ff 117.5px,#0013ff 133.5px,#0003ff 135.5px,#000097 149.5px,#000091 165.5px)"></i>
<i style="left:180px;top:384px;width:158px;height:3px;background:linear-gradient(90deg,#00008f 0.5px,#009 1.5px,#0000f5 5.5px,#000cff 6.5px,#00f3ff 17.5px,#09fff6 18.5px,#fffc00 29.5px,#ffa100 35.5px,#ff9700 36.5px,#ff2d00 51.5px,#ff7900 69.5px,#ffab00 85.5px,#fffc00 94.5px,#8bff74 106.5px,#06fff9 116.5px,#00f6ff 117.5px,#000cff 133.5px,#0005ff 134.5px,#0000fc 135.5px,#000092 149.5px,#000091 157.5px)"></i>
<i style="left:179px;top:387px;width:151px;height:6px;background:linear-gradient(90deg,#000091 0.5px,#000091 1.5px,#00009b 2.5px,#0000f9 6.5px,#000fff 7.5px,#00f8ff 18.5px,#0ffff0 19.5px,#f0ff0f 29.5px,#fff700 30.5px,#ff9d00 36.5px,#ff9300 37.5px,#ff2b00 52.5px,#ff7a00 70.5px,#ffae00 86.5px,#fff700 94.5px,#feff01 95.5px,#87ff78 107.5px,#02fffd 117.5px,#0007ff 134.5px,#0000fe 135.5px,#00008f 150.5px)"></i>
<i style="left:177px;top:393px;width:153px;height:6px;background:linear-gradient(90deg,#000091 0.5px,#000094 3.5px,#00009e 4.5px,#0000fc 8.5px,#00fdff 20.5px,#14ffeb 21.5px,#f4ff0b 31.5px,#fff400 32.5px,#ff9a00 38.5px,#ff9000 39.5px,#ff5c00 46.5px,#ff2a00 54.5px,#ff7e00 73.5px,#ffb300 88.5px,#fffb00 96.5px,#83ff7c 109.5px,#00fcff 119.5px,#0003ff 136.5px,#00008f 152.5px)"></i>
<i style="left:176px;top:399px;width:154px;height:6px;background:linear-gradient(90deg,#000090 0.5px,#000098 4.5px,#0000a2 5.5px,#0001ff 9.5px,#03fffc 21.5px,#f8ff07 32.5px,#fff100 33.5px,#ff9700 39.5px,#ff8d00 40.5px,#ff5700 47.5px,#ff2900 55.5px,#ff7f00 74.5px,#ffb800 89.5px,#fff600 96.5px,#feff01 97.5px,#7fff80 110.5px,#06fff9 119.5px,#00f7ff 120.5px,#0000fe 137.5px,#00008f 153.5px)"></i>
<i style="left:176px;top:405px;width:154px;height:6px;background:linear-gradient(90deg,#000090 0.5px,#00009b 4.5px,#0000a6 5.5px,#0004ff 9.5px,#00f2ff 20.5px,#08fff7 21.5px,#fbff04 32.5px,#ff9400 39.5px,#ff8a00 40.5px,#ff5200 47.5px,#ff2800 55.5px,#ff8000 74.5px,#ffbc00 89.5px,#fffb00 96.5px,#faff05 97.5px,#7aff85 110.5px,#02fffd 119.5px,#005eff 130.5px,#0009ff 136.5px,#0000fa 137.5px,#0000e1 140.5px,#00008f 153.5px)"></i>
<i style="left:176px;top:411px;width:154px;height:6px;background:linear-gradient(90deg,#000090 0.5px,#00009e 4.5px,#0000a9 5.5px,#0000ef 8.5px,#0007ff 9.5px,#00f6ff 20.5px,#0dfff2 21.5px,#ff0 32.5px,#ffdb00 34.5px,#ff8700 40.5px,#ff4e00 47.5px,#ff2700 55.5px,#ff8100 74.5px,#ffc100 89.5px,#fff600 95.5px,#feff01 96.5px,#f5ff0a 97.5px,#76ff89 110.5px,#00fcff 119.5px,#0067ff 129.5px,#0005ff 136.5px,#00d 140.5px,#00008f 153.5px)"></i>
<i style="left:176px;top:417px;width:154px;height:6px;background:linear-gradient(90deg,#000090 0.5px,#0000a2 4.5px,#0000ad 5.5px,#0000f2 8.5px,#000bff 9.5px,#00fbff 20.5px,#12ffed 21.5px,#afff50 28.5px,#fffb00 32.5px,#ffd700 34.5px,#ff8400 40.5px,#ff4900 47.5px,#ff2600 55.5px,#ffc500 89.5px,#fffb00 95.5px,#f1ff0e 97.5px,#71ff8e 110.5px,#07fff8 118.5px,#00f7ff 119.5px,#0061ff 129.5px,#0001ff 136.5px,#0000d8 140.5px,#00008f 153.5px)"></i>
<i style="left:176px;top:423px;width:154px;height:6px;background:linear-gradient(90deg,#000090 0.5px,#0000a5 4.5px,#0000b1 5.5px,#0000f6 8.5px,#000eff 9.5px,#00eaff 19.5px,#01fffe 20.5px,#17ffe8 21.5px,#b4ff4b 28.5px,#f2ff0d 31.5px,#fff800 32.5px,#ffd400 34.5px,#ff8100 40.5px,#f40 47.5px,#ff2500 55.5px,#ffca00 89.5px,#fff600 94.5px,#fefe01 95.5px,#f6ff09 96.5px,#6dff92 110.5px,#02fffd 118.5px,#005cff 129.5px,#0000fc 136.5px,#0000d4 140.5px,#00008f 153.5px)"></i>
<i style="left:176px;top:429px;width:154px;height:6px;background:linear-gradient(90deg,#000090 0.5px,#0000a8 4.5px,#0000b5 5.5px,#0000f9 8.5px,#0012ff 9.5px,#00efff 19.5px,#06fff9 20.5px,#b9ff46 28.5px,#f6ff09 31.5px,#fff400 32.5px,#ffc200 35.5px,#ff7e00 40.5px,#ff3f00 47.5px,#ff2400 55.5px,#ffce00 89.5px,#fffa00 94.5px,#dfff20 98.5px,#69ff96 110.5px,#00fdff 118.5px,#0056ff 129.5px,#0006ff 135.5px,#0000f7 136.5px,#0000d0 140.5px,#00008f 153.5px)"></i>
<i style="left:176px;top:435px;width:154px;height:6px;background:linear-gradient(90deg,#000090 0.5px,#0000ac 4.5px,#0000b8 5.5px,#0000fc 8.5px,#00f4ff 19.5px,#0bfff4 20.5px,#beff41 28.5px,#faff05 31.5px,#fff000 32.5px,#fd0 33.5px,#ff8600 39.5px,#ff3a00 47.5px,#ff2300 55.5px,#ffd300 89.5px,#fff600 93.5px,#fefe01 94.5px,#f6ff09 95.5px,#64ff9b 110.5px,#41ffbe 113.5px,#08fff7 117.5px,#00f8ff 118.5px,#0051ff 129.5px,#0002ff 135.5px,#0000e6 137.5px,#0000cb 140.5px,#00008f 153.5px)"></i>
<i style="left:176px;top:441px;width:154px;height:6px;background:linear-gradient(90deg,#000090 0.5px,#0000af 4.5px,#0000bc 5.5px,#0001ff 8.5px,#00f9ff 19.5px,#0ffff0 20.5px,#c3ff3c 28.5px,#feff01 31.5px,#ffd900 33.5px,#ff8300 39.5px,#ff3500 47.5px,#f20 55.5px,#ffd800 89.5px,#fffa00 93.5px,#d6ff29 98.5px,#60ff9f 110.5px,#3dffc2 113.5px,#03fffc 117.5px,#00f4ff 118.5px,#004cff 129.5px,#0000fc 135.5px,#0000e2 137.5px,#0000c7 140.5px,#00008f 153.5px)"></i>
<i style="left:176px;top:447px;width:154px;height:6px;background:linear-gradient(90deg,#000090 0.5px,#0000c0 5.5px,#0004ff 8.5px,#00fdff 19.5px,#14ffeb 20.5px,#c8ff37 28.5px,#fffc00 31.5px,#ffd600 33.5px,#ff8000 39.5px,#ff3000 47.5px,#ff2100 55.5px,#ff7400 71.5px,#ffcb00 86.5px,#ffdc00 89.5px,#fff600 92.5px,#f6ff09 94.5px,#5cffa3 110.5px,#39ffc6 113.5px,#00feff 117.5px,#0046ff 129.5px,#0006ff 134.5px,#0000f8 135.5px,#0000de 137.5px,#0000c2 140.5px,#00008f 153.5px)"></i>
<i style="left:176px;top:453px;width:154px;height:6px;background:linear-gradient(90deg,#000090 0.5px,#0000c3 5.5px,#0000ef 7.5px,#0008ff 8.5px,#03fffc 19.5px,#cdff32 28.5px,#f4ff0b 30.5px,#fff800 31.5px,#ffd200 33.5px,#ff7d00 39.5px,#ff2c00 47.5px,#ff2000 54.5px,#ff2000 55.5px,#ff7500 71.5px,#ffe100 89.5px,#fffb00 92.5px,#cdff32 98.5px,#57ffa8 110.5px,#35ffca 113.5px,#09fff6 116.5px,#00f9ff 117.5px,#0041ff 129.5px,#0001ff 134.5px,#0000da 137.5px,#0000be 140.5px,#00008f 153.5px)"></i>
<i style="left:176px;top:459px;width:154px;height:6px;background:linear-gradient(90deg,#000090 0.5px,#0000b9 4.5px,#0000c7 5.5px,#0000f2 7.5px,#000bff 8.5px,#00f1ff 18.5px,#08fff7 19.5px,#d3ff2c 28.5px,#f8ff07 30.5px,#fff400 31.5px,#ffcf00 33.5px,#ff7a00 39.5px,#ff2700 47.5px,#ff1f00 54.5px,#ff1f00 55.5px,#ff7500 71.5px,#fff600 91.5px,#feff01 92.5px,#acff53 101.5px,#48ffb7 111.5px,#05fffa 116.5px,#00f5ff 117.5px,#003cff 129.5px,#0000fc 134.5px,#0000d6 137.5px,#0000b9 140.5px,#00008f 153.5px)"></i>
<i style="left:176px;top:465px;width:154px;height:6px;background:linear-gradient(90deg,#000091 0.5px,#0000bc 4.5px,#0000cb 5.5px,#0000f6 7.5px,#000eff 8.5px,#00f5ff 18.5px,#0cfff3 19.5px,#d8ff27 28.5px,#fcff03 30.5px,#ffbd00 34.5px,#ff7800 39.5px,#f20 47.5px,#ff1d00 53.5px,#ff1e00 55.5px,#ff7600 71.5px,#fffb00 91.5px,#b1ff4e 100.5px,#4effb1 110.5px,#2dffd2 113.5px,#01fffe 116.5px,#0036ff 129.5px,#0004ff 133.5px,#0000b5 140.5px,#00008f 153.5px)"></i>
<i style="left:176px;top:471px;width:154px;height:6px;background:linear-gradient(90deg,#000091 0.5px,#0000ce 5.5px,#0000f9 7.5px,#0012ff 8.5px,#00faff 18.5px,#1fe 19.5px,#df2 28.5px,#fffd00 30.5px,#ffc800 33.5px,#ff7500 39.5px,#ff1d00 47.5px,#ff1b00 53.5px,#ff1d00 55.5px,#ff7600 71.5px,#fff600 90.5px,#feff01 91.5px,#a4ff5b 101.5px,#3fffc0 111.5px,#00fcff 116.5px,#0031ff 129.5px,#0000fe 133.5px,#0000b0 140.5px,#00008f 153.5px)"></i>
<i style="left:176px;top:477px;width:154px;height:6px;background:linear-gradient(90deg,#000091 0.5px,#0000d2 5.5px,#0000fc 7.5px,#00feff 18.5px,#16ffe9 19.5px,#e2ff1d 28.5px,#fff900 30.5px,#ffb600 34.5px,#ff7200 39.5px,#ff1800 47.5px,#ff1700 48.5px,#ff1c00 55.5px,#ff7600 71.5px,#fffb00 90.5px,#9fff60 101.5px,#3bffc4 111.5px,#08fff7 115.5px,#00f7ff 116.5px,#002cff 129.5px,#0000fa 133.5px,#0000ac 140.5px,#00008f 153.5px)"></i>
<i style="left:176px;top:483px;width:153px;height:6px;background:linear-gradient(90deg,#000091 0.5px,#0000d6 5.5px,#0001ff 7.5px,#00edff 17.5px,#04fffb 18.5px,#e7ff18 28.5px,#f9ff06 29.5px,#fff400 30.5px,#ffb300 34.5px,#ff6f00 39.5px,#ff1300 47.5px,#ff1300 48.5px,#ff1b00 55.5px,#f70 71.5px,#fff800 89.5px,#feff01 90.5px,#9bff64 101.5px,#21ffde 113.5px,#04fffb 115.5px,#00f3ff 116.5px,#0026ff 129.5px,#0002ff 132.5px,#0000a8 140.5px,#000091 152.5px)"></i>
<i style="left:176px;top:489px;width:153px;height:6px;background:linear-gradient(90deg,#000091 0.5px,#0000c9 4.5px,#0004ff 7.5px,#00f1ff 17.5px,#09fff6 18.5px,#ecff13 28.5px,#fdff02 29.5px,#ffaf00 34.5px,#ff6c00 39.5px,#ff0e00 47.5px,#ff0e00 48.5px,#ff1a00 55.5px,#f70 71.5px,#fffc00 89.5px,#97ff68 101.5px,#1dffe2 113.5px,#00feff 115.5px,#0021ff 129.5px,#0000fc 132.5px,#0000a3 140.5px,#000090 152.5px)"></i>
<i style="left:176px;top:495px;width:153px;height:6px;background:linear-gradient(90deg,#000091 0.5px,#0000f0 6.5px,#0008ff 7.5px,#00f6ff 17.5px,#0efff1 18.5px,#f1ff0e 28.5px,#fffc00 29.5px,#ff9e00 35.5px,#ff0a00 47.5px,#ff1900 55.5px,#f70 71.5px,#fff900 88.5px,#fdff02 89.5px,#92ff6d 101.5px,#2effd1 111.5px,#00faff 115.5px,#001cff 129.5px,#0004ff 131.5px,#00009f 140.5px,#000090 152.5px)"></i>
<i style="left:175px;top:501px;width:153px;height:6px;background:linear-gradient(90deg,#00008f 0.5px,#000091 1.5px,#0000f3 7.5px,#000bff 8.5px,#00faff 18.5px,#12ffed 19.5px,#f6ff09 29.5px,#fff700 30.5px,#ff9a00 36.5px,#ff0500 48.5px,#ff1400 55.5px,#ff7800 72.5px,#fffd00 89.5px,#8eff71 102.5px,#07fff8 115.5px,#00f6ff 116.5px,#0016ff 130.5px,#0000fe 132.5px,#00009a 141.5px,#000091 152.5px)"></i>
<i style="left:175px;top:507px;width:152px;height:6px;background:linear-gradient(90deg,#00008f 0.5px,#000091 1.5px,#0000f6 7.5px,#000eff 8.5px,#00feff 18.5px,#17ffe8 19.5px,#fbff04 29.5px,#ff9700 36.5px,#fe0100 48.5px,#ff1200 55.5px,#ff7800 72.5px,#fff900 88.5px,#fdff02 89.5px,#8aff75 102.5px,#03fffc 115.5px,#00f2ff 116.5px,#01f 130.5px,#0005ff 131.5px,#0000f9 132.5px,#000096 141.5px,#000091 151.5px)"></i>
<i style="left:175px;top:513px;width:143px;height:6px;background:linear-gradient(90deg,#000090 0.5px,#000091 1.5px,#0000fa 7.5px,#0012ff 8.5px,#04fffb 18.5px,#fffe00 29.5px,#ff9400 36.5px,#ff0800 47.5px,#fa0000 48.5px,#fe0000 50.5px,#ff1000 55.5px,#ff7800 72.5px,#fffd00 88.5px,#85ff7a 102.5px,#00feff 115.5px,#000cff 130.5px,#0001ff 131.5px,#000092 141.5px,#000090 142.5px)"></i>
<i style="left:170px;top:519px;width:147px;height:6px;background:linear-gradient(90deg,#000091 0.5px,#000096 6.5px,#0002ff 12.5px,#00f0ff 22.5px,#09fff6 23.5px,#fffb00 34.5px,#ff7500 43.5px,#ff0400 52.5px,#f60000 53.5px,#fe0000 56.5px,#ff0e00 60.5px,#ff7900 77.5px,#fffe00 93.5px,#83ff7c 107.5px,#00fbff 120.5px,#0009ff 135.5px,#0000fd 136.5px,#000090 146.5px)"></i>
<i style="left:169px;top:525px;width:148px;height:6px;background:linear-gradient(90deg,#000091 0.5px,#00009c 7.5px,#0000f5 12.5px,#0008ff 13.5px,#00f5ff 23.5px,#0efff1 24.5px,#efff10 34.5px,#fff900 35.5px,#ff9a00 41.5px,#ff6200 45.5px,#ff0100 53.5px,#f30000 54.5px,#ff0300 59.5px,#ff2400 65.5px,#ff8100 79.5px,#ff0 94.5px,#81ff7e 108.5px,#08fff7 120.5px,#00f9ff 121.5px,#0007ff 136.5px,#0000fb 137.5px,#000090 147.5px)"></i>
<i style="left:168px;top:531px;width:149px;height:6px;background:linear-gradient(90deg,#00008f 0.5px,#0000a2 8.5px,#0000fc 13.5px,#0026ff 15.5px,#00fbff 24.5px,#13ffec 25.5px,#f2ff0d 35.5px,#fff600 36.5px,#ff5c00 46.5px,#fc0000 54.5px,#f00000 55.5px,#f00 60.5px,#ff0900 62.5px,#ff8200 80.5px,#fff700 94.5px,#feff01 95.5px,#89ff76 108.5px,#06fff9 121.5px,#00f6ff 122.5px,#0005ff 137.5px,#0000f9 138.5px,#000090 148.5px)"></i>
<i style="left:168px;top:537px;width:149px;height:6px;background:linear-gradient(90deg,#00008f 0.5px,#0000a7 8.5px,#0004ff 13.5px,#002cff 15.5px,#01fffe 24.5px,#18ffe7 25.5px,#f5ff0a 35.5px,#fff400 36.5px,#ff5600 46.5px,#ff0500 53.5px,#f80000 54.5px,#ec0000 55.5px,#ec0000 56.5px,#fc0000 60.5px,#ff0600 62.5px,#ff8300 80.5px,#fff800 94.5px,#fdff02 95.5px,#7eff81 109.5px,#03fffc 121.5px,#00f3ff 122.5px,#0003ff 137.5px,#000090 148.5px)"></i>
<i style="left:168px;top:543px;width:149px;height:6px;background:linear-gradient(90deg,#00008f 0.5px,#0000ad 8.5px,#0000f7 12.5px,#000aff 13.5px,#03f 15.5px,#0ef 23.5px,#06fff9 24.5px,#f8ff07 35.5px,#fff100 36.5px,#ff5000 46.5px,#ff0100 53.5px,#f40000 54.5px,#e90000 55.5px,#e90000 56.5px,#ff0400 62.5px,#ff8400 80.5px,#fff800 94.5px,#fdff02 95.5px,#7dff82 109.5px,#01fffe 121.5px,#0002ff 137.5px,#0000a9 145.5px,#000090 148.5px)"></i>
<i style="left:168px;top:549px;width:149px;height:6px;background:linear-gradient(90deg,#00008f 0.5px,#0000b3 8.5px,#0000fd 12.5px,#0024ff 14.5px,#00f3ff 23.5px,#0bfff4 24.5px,#fbff04 35.5px,#ff4b00 46.5px,#fc0000 53.5px,#e60000 55.5px,#e50000 56.5px,#ff0100 62.5px,#ff8500 80.5px,#fff900 94.5px,#fcff03 95.5px,#7bff84 109.5px,#00fdff 121.5px,#002cff 134.5px,#00f 137.5px,#0000a7 145.5px,#000090 148.5px)"></i>
<i style="left:168px;top:555px;width:149px;height:6px;background:linear-gradient(90deg,#00008f 0.5px,#0000b9 8.5px,#0005ff 12.5px,#002bff 14.5px,#00f8ff 23.5px,#10ffef 24.5px,#feff01 35.5px,#ff4500 46.5px,#ff0400 52.5px,#f80000 53.5px,#e20000 55.5px,#e10000 56.5px,#fe0000 62.5px,#ff0500 63.5px,#ff8600 80.5px,#fffa00 94.5px,#fbff04 95.5px,#79ff86 109.5px,#08fff7 120.5px,#00fbff 121.5px,#0029ff 134.5px,#0000fd 137.5px,#0000a5 145.5px,#000090 148.5px)"></i>
<i style="left:168px;top:561px;width:149px;height:6px;background:linear-gradient(90deg,#00008f 0.5px,#0000be 8.5px,#0000f7 11.5px,#000bff 12.5px,#0031ff 14.5px,#00feff 23.5px,#15ffea 24.5px,#d9ff26 33.5px,#fffd00 35.5px,#ff3f00 46.5px,#fe0000 52.5px,#f40000 53.5px,#df0000 55.5px,#d00 56.5px,#ff0300 63.5px,#ff1f00 67.5px,#fffb00 94.5px,#faff05 95.5px,#78ff87 109.5px,#06fff9 120.5px,#00f8ff 121.5px,#0026ff 134.5px,#0000fb 137.5px,#0000a4 145.5px,#000090 148.5px)"></i>
<i style="left:168px;top:567px;width:149px;height:6px;background:linear-gradient(90deg,#00008f 0.5px,#0000c4 8.5px,#0000fe 11.5px,#0038ff 14.5px,#00edff 22.5px,#04fffb 23.5px,#df2 33.5px,#fffb00 35.5px,#ffb900 39.5px,#ff3900 46.5px,#ff0500 51.5px,#fa0000 52.5px,#db0000 55.5px,#d90000 56.5px,#f00 63.5px,#ff1400 66.5px,#fffb00 94.5px,#76ff89 109.5px,#1dffe2 118.5px,#03fffc 120.5px,#00f6ff 121.5px,#0024ff 134.5px,#0008ff 136.5px,#0000f9 137.5px,#0000a2 145.5px,#000090 148.5px)"></i>
<i style="left:168px;top:573px;width:149px;height:6px;background:linear-gradient(90deg,#00008f 0.5px,#0000ca 8.5px,#0005ff 11.5px,#003fff 14.5px,#00f3ff 22.5px,#0afff5 23.5px,#e0ff1f 33.5px,#fff800 35.5px,#ffb700 39.5px,#f30 46.5px,#ff0100 51.5px,#f60000 52.5px,#d80000 55.5px,#d60000 56.5px,#ff0500 64.5px,#fffc00 94.5px,#74ff8b 109.5px,#1bffe4 118.5px,#01fffe 120.5px,#00e4ff 122.5px,#0021ff 134.5px,#0006ff 136.5px,#0000f7 137.5px,#0000a0 145.5px,#000090 148.5px)"></i>
<i style="left:168px;top:579px;width:149px;height:6px;background:linear-gradient(90deg,#00008f 0.5px,#0000d0 8.5px,#0000f7 10.5px,#000bff 11.5px,#0046ff 14.5px,#00f8ff 22.5px,#0ffff0 23.5px,#f7ff08 34.5px,#fff500 35.5px,#ffb400 39.5px,#ff2d00 46.5px,#fb0000 51.5px,#d50000 55.5px,#d20000 56.5px,#ff0200 64.5px,#ff7400 77.5px,#fffd00 94.5px,#73ff8c 109.5px,#19ffe6 118.5px,#00feff 120.5px,#001eff 134.5px,#0004ff 136.5px,#00009e 145.5px,#000090 148.5px)"></i>
<i style="left:168px;top:585px;width:149px;height:6px;background:linear-gradient(90deg,#00008f 0.5px,#0000d6 8.5px,#0000fd 10.5px,#004dff 14.5px,#00feff 22.5px,#14ffeb 23.5px,#faff05 34.5px,#ffb200 39.5px,#ff2700 46.5px,#ff0100 50.5px,#f70000 51.5px,#d10000 55.5px,#ce0000 56.5px,#f00 64.5px,#ff1600 67.5px,#ff7400 77.5px,#fffe00 94.5px,#71ff8e 109.5px,#00fcff 120.5px,#001bff 134.5px,#0002ff 136.5px,#00009c 145.5px,#000090 148.5px)"></i>
<i style="left:168px;top:591px;width:149px;height:6px;background:linear-gradient(90deg,#00008f 0.5px,#0000db 8.5px,#0004ff 10.5px,#0054ff 14.5px,#0ef 21.5px,#04fffb 22.5px,#feff01 34.5px,#ffaf00 39.5px,#ff2100 46.5px,#fc0000 50.5px,#ce0000 55.5px,#ca0000 56.5px,#ff0400 65.5px,#ff7500 77.5px,#fffe00 94.5px,#6fff90 109.5px,#09fff6 119.5px,#00faff 120.5px,#0019ff 134.5px,#0000fe 136.5px,#00009b 145.5px,#000090 148.5px)"></i>
<i style="left:168px;top:597px;width:149px;height:6px;background:linear-gradient(90deg,#00008f 0.5px,#0000e1 8.5px,#0000f5 9.5px,#000aff 10.5px,#005bff 14.5px,#00f4ff 21.5px,#0afff5 22.5px,#efff10 33.5px,#fffd00 34.5px,#ffad00 39.5px,#ff1b00 46.5px,#ff0100 49.5px,#f70000 50.5px,#ca0000 55.5px,#c70000 56.5px,#ff0200 65.5px,#ff7600 77.5px,#fff600 93.5px,#ff0 94.5px,#07fff8 119.5px,#00f7ff 120.5px,#0016ff 134.5px,#0000fc 136.5px,#009 145.5px,#000090 148.5px)"></i>
<i style="left:168px;top:603px;width:149px;height:6px;background:linear-gradient(90deg,#00008f 0.5px,#0000e7 8.5px,#0000fb 9.5px,#0062ff 14.5px,#00faff 21.5px,#10ffef 22.5px,#f3ff0c 33.5px,#fffa00 34.5px,#fa0 39.5px,#ff1500 46.5px,#fb0000 49.5px,#c30000 56.5px,#fe0000 65.5px,#ff7600 77.5px,#fff600 93.5px,#feff01 94.5px,#05fffa 119.5px,#00f5ff 120.5px,#0007ff 135.5px,#0000fa 136.5px,#000097 145.5px,#000090 148.5px)"></i>
<i style="left:168px;top:609px;width:149px;height:6px;background:linear-gradient(90deg,#00008f 0.5px,#0000e0 7.5px,#0002ff 9.5px,#01fffe 21.5px,#15ffea 22.5px,#f7ff08 33.5px,#fff600 34.5px,#ffa800 39.5px,#ff0f00 46.5px,#fe0000 48.5px,#f60000 49.5px,#bf0000 56.5px,#ff0400 66.5px,#f70 77.5px,#fff700 93.5px,#fdff02 94.5px,#1fe 118.5px,#03fffc 119.5px,#00f3ff 120.5px,#0021ff 133.5px,#0005ff 135.5px,#0000f8 136.5px,#000095 145.5px,#000090 148.5px)"></i>
<i style="left:168px;top:615px;width:148px;height:6px;background:linear-gradient(90deg,#00008f 0.5px,#0000f3 8.5px,#0008ff 9.5px,#00f0ff 20.5px,#06fff9 21.5px,#faff05 33.5px,#ffa500 39.5px,#ff0a00 46.5px,#f90000 48.5px,#b00 56.5px,#ff0200 66.5px,#ff7800 77.5px,#fff700 93.5px,#fdff02 94.5px,#10ffef 118.5px,#01fffe 119.5px,#000eff 134.5px,#0003ff 135.5px,#000094 145.5px,#000091 147.5px)"></i>
<i style="left:168px;top:621px;width:148px;height:6px;background:linear-gradient(90deg,#00008f 0.5px,#0000f8 8.5px,#000eff 9.5px,#00f6ff 20.5px,#0cfff3 21.5px,#feff01 33.5px,#ffa300 39.5px,#ff1700 45.5px,#ff0400 46.5px,#fb0000 47.5px,#b70000 56.5px,#fe0000 66.5px,#ff7800 77.5px,#fff800 93.5px,#fcff03 94.5px,#00feff 119.5px,#001bff 133.5px,#00f 135.5px,#000092 145.5px,#000090 147.5px)"></i>
<i style="left:168px;top:627px;width:146px;height:6px;background:linear-gradient(90deg,#00008f 0.5px,#0000fe 8.5px,#00fcff 20.5px,#12ffed 21.5px,#fffc00 33.5px,#ffa100 39.5px,#f10 45.5px,#fd0000 46.5px,#b40000 56.5px,#fc0000 66.5px,#ff7900 77.5px,#fff900 93.5px,#fbff04 94.5px,#00fdff 119.5px,#0009ff 134.5px,#0000fd 135.5px,#000090 145.5px)"></i>
<i style="left:168px;top:633px;width:146px;height:6px;background:linear-gradient(90deg,#00008f 0.5px,#0001ff 8.5px,#00feff 20.5px,#14ffeb 21.5px,#fffb00 33.5px,#ffa000 39.5px,#ff0f00 45.5px,#fb0000 46.5px,#b20000 56.5px,#fc0000 66.5px,#ff7900 77.5px,#fff900 93.5px,#fbff04 94.5px,#00fcff 119.5px,#0008ff 134.5px,#0000fc 135.5px,#00008f 145.5px)"></i>
<i style="left:168px;top:639px;width:146px;height:6px;background:linear-gradient(90deg,#00008f 0.5px,#0001ff 8.5px,#00feff 20.5px,#14ffeb 21.5px,#fffb00 33.5px,#ffa000 39.5px,#ff0f00 45.5px,#fb0000 46.5px,#b20000 56.5px,#fc0000 66.5px,#ff7900 77.5px,#fff900 93.5px,#fbff04 94.5px,#00fcff 119.5px,#0008ff 134.5px,#0000fc 135.5px,#00008f 145.5px)"></i>
<i style="left:168px;top:645px;width:146px;height:3px;background:linear-gradient(90deg,#00008f 0.5px,#0001ff 8.5px,#00feff 20.5px,#14ffeb 21.5px,#fffb00 33.5px,#ffa000 39.5px,#ff0f00 45.5px,#fb0000 46.5px,#b20000 56.5px,#fc0000 66.5px,#ff7900 77.5px,#fff900 93.5px,#fbff04 94.5px,#00fcff 119.5px,#0008ff 134.5px,#0000fc 135.5px,#00008f 145.5px)"></i>
</div>
<svg width="1650" height="1726" viewBox="0 0 1650 1726" font-family="Liberation Serif, Times New Roman, serif">
<defs>
<clipPath id="ca"><rect x="147.5" y="10.5" width="628" height="654"/></clipPath>
<clipPath id="cb"><rect x="982.5" y="10.5" width="628" height="654"/></clipPath>
</defs>
<g clip-path="url(#ca)" fill="none" stroke-width="3.2" stroke-linejoin="round">
<path d="M147.5,640.7 152.3,638 159.7,632 166.3,632.4 172.3,630.7 179.7,621.3 185,615.3 191,610 197,600.7 203,590.7 209.7,572 216.3,561.3 219.7,546.7 227.7,516 233.7,489.3 238.3,464 244.3,440 252.6,395.6 261.4,346.4 267.4,312.9 273.3,283.3 279.2,257.7 284.1,245.9 292,224.3 297.9,204.6 303.8,208.5 310.7,210.5 316.6,210.5 322.5,224.3 329.4,236.1 342.2,245.5 348.1,244 354,236.1 364.9,216.4 376.7,192.7 382.6,177 386.5,161.2 391.5,130.7 402.3,130.7 405.2,135.6 416.1,188.8 422,212.4 427.9,254.9 436.7,286.4 441.7,317.9 447.6,355.3 453.5,379 467.3,412.4 485,445.9 494.9,467.6 500,480.7 511,523.1 517,535 523.8,552 529.7,562.2 535.6,575.8 541.6,580.8 549.2,591.9 554.3,591.9 561.1,599.5 567,607.1 573.8,605.4 581.5,609.7 592.5,619 598.4,614.8 605.2,623.3 615.4,627.5 734.2,660.6 741,661.5 775.5,661.5" stroke="#0000f0"/>
<path d="M147.5,662.5 153,659.3 159.7,655.3 166.3,652.7 175.7,650 193,642.7 209,635.3 219.7,626.7 230.3,610.7 243.7,583.3 251,564.7 261,535.3 267.7,517.3 278.3,488.7 283.7,470 295.7,441.3 303.8,423.2 318.6,405.5 337.3,381.8 343.2,372 349.1,356.2 356,334.6 360.9,312.9 366.8,287.3 374.7,259.7 380.6,236.1 384.6,210.5 386.5,190.8 392.4,161.2 396.4,141.5 404.3,129.7 411.2,140.5 419,159.2 431.8,188.8 437.7,206.5 445.6,235.2 453.5,254.9 461.4,269.6 472.2,277.5 486,289.3 493.9,306.1 500.8,335.6 508.6,367.1 513.6,386.8 520.5,414.4 526.4,434.1 538.2,461.7 549,479.4 561.8,493.2 570.7,500.1 586.5,512.9 599.3,520 605.2,526.5 612,529.1 629,543.5 637.5,553.7 647.6,563 661.2,578.3 673.1,592.7 681.6,600.4 695.2,614.8 713.8,633.5 720.6,638.5 737.6,645.3 744.4,647.9 764.7,653 775.5,655" stroke="#e60000" stroke-dasharray="30 20.5"/>
</g>
<g clip-path="url(#cb)" fill="none" stroke-width="3" stroke-linejoin="round">
<path d="M982.5,350.6 987.3,352.2 988,352.5 994.7,355.8 1001.3,355.6 1007.3,356.6 1010.7,359.2 1014.7,362.2 1020,365.8 1026,369 1028,370.9 1032,374.6 1038,380.6 1044,390.6 1044.7,391.8 1051.3,398.2 1054.7,407 1062.7,425.4 1065.3,432.3 1068.7,441.4 1073.3,456.6 1078.7,469.6 1079.3,471 1086,492.5 1087.6,497.6 1096,525.8 1096.4,527.2 1102.4,547.3 1102.7,548.2 1108.3,565 1113.3,578 1114.2,580.4 1118.7,586.9 1119.1,587.5 1127,600.4 1130.7,607.8 1132.9,612.2 1138.8,609.9 1145.7,608.7 1151.6,608.7 1153.6,605.9 1157.5,600.4 1164.4,593.3 1172.3,589.9 1177.2,587.7 1178.2,587.9 1183.1,588.6 1184.1,589.4 1189,593.3 1191,595.5 1195.9,600.8 1199.9,605.2 1201.8,607.4 1209.7,617 1211.7,619.4 1215.6,625.6 1217.6,628.8 1219.6,633.7 1221.5,638.3 1226.5,656.6 1227.4,656.6 1231.4,656.6 1237.3,656.6 1239.3,654.6 1240.2,653.6 1246.2,636.1 1251.1,621.7 1254,614.8 1257,607.6 1262.9,582.1 1266.8,573.7 1271.7,563.2 1272.7,559.4 1276.7,544.3 1280.6,529.4 1282.6,521.8 1288.5,507.6 1296.4,496.1 1302.3,487.6 1307.2,482 1320,467.5 1321,466.1 1328.9,455.8 1329.9,454.4 1335,446.6 1335.8,444.7 1343.6,426.7 1346,421.1 1348.6,418 1352,414 1355.5,408.8 1358.8,403.8 1361.4,401.1 1364.7,397.7 1370.6,389.5 1373.2,388.2 1376.6,386.5 1384,380 1384.2,379.9 1389.3,379.9 1396.1,375.3 1396.8,374.8 1402,370.7 1405.7,371.3 1408.8,371.8 1416.5,369.2 1421.5,366.6 1427.5,363.6 1433.4,366.1 1434.3,365.4 1440.2,361 1447,359.3 1450.4,358.5 1464,356.2 1472.5,354.8 1482.6,353.1 1496.2,350.8 1508.1,348.9 1516.6,347.4 1530.2,345.2 1548.8,342.1 1555.6,340.9 1569.2,338.6 1572.6,338.4 1576,338.1 1579.4,338.1 1599.7,338.1 1610.5,338.1" stroke="#0072bd"/>
<path d="M982.5,349.3 987.3,350.6 988,350.8 994.7,353.5 1001.3,353.2 1007.3,354 1010.7,356.3 1014.7,358.9 1020,362 1026,364.7 1028,366.3 1032,369.6 1038,374.8 1044,383.7 1044.7,384.7 1051.3,390.2 1054.7,397.9 1062.7,413.7 1065.3,419.7 1068.7,427.5 1073.3,440.6 1078.7,451.6 1079.3,452.8 1086,471.1 1087.6,475.5 1096,499.4 1096.4,500.5 1102.4,517.6 1102.7,518.4 1108.3,532.6 1113.3,543.6 1114.2,545.5 1118.7,550.4 1119.1,550.9 1127,561.4 1130.7,567.5 1132.9,571.2 1138.8,568.3 1145.7,566.7 1151.6,566.3 1153.6,563.6 1157.5,558.4 1164.4,551.5 1172.3,547.8 1177.2,545.3 1178.2,545.4 1183.1,545.3 1184.1,545.8 1189,548.5 1191,550 1195.9,553.5 1199.9,556.4 1201.8,557.9 1209.7,564.9 1211.7,566.5 1215.6,571.2 1217.6,573.3 1219.6,576.9 1221.5,579.9 1226.5,594.9 1227.4,594.6 1231.4,593.4 1237.3,592.9 1239.3,590.9 1240.2,590.1 1246.2,574.9 1251.1,562.7 1254,556.8 1257,550.8 1262.9,528.6 1266.8,521.6 1271.7,513.1 1272.7,509.8 1276.7,497.1 1280.6,484.6 1282.6,478 1288.5,466.1 1296.4,456.7 1302.3,449.2 1307.2,444.4 1320,432 1321,430.9 1328.9,422.5 1329.9,421.6 1335,415.9 1335.8,414.4 1343.6,400 1346,395.6 1348.6,393.4 1352,390.6 1355.5,386.7 1358.8,382.9 1361.4,381 1364.7,378.4 1370.6,371.9 1373.2,371.1 1376.6,369.9 1384,364.8 1384.2,364.7 1389.3,365 1396.1,361.3 1396.8,360.9 1402,357.5 1405.7,358.2 1408.8,358.7 1416.5,356.8 1421.5,354.8 1427.5,352.2 1433.4,354.7 1434.3,354.1 1440.2,350.5 1447,349.2 1450.4,348.6 1464,347.2 1472.5,346.5 1482.6,345.6 1496.2,344.5 1508.1,343.5 1516.6,342.7 1530.2,341.5 1548.8,339.9 1555.6,339.1 1569.2,337.4 1572.6,337.3 1576,337.1 1579.4,337.2 1599.7,337.5 1610.5,337.6" stroke="#d95319"/>
<path d="M982.5,348 987.3,348.9 988,349.1 994.7,351.3 1001.3,350.8 1007.3,351.4 1010.7,353.3 1014.7,355.6 1020,358.2 1026,360.4 1028,361.8 1032,364.6 1038,369 1044,376.7 1044.7,377.6 1051.3,382.1 1054.7,388.8 1062.7,402.1 1065.3,407.2 1068.7,413.6 1073.3,424.6 1078.7,433.6 1079.3,434.6 1086,449.8 1087.6,453.3 1096,472.9 1096.4,473.8 1102.4,488 1102.7,488.6 1108.3,500.3 1113.3,509.1 1114.2,510.6 1118.7,513.9 1119.1,514.3 1127,522.4 1130.7,527.2 1132.9,530.2 1138.8,526.7 1145.7,524.8 1151.6,523.9 1153.6,521.4 1157.5,516.4 1164.4,509.7 1172.3,505.7 1177.2,503 1178.2,502.9 1183.1,501.9 1184.1,502.3 1189,503.6 1191,504.6 1195.9,506.2 1199.9,507.6 1201.8,508.4 1209.7,512.7 1211.7,513.7 1215.6,516.8 1217.6,517.8 1219.6,520.2 1221.5,521.5 1226.5,533.1 1227.4,532.6 1231.4,530.2 1237.3,529.2 1239.3,527.2 1240.2,526.6 1246.2,513.7 1251.1,503.6 1254,498.9 1257,494 1262.9,475.2 1266.8,469.6 1271.7,462.9 1272.7,460.3 1276.7,449.9 1280.6,439.8 1282.6,434.3 1288.5,424.7 1296.4,417.3 1302.3,410.9 1307.2,406.9 1320,396.6 1321,395.6 1328.9,389.3 1329.9,388.8 1335,385.1 1335.8,384.1 1343.6,373.4 1346,370.1 1348.6,368.9 1352,367.2 1355.5,364.7 1358.8,362.1 1361.4,361 1364.7,359.2 1370.6,354.3 1373.2,354 1376.6,353.3 1384,349.6 1384.2,349.4 1389.3,350.1 1396.1,347.3 1396.8,347 1402,344.3 1405.7,345 1408.8,345.7 1416.5,344.4 1421.5,342.9 1427.5,340.8 1433.4,343.2 1434.3,342.8 1440.2,340 1447,339 1450.4,338.6 1464,338.2 1472.5,338.3 1482.6,338.1 1496.2,338.1 1508.1,338.2 1516.6,338 1530.2,337.9 1548.8,337.7 1555.6,337.4 1569.2,336.2 1572.6,336.1 1576,336.1 1579.4,336.2 1599.7,336.8 1610.5,337.1" stroke="#edb120"/>
<path d="M982.5,346.7 987.3,347.3 988,347.5 994.7,349 1001.3,348.4 1007.3,348.8 1010.7,350.4 1014.7,352.3 1020,354.4 1026,356.1 1028,357.3 1032,359.6 1038,363.3 1044,369.8 1044.7,370.5 1051.3,374.1 1054.7,379.7 1062.7,390.4 1065.3,394.6 1068.7,399.7 1073.3,408.6 1078.7,415.7 1079.3,416.4 1086,428.4 1087.6,431.1 1096,446.4 1096.4,447.2 1102.4,458.3 1102.7,458.8 1108.3,467.9 1113.3,474.6 1114.2,475.7 1118.7,477.4 1119.1,477.6 1127,483.3 1130.7,486.9 1132.9,489.1 1138.8,485.1 1145.7,482.8 1151.6,481.5 1153.6,479.1 1157.5,474.4 1164.4,467.9 1172.3,463.6 1177.2,460.6 1178.2,460.5 1183.1,458.6 1184.1,458.7 1189,458.7 1191,459.1 1195.9,458.9 1199.9,458.8 1201.8,458.9 1209.7,460.6 1211.7,460.9 1215.6,462.4 1217.6,462.4 1219.6,463.5 1221.5,463.1 1226.5,471.4 1227.4,470.6 1231.4,467.1 1237.3,465.5 1239.3,463.5 1240.2,463.1 1246.2,452.5 1251.1,444.6 1254,441 1257,437.2 1262.9,421.8 1266.8,417.6 1271.7,412.8 1272.7,410.7 1276.7,402.8 1280.6,394.9 1282.6,390.5 1288.5,383.2 1296.4,377.8 1302.3,372.6 1307.2,369.3 1320,361.1 1321,360.4 1328.9,356.1 1329.9,356 1335,354.4 1335.8,353.7 1343.6,346.8 1346,344.6 1348.6,344.3 1352,343.9 1355.5,342.7 1358.8,341.2 1361.4,340.9 1364.7,339.9 1370.6,336.7 1373.2,336.9 1376.6,336.7 1384,334.3 1384.2,334.2 1389.3,335.2 1396.1,333.4 1396.8,333.1 1402,331 1405.7,331.9 1408.8,332.7 1416.5,332 1421.5,331 1427.5,329.4 1433.4,331.8 1434.3,331.4 1440.2,329.5 1447,328.8 1450.4,328.7 1464,329.2 1472.5,330 1482.6,330.5 1496.2,331.7 1508.1,332.9 1516.6,333.3 1530.2,334.3 1548.8,335.5 1555.6,335.6 1569.2,335 1572.6,335 1576,335.1 1579.4,335.3 1599.7,336.2 1610.5,336.6" stroke="#7e2f8e"/>
<path d="M982.5,345.3 987.3,345.6 988,345.8 994.7,346.8 1001.3,346 1007.3,346.2 1010.7,347.5 1014.7,348.9 1020,350.6 1026,351.9 1028,352.8 1032,354.6 1038,357.5 1044,362.8 1044.7,363.4 1051.3,366 1054.7,370.6 1062.7,378.7 1065.3,382 1068.7,385.8 1073.3,392.6 1078.7,397.7 1079.3,398.2 1086,407 1087.6,409 1096,420 1096.4,420.5 1102.4,428.7 1102.7,429 1108.3,435.5 1113.3,440.1 1114.2,440.8 1118.7,440.9 1119.1,441 1127,444.3 1130.7,446.6 1132.9,448.1 1138.8,443.5 1145.7,440.8 1151.6,439.1 1153.6,436.9 1157.5,432.4 1164.4,426 1172.3,421.5 1177.2,418.3 1178.2,418 1183.1,415.3 1184.1,415.1 1189,413.8 1191,413.6 1195.9,411.6 1199.9,410 1201.8,409.4 1209.7,408.5 1211.7,408 1215.6,408 1217.6,406.9 1219.6,406.7 1221.5,404.8 1226.5,409.7 1227.4,408.6 1231.4,403.9 1237.3,401.8 1239.3,399.9 1240.2,399.7 1246.2,391.4 1251.1,385.6 1254,383.1 1257,380.4 1262.9,368.4 1266.8,365.5 1271.7,362.7 1272.7,361.2 1276.7,355.6 1280.6,350.1 1282.6,346.7 1288.5,341.7 1296.4,338.4 1302.3,334.3 1307.2,331.8 1320,325.7 1321,325.1 1328.9,322.9 1329.9,323.2 1335,323.7 1335.8,323.4 1343.6,320.1 1346,319.1 1348.6,319.7 1352,320.5 1355.5,320.7 1358.8,320.4 1361.4,320.8 1364.7,320.6 1370.6,319.1 1373.2,319.7 1376.6,320.1 1384,319.1 1384.2,319 1389.3,320.3 1396.1,319.4 1396.8,319.2 1402,317.8 1405.7,318.8 1408.8,319.7 1416.5,319.6 1421.5,319.1 1427.5,318.1 1433.4,320.4 1434.3,320.1 1440.2,319 1447,318.6 1450.4,318.8 1464,320.2 1472.5,321.8 1482.6,323 1496.2,325.3 1508.1,327.6 1516.6,328.6 1530.2,330.6 1548.8,333.3 1555.6,333.8 1569.2,333.7 1572.6,333.9 1576,334 1579.4,334.4 1599.7,335.6 1610.5,336.1" stroke="#77ac30"/>
<path d="M982.5,344 987.3,344 988,344.1 994.7,344.5 1001.3,343.6 1007.3,343.6 1010.7,344.6 1014.7,345.6 1020,346.7 1026,347.6 1028,348.2 1032,349.5 1038,351.7 1044,355.9 1044.7,356.3 1051.3,357.9 1054.7,361.5 1062.7,367.1 1065.3,369.4 1068.7,371.8 1073.3,376.6 1078.7,379.8 1079.3,380 1086,385.7 1087.6,386.8 1096,393.5 1096.4,393.8 1102.4,399.1 1102.7,399.3 1108.3,403.2 1113.3,405.6 1114.2,405.9 1118.7,404.4 1119.1,404.4 1127,405.3 1130.7,406.3 1132.9,407 1138.8,401.9 1145.7,398.8 1151.6,396.7 1153.6,394.6 1157.5,390.4 1164.4,384.2 1172.3,379.5 1177.2,375.9 1178.2,375.5 1183.1,372 1184.1,371.6 1189,368.9 1191,368.1 1195.9,364.3 1199.9,361.2 1201.8,359.9 1209.7,356.4 1211.7,355.2 1215.6,353.6 1217.6,351.4 1219.6,350 1221.5,346.4 1226.5,348 1227.4,346.6 1231.4,340.7 1237.3,338.1 1239.3,336.2 1240.2,336.2 1246.2,330.2 1251.1,326.5 1254,325.1 1257,323.6 1262.9,315 1266.8,313.5 1271.7,312.6 1272.7,311.6 1276.7,308.4 1280.6,305.3 1282.6,303 1288.5,300.3 1296.4,298.9 1302.3,296 1307.2,294.2 1320,290.3 1321,289.9 1328.9,289.7 1329.9,290.3 1335,292.9 1335.8,293 1343.6,293.5 1346,293.5 1348.6,295.1 1352,297.1 1355.5,298.7 1358.8,299.5 1361.4,300.8 1364.7,301.4 1370.6,301.4 1373.2,302.6 1376.6,303.4 1384,303.8 1384.2,303.8 1389.3,305.5 1396.1,305.4 1396.8,305.3 1402,304.5 1405.7,305.7 1408.8,306.7 1416.5,307.2 1421.5,307.2 1427.5,306.7 1433.4,308.9 1434.3,308.7 1440.2,308.5 1447,308.4 1450.4,308.8 1464,311.2 1472.5,313.5 1482.6,315.5 1496.2,318.9 1508.1,322.2 1516.6,323.8 1530.2,327 1548.8,331.1 1555.6,332 1569.2,332.5 1572.6,332.8 1576,333 1579.4,333.4 1599.7,334.9 1610.5,335.6" stroke="#4dbeee"/>
<path d="M982.5,342.7 987.3,342.4 988,342.4 994.7,342.2 1001.3,341.2 1007.3,341 1010.7,341.7 1014.7,342.3 1020,342.9 1026,343.3 1028,343.7 1032,344.5 1038,345.9 1044,349 1044.7,349.2 1051.3,349.9 1054.7,352.4 1062.7,355.4 1065.3,356.8 1068.7,357.9 1073.3,360.6 1078.7,361.8 1079.3,361.8 1086,364.3 1087.6,364.7 1096,367 1096.4,367.2 1102.4,369.4 1102.7,369.5 1108.3,370.8 1113.3,371.1 1114.2,371 1118.7,368 1119.1,367.8 1127,366.2 1130.7,366 1132.9,366 1138.8,360.3 1145.7,356.9 1151.6,354.3 1153.6,352.3 1157.5,348.4 1164.4,342.4 1172.3,337.4 1177.2,333.6 1178.2,333.1 1183.1,328.6 1184.1,328 1189,324 1191,322.7 1195.9,317 1199.9,312.5 1201.8,310.4 1209.7,304.3 1211.7,302.4 1215.6,299.2 1217.6,295.9 1219.6,293.2 1221.5,288 1226.5,286.3 1227.4,284.7 1231.4,277.6 1237.3,274.4 1239.3,272.5 1240.2,272.7 1246.2,269 1251.1,267.5 1254,267.2 1257,266.8 1262.9,261.5 1266.8,261.4 1271.7,262.5 1272.7,262.1 1276.7,261.3 1280.6,260.4 1282.6,259.2 1288.5,258.8 1296.4,259.5 1302.3,257.6 1307.2,256.7 1320,254.8 1321,254.6 1328.9,256.5 1329.9,257.5 1335,262.2 1335.8,262.7 1343.6,266.8 1346,268 1348.6,270.5 1352,273.7 1355.5,276.7 1358.8,278.7 1361.4,280.7 1364.7,282.1 1370.6,283.8 1373.2,285.5 1376.6,286.8 1384,288.6 1384.2,288.6 1389.3,290.6 1396.1,291.4 1396.8,291.5 1402,291.3 1405.7,292.6 1408.8,293.6 1416.5,294.9 1421.5,295.3 1427.5,295.3 1433.4,297.5 1434.3,297.4 1440.2,297.9 1447,298.2 1450.4,298.9 1464,302.2 1472.5,305.3 1482.6,307.9 1496.2,312.5 1508.1,316.9 1516.6,319.1 1530.2,323.4 1548.8,328.9 1555.6,330.2 1569.2,331.3 1572.6,331.7 1576,332 1579.4,332.5 1599.7,334.3 1610.5,335" stroke="#a2142f"/>
<path d="M982.5,341.4 987.3,340.7 988,340.7 994.7,340 1001.3,338.8 1007.3,338.4 1010.7,338.8 1014.7,339 1020,339.1 1026,339 1028,339.2 1032,339.5 1038,340.2 1044,342 1044.7,342.1 1051.3,341.8 1054.7,343.3 1062.7,343.8 1065.3,344.2 1068.7,344 1073.3,344.6 1078.7,343.9 1079.3,343.6 1086,342.9 1087.6,342.5 1096,340.6 1096.4,340.5 1102.4,339.8 1102.7,339.7 1108.3,338.4 1113.3,336.7 1114.2,336.1 1118.7,331.5 1119.1,331.2 1127,327.2 1130.7,325.7 1132.9,325 1138.8,318.7 1145.7,314.9 1151.6,311.9 1153.6,310.1 1157.5,306.4 1164.4,300.6 1172.3,295.3 1177.2,291.2 1178.2,290.6 1183.1,285.3 1184.1,284.4 1189,279.2 1191,277.2 1195.9,269.7 1199.9,263.7 1201.8,260.9 1209.7,252.2 1211.7,249.5 1215.6,244.8 1217.6,240.4 1219.6,236.5 1221.5,229.6 1226.5,224.6 1227.4,222.7 1231.4,214.4 1237.3,210.7 1239.3,208.8 1240.2,209.2 1246.2,207.8 1251.1,208.5 1254,209.3 1257,210 1262.9,208.1 1266.8,209.4 1271.7,212.4 1272.7,212.5 1276.7,214.1 1280.6,215.6 1282.6,215.4 1288.5,217.3 1296.4,220.1 1302.3,219.3 1307.2,219.1 1320,219.4 1321,219.3 1328.9,223.3 1329.9,224.7 1335,231.5 1335.8,232.4 1343.6,240.2 1346,242.5 1348.6,245.9 1352,250.4 1355.5,254.7 1358.8,257.8 1361.4,260.7 1364.7,262.9 1370.6,266.2 1373.2,268.4 1376.6,270.2 1384,273.4 1384.2,273.4 1389.3,275.7 1396.1,277.4 1396.8,277.6 1402,278.1 1405.7,279.4 1408.8,280.6 1416.5,282.5 1421.5,283.4 1427.5,283.9 1433.4,286 1434.3,286 1440.2,287.4 1447,288 1450.4,289 1464,293.1 1472.5,297 1482.6,300.4 1496.2,306.1 1508.1,311.6 1516.6,314.4 1530.2,319.8 1548.8,326.7 1555.6,328.4 1569.2,330 1572.6,330.5 1576,331 1579.4,331.5 1599.7,333.7 1610.5,334.5" stroke="#0072bd"/>
<path d="M982.5,340.1 987.3,339.1 988,339 994.7,337.7 1001.3,336.4 1007.3,335.8 1010.7,335.8 1014.7,335.6 1020,335.3 1026,334.7 1028,334.7 1032,334.5 1038,334.4 1044,335.1 1044.7,335 1051.3,333.8 1054.7,334.2 1062.7,332.1 1065.3,331.6 1068.7,330.1 1073.3,328.6 1078.7,325.9 1079.3,325.5 1086,321.6 1087.6,320.3 1096,314.1 1096.4,313.9 1102.4,310.1 1102.7,309.9 1108.3,306.1 1113.3,302.2 1114.2,301.2 1118.7,295 1119.1,294.6 1127,288.2 1130.7,285.4 1132.9,283.9 1138.8,277.1 1145.7,272.9 1151.6,269.5 1153.6,267.8 1157.5,264.4 1164.4,258.7 1172.3,253.2 1177.2,248.9 1178.2,248.1 1183.1,242 1184.1,240.9 1189,234.3 1191,231.7 1195.9,222.4 1199.9,214.9 1201.8,211.4 1209.7,200 1211.7,196.7 1215.6,190.4 1217.6,184.9 1219.6,179.8 1221.5,171.2 1226.5,162.9 1227.4,160.7 1231.4,151.2 1237.3,147 1239.3,145.2 1240.2,145.7 1246.2,146.7 1251.1,149.4 1254,151.4 1257,153.3 1262.9,154.7 1266.8,157.4 1271.7,162.3 1272.7,163 1276.7,166.9 1280.6,170.8 1282.6,171.7 1288.5,175.9 1296.4,180.6 1302.3,181 1307.2,181.6 1320,183.9 1321,184.1 1328.9,190.1 1329.9,191.9 1335,200.8 1335.8,202 1343.6,213.5 1346,217 1348.6,221.3 1352,227 1355.5,232.7 1358.8,237 1361.4,240.6 1364.7,243.6 1370.6,248.6 1373.2,251.3 1376.6,253.6 1384,258.1 1384.2,258.2 1389.3,260.8 1396.1,263.4 1396.8,263.7 1402,264.8 1405.7,266.3 1408.8,267.6 1416.5,270.1 1421.5,271.5 1427.5,272.5 1433.4,274.6 1434.3,274.7 1440.2,276.9 1447,277.8 1450.4,279.1 1464,284.1 1472.5,288.7 1482.6,292.9 1496.2,299.8 1508.1,306.3 1516.6,309.7 1530.2,316.1 1548.8,324.5 1555.6,326.7 1569.2,328.8 1572.6,329.4 1576,330 1579.4,330.6 1599.7,333.1 1610.5,334" stroke="#d95319"/>
<path d="M982.5,338.8 987.3,337.5 988,337.3 994.7,335.4 1001.3,334 1007.3,333.2 1010.7,332.9 1014.7,332.3 1020,331.5 1026,330.4 1028,330.1 1032,329.5 1038,328.6 1044,328.1 1044.7,327.9 1051.3,325.7 1054.7,325.1 1062.7,320.4 1065.3,319 1068.7,316.2 1073.3,312.6 1078.7,307.9 1079.3,307.3 1086,300.2 1087.6,298.2 1096,287.6 1096.4,287.2 1102.4,280.5 1102.7,280.2 1108.3,273.7 1113.3,267.7 1114.2,266.3 1118.7,258.5 1119.1,258 1127,249.1 1130.7,245.1 1132.9,242.9 1138.8,235.5 1145.7,230.9 1151.6,227.1 1153.6,225.6 1157.5,222.3 1164.4,216.9 1172.3,211.2 1177.2,206.5 1178.2,205.7 1183.1,198.7 1184.1,197.3 1189,189.4 1191,186.2 1195.9,175 1199.9,166.1 1201.8,161.9 1209.7,147.9 1211.7,143.9 1215.6,136.1 1217.6,129.5 1219.6,123 1221.5,112.9 1226.5,101.1 1227.4,98.7 1231.4,88.1 1237.3,83.3 1239.3,81.5 1240.2,82.2 1246.2,85.5 1251.1,90.4 1254,93.4 1257,96.5 1262.9,101.3 1266.8,105.3 1271.7,112.2 1272.7,113.4 1276.7,119.8 1280.6,126 1282.6,127.9 1288.5,134.4 1296.4,141.2 1302.3,142.7 1307.2,144 1320,148.5 1321,148.8 1328.9,156.9 1329.9,159 1335,170 1335.8,171.7 1343.6,186.9 1346,191.5 1348.6,196.7 1352,203.6 1355.5,210.7 1358.8,216.1 1361.4,220.5 1364.7,224.4 1370.6,231 1373.2,234.1 1376.6,237 1384,242.9 1384.2,243 1389.3,245.9 1396.1,249.5 1396.8,249.8 1402,251.6 1405.7,253.2 1408.8,254.6 1416.5,257.7 1421.5,259.6 1427.5,261.1 1433.4,263.1 1434.3,263.3 1440.2,266.4 1447,267.6 1450.4,269.1 1464,275.1 1472.5,280.5 1482.6,285.3 1496.2,293.4 1508.1,300.9 1516.6,305 1530.2,312.5 1548.8,322.3 1555.6,324.9 1569.2,327.6 1572.6,328.3 1576,329 1579.4,329.7 1599.7,332.4 1610.5,333.5" stroke="#edb120"/>
<path d="M982.5,337.5 987.3,335.8 988,335.6 994.7,333.2 1001.3,331.6 1007.3,330.6 1010.7,330 1014.7,329 1020,327.6 1026,326.1 1028,325.6 1032,324.5 1038,322.8 1044,321.2 1044.7,320.8 1051.3,317.7 1054.7,316 1062.7,308.8 1065.3,306.4 1068.7,302.2 1073.3,296.6 1078.7,290 1079.3,289.1 1086,278.8 1087.6,276 1096,261.2 1096.4,260.5 1102.4,250.9 1102.7,250.4 1108.3,241.3 1113.3,233.2 1114.2,231.3 1118.7,222 1119.1,221.4 1127,210.1 1130.7,204.8 1132.9,201.8 1138.8,193.9 1145.7,189 1151.6,184.7 1153.6,183.3 1157.5,180.3 1164.4,175.1 1172.3,169.1 1177.2,164.2 1178.2,163.2 1183.1,155.3 1184.1,153.7 1189,144.5 1191,140.8 1195.9,127.7 1199.9,117.3 1201.8,112.4 1209.7,95.8 1211.7,91 1215.6,81.7 1217.6,74 1219.6,66.3 1221.5,54.5 1226.5,39.4 1227.4,36.7 1231.4,24.9 1237.3,19.6 1239.3,17.8 1240.2,18.7 1246.2,24.3 1251.1,31.3 1254,35.5 1257,39.7 1262.9,47.9 1266.8,53.3 1271.7,62.1 1272.7,63.9 1276.7,72.6 1280.6,81.1 1282.6,84.1 1288.5,92.9 1296.4,101.8 1302.3,104.3 1307.2,106.5 1320,113.1 1321,113.6 1328.9,123.7 1329.9,126.2 1335,139.3 1335.8,141.4 1343.6,160.3 1346,165.9 1348.6,172.1 1352,180.2 1355.5,188.6 1358.8,195.3 1361.4,200.5 1364.7,205.1 1370.6,213.4 1373.2,217 1376.6,220.4 1384,227.6 1384.2,227.8 1389.3,231.1 1396.1,235.5 1396.8,235.9 1402,238.3 1405.7,240.1 1408.8,241.6 1416.5,245.3 1421.5,247.7 1427.5,249.7 1433.4,251.7 1434.3,252 1440.2,255.9 1447,257.5 1450.4,259.2 1464,266.1 1472.5,272.2 1482.6,277.8 1496.2,287 1508.1,295.6 1516.6,300.2 1530.2,308.9 1548.8,320.1 1555.6,323.1 1569.2,326.4 1572.6,327.2 1576,328 1579.4,328.7 1599.7,331.8 1610.5,333" stroke="#7e2f8e"/>
</g>
<path d="M147.5,662.5V655.5M147.5,12.5V19.5M304.5,662.5V655.5M304.5,12.5V19.5M461.5,662.5V655.5M461.5,12.5V19.5M618.5,662.5V655.5M618.5,12.5V19.5M775.5,662.5V655.5M775.5,12.5V19.5M147.5,662.5H154.5M775.5,662.5H768.5M147.5,554.2H154.5M775.5,554.2H768.5M147.5,445.8H154.5M775.5,445.8H768.5M147.5,337.5H154.5M775.5,337.5H768.5M147.5,229.2H154.5M775.5,229.2H768.5M147.5,120.8H154.5M775.5,120.8H768.5M147.5,12.5H154.5M775.5,12.5H768.5" stroke="#262626" stroke-width="3" fill="none"/>
<rect x="147.5" y="12.5" width="628" height="650" fill="none" stroke="#262626" stroke-width="3"/>
<path d="M982.5,662.5V655.5M982.5,12.5V19.5M1139.5,662.5V655.5M1139.5,12.5V19.5M1296.5,662.5V655.5M1296.5,12.5V19.5M1453.5,662.5V655.5M1453.5,12.5V19.5M1610.5,662.5V655.5M1610.5,12.5V19.5M982.5,662.5H989.5M1610.5,662.5H1603.5M982.5,337.5H989.5M1610.5,337.5H1603.5M982.5,12.5H989.5M1610.5,12.5H1603.5" stroke="#262626" stroke-width="3" fill="none"/>
<rect x="982.5" y="12.5" width="628" height="650" fill="none" stroke="#262626" stroke-width="3"/>
<path d="M147.5,1560.5V1553.5M147.5,913.5V920.5M461.5,1560.5V1553.5M461.5,913.5V920.5M775.5,1560.5V1553.5M775.5,913.5V920.5M147.5,913.5H154.5M775.5,913.5H768.5M147.5,1075.3H154.5M775.5,1075.3H768.5M147.5,1237H154.5M775.5,1237H768.5M147.5,1398.8H154.5M775.5,1398.8H768.5M147.5,1560.5H154.5M775.5,1560.5H768.5" stroke="#262626" stroke-width="3" fill="none"/>
<rect x="147.5" y="913.5" width="628" height="647" fill="none" stroke="#262626" stroke-width="3"/>
<path d="M982.5,1560.5V1553.5M982.5,913.5V920.5M1122.1,1560.5V1553.5M1122.1,913.5V920.5M1261.6,1560.5V1553.5M1261.6,913.5V920.5M1401.2,1560.5V1553.5M1401.2,913.5V920.5M1540.7,1560.5V1553.5M1540.7,913.5V920.5M982.5,913.5H989.5M1610.5,913.5H1603.5M982.5,1075.3H989.5M1610.5,1075.3H1603.5M982.5,1237H989.5M1610.5,1237H1603.5M982.5,1398.8H989.5M1610.5,1398.8H1603.5M982.5,1560.5H989.5M1610.5,1560.5H1603.5" stroke="#262626" stroke-width="3" fill="none"/>
<rect x="982.5" y="913.5" width="628" height="647" fill="none" stroke="#262626" stroke-width="3"/>
<rect x="461.5" y="25.6" width="354.9" height="105.9" fill="#fff" stroke="#262626" stroke-width="2.8"/>
<path d="M485.7,56H617.7" stroke="#0000f0" stroke-width="3.2"/>
<path d="M486.8,101.4H617" stroke="#e60000" stroke-width="3.2" stroke-dasharray="31 19.5"/>
<g font-size="37.7" fill="#000"><text x="628" y="70.3">Absorption</text><text x="628" y="115.2">Emission</text></g>
<path d="M1476,578.6V414" stroke="#000" stroke-width="3"/>
<path d="M1476.9,379.8L1458.1,430.2L1476.2,416.7L1495,434Z" fill="#000"/>
<text x="1380" y="614" font-size="41" fill="#000">Pump power</text>
<g font-size="41" fill="#262626">
<text transform="translate(147.5,716.9) scale(1,1.1)" text-anchor="middle">1450</text>
<text transform="translate(304.5,716.9) scale(1,1.1)" text-anchor="middle">1500</text>
<text transform="translate(461.5,716.9) scale(1,1.1)" text-anchor="middle">1550</text>
<text transform="translate(618.5,716.9) scale(1,1.1)" text-anchor="middle">1600</text>
<text transform="translate(775.5,716.9) scale(1,1.1)" text-anchor="middle">1650</text>
<text transform="translate(130,679.2) scale(1,1.1)" text-anchor="end">0</text>
<text transform="translate(130,570.9) scale(1,1.1)" text-anchor="end">1</text>
<text transform="translate(130,462.5) scale(1,1.1)" text-anchor="end">2</text>
<text transform="translate(130,354.2) scale(1,1.1)" text-anchor="end">3</text>
<text transform="translate(130,245.9) scale(1,1.1)" text-anchor="end">4</text>
<text transform="translate(130,137.5) scale(1,1.1)" text-anchor="end">5</text>
<text transform="translate(130,29.2) scale(1,1.1)" text-anchor="end">6</text>
<text transform="translate(982.5,716.9) scale(1,1.1)" text-anchor="middle">1450</text>
<text transform="translate(1139.5,716.9) scale(1,1.1)" text-anchor="middle">1500</text>
<text transform="translate(1296.5,716.9) scale(1,1.1)" text-anchor="middle">1550</text>
<text transform="translate(1453.5,716.9) scale(1,1.1)" text-anchor="middle">1600</text>
<text transform="translate(1610.5,716.9) scale(1,1.1)" text-anchor="middle">1650</text>
<text transform="translate(965.5,679.2) scale(1,1.1)" text-anchor="end">-5</text>
<text transform="translate(965.5,354.2) scale(1,1.1)" text-anchor="end">0</text>
<text transform="translate(965.5,29.2) scale(1,1.1)" text-anchor="end">5</text>
<text transform="translate(147.5,1614.9) scale(1,1.1)" text-anchor="middle">-5</text>
<text transform="translate(461.5,1614.9) scale(1,1.1)" text-anchor="middle">0</text>
<text transform="translate(775.5,1614.9) scale(1,1.1)" text-anchor="middle">5</text>
<text transform="translate(130,930.2) scale(1,1.1)" text-anchor="end">0.6</text>
<text transform="translate(130,1092) scale(1,1.1)" text-anchor="end">0.65</text>
<text transform="translate(130,1253.7) scale(1,1.1)" text-anchor="end">0.7</text>
<text transform="translate(130,1415.5) scale(1,1.1)" text-anchor="end">0.75</text>
<text transform="translate(130,1577.2) scale(1,1.1)" text-anchor="end">0.8</text>
<text transform="translate(982.5,1614.9) scale(1,1.1)" text-anchor="middle">1500</text>
<text transform="translate(1122.1,1614.9) scale(1,1.1)" text-anchor="middle">1520</text>
<text transform="translate(1261.6,1614.9) scale(1,1.1)" text-anchor="middle">1540</text>
<text transform="translate(1401.2,1614.9) scale(1,1.1)" text-anchor="middle">1560</text>
<text transform="translate(1540.7,1614.9) scale(1,1.1)" text-anchor="middle">1580</text>
<text transform="translate(965.5,930.2) scale(1,1.1)" text-anchor="end">0.6</text>
<text transform="translate(965.5,1092) scale(1,1.1)" text-anchor="end">0.65</text>
<text transform="translate(965.5,1253.7) scale(1,1.1)" text-anchor="end">0.7</text>
<text transform="translate(965.5,1415.5) scale(1,1.1)" text-anchor="end">0.75</text>
<text transform="translate(965.5,1577.2) scale(1,1.1)" text-anchor="end">0.8</text>
<text x="461.5" y="764.6" text-anchor="middle">Wavelength (nm)</text>
<text x="1296.5" y="764.6" text-anchor="middle">Wavelength (nm)</text>
<text x="461.6" y="1662.5" text-anchor="middle">Time (ps)</text>
<text x="1297" y="1662.6" text-anchor="middle">Wavelength (nm)</text>
<text transform="translate(91.6,337.5) rotate(-90)" text-anchor="middle">Cross section (a.u.)</text>
<text transform="translate(911.7,337.5) rotate(-90)" text-anchor="middle">Gain (a.u.)</text>
</g>
<g font-size="45" fill="#262626" font-family="'STIX Two Math','Latin Modern Math','DejaVu Math TeX Gyre',serif">
<text transform="translate(33.4,1239) rotate(-90) scale(0.93,1.13)" text-anchor="middle">&#x1D4A9;</text>
<text transform="translate(868.8,1239) rotate(-90) scale(0.93,1.13)" text-anchor="middle">&#x1D4A9;</text>
</g>
<g font-size="41" fill="#000">
<text x="468.5" y="796" text-anchor="middle">(a)</text>
<text x="1304.4" y="820" text-anchor="middle">(b)</text>
<text x="464.9" y="1720.6" text-anchor="middle">(c)</text>
<text x="1306.8" y="1718.6" text-anchor="middle">(d)</text>
</g>
</svg>
</body></html>
